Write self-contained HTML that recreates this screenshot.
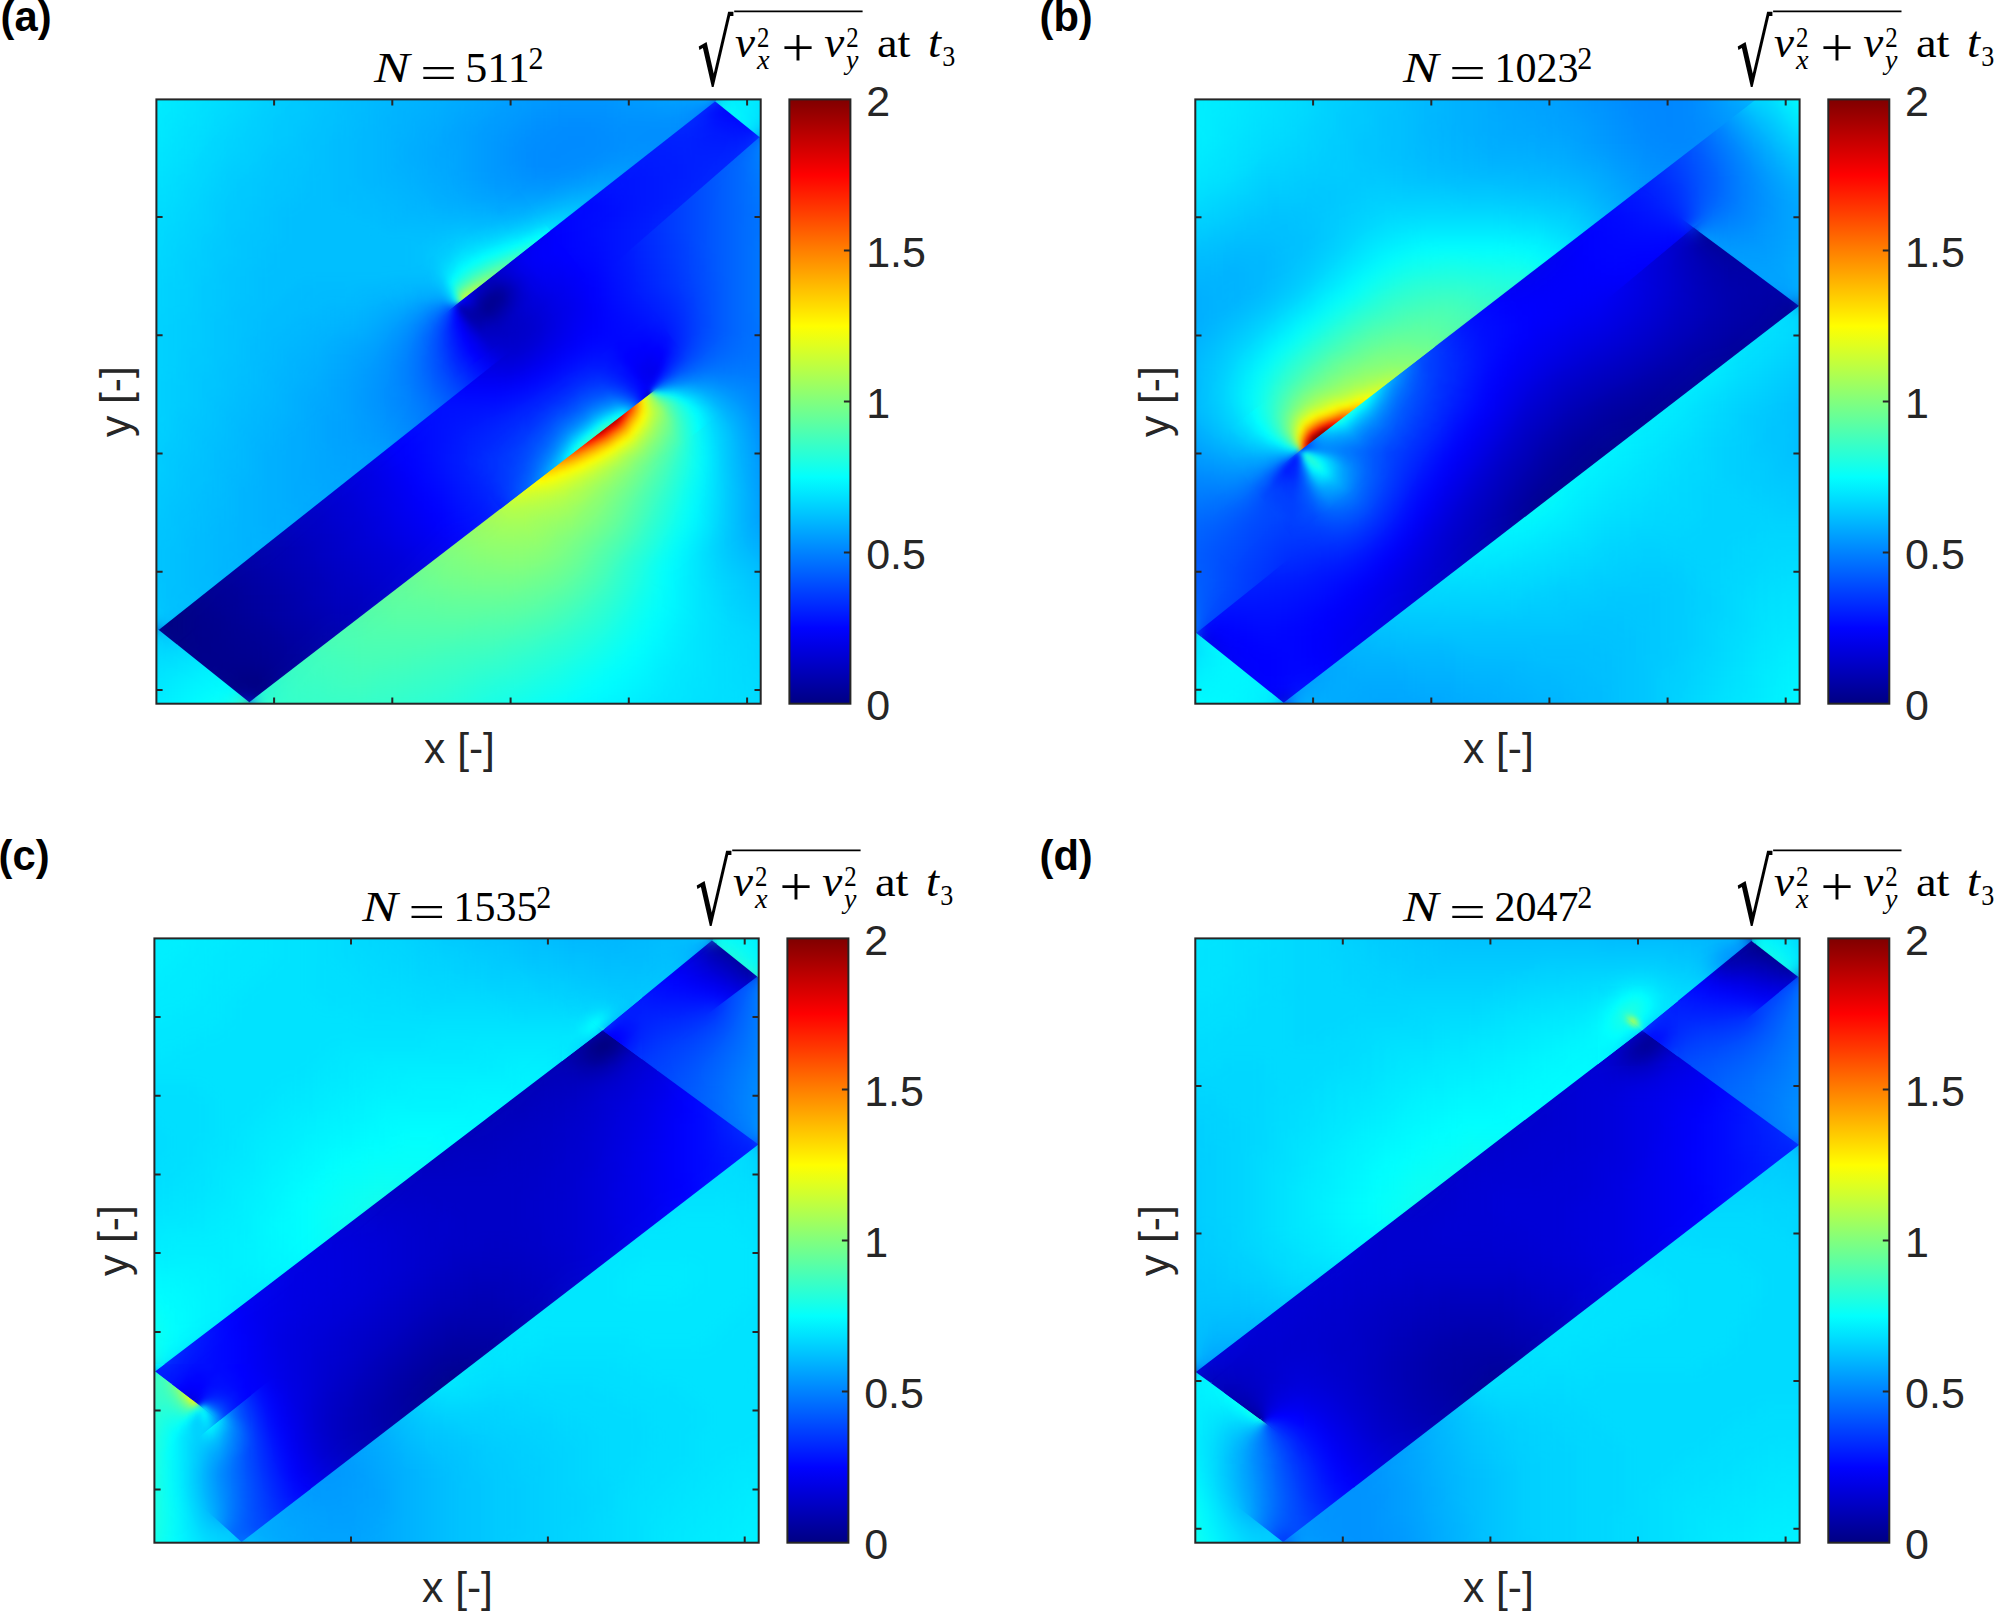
<!DOCTYPE html>
<html><head><meta charset="utf-8"><title>figure</title><style>html,body{margin:0;padding:0;background:#fff}svg{display:block}</style></head><body>
<svg width="1999" height="1611" viewBox="0 0 1999 1611">
<defs>
<filter id="bl24" filterUnits="userSpaceOnUse" x="-80" y="-80" width="765" height="765" color-interpolation-filters="sRGB"><feGaussianBlur stdDeviation="14"/></filter>
<filter id="bl12" filterUnits="userSpaceOnUse" x="-80" y="-80" width="765" height="765" color-interpolation-filters="sRGB"><feGaussianBlur stdDeviation="7.8"/></filter>
<filter id="bl8" filterUnits="userSpaceOnUse" x="-80" y="-80" width="765" height="765" color-interpolation-filters="sRGB"><feGaussianBlur stdDeviation="4.6"/></filter>
<filter id="bl6" filterUnits="userSpaceOnUse" x="-80" y="-80" width="765" height="765" color-interpolation-filters="sRGB"><feGaussianBlur stdDeviation="3.5"/></filter>
<filter id="bl5" filterUnits="userSpaceOnUse" x="-80" y="-80" width="765" height="765" color-interpolation-filters="sRGB"><feGaussianBlur stdDeviation="2.9"/></filter>
<filter id="bl4" filterUnits="userSpaceOnUse" x="-80" y="-80" width="765" height="765" color-interpolation-filters="sRGB"><feGaussianBlur stdDeviation="2.3"/></filter>
<filter id="bl3" filterUnits="userSpaceOnUse" x="-80" y="-80" width="765" height="765" color-interpolation-filters="sRGB"><feGaussianBlur stdDeviation="1.7"/></filter>
<clipPath id="ax"><rect x="0" y="0" width="604.3" height="604.3"/></clipPath>
<linearGradient id="cb" x1="0" y1="0" x2="0" y2="1"><stop offset="0%" stop-color="#800000"/><stop offset="3.1%" stop-color="#9f0000"/><stop offset="6.2%" stop-color="#bf0000"/><stop offset="9.4%" stop-color="#df0000"/><stop offset="12.5%" stop-color="#ff0000"/><stop offset="15.6%" stop-color="#ff1f00"/><stop offset="18.8%" stop-color="#ff3f00"/><stop offset="21.9%" stop-color="#ff5f00"/><stop offset="25%" stop-color="#ff7f00"/><stop offset="28.1%" stop-color="#ff9e00"/><stop offset="31.2%" stop-color="#ffbe00"/><stop offset="34.4%" stop-color="#ffde00"/><stop offset="37.5%" stop-color="#fffe00"/><stop offset="40.6%" stop-color="#e1ff1e"/><stop offset="43.8%" stop-color="#c1ff3e"/><stop offset="46.9%" stop-color="#a1ff5e"/><stop offset="50%" stop-color="#81ff7e"/><stop offset="53.1%" stop-color="#62ff9d"/><stop offset="56.2%" stop-color="#42ffbd"/><stop offset="59.4%" stop-color="#22ffdd"/><stop offset="62.5%" stop-color="#02fffd"/><stop offset="65.6%" stop-color="#00e2ff"/><stop offset="68.8%" stop-color="#00c2ff"/><stop offset="71.9%" stop-color="#00a2ff"/><stop offset="75%" stop-color="#0082ff"/><stop offset="78.1%" stop-color="#0063ff"/><stop offset="81.2%" stop-color="#0043ff"/><stop offset="84.4%" stop-color="#0023ff"/><stop offset="87.5%" stop-color="#0003ff"/><stop offset="90.6%" stop-color="#0000e3"/><stop offset="93.8%" stop-color="#0000c3"/><stop offset="96.9%" stop-color="#0000a3"/><stop offset="100%" stop-color="#000083"/></linearGradient>
<clipPath id="ca0"><polygon points="-2,-2 606.3,-2 606.3,606.3 -2,606.3"/></clipPath>
<clipPath id="ca1"><polygon points="606.3,205.8 606.3,606.3 97.3,606.3 91.8,601.9"/></clipPath>
<clipPath id="ca1p0"><polygon points="343.2,408.4 533.3,261.9 570.3,309.9 380.1,456.4"/></clipPath>
<clipPath id="ca2"><polygon points="94,601.9 88.3,606.3 -2,606.3 -2,563.4 20.8,543.5"/></clipPath>
<clipPath id="ca3"><polygon points="606.3,50 606.3,207.5 92.9,602.8 19.8,544.4 391.9,219.9"/></clipPath>
<clipPath id="ca3p0"><polygon points="534.2,263.1 344,409.5 306.9,361.3 497.1,214.8"/></clipPath>
<clipPath id="ca4"><polygon points="-2,565.3 -2,532.1 2.3,528.7 22,544.4"/></clipPath>
<clipPath id="ca5"><polygon points="1.2,529.6 415.3,201.4 20.9,545.3"/></clipPath>
<clipPath id="ca6"><polygon points="606.3,38.6 606.3,51.8 369.5,239.5 603,35.9"/></clipPath>
<clipPath id="ca7"><polygon points="604.1,36.8 392.8,221 2.3,530.5 -2,527.1 -2,439.4 558.8,0.3"/></clipPath>
<clipPath id="ca7p1"><polygon points="259.2,234.9 393.1,130.1 429.4,176.6 295.5,281.3"/></clipPath>
<clipPath id="ca8"><polygon points="561.8,-2 606.3,-2 606.3,34.9 603,37.7 557.7,1.2"/></clipPath>
<clipPath id="ca9"><polygon points="-2,-2 555.9,-2 559.9,1.2 -2,441.2"/></clipPath>
<clipPath id="ca9p1"><polygon points="393.9,131.2 260.1,236 227.8,194.6 361.7,89.9"/></clipPath>
<clipPath id="cb0"><polygon points="-2,-2 606.3,-2 606.3,606.3 -2,606.3"/></clipPath>
<clipPath id="cb1"><polygon points="606.3,206.7 606.3,606.3 92.1,606.3 87.2,602.4 603.7,204.7"/></clipPath>
<clipPath id="cb2"><polygon points="84.4,606.3 -2,606.3 -2,541.5 5.4,535.3 89.4,602.4"/></clipPath>
<clipPath id="cb3"><polygon points="4.3,536.2 258.2,325.5 502.4,129.4 604.9,205.6 88.3,603.3"/></clipPath>
<clipPath id="cb4"><polygon points="606.3,46 606.3,204.5 603.7,206.5 501.2,130.3"/></clipPath>
<clipPath id="cb5"><polygon points="-2,543.3 -2,534.4 1.1,531.9 6.5,536.2"/></clipPath>
<clipPath id="cb6"><polygon points="0,532.8 325.6,271.4 5.4,537.1"/></clipPath>
<clipPath id="cb7"><polygon points="503.5,130.3 191.7,380.7 498.2,126.3"/></clipPath>
<clipPath id="cb8"><polygon points="606.3,36.6 606.3,47.8 502.4,131.2 497.1,127.2"/></clipPath>
<clipPath id="cb9"><polygon points="445.4,87.1 499.3,127.2 259.1,326.6 1.1,533.7 -2,531.2 -2,431.6"/></clipPath>
<clipPath id="cb9p0"><polygon points="56.7,386.4 239,246 278.6,297.6 96.4,437.9"/></clipPath>
<clipPath id="cb10"><polygon points="-2,-2 325.5,-2 446.6,87.9 -2,433.4"/></clipPath>
<clipPath id="cb10p0"><polygon points="239.8,247.1 57.6,387.5 20.8,339.6 203,199.3"/></clipPath>
<clipPath id="cb11"><polygon points="561.1,-2 606.3,-2 606.3,38.4 498.2,128.1 444.2,88"/></clipPath>
<clipPath id="cb12"><polygon points="323.2,-2 563.4,-2 445.4,88.8"/></clipPath>
<clipPath id="cc0"><polygon points="-2,-2 606.3,-2 606.3,606.3 -2,606.3"/></clipPath>
<clipPath id="cc1"><polygon points="-2,495.2 -2,459.2 17.1,443.6 41.6,462.4"/></clipPath>
<clipPath id="cc1p0"><polygon points="0.6,457.1 17.1,443.6 41.6,462.4 0.6,493.3"/></clipPath>
<clipPath id="cc2"><polygon points="16,444.5 447.6,90.5 448,90.1 492.7,122.9 40.5,463.3"/></clipPath>
<clipPath id="cc2p0"><polygon points="16,444.5 39,425.6 90.5,425.6 40.5,463.3"/></clipPath>
<clipPath id="cc2p1"><polygon points="407.6,123.2 447.6,90.5 448,90.1 487.6,119.1 487.6,126.7 481.1,131.6 407.6,131.6"/></clipPath>
<clipPath id="cc3"><polygon points="446.9,91 447.6,90.5 561.7,3.5 605.1,38.2 491.5,123.7"/></clipPath>
<clipPath id="cc3p1"><polygon points="446.9,91 447.6,90.5 487.6,59.9 487.6,120.9"/></clipPath>
<clipPath id="cc4"><polygon points="229.6,606.3 89.9,606.3 86,602.8 155.3,549.4"/></clipPath>
<clipPath id="cc5"><polygon points="606.3,206 606.3,606.3 227.3,606.3 154.2,550.3 604,204.3"/></clipPath>
<clipPath id="cc6"><polygon points="83.7,606.3 -2,606.3 -2,533.6 5.5,527.7 88.2,602.8"/></clipPath>
<clipPath id="cc7"><polygon points="-2,535.4 -2,520.9 6.5,528.6"/></clipPath>
<clipPath id="cc8"><polygon points="64.9,480.2 156.5,550.3 87.1,603.7 4.3,528.5"/></clipPath>
<clipPath id="cc8p0"><polygon points="64.9,480.2 96.6,504.5 96.6,521.6 13,521.6"/></clipPath>
<clipPath id="cc9"><polygon points="-2,522.8 -2,493.5 40.5,461.5 66.1,481.1 5.4,529.5"/></clipPath>
<clipPath id="cc9p0"><polygon points="0.6,491.5 40.5,461.5 66.1,481.1 15.3,521.6 0.6,521.6"/></clipPath>
<clipPath id="cc10"><polygon points="503.3,130.6 605.2,205.2 155.3,551.2 63.8,481.1"/></clipPath>
<clipPath id="cc10p0"><polygon points="96.6,506.2 63.8,481.1 96.6,455"/></clipPath>
<clipPath id="cc11"><polygon points="39.3,462.4 491.5,122 504.5,131.5 65,482"/></clipPath>
<clipPath id="cc11p0"><polygon points="39.3,462.4 88.2,425.6 96.6,425.6 96.6,456.8 65,482"/></clipPath>
<clipPath id="cc11p1"><polygon points="478.8,131.6 487.6,124.9 487.6,131.6"/></clipPath>
<clipPath id="cc12"><polygon points="606.3,48.5 606.3,204.3 604,206.1 502.2,131.5"/></clipPath>
<clipPath id="cc13"><polygon points="606.3,39.1 606.3,50.3 503.3,132.4 490.4,122.9 604,37.3"/></clipPath>
<clipPath id="cc14"><polygon points="568.8,-2 606.3,-2 606.3,37.3 604,39.1 560.5,4.3"/></clipPath>
<clipPath id="cc15"><polygon points="-2,461 -2,433.3 0.8,431.1 18.2,444.4"/></clipPath>
<clipPath id="cc15p0"><polygon points="0.6,431.3 0.8,431.1 18.2,444.4 0.6,458.9"/></clipPath>
<clipPath id="cc16"><polygon points="-0.4,432 448,90.1 449.1,91 17.1,445.4"/></clipPath>
<clipPath id="cc16p0"><polygon points="0.6,431.3 8,425.6 41.2,425.6 17.1,445.4 0.6,432.7"/></clipPath>
<clipPath id="cc16p1"><polygon points="407.6,120.9 448,90.1 449.1,91 407.6,125"/></clipPath>
<clipPath id="cc17"><polygon points="562.8,4.4 448,91.9 446.9,91 557.6,0.2"/></clipPath>
<clipPath id="cc17p1"><polygon points="487.6,61.7 448,91.9 446.9,91 487.6,57.6"/></clipPath>
<clipPath id="cc18"><polygon points="560.3,-2 571.1,-2 561.6,5.2 556.5,1.1"/></clipPath>
<clipPath id="cc19"><polygon points="-2,-2 322.1,-2 449.1,91 448.4,91.5 0.8,432.9 -2,430.7"/></clipPath>
<clipPath id="cc19p0"><polygon points="10.3,425.6 0.8,432.9 0.6,432.7 0.6,425.6"/></clipPath>
<clipPath id="cc19p1"><polygon points="407.6,60.6 449.1,91 448.4,91.5 407.6,122.7"/></clipPath>
<clipPath id="cc20"><polygon points="319.8,-2 554.8,-2 558.7,1.1 448.4,91.5 448,91.9"/></clipPath>
<clipPath id="cc20p1"><polygon points="487.6,59.4 448.4,91.5 448,91.9 407.6,62.3 407.6,51.6 487.6,51.6"/></clipPath>
<clipPath id="cd0"><polygon points="-2,-2 606.3,-2 606.3,606.3 -2,606.3"/></clipPath>
<clipPath id="cd1"><polygon points="-2,533.6 -2,456.8 15.3,442.7 67.8,481 1.1,536"/></clipPath>
<clipPath id="cd1p0"><polygon points="28.7,452.5 67.8,481 28.7,513.3"/></clipPath>
<clipPath id="cd2"><polygon points="14.2,443.6 446.3,90.5 446.7,90.1 497.2,127 66.7,482"/></clipPath>
<clipPath id="cd2p0"><polygon points="108.7,447.3 66.7,482 28.7,454.2 28.7,445.6 108.7,445.6"/></clipPath>
<clipPath id="cd2p1"><polygon points="402.7,126.1 446.3,90.5 446.7,90.1 482.7,116.4 482.7,127.6 402.7,127.6"/></clipPath>
<clipPath id="cd3"><polygon points="445.6,91 446.3,90.5 559.7,3.5 604.8,38.3 496.1,127.9"/></clipPath>
<clipPath id="cd3p1"><polygon points="445.6,91 446.3,90.5 482.7,62.5 482.7,118.1"/></clipPath>
<clipPath id="cd4"><polygon points="239.2,606.3 91,606.3 86.6,602.8 158.6,547.4"/></clipPath>
<clipPath id="cd5"><polygon points="606.3,206.6 606.3,606.3 236.9,606.3 157.4,548.3 603.7,204.7"/></clipPath>
<clipPath id="cd6"><polygon points="84.3,606.3 -2,606.3 -2,536.8 1,534.2 88.8,602.8"/></clipPath>
<clipPath id="cd7"><polygon points="-0.1,535.2 66.6,480.2 159.7,548.2 87.7,603.7"/></clipPath>
<clipPath id="cd7p0"><polygon points="28.7,511.4 66.6,480.2 108.7,510.9 108.7,525.6 28.7,525.6"/></clipPath>
<clipPath id="cd8"><polygon points="65.5,481.1 496,126.2 604.9,205.6 158.6,549.1"/></clipPath>
<clipPath id="cd8p0"><polygon points="65.5,481.1 108.6,445.6 108.7,445.6 108.7,512.7"/></clipPath>
<clipPath id="cd9"><polygon points="606.3,39.4 606.3,204.5 603.7,206.5 494.9,127.1 603.7,37.4"/></clipPath>
<clipPath id="cd10"><polygon points="566.9,-2 606.3,-2 606.3,37.1 603.7,39.2 558.6,4.4"/></clipPath>
<clipPath id="cd11"><polygon points="-2,458.6 -2,433.9 0.6,431.9 16.4,443.5"/></clipPath>
<clipPath id="cd12"><polygon points="-0.6,432.8 446.7,90.1 447.8,91 15.3,444.4"/></clipPath>
<clipPath id="cd12p1"><polygon points="402.7,123.8 446.7,90.1 447.8,91 403,127.6 402.7,127.6"/></clipPath>
<clipPath id="cd13"><polygon points="560.9,4.4 446.7,91.9 445.6,91 556.1,0.7"/></clipPath>
<clipPath id="cd13p1"><polygon points="482.7,64.3 446.7,91.9 445.6,91 482.7,60.7"/></clipPath>
<clipPath id="cd14"><polygon points="559.4,-2 569.2,-2 559.7,5.3 555,1.6"/></clipPath>
<clipPath id="cd15"><polygon points="-2,-2 320.5,-2 447.8,91 447.1,91.5 0.6,433.7 -2,431.8"/></clipPath>
<clipPath id="cd15p1"><polygon points="402.7,58 447.8,91 447.1,91.5 402.7,125.6"/></clipPath>
<clipPath id="cd16"><polygon points="318.1,-2 552.6,-2 557.2,1.6 447.1,91.5 446.7,91.9"/></clipPath>
<clipPath id="cd16p1"><polygon points="482.7,62.5 447.1,91.5 446.7,91.9 402.7,59.7 402.7,47.6 482.7,47.6"/></clipPath>
</defs>
<g transform="translate(156.4 99.4)" clip-path="url(#ax)" fill="none">
<g clip-path="url(#ca0)"><g filter="url(#bl24)" stroke-width="24.3">
<path stroke="#00008b" d="M24 516h48M24 540h48M48 564h72M72 588h48"/>
<path stroke="#00009b" d="M48 492h48M72 516h48M72 540h72M120 564h24"/>
<path stroke="#0000ab" d="M312 204h48M72 468h48M96 492h48M120 516h48M144 540h24"/>
<path stroke="#0000bb" d="M312 228h24M120 444h48M120 468h48M144 492h48M168 516h48"/>
<path stroke="#0000cb" d="M336 180h24M336 228h48M336 252h24M144 420h48M168 444h24M168 468h48M192 492h48"/>
<path stroke="#0000db" d="M360 204h24M384 228h24M360 252h24M192 372h24M168 396h48M192 420h24M192 444h48M216 468h48"/>
<path stroke="#0000eb" d="M360 180h24M384 204h48M312 252h24M384 252h24M312 276h48M480 276h24M216 372h24M216 396h24M216 420h48M240 444h48"/>
<path stroke="#0000fb" d="M384 132h24M360 156h48M384 180h48M432 204h24M408 228h48M480 252h24M360 276h24M240 372h24M240 396h24M264 420h24"/>
<path stroke="#000cff" d="M552 12h24M432 108h24M408 132h48M408 156h48M432 180h24M288 204h24M456 204h24M288 228h24M456 228h48M408 252h72M384 276h24M456 276h24M288 300h72M264 324h24M240 348h48M264 372h24M264 396h48M288 420h24"/>
<path stroke="#001cff" d="M528 36h72M480 60h72M456 84h96M456 108h72M456 132h48M456 156h24M456 180h24M480 204h24M504 228h24M288 252h24M504 252h24M408 276h24M360 300h24M288 324h48M288 348h24M288 372h24M312 396h24M312 420h24"/>
<path stroke="#002cff" d="M504 36h24M552 60h24M480 156h24M480 180h24M504 204h24M432 276h24M384 300h24M336 324h48M312 348h24M312 372h24"/>
<path stroke="#003cff" d="M504 132h24M504 156h24M504 180h24M528 228h24M288 276h24M336 348h24M336 372h24M336 396h24"/>
<path stroke="#004cff" d="M528 108h24M528 132h24M528 156h24M528 180h24M528 204h24M528 252h24M504 276h24M408 300h24M384 324h24M360 348h24"/>
<path stroke="#005cff" d="M552 84h24M552 108h24M552 132h24M552 156h24M552 180h24M552 204h24M552 228h24M264 252h24M264 276h24M360 372h24"/>
<path stroke="#006cff" d="M576 60h24M576 84h24M576 108h24M576 132h24M576 156h24M576 180h24M576 204h24M264 228h24M576 228h24M552 252h48M264 300h24M432 300h48"/>
<path stroke="#007cff" d="M600 84h24M600 108h24M600 132h24M600 156h24M600 180h24M600 204h24M600 228h48M240 252h24M600 252h48M240 276h24M528 276h120M600 300h48M624 324h24M384 348h24M624 348h24M624 372h24M624 396h24"/>
<path stroke="#008bff" d="M528 12h24M360 36h144M360 60h96M600 60h24M624 84h24M624 108h24M624 132h24M624 156h24M624 180h24M624 204h24M240 228h24M216 300h48M576 300h24M240 324h24M408 324h24M600 324h24M600 348h24M624 420h24"/>
<path stroke="#009bff" d="M360 -12h120M336 12h192M312 36h48M312 60h48M456 60h24M624 60h24M312 84h120M264 204h24M216 252h24M192 276h48M192 300h24M192 324h48M192 348h48M600 372h24M600 396h24M600 420h24M624 444h24"/>
<path stroke="#00abff" d="M312 -36h192M288 -12h72M480 -12h48M264 12h72M240 36h72M240 60h72M264 84h48M432 84h24M288 108h96M240 204h24M192 228h48M168 252h48M144 276h48M120 300h72M552 300h24M120 324h72M576 324h24M120 348h72M576 348h24M120 372h72M576 372h24M120 396h48M120 420h24M600 444h24M624 468h24"/>
<path stroke="#00bbff" d="M192 -36h120M504 -36h24M192 -12h96M528 -12h24M168 12h96M168 36h72M624 36h24M144 60h96M144 84h120M120 108h168M384 108h24M120 132h192M120 156h144M96 180h192M96 204h144M96 228h96M72 252h96M72 276h72M72 300h48M48 324h72M48 348h72M48 372h72M24 396h96M576 396h24M24 420h96M576 420h24M24 444h96M576 444h24M24 468h48M600 468h24M24 492h24M624 492h24M0 516h24"/>
<path stroke="#00cbff" d="M120 -36h72M528 -36h24M120 -12h72M96 12h72M96 36h72M600 36h24M72 60h72M48 84h96M48 108h72M408 108h24M24 132h96M312 132h48M24 156h96M264 156h24M24 180h72M0 204h96M0 228h96M0 252h72M0 276h72M0 300h72M0 324h48M552 324h24M-24 348h72M-24 372h72M-48 396h72M-48 420h72M-48 444h72M552 444h24M-48 468h72M576 468h24M-48 492h72M576 492h48M-48 516h24M600 516h48M0 540h24M624 540h24"/>
<path stroke="#00dbff" d="M72 -36h48M552 -36h24M48 -12h72M48 12h48M600 12h48M24 36h72M24 60h48M0 84h48M-24 108h72M-48 132h72M360 132h24M-48 156h72M288 156h24M-48 180h72M-48 204h48M-48 228h48M-48 252h48M-48 276h48M-48 300h48M528 300h24M-48 324h48M-48 348h24M552 348h24M-48 372h24M552 372h24M552 396h24M552 420h24M552 468h24M552 492h24M-24 516h24M552 516h48M-48 540h48M552 540h72M-48 564h72M552 564h96M-48 588h24M552 588h96M552 612h96M504 636h144"/>
<path stroke="#00ebff" d="M0 -36h72M576 -36h72M-24 -12h72M552 -12h96M-24 12h72M576 12h24M-48 36h72M-48 60h72M-48 84h48M-48 108h24M528 444h24M528 468h24M528 492h24M528 516h24M504 540h48M24 564h24M504 564h48M-24 588h48M480 588h72M-48 612h48M456 612h96M-48 636h48M432 636h72"/>
<path stroke="#00fbff" d="M-48 -36h48M-48 -12h24M-48 12h24M312 156h24M432 324h24M528 396h24M528 420h24M504 468h24M504 492h24M504 516h24M480 540h24M456 564h48M24 588h48M432 588h48M0 612h48M408 612h48M0 636h24M360 636h72"/>
<path stroke="#0cfff3" d="M288 180h24M528 324h24M408 348h24M528 348h24M528 372h24M504 444h24M480 492h24M480 516h24M456 540h24M432 564h24M384 588h48M48 612h24M360 612h48M24 636h24M312 636h48"/>
<path stroke="#1cffe3" d="M336 156h24M504 420h24M480 468h24M456 516h24M432 540h24M384 564h48M336 588h48M288 612h72M48 636h24M264 636h48"/>
<path stroke="#2cffd3" d="M504 300h24M504 396h24M480 444h24M456 468h24M456 492h24M432 516h24M408 540h24M336 564h48M288 588h48M72 612h24M216 612h72M72 636h192"/>
<path stroke="#3cffc3" d="M504 372h24M480 420h24M432 492h24M408 516h24M360 540h48M144 564h24M264 564h72M120 588h168M96 612h120"/>
<path stroke="#4cffb3" d="M504 348h24M480 396h24M456 444h24M432 468h24M408 492h24M384 516h24M168 540h192M168 564h96"/>
<path stroke="#5cffa3" d="M504 324h24M480 372h24M456 420h24M432 444h24M384 492h24M216 516h168"/>
<path stroke="#6cff93" d="M312 180h24M456 396h24M408 468h24M240 492h144"/>
<path stroke="#7cff83" d="M432 420h24M408 444h24M264 468h72M360 468h48"/>
<path stroke="#8bff74" d="M480 348h24M456 372h24M432 396h24M408 420h24M288 444h48M384 444h24M336 468h24"/>
<path stroke="#9bff64" d="M384 420h24M336 444h48"/>
<path stroke="#abff54" d="M408 396h24M336 420h48"/>
<path stroke="#bbff44" d="M432 372h24"/>
<path stroke="#cbff34" d="M480 300h24M480 324h24M360 396h48"/>
<path stroke="#dbff24" d="M456 348h24"/>
<path stroke="#ebff14" d="M408 372h24"/>
<path stroke="#ffd300" d="M384 372h24"/>
<path stroke="#ffb300" d="M432 348h24"/>
<path stroke="#ff6400" d="M456 324h24"/>
</g></g>
<g clip-path="url(#ca1)"><g filter="url(#bl12)" stroke-width="12.3">
<path stroke="#000087" d="M72 594h12"/>
<path stroke="#00008f" d="M60 594h12"/>
<path stroke="#000093" d="M60 606h12"/>
<path stroke="#000097" d="M72 606h12"/>
<path stroke="#0000a3" d="M72 618h12"/>
<path stroke="#0000ef" d="M492 270h12"/>
<path stroke="#0000f7" d="M492 282h12"/>
<path stroke="#0000fb" d="M480 270h12M84 606h12"/>
<path stroke="#000cff" d="M504 258h12"/>
<path stroke="#001cff" d="M504 270h12"/>
<path stroke="#0024ff" d="M516 246h12"/>
<path stroke="#002cff" d="M516 258h12"/>
<path stroke="#0038ff" d="M528 234h12"/>
<path stroke="#003cff" d="M528 246h12"/>
<path stroke="#0048ff" d="M540 222h12M540 234h12M528 258h12M516 270h12"/>
<path stroke="#0050ff" d="M540 246h12"/>
<path stroke="#0054ff" d="M552 222h12M552 234h12"/>
<path stroke="#0058ff" d="M540 258h12M504 282h12"/>
<path stroke="#005cff" d="M552 246h12"/>
<path stroke="#0060ff" d="M564 210h12M564 222h12M564 234h12M528 270h12"/>
<path stroke="#0064ff" d="M564 246h12M552 258h12"/>
<path stroke="#0068ff" d="M576 198h12M576 210h12M576 222h12M576 234h12"/>
<path stroke="#006cff" d="M576 246h12M564 258h12M540 270h12"/>
<path stroke="#0070ff" d="M588 186h12M588 198h12M588 210h12M588 222h12M588 234h12M588 246h12M576 258h12"/>
<path stroke="#0074ff" d="M600 222h12M600 234h12M600 246h12M588 258h24M552 270h24M624 282h12M624 294h12"/>
<path stroke="#0078ff" d="M600 186h12M600 198h12M600 210h12M612 234h12M612 246h24M612 258h24M576 270h60M612 282h12M624 306h12M624 318h12M624 330h12"/>
<path stroke="#007cff" d="M612 198h12M612 210h12M612 222h12M624 234h12M516 282h12M600 282h12M612 294h12M612 306h12M624 342h12M624 354h12"/>
<path stroke="#0080ff" d="M612 186h12M624 210h12M624 222h12M588 282h12M600 294h12M612 318h12M624 366h12M624 378h12"/>
<path stroke="#0083ff" d="M624 186h12M624 198h12M564 282h24M600 306h12M612 330h12M624 390h12"/>
<path stroke="#0087ff" d="M528 282h12M552 282h12M588 294h12M600 318h12M612 342h12M612 354h12M624 402h12"/>
<path stroke="#008bff" d="M540 282h12M612 366h12M612 378h12"/>
<path stroke="#008fff" d="M576 294h12M588 306h12M600 330h12M612 390h12M612 402h12M624 414h12"/>
<path stroke="#0093ff" d="M600 342h12M600 354h12M612 414h12"/>
<path stroke="#0097ff" d="M564 294h12M588 318h12M600 366h12M624 426h12"/>
<path stroke="#009bff" d="M576 306h12M588 330h12M600 378h12M600 390h12M612 426h12"/>
<path stroke="#009fff" d="M588 342h12M600 402h12M600 414h12M624 438h12"/>
<path stroke="#00a3ff" d="M552 294h12M588 354h12M600 426h12M612 438h12M624 450h12"/>
<path stroke="#00a7ff" d="M564 306h12M576 318h12M588 366h12M588 378h12"/>
<path stroke="#00abff" d="M588 390h12M588 402h12M588 414h12M588 426h12M600 438h12M612 450h12M624 462h12"/>
<path stroke="#00afff" d="M576 330h12M588 438h12M600 450h12"/>
<path stroke="#00b3ff" d="M540 294h12M576 342h12M576 354h12M612 462h12M624 474h12"/>
<path stroke="#00b7ff" d="M564 318h12M576 366h12M576 378h12M588 450h12M600 462h12M612 474h12"/>
<path stroke="#00bbff" d="M552 306h12M576 390h12M576 402h12M576 414h12M576 426h12M576 438h12M624 486h12"/>
<path stroke="#00bfff" d="M576 450h12M588 462h12M600 474h12M612 486h12M624 498h12"/>
<path stroke="#00c3ff" d="M528 294h12M564 330h12M576 462h12M588 474h12M600 486h12M612 498h12"/>
<path stroke="#00c7ff" d="M564 342h12M564 354h12M564 366h12M564 438h12M564 450h12M588 486h12M600 498h12M612 510h24"/>
<path stroke="#00cbff" d="M564 378h12M564 390h12M564 402h12M564 414h12M564 426h12M564 462h12M576 474h12M588 498h12M600 510h12M624 522h12"/>
<path stroke="#00cfff" d="M552 318h12M564 474h12M576 486h12M576 498h12M588 510h12M600 522h24M612 534h24"/>
<path stroke="#00d3ff" d="M552 450h12M564 486h12M576 510h12M588 522h12M600 534h12M612 546h24M624 558h12"/>
<path stroke="#00d7ff" d="M516 294h12M540 306h12M552 330h12M552 438h12M552 462h12M552 474h12M564 498h12M564 510h12M576 522h12M576 534h24M588 546h24M588 558h36M600 570h36M612 582h24M624 594h12"/>
<path stroke="#00dbff" d="M552 342h12M552 414h12M552 426h12M552 486h12M552 498h12M564 522h12M564 534h12M564 546h24M576 558h12M576 570h24M576 582h36M588 594h36M588 606h48M588 618h48M600 630h36"/>
<path stroke="#00dfff" d="M552 354h12M552 366h12M552 378h12M552 390h12M552 402h12M540 450h12M540 462h12M540 474h12M552 510h12M552 522h12M552 534h12M552 546h12M552 558h24M552 570h24M552 582h24M552 594h36M540 606h48M540 618h48M528 630h72"/>
<path stroke="#00e3ff" d="M540 486h12M540 498h12M540 510h12M540 522h12M540 534h12M540 546h12M540 558h12M540 570h12M528 582h24M528 594h24M516 606h24M504 618h36M492 630h36"/>
<path stroke="#00e7ff" d="M540 438h12M528 534h12M528 546h12M528 558h12M516 570h24M516 582h12M504 594h24M492 606h24M480 618h24M468 630h24"/>
<path stroke="#00ebff" d="M504 294h12M540 426h12M528 462h12M528 474h12M528 486h12M528 498h12M528 510h12M528 522h12M516 546h12M516 558h12M504 570h12M504 582h12M492 594h12M480 606h12M468 618h12M444 630h24"/>
<path stroke="#00efff" d="M540 318h12M540 402h12M540 414h12M528 450h12M516 522h12M516 534h12M504 558h12M492 570h12M492 582h12M480 594h12M468 606h12M444 618h24M432 630h12"/>
<path stroke="#00f3ff" d="M540 330h12M540 390h12M528 438h12M516 474h12M516 486h12M516 498h12M516 510h12M504 534h12M504 546h12M492 558h12M480 582h12M468 594h12M444 606h24M432 618h12M420 630h12"/>
<path stroke="#00f7ff" d="M540 342h12M540 378h12M516 462h12M504 522h12M492 546h12M480 570h12M468 582h12M456 594h12M432 606h12M420 618h12M408 630h12"/>
<path stroke="#00fbff" d="M528 306h12M540 354h12M540 366h12M528 426h12M516 450h12M504 498h12M504 510h12M492 534h12M480 558h12M468 570h12M456 582h12M444 594h12M420 606h12M408 618h12M384 630h24"/>
<path stroke="#00ffff" d="M528 414h12M504 474h12M504 486h12M492 522h12M480 546h12M468 558h12M456 570h12M444 582h12M432 594h12M408 606h12M396 618h12M372 630h12"/>
<path stroke="#04fffb" d="M528 402h12M516 438h12M504 462h12M492 510h12M480 534h12M468 546h12M444 570h12M432 582h12M420 594h12M396 606h12M384 618h12M360 630h12"/>
<path stroke="#08fff7" d="M528 390h12M492 498h12M480 522h12M456 558h12M420 582h12M408 594h12M384 606h12M372 618h12M348 630h12"/>
<path stroke="#0cfff3" d="M516 426h12M504 450h12M492 474h12M492 486h12M480 510h12M468 534h12M456 546h12M444 558h12M432 570h12M396 594h12M372 606h12M348 618h24M336 630h12"/>
<path stroke="#10ffef" d="M528 378h12M516 414h12M492 462h12M480 498h12M468 522h12M420 570h12M408 582h12M384 594h12M360 606h12M324 630h12"/>
<path stroke="#14ffeb" d="M528 318h12M528 366h12M504 438h12M456 534h12M444 546h12M432 558h12M408 570h12M396 582h12M84 594h12M372 594h12M348 606h12M336 618h12M312 630h12"/>
<path stroke="#18ffe7" d="M528 330h12M528 342h12M528 354h12M516 402h12M480 486h12M468 510h12M456 522h12M420 558h12M384 582h12M360 594h12M336 606h12M312 618h24M300 630h12"/>
<path stroke="#1cffe3" d="M516 390h12M504 426h12M492 450h12M480 474h12M468 498h12M444 534h12M432 546h12M396 570h12M372 582h12M348 594h12M324 606h12M300 618h12M288 630h12"/>
<path stroke="#20ffdf" d="M480 462h12M456 510h12M420 546h12M408 558h12M384 570h12M360 582h12M96 594h12M324 594h24M312 606h12M288 618h12M276 630h12"/>
<path stroke="#24ffdb" d="M516 378h12M504 414h12M492 438h12M468 486h12M444 522h12M432 534h12M396 558h12M372 570h12M336 582h24M312 594h12M300 606h12M276 618h12M252 630h24"/>
<path stroke="#28ffd7" d="M492 294h12M516 306h12M504 402h12M468 474h12M456 498h12M420 534h12M408 546h12M384 558h12M360 570h12M84 582h24M324 582h12M300 594h12M276 606h24M252 618h24M240 630h12"/>
<path stroke="#2cffd3" d="M516 366h12M492 426h12M480 450h12M468 462h12M444 510h12M432 522h12M396 546h12M372 558h12M348 570h12M312 582h12M108 594h12M288 594h12M264 606h12M240 618h12M84 630h12M216 630h24"/>
<path stroke="#30ffcf" d="M456 486h12M408 534h12M384 546h12M360 558h12M96 570h12M324 570h24M108 582h12M300 582h12M264 594h24M108 606h12M240 606h24M216 618h24M180 630h36"/>
<path stroke="#34ffcb" d="M516 354h12M504 390h12M492 414h12M480 438h12M456 474h12M444 498h12M432 510h12M420 522h12M348 558h12M108 570h12M312 570h12M120 582h12M276 582h24M120 594h12M240 594h24M96 606h12M120 606h24M204 606h36M108 618h108M96 630h84"/>
<path stroke="#38ffc7" d="M468 450h12M396 534h12M372 546h12M108 558h12M324 558h24M120 570h12M288 570h24M132 582h12M252 582h24M132 594h36M216 594h24M144 606h60M84 618h12"/>
<path stroke="#3cffc3" d="M516 318h12M504 378h12M492 402h12M480 426h12M456 462h12M444 486h12M432 498h12M420 510h12M408 522h12M384 534h12M120 546h12M348 546h24M120 558h24M300 558h24M132 570h24M264 570h24M144 582h36M216 582h36M168 594h48M96 618h12"/>
<path stroke="#40ffbf" d="M396 522h12M372 534h12M132 546h12M336 546h12M144 558h24M276 558h24M156 570h36M228 570h36M180 582h36"/>
<path stroke="#44ffbb" d="M516 330h12M516 342h12M504 366h12M492 390h12M468 438h12M444 474h12M408 510h12M144 534h12M360 534h12M144 546h24M300 546h36M168 558h24M252 558h24M192 570h36"/>
<path stroke="#48ffb7" d="M480 414h12M456 450h12M432 486h12M420 498h12M384 522h12M156 534h12M348 534h12M168 546h24M276 546h24M192 558h60"/>
<path stroke="#4cffb3" d="M480 402h12M444 462h12M396 510h12M156 522h24M372 522h12M168 534h36M312 534h36M192 546h84"/>
<path stroke="#50ffaf" d="M492 378h12M468 426h12M432 474h12M420 486h12M408 498h12M168 510h12M180 522h24M360 522h12M204 534h108"/>
<path stroke="#54ffab" d="M504 354h12M456 438h12M444 450h12M180 510h24M384 510h12M204 522h24M324 522h36"/>
<path stroke="#58ffa7" d="M480 390h12M468 414h12M432 462h12M192 498h12M396 498h12M204 510h24M372 510h12M228 522h96"/>
<path stroke="#5cffa3" d="M492 366h12M420 474h12M408 486h12M204 498h24M384 498h12M228 510h48M348 510h24"/>
<path stroke="#60ff9f" d="M504 306h12M468 402h12M456 426h12M444 438h12M432 450h12M204 486h24M228 498h24M276 510h72"/>
<path stroke="#64ff9b" d="M504 342h12M480 378h12M420 462h12M216 474h12M408 474h12M228 486h24M396 486h12M252 498h36M360 498h24"/>
<path stroke="#68ff97" d="M456 414h12M228 474h24M252 486h12M384 486h12M288 498h72"/>
<path stroke="#6cff93" d="M468 390h12M444 426h12M432 438h12M420 450h12M252 474h12M396 474h12M264 486h24M372 486h12"/>
<path stroke="#70ff8f" d="M492 354h12M456 402h12M240 462h12M408 462h12M264 474h12M288 486h24M360 486h12"/>
<path stroke="#74ff8b" d="M504 330h12M480 366h12M252 462h12M276 474h12M384 474h12M312 486h48"/>
<path stroke="#78ff87" d="M444 414h12M420 438h12M252 450h12M408 450h12M264 462h24M396 462h12M288 474h24M372 474h12"/>
<path stroke="#7cff83" d="M504 318h12M468 378h12M456 390h12M432 426h12M264 450h12M288 462h12M312 474h60"/>
<path stroke="#80ff80" d="M444 402h12M264 438h12M408 438h12M276 450h12M396 450h12M300 462h12M384 462h12"/>
<path stroke="#83ff7c" d="M492 342h12M432 414h12M420 426h12M276 438h12M288 450h12M312 462h24M372 462h12"/>
<path stroke="#87ff78" d="M276 426h12M288 438h12M396 438h12M300 450h12M384 450h12M336 462h36"/>
<path stroke="#8bff74" d="M312 450h12M372 450h12"/>
<path stroke="#8fff70" d="M480 354h12M468 366h12M456 378h12M444 390h12M432 402h12M420 414h12M288 426h12M408 426h12M300 438h12M384 438h12M324 450h48"/>
<path stroke="#93ff6c" d="M300 426h12M396 426h12M312 438h12"/>
<path stroke="#97ff68" d="M324 438h24M360 438h24"/>
<path stroke="#9bff64" d="M492 330h12M300 414h12M408 414h12M312 426h12M384 426h12M348 438h12"/>
<path stroke="#9fff60" d="M432 390h12M420 402h12M324 426h12M372 426h12"/>
<path stroke="#a3ff5c" d="M444 378h12M312 414h12M396 414h12M336 426h36"/>
<path stroke="#a7ff58" d="M456 366h12M312 402h12M408 402h12M384 414h12"/>
<path stroke="#abff54" d="M492 306h12M480 342h12M468 354h12M324 414h12M372 414h12"/>
<path stroke="#afff50" d="M420 390h12M324 402h12M336 414h36"/>
<path stroke="#b3ff4c" d="M492 318h12M396 402h12"/>
<path stroke="#b7ff48" d="M432 378h12M324 390h12M336 402h12M384 402h12"/>
<path stroke="#bbff44" d="M408 390h12"/>
<path stroke="#bfff40" d="M372 402h12"/>
<path stroke="#c3ff3c" d="M444 366h12M360 402h12"/>
<path stroke="#c7ff38" d="M336 390h12M348 402h12"/>
<path stroke="#cbff34" d="M420 378h12M396 390h12"/>
<path stroke="#cfff30" d="M456 354h12"/>
<path stroke="#d3ff2c" d="M480 330h12M348 390h12"/>
<path stroke="#d7ff28" d="M384 390h12"/>
<path stroke="#dbff24" d="M372 390h12"/>
<path stroke="#dfff20" d="M468 342h12M432 366h12M408 378h12"/>
<path stroke="#e3ff1c" d="M348 378h12M360 390h12"/>
<path stroke="#f3ff0c" d="M360 378h12M396 378h12"/>
<path stroke="#fbff04" d="M444 354h12"/>
<path stroke="#ffff00" d="M480 282h12M480 318h12M420 366h12"/>
<path stroke="#fffb00" d="M480 294h12M360 366h12"/>
<path stroke="#fff700" d="M372 378h12"/>
<path stroke="#fff300" d="M384 378h12"/>
<path stroke="#ffe700" d="M480 306h12M456 342h12"/>
<path stroke="#ffdb00" d="M468 330h12M372 366h12M408 366h12"/>
<path stroke="#ffd300" d="M432 354h12"/>
<path stroke="#ffc300" d="M372 354h12"/>
<path stroke="#ffbf00" d="M384 366h12"/>
<path stroke="#ffb700" d="M396 366h12"/>
<path stroke="#ffb300" d="M468 282h12"/>
<path stroke="#ffa700" d="M384 354h12"/>
<path stroke="#ff9b00" d="M420 354h12"/>
<path stroke="#ff9700" d="M444 342h12"/>
<path stroke="#ff8700" d="M468 318h12"/>
<path stroke="#ff8000" d="M396 354h12"/>
<path stroke="#ff7400" d="M468 294h12"/>
<path stroke="#ff6c00" d="M456 330h12"/>
<path stroke="#ff5c00" d="M396 342h12M408 354h12"/>
<path stroke="#ff4000" d="M432 342h12"/>
<path stroke="#ff3400" d="M468 306h12M408 342h12"/>
<path stroke="#ff0c00" d="M408 330h12M420 342h12"/>
<path stroke="#ff0400" d="M456 294h12"/>
<path stroke="#df0000" d="M420 330h12M444 330h12"/>
<path stroke="#db0000" d="M456 306h12"/>
<path stroke="#b30000" d="M420 318h12M456 318h12"/>
<path stroke="#af0000" d="M432 330h12"/>
<path stroke="#930000" d="M432 318h12"/>
<path stroke="#8f0000" d="M444 318h12"/>
<path stroke="#870000" d="M444 306h12"/>
<path stroke="#830000" d="M432 306h12"/>
</g></g>
<g clip-path="url(#ca1p0)"><g filter="url(#bl4)" stroke-width="4.3">
<path stroke="#0000f7" d="M496 282h4"/>
<path stroke="#0008ff" d="M500 278h4M492 286h4"/>
<path stroke="#000cff" d="M488 286h4"/>
<path stroke="#0014ff" d="M504 274h4M492 290h4"/>
<path stroke="#0018ff" d="M496 286h4"/>
<path stroke="#001cff" d="M508 270h4"/>
<path stroke="#0020ff" d="M500 282h4"/>
<path stroke="#0024ff" d="M504 278h4"/>
<path stroke="#0028ff" d="M508 274h4"/>
<path stroke="#002cff" d="M512 270h4"/>
<path stroke="#0030ff" d="M516 266h4"/>
<path stroke="#0034ff" d="M520 262h4"/>
<path stroke="#0038ff" d="M524 258h4M512 274h4M508 278h4"/>
<path stroke="#003cff" d="M524 262h4M520 266h4M516 270h4M504 282h4"/>
<path stroke="#0040ff" d="M528 258h4"/>
<path stroke="#0044ff" d="M532 254h4M500 286h4"/>
<path stroke="#0048ff" d="M532 258h4M528 262h4M524 266h4M520 270h4M516 274h4"/>
<path stroke="#004cff" d="M512 278h4"/>
<path stroke="#0050ff" d="M536 258h4M532 262h4M528 266h4M524 270h4"/>
<path stroke="#0054ff" d="M536 262h4M520 274h4"/>
<path stroke="#0058ff" d="M532 266h4M528 270h4M508 282h4"/>
<path stroke="#005cff" d="M540 262h4M536 266h4M516 278h4"/>
<path stroke="#0060ff" d="M540 266h4M532 270h4M524 274h4"/>
<path stroke="#0064ff" d="M544 266h4M536 270h4M528 274h4M496 290h4"/>
<path stroke="#0068ff" d="M540 270h4M520 278h4M512 282h4M504 286h4"/>
<path stroke="#006cff" d="M544 270h4M532 274h4"/>
<path stroke="#0070ff" d="M536 274h4M524 278h4"/>
<path stroke="#0074ff" d="M540 274h8M528 278h4M516 282h4"/>
<path stroke="#0078ff" d="M548 274h4M532 278h4"/>
<path stroke="#007cff" d="M536 278h8M520 282h4M508 286h4"/>
<path stroke="#0080ff" d="M544 278h12M524 282h4"/>
<path stroke="#0083ff" d="M528 282h4"/>
<path stroke="#0087ff" d="M532 282h8M556 282h4M512 286h4"/>
<path stroke="#008bff" d="M540 282h16"/>
<path stroke="#008fff" d="M516 286h4M556 286h4M500 290h4"/>
<path stroke="#0093ff" d="M520 286h4M552 286h4"/>
<path stroke="#0097ff" d="M524 286h4M540 286h12M560 290h4"/>
<path stroke="#009bff" d="M528 286h12M556 290h4M564 294h4M568 298h4"/>
<path stroke="#009fff" d="M504 290h4M548 290h8M560 294h4M564 298h4M572 302h4"/>
<path stroke="#00a3ff" d="M544 290h4M556 294h4M568 302h4M572 306h4M576 310h4"/>
<path stroke="#00a7ff" d="M540 290h4M552 294h4M560 298h4M564 302h4M568 306h4M572 310h4M576 314h4"/>
<path stroke="#00abff" d="M508 290h4M536 290h4M548 294h4M556 298h4"/>
<path stroke="#00afff" d="M532 290h4M560 302h4M564 306h4M568 310h4M572 314h4"/>
<path stroke="#00b3ff" d="M512 290h4M524 290h8M544 294h4M552 298h4M556 302h4M560 306h4M564 310h4M568 314h4"/>
<path stroke="#00b7ff" d="M516 290h8M540 294h4M548 298h4M568 318h4"/>
<path stroke="#00bbff" d="M536 294h4M552 302h4M556 306h4M560 310h4M564 314h4"/>
<path stroke="#00bfff" d="M544 298h4M564 318h4"/>
<path stroke="#00c3ff" d="M532 294h4M548 302h4M552 306h4M556 310h4M560 314h4M564 322h4"/>
<path stroke="#00c7ff" d="M528 294h4M540 298h4M560 318h4"/>
<path stroke="#00cbff" d="M544 302h4M556 314h4M560 322h4"/>
<path stroke="#00cfff" d="M524 294h4M536 298h4M548 306h4M552 310h4M556 318h4M560 326h4"/>
<path stroke="#00d3ff" d="M540 302h4M552 314h4M556 322h4"/>
<path stroke="#00d7ff" d="M520 294h4M532 298h4M544 306h4M548 310h4M556 326h4"/>
<path stroke="#00dbff" d="M552 318h4M552 322h4"/>
<path stroke="#00dfff" d="M516 294h4M528 298h4M536 302h4M548 314h4M552 326h4M552 330h4"/>
<path stroke="#00e3ff" d="M540 306h4M544 310h4M548 318h4"/>
<path stroke="#00e7ff" d="M512 294h4M548 322h4M548 326h4"/>
<path stroke="#00ebff" d="M508 294h4M524 298h4M532 302h4M544 314h4M548 330h4M548 334h4"/>
<path stroke="#00efff" d="M536 306h4M540 310h4M544 318h4"/>
<path stroke="#00f3ff" d="M504 294h4M544 322h4M544 326h4M544 330h4"/>
<path stroke="#00f7ff" d="M520 298h4M528 302h4M540 314h4M544 334h4M544 338h4"/>
<path stroke="#00fbff" d="M532 306h4M536 310h4M540 318h4M540 322h4"/>
<path stroke="#00ffff" d="M536 314h4M540 326h4M540 330h4"/>
<path stroke="#04fffb" d="M524 302h4M540 334h4M540 338h4"/>
<path stroke="#08fff7" d="M500 294h4M516 298h4M532 310h4M536 318h4M536 322h4"/>
<path stroke="#0cfff3" d="M528 306h4M532 314h4M536 326h4M536 330h4M536 334h4M536 342h4"/>
<path stroke="#10ffef" d="M536 338h4"/>
<path stroke="#14ffeb" d="M520 302h4M528 310h4M532 318h4M532 322h4"/>
<path stroke="#18ffe7" d="M512 298h4M524 306h4M532 326h4M532 330h4M532 342h4M532 346h4"/>
<path stroke="#1cffe3" d="M528 314h4M532 334h4M532 338h4"/>
<path stroke="#20ffdf" d="M524 310h4M528 318h4"/>
<path stroke="#24ffdb" d="M528 322h4M528 326h4M528 346h4M528 350h4"/>
<path stroke="#28ffd7" d="M496 294h4M508 298h4M516 302h4M520 306h4M524 314h4M528 330h4M528 334h4M528 338h4M528 342h4"/>
<path stroke="#2cffd3" d="M524 318h4M524 354h4"/>
<path stroke="#30ffcf" d="M520 310h4M524 322h4M524 350h4"/>
<path stroke="#34ffcb" d="M524 326h4M524 330h4M524 334h4M524 338h4M524 342h4M524 346h4M520 354h4"/>
<path stroke="#38ffc7" d="M512 302h4M516 306h4M520 314h4"/>
<path stroke="#3cffc3" d="M504 298h4M520 318h4M520 350h4M516 358h4"/>
<path stroke="#40ffbf" d="M516 310h4M520 322h4M520 346h4M516 354h4M512 362h4"/>
<path stroke="#44ffbb" d="M520 326h4M520 330h4M520 334h4M520 338h4M520 342h4M516 350h4M512 358h4M508 366h4"/>
<path stroke="#48ffb7" d="M516 314h4M516 346h4M512 354h4M508 362h4"/>
<path stroke="#4cffb3" d="M508 302h4M512 306h4M508 358h4M504 366h4"/>
<path stroke="#50ffaf" d="M516 318h4M516 342h4M512 350h4M504 362h4M500 370h4"/>
<path stroke="#54ffab" d="M500 298h4M512 310h4M516 322h4M516 326h4M516 330h4M516 334h4M516 338h4M512 346h4M508 354h4M504 358h4M500 366h4M496 374h4"/>
<path stroke="#58ffa7" d="M512 342h4M508 350h4M500 362h4M496 370h4M492 378h4"/>
<path stroke="#5cffa3" d="M504 302h4M512 314h4M512 338h4M508 346h4M504 354h4M496 366h4M492 374h4"/>
<path stroke="#60ff9f" d="M508 306h4M500 358h4M496 362h4M492 370h4M488 378h4M484 382h4"/>
<path stroke="#64ff9b" d="M512 318h4M512 334h4M508 342h4M504 350h4M500 354h4M492 366h4M488 374h4M484 378h4M480 386h4"/>
<path stroke="#68ff97" d="M512 322h4M512 326h4M512 330h4M508 338h4M504 346h4M496 358h4M488 370h4M480 382h4M476 390h4M472 394h4"/>
<path stroke="#6cff93" d="M508 310h4M500 350h4M492 362h4M488 366h4M484 374h4M480 378h4M476 386h4M472 390h4M468 394h4"/>
<path stroke="#70ff8f" d="M508 334h4M504 342h4M496 354h4M492 358h4M484 370h4M480 374h4M476 382h4M472 386h4M464 398h4M460 402h4"/>
<path stroke="#74ff8b" d="M508 314h4M508 330h4M504 338h4M500 346h4M488 362h4M484 366h4M476 378h4M472 382h4M468 390h4M464 394h4M460 398h4M456 406h4"/>
<path stroke="#78ff87" d="M500 302h4M504 306h4M508 326h4M496 350h4M492 354h4M480 370h4M476 374h4M468 386h4M464 390h4M460 394h4M456 402h4M452 406h4"/>
<path stroke="#7cff83" d="M508 318h4M508 322h4M504 334h4M500 342h4M496 346h4M488 358h4M484 362h4M480 366h4M472 378h4M468 382h4M464 386h4M460 390h4M456 398h4M452 402h4M448 410h4M444 414h4M440 418h4"/>
<path stroke="#80ff80" d="M496 298h4M504 330h4M500 338h4M492 350h4M476 370h4M472 374h4M468 378h4M456 394h4M452 398h4M448 402h4M448 406h4M444 410h4M440 414h4M436 418h4M432 422h4M428 426h4M424 430h4M420 434h4M412 438h4M408 442h4M404 446h4M388 458h4M380 462h4M376 466h4"/>
<path stroke="#83ff7c" d="M504 326h4M496 342h4M488 354h4M484 358h4M480 362h4M476 366h4M464 382h4M460 386h4M456 390h4M452 394h4M448 398h4M444 406h4M440 410h4M436 414h4M432 418h4M428 422h4M424 426h4M420 430h4M416 434h4M408 438h4M404 442h4M400 446h4M396 450h4M388 454h8M380 458h8M376 462h4"/>
<path stroke="#87ff78" d="M492 294h4M500 334h4M492 346h4M472 370h4M468 374h4M464 378h4M460 382h4M456 386h4M452 390h4M448 394h4M444 402h4M440 406h4M436 410h4M432 414h4M428 418h4M424 422h4M420 426h4M416 430h4M408 434h8M400 438h8M396 442h8M392 446h8M388 450h8M380 454h8M372 458h8"/>
<path stroke="#8bff74" d="M504 310h4M504 322h4M488 350h4M480 358h4M476 362h4M444 398h4M440 402h4M436 406h4M432 410h4M428 414h4M424 418h4M420 422h4M416 426h4M408 430h8M400 434h8M396 438h4M392 442h4M384 446h8M376 450h12M368 454h12"/>
<path stroke="#8fff70" d="M504 318h4M500 330h4M496 338h4M484 354h4M472 366h4M468 370h4M464 374h4M460 378h4M456 382h4M452 386h4M448 390h4M444 394h4M440 398h4M436 402h4M432 406h4M428 410h4M424 414h4M420 418h4M416 422h4M408 426h8M400 430h8M396 434h4M388 438h8M384 442h8M372 446h12M364 450h12"/>
<path stroke="#93ff6c" d="M504 314h4M500 326h4M492 342h4M488 346h4M460 374h4M456 378h4M452 382h4M448 386h4M444 390h4M440 394h4M436 398h4M432 402h4M428 406h4M424 410h4M420 414h4M416 418h4M408 422h8M400 426h8M392 430h8M388 434h8M380 438h8M368 442h16M364 446h8"/>
<path stroke="#97ff68" d="M500 306h4M496 334h4M484 350h4M480 354h4M476 358h4M472 362h4M468 366h4M464 370h4M444 386h4M440 390h4M436 394h4M432 398h4M428 402h4M424 406h4M420 410h4M416 414h4M408 418h8M400 422h8M392 426h8M384 430h8M376 434h12M360 438h20M360 442h8"/>
<path stroke="#9bff64" d="M500 322h4M496 330h4M492 338h4M460 370h4M456 374h4M452 378h4M448 382h4M420 406h4M416 410h4M412 414h4M404 418h4M392 422h8M384 426h8M376 430h8M352 434h24M356 438h4"/>
<path stroke="#9fff60" d="M496 302h4M500 318h4M488 342h4M472 358h4M468 362h4M464 366h4M444 382h4M440 386h4M436 390h4M432 394h4M428 398h4M424 402h4M416 406h4M412 410h4M404 414h8M392 418h12M380 422h12M372 426h12M348 430h28"/>
<path stroke="#a3ff5c" d="M492 298h4M500 310h4M500 314h4M496 326h4M492 334h4M484 346h4M480 350h4M476 354h4M456 370h4M452 374h4M448 378h4M436 386h4M432 390h4M428 394h4M424 398h4M420 402h4M412 406h4M404 410h8M396 414h8M380 418h12M372 422h8M348 426h24"/>
<path stroke="#a7ff58" d="M488 338h4M468 358h4M464 362h4M460 366h4M444 378h4M440 382h4M428 390h4M424 394h4M420 398h4M412 402h8M408 406h4M396 410h8M384 414h12M340 418h4M372 418h8M344 422h28"/>
<path stroke="#abff54" d="M496 306h4M496 322h4M484 342h4M472 354h4M452 370h4M448 374h4M436 382h4M432 386h4M420 394h4M416 398h4M408 402h4M400 406h8M388 410h8M336 414h4M372 414h12M344 418h28"/>
<path stroke="#afff50" d="M492 330h4M480 346h4M476 350h4M456 366h4M440 378h4M428 386h4M424 390h4M416 394h4M412 398h4M404 402h4M332 406h4M392 406h8M336 410h4M376 410h12M340 414h32"/>
<path stroke="#b3ff4c" d="M496 310h4M496 318h4M488 334h4M464 358h4M460 362h4M448 370h4M444 374h4M432 382h4M420 390h4M412 394h4M408 398h4M396 402h8M336 406h8M384 406h8M340 410h16M360 410h16"/>
<path stroke="#b7ff48" d="M496 314h4M492 326h4M468 354h4M452 366h4M440 374h4M436 378h4M428 382h4M424 386h4M416 390h4M400 398h8M340 402h4M388 402h8M344 406h4M368 406h16M356 410h4"/>
<path stroke="#bbff44" d="M492 302h4M484 338h4M480 342h4M472 350h4M456 362h4M444 370h4M432 378h4M420 386h4M412 390h4M408 394h4M396 398h4M380 402h8M348 406h20"/>
<path stroke="#bfff40" d="M492 322h4M488 330h4M476 346h4M460 358h4M436 374h4M424 382h4M416 386h4M400 394h8M388 398h8M344 402h4M372 402h8"/>
<path stroke="#c3ff3c" d="M492 306h4M464 354h4M448 366h4M440 370h4M428 378h4M420 382h4M408 390h4M396 394h4M344 398h4M380 398h8M348 402h4M356 402h16"/>
<path stroke="#c7ff38" d="M492 318h4M484 334h4M468 350h4M452 362h4M432 374h4M412 386h4M404 390h4M392 394h4M348 398h4M372 398h8M352 402h4"/>
<path stroke="#cbff34" d="M492 310h4M480 338h4M472 346h4M456 358h4M444 366h4M424 378h4M416 382h4M408 386h4M400 390h4M348 394h4M384 394h8M352 398h4M364 398h8"/>
<path stroke="#cfff30" d="M488 294h4M492 314h4M488 326h4M476 342h4M460 354h4M448 362h4M436 370h4M428 374h4M420 378h4M412 382h4M404 386h4M396 390h4M352 394h4M376 394h8M356 398h8"/>
<path stroke="#d3ff2c" d="M488 298h4M484 330h4M464 350h4M440 366h4M352 390h4M392 390h4M356 394h4M372 394h4"/>
<path stroke="#d7ff28" d="M488 322h4M452 358h4M432 370h4M424 374h4M416 378h4M408 382h4M400 386h4M356 390h4M384 390h8M364 394h8"/>
<path stroke="#dbff24" d="M480 334h4M468 346h4M444 362h4M396 386h4M376 390h8M360 394h4"/>
<path stroke="#dfff20" d="M488 302h4M476 338h4M472 342h4M456 354h4M436 366h4M428 370h4M420 374h4M412 378h4M404 382h4M392 386h4M360 390h4M372 390h4"/>
<path stroke="#e3ff1c" d="M488 318h4M484 326h4M460 350h4M448 358h4M400 382h4M360 386h4M388 386h4M364 390h8"/>
<path stroke="#e7ff18" d="M488 290h4M488 306h4M440 362h4M432 366h4M416 374h4M408 378h4M364 386h4M384 386h4"/>
<path stroke="#ebff14" d="M488 314h4M480 330h4M464 346h4M452 354h4M424 370h4M404 378h4M396 382h4M376 386h8"/>
<path stroke="#efff10" d="M488 310h4M476 334h4M468 342h4M444 358h4M412 374h4M364 382h4M392 382h4M368 386h8"/>
<path stroke="#f3ff0c" d="M484 322h4M456 350h4M436 362h4M428 366h4M420 370h4M400 378h4M368 382h4"/>
<path stroke="#f7ff08" d="M472 338h4M408 374h4M368 378h4M372 382h4M388 382h4"/>
<path stroke="#fbff04" d="M480 326h4M460 346h4M448 354h4M416 370h4M396 378h4M384 382h4"/>
<path stroke="#ffff00" d="M484 318h4M440 358h4M432 362h4M424 366h4M404 374h4M372 378h4M376 382h8"/>
<path stroke="#fffb00" d="M484 294h4M476 330h4M464 342h4M452 350h4M392 378h4"/>
<path stroke="#fff700" d="M484 290h4M484 298h4M412 370h4M376 378h4"/>
<path stroke="#fff300" d="M484 314h4M472 334h4M468 338h4M444 354h4M436 358h4M428 362h4M420 366h4M400 374h4M388 378h4"/>
<path stroke="#ffef00" d="M484 302h4M480 322h4M456 346h4"/>
<path stroke="#ffeb00" d="M408 370h4M376 374h4M396 374h4M380 378h8"/>
<path stroke="#ffe700" d="M484 306h4M484 310h4M476 326h4M460 342h4M448 350h4M416 366h4"/>
<path stroke="#ffe300" d="M440 354h4M432 358h4M424 362h4M404 370h4M380 374h4"/>
<path stroke="#ffdf00" d="M464 338h4M392 374h4"/>
<path stroke="#ffdb00" d="M480 318h4M472 330h4M412 366h4M380 370h4M384 374h4"/>
<path stroke="#ffd700" d="M452 346h4M444 350h4M420 362h4M400 370h4M388 374h4"/>
<path stroke="#ffd300" d="M468 334h4M436 354h4M428 358h4M384 370h4"/>
<path stroke="#ffcf00" d="M480 294h4M476 322h4M456 342h4M408 366h4"/>
<path stroke="#ffcb00" d="M396 370h4"/>
<path stroke="#ffc700" d="M480 314h4M416 362h4M384 366h4M388 370h4"/>
<path stroke="#ffc300" d="M472 326h4M460 338h4M448 346h4M440 350h4M432 354h4M424 358h4M404 366h4"/>
<path stroke="#ffbf00" d="M480 298h4M388 366h4M392 370h4"/>
<path stroke="#ffbb00" d="M464 334h4"/>
<path stroke="#ffb700" d="M480 310h4M468 330h4M412 362h4M392 366h4M400 366h4"/>
<path stroke="#ffb300" d="M476 318h4M452 342h4"/>
<path stroke="#ffaf00" d="M480 306h4M444 346h4M428 354h4M420 358h4M392 362h4M396 366h4"/>
<path stroke="#ffab00" d="M480 302h4M436 350h4"/>
<path stroke="#ffa700" d="M472 322h4M456 338h4M396 362h4M408 362h4"/>
<path stroke="#ff9f00" d="M416 358h4"/>
<path stroke="#ff9b00" d="M460 334h4M424 354h4M396 358h4"/>
<path stroke="#ff9700" d="M476 314h4M468 326h4M448 342h4M440 346h4M432 350h4M400 362h8"/>
<path stroke="#ff8f00" d="M476 298h4M464 330h4"/>
<path stroke="#ff8b00" d="M400 358h4M412 358h4"/>
<path stroke="#ff8700" d="M472 318h4M452 338h4"/>
<path stroke="#ff8300" d="M420 354h4"/>
<path stroke="#ff8000" d="M428 350h4M400 354h4M404 358h4"/>
<path stroke="#ff7c00" d="M476 310h4M456 334h4M444 342h4M436 346h4"/>
<path stroke="#ff7800" d="M476 302h4M408 358h4"/>
<path stroke="#ff7400" d="M468 322h4M404 354h4"/>
<path stroke="#ff6c00" d="M460 330h4M416 354h4"/>
<path stroke="#ff6800" d="M476 306h4M464 326h4M404 350h4M424 350h4M408 354h4"/>
<path stroke="#ff6400" d="M472 314h4M448 338h4"/>
<path stroke="#ff6000" d="M472 298h4M440 342h4M432 346h4"/>
<path stroke="#ff5c00" d="M408 350h4M412 354h4"/>
<path stroke="#ff5400" d="M452 334h4"/>
<path stroke="#ff5000" d="M412 350h4"/>
<path stroke="#ff4c00" d="M472 302h4M468 318h4"/>
<path stroke="#ff4800" d="M420 350h4"/>
<path stroke="#ff4400" d="M456 330h4M428 346h4"/>
<path stroke="#ff4000" d="M444 338h4M436 342h4M412 346h4M416 350h4"/>
<path stroke="#ff3c00" d="M472 310h4"/>
<path stroke="#ff3800" d="M464 322h4"/>
<path stroke="#ff3400" d="M472 306h4M416 346h4"/>
<path stroke="#ff3000" d="M460 326h4"/>
<path stroke="#ff2800" d="M448 334h4M416 342h4M420 346h4"/>
<path stroke="#ff2400" d="M424 346h4"/>
<path stroke="#ff2000" d="M468 302h4M468 314h4"/>
<path stroke="#ff1c00" d="M440 338h4M420 342h4M432 342h4"/>
<path stroke="#ff1400" d="M468 306h4M452 330h4"/>
<path stroke="#ff0c00" d="M420 338h4M424 342h4"/>
<path stroke="#ff0800" d="M468 310h4M464 318h4"/>
<path stroke="#ff0000" d="M456 326h4"/>
<path stroke="#fb0000" d="M424 338h4M428 342h4"/>
<path stroke="#f70000" d="M464 306h4"/>
<path stroke="#f30000" d="M444 334h4M436 338h4"/>
<path stroke="#ef0000" d="M460 322h4"/>
<path stroke="#eb0000" d="M428 338h4"/>
<path stroke="#e70000" d="M464 310h4"/>
<path stroke="#df0000" d="M448 330h4M428 334h4M432 338h4"/>
<path stroke="#db0000" d="M464 314h4"/>
<path stroke="#cf0000" d="M432 334h4"/>
<path stroke="#cb0000" d="M460 310h4"/>
<path stroke="#c70000" d="M452 326h4"/>
<path stroke="#c30000" d="M440 334h4"/>
<path stroke="#bf0000" d="M432 330h4M436 334h4"/>
<path stroke="#bb0000" d="M460 314h4"/>
<path stroke="#b30000" d="M460 318h4"/>
<path stroke="#af0000" d="M456 310h4M436 330h4"/>
<path stroke="#ab0000" d="M456 322h4"/>
<path stroke="#a30000" d="M440 330h8"/>
<path stroke="#9f0000" d="M456 314h4M436 326h4"/>
<path stroke="#9b0000" d="M440 326h12"/>
<path stroke="#970000" d="M444 322h4"/>
<path stroke="#930000" d="M448 322h8"/>
<path stroke="#8f0000" d="M448 318h4M456 318h4"/>
<path stroke="#8b0000" d="M452 318h4"/>
<path stroke="#870000" d="M452 314h4"/>
</g></g>
<g clip-path="url(#ca2)"><g filter="url(#bl12)" stroke-width="12.3">
<path stroke="#00008b" d="M108 594h12M108 606h12"/>
<path stroke="#00008f" d="M96 606h12"/>
<path stroke="#000093" d="M96 618h12"/>
<path stroke="#00b7ff" d="M0 534h12"/>
<path stroke="#00c7ff" d="M12 522h12"/>
<path stroke="#00cbff" d="M12 534h12"/>
<path stroke="#00d3ff" d="M24 522h12M0 546h24"/>
<path stroke="#00d7ff" d="M24 534h12"/>
<path stroke="#00dbff" d="M-24 546h24M24 546h12M-24 558h36"/>
<path stroke="#00dfff" d="M36 534h12M12 558h12M-24 570h24M-24 582h12"/>
<path stroke="#00e3ff" d="M36 546h12M24 558h12M0 570h24M-12 582h12M-24 594h12"/>
<path stroke="#00e7ff" d="M36 558h12M24 570h12M0 582h12M-12 594h12M-24 606h12"/>
<path stroke="#00ebff" d="M48 546h12M12 582h12M0 594h12M84 594h12M-12 606h12M-24 618h12"/>
<path stroke="#00efff" d="M48 558h12M36 570h12M24 582h12M12 594h12M0 606h12M-12 618h12M-24 630h12"/>
<path stroke="#00f3ff" d="M60 558h12M48 570h12M36 582h12M24 594h12M12 606h12M0 618h12M-12 630h12"/>
<path stroke="#00f7ff" d="M60 570h12M48 582h12M36 594h12M24 606h12M12 618h12M0 630h12"/>
<path stroke="#00fbff" d="M72 570h12M60 582h36M48 594h12M96 594h12M24 618h12M12 630h12"/>
<path stroke="#00ffff" d="M84 570h12M60 594h24M36 606h12M24 630h12"/>
<path stroke="#04fffb" d="M96 582h12M48 606h12M36 618h12"/>
<path stroke="#08fff7" d="M36 630h12"/>
<path stroke="#0cfff3" d="M60 606h12M48 618h12"/>
<path stroke="#10ffef" d="M48 630h12"/>
<path stroke="#14ffeb" d="M72 606h12M60 618h12"/>
<path stroke="#18ffe7" d="M60 630h12"/>
<path stroke="#24ffdb" d="M72 618h12M72 630h12"/>
<path stroke="#2cffd3" d="M84 630h12"/>
<path stroke="#38ffc7" d="M84 618h12"/>
<path stroke="#7cff83" d="M84 606h12"/>
</g></g>
<g clip-path="url(#ca3)"><g filter="url(#bl12)" stroke-width="12.3">
<path stroke="#000083" d="M12 522h12M0 534h24M84 582h24M84 594h24"/>
<path stroke="#000087" d="M24 510h12M24 522h12M24 534h12M12 546h24M72 582h12M72 594h12"/>
<path stroke="#00008b" d="M36 510h12M36 522h12M36 534h24M0 546h12M36 546h24M12 558h60M24 570h84M60 582h12M108 582h12M108 594h12M108 606h12"/>
<path stroke="#00008f" d="M36 498h12M48 510h12M48 522h24M60 534h12M60 546h24M0 558h12M72 558h24M12 570h12M108 570h12M24 582h36M48 594h24M120 594h12M96 606h12M120 606h12"/>
<path stroke="#000093" d="M492 306h12M48 486h12M48 498h12M60 510h12M72 522h12M72 534h24M84 546h24M96 558h24M120 582h12M132 594h12M60 606h12M96 618h12"/>
<path stroke="#000097" d="M60 486h12M60 498h24M72 510h12M84 522h12M96 534h12M-12 546h12M108 546h12M120 558h12M120 570h12M132 582h12M72 606h12"/>
<path stroke="#00009b" d="M60 474h12M72 486h12M84 498h12M84 510h12M96 522h12M108 534h12M120 546h12M132 558h12M132 570h24M144 582h12"/>
<path stroke="#00009f" d="M72 474h12M84 486h12M96 498h12M96 510h12M108 522h12M120 534h12M132 546h12M144 558h12M156 570h12"/>
<path stroke="#0000a3" d="M72 462h12M84 474h12M96 486h12M108 498h12M108 510h12M120 522h12M132 534h12M144 546h12M156 558h12M168 570h12M72 618h12"/>
<path stroke="#0000a7" d="M84 462h12M96 474h12M108 486h12M120 498h12M120 510h12M132 522h12M144 534h12M156 546h12M168 558h24"/>
<path stroke="#0000ab" d="M96 450h12M96 462h12M108 474h12M120 486h12M132 498h12M132 510h12M144 522h12M156 534h12M168 546h24"/>
<path stroke="#0000af" d="M108 450h12M108 462h12M120 474h12M132 486h12M144 510h12M156 522h12M168 534h24M192 546h12"/>
<path stroke="#0000b3" d="M108 438h12M120 450h12M120 462h12M132 474h12M144 486h12M144 498h12M156 510h12M168 522h12M192 534h12"/>
<path stroke="#0000b7" d="M120 438h12M132 450h12M132 462h12M144 474h12M156 486h12M156 498h12M168 510h12M180 522h24M204 534h12"/>
<path stroke="#0000bb" d="M120 426h12M132 438h12M144 450h12M144 462h12M156 474h12M168 486h12M168 498h12M180 510h24M204 522h12"/>
<path stroke="#0000bf" d="M132 414h12M132 426h12M144 438h12M156 462h12M168 474h12M180 498h24M204 510h12M216 522h24"/>
<path stroke="#0000c3" d="M348 222h12M336 234h12M144 414h12M144 426h12M156 438h12M156 450h12M168 462h12M180 474h12M180 486h24M204 498h12M216 510h24"/>
<path stroke="#0000c7" d="M348 234h24M144 402h12M156 414h12M156 426h12M168 438h12M168 450h12M180 462h12M192 474h12M204 486h12M216 498h12M240 510h12"/>
<path stroke="#0000cb" d="M360 222h12M336 246h24M156 402h12M168 426h12M180 438h12M180 450h12M192 462h12M204 474h12M216 486h12M228 498h24"/>
<path stroke="#0000cf" d="M372 222h12M372 234h12M324 246h12M360 246h12M156 390h12M168 402h12M168 414h12M180 426h12M192 450h12M204 462h12M216 474h12M228 486h12M252 498h12"/>
<path stroke="#0000d3" d="M336 258h24M492 318h12M168 390h12M180 402h12M180 414h12M192 426h12M192 438h12M204 450h12M216 462h12M228 474h12M240 486h24"/>
<path stroke="#0000d7" d="M372 210h12M372 246h12M360 258h12M180 378h12M180 390h12M192 402h12M192 414h12M204 426h12M204 438h12M216 450h12M228 462h12M240 474h12M264 486h12"/>
<path stroke="#0000db" d="M384 210h12M384 222h12M384 234h12M324 258h12M192 390h12M204 414h12M216 438h12M228 450h12M240 462h12M252 474h12M276 486h12"/>
<path stroke="#0000df" d="M348 270h12M192 366h12M192 378h12M204 390h12M204 402h12M216 414h12M216 426h12M228 438h12M240 450h12M252 462h12M264 474h12"/>
<path stroke="#0000e3" d="M384 198h12M396 222h12M384 246h12M372 258h12M336 270h12M204 366h12M204 378h12M216 402h12M228 426h12M276 474h12"/>
<path stroke="#0000e7" d="M396 210h12M396 234h12M312 258h12M324 270h12M360 270h12M204 354h12M216 378h12M216 390h12M228 414h12M240 438h12M252 450h12M264 462h12M288 474h12"/>
<path stroke="#0000eb" d="M396 198h12M408 210h12M312 270h12M216 366h12M228 390h12M228 402h12M240 426h12M252 438h12M264 450h12M276 462h12"/>
<path stroke="#0000ef" d="M396 186h12M408 198h12M408 222h12M408 234h12M396 246h12M384 258h12M492 270h12M216 354h12M228 378h12M240 402h12M240 414h12M252 426h12M264 438h12M276 450h12M288 462h12"/>
<path stroke="#0000f3" d="M408 186h12M420 210h12M372 270h12M480 270h12M324 282h36M216 342h12M228 366h12M240 390h12M252 414h12M300 462h12"/>
<path stroke="#0000f7" d="M420 198h12M420 222h12M408 246h12M396 258h12M492 258h12M300 270h12M312 282h12M480 282h24M228 354h12M240 378h12M252 402h12M264 426h12M276 438h12M288 450h12"/>
<path stroke="#0000fb" d="M408 174h12M420 186h12M432 210h12M432 222h12M420 234h12M480 258h12M384 270h12M300 282h12M360 282h12M228 330h12M228 342h12M240 366h12M252 390h12M264 414h12M276 426h12M288 438h12M300 450h12M84 606h12"/>
<path stroke="#0000ff" d="M420 174h12M432 186h12M432 198h12M432 234h12M420 246h12M480 246h12M468 258h12M240 342h12M240 354h12M252 378h12M264 402h12M276 414h12M312 450h12"/>
<path stroke="#0004ff" d="M600 30h12M432 174h12M444 210h12M444 222h12M444 234h12M456 246h24M492 246h12M408 258h12M468 270h12M288 282h12M372 282h12M300 294h48M480 294h12M240 330h12M252 342h12M252 354h12M252 366h12M264 390h12M276 402h12M288 426h12M300 438h12M324 450h12"/>
<path stroke="#0008ff" d="M432 162h12M444 186h12M444 198h12M456 222h12M456 234h36M432 246h24M456 258h12M396 270h12M288 294h12M348 294h12M240 318h12M252 330h12M264 366h12M264 378h12M276 390h12M288 414h12M300 426h12M312 438h12"/>
<path stroke="#000cff" d="M444 162h12M444 174h12M456 210h12M468 222h12M492 234h12M504 246h12M420 258h12M504 258h12M384 282h12M276 294h12M360 294h12M252 306h12M252 318h24M264 330h12M264 342h12M264 354h12M276 378h12M288 402h12M324 438h12"/>
<path stroke="#0010ff" d="M444 150h12M456 186h12M456 198h12M468 210h12M480 222h12M432 258h24M408 270h12M468 282h12M264 306h84M276 318h24M276 330h12M276 342h12M276 354h12M276 366h12M288 390h12M300 414h12M312 426h12M336 438h12"/>
<path stroke="#0014ff" d="M456 150h12M456 162h12M456 174h12M468 198h12M504 234h12M456 270h12M396 282h12M372 294h12M348 306h12M480 306h12M300 318h24M288 330h12M288 342h12M288 378h12M300 402h12M312 414h12M324 426h12"/>
<path stroke="#0018ff" d="M456 138h12M468 174h12M468 186h12M480 210h12M492 222h12M420 270h12M324 318h12M300 330h12M288 354h12M288 366h12M300 390h12M312 402h12M324 414h12M336 426h12"/>
<path stroke="#001cff" d="M468 150h12M468 162h12M480 198h12M492 210h12M504 222h12M432 270h24M504 270h12M384 294h12M360 306h12M336 318h12M312 330h12M300 342h12M300 354h12M300 366h12M300 378h12M312 390h12M348 426h12"/>
<path stroke="#0020ff" d="M468 138h12M480 174h12M480 186h12M492 198h12M408 282h12M372 306h12M348 318h12M324 330h12M312 342h12M312 378h12M324 402h12M336 414h12"/>
<path stroke="#0024ff" d="M468 126h12M480 150h12M480 162h12M504 210h12M516 234h12M516 246h12M456 282h12M396 294h12M336 330h12M324 342h12M312 354h12M312 366h12M324 390h12"/>
<path stroke="#0028ff" d="M480 126h12M480 138h12M492 174h12M492 186h12M504 198h12M516 222h12M420 282h12M360 318h12M324 378h12M336 402h12"/>
<path stroke="#002cff" d="M492 150h12M492 162h12M516 210h12M516 258h12M384 306h12M348 330h12M336 342h12M324 354h12M324 366h12M348 414h12"/>
<path stroke="#0030ff" d="M492 126h12M492 138h12M504 174h12M504 186h12M516 198h12M432 282h24M408 294h12M468 294h12M372 318h12M336 354h12M336 390h12"/>
<path stroke="#0034ff" d="M492 114h12M504 150h12M504 162h12M360 330h12M348 342h12M336 366h12M336 378h12"/>
<path stroke="#0038ff" d="M504 114h12M504 126h12M504 138h12M516 174h12M516 186h12M528 222h12M528 234h12M396 306h12"/>
<path stroke="#003cff" d="M504 102h12M516 150h12M516 162h12M528 198h12M528 210h12M528 246h12M384 318h12M372 330h12M360 342h12M348 354h12M348 366h12M348 402h12M360 414h12"/>
<path stroke="#0040ff" d="M516 102h12M516 114h12M516 126h12M516 138h12M528 186h12M420 294h12M348 378h12M348 390h12"/>
<path stroke="#0044ff" d="M516 90h12M528 150h12M528 162h12M528 174h12M360 354h12"/>
<path stroke="#0048ff" d="M528 90h12M528 102h12M528 114h12M528 126h12M528 138h12M540 198h12M540 210h12M540 222h12M540 234h12M528 258h12M516 270h12M408 306h12"/>
<path stroke="#004cff" d="M528 78h12M540 162h12M540 174h12M540 186h12M432 294h12M456 294h12M372 342h12M360 366h12M360 402h12"/>
<path stroke="#0050ff" d="M540 78h12M540 90h12M540 102h12M540 114h12M540 126h12M540 138h12M540 150h12M540 246h12M396 318h12M384 330h12"/>
<path stroke="#0054ff" d="M552 186h12M552 198h12M552 210h12M552 222h12M552 234h12M444 294h12M480 318h12M360 378h12"/>
<path stroke="#0058ff" d="M588 30h12M552 66h12M552 78h12M552 90h12M552 102h12M552 114h12M552 126h12M552 138h12M552 150h12M552 162h12M552 174h12M540 258h12M504 282h12M372 354h12M360 390h12"/>
<path stroke="#005cff" d="M564 54h12M552 246h12M420 306h12M372 402h12"/>
<path stroke="#0060ff" d="M576 42h12M564 66h12M564 78h12M564 90h12M564 102h12M564 114h12M564 126h12M564 138h12M564 150h12M564 162h12M564 174h12M564 186h12M564 198h12M564 210h12M564 222h12M564 234h12M528 270h12M384 342h12"/>
<path stroke="#0064ff" d="M588 42h12M576 54h12M564 246h12M552 258h12M408 318h12M372 366h12"/>
<path stroke="#0068ff" d="M576 66h12M576 78h12M576 90h12M576 102h12M576 114h12M576 126h12M576 138h12M576 150h12M576 162h12M576 174h12M576 186h12M576 198h12M576 210h12M576 222h12M576 234h12M396 330h12M384 402h12"/>
<path stroke="#006cff" d="M588 114h12M576 246h12M564 258h12M540 270h12M372 390h12"/>
<path stroke="#0070ff" d="M588 54h12M588 78h12M588 90h12M588 102h12M588 126h12M588 138h12M588 150h12M588 162h12M588 174h12M588 186h12M588 198h12M588 210h12M588 222h12M588 234h12M588 246h12M432 306h12M372 378h12"/>
<path stroke="#0074ff" d="M588 66h12M600 114h12M600 126h12M600 138h12M600 222h12M600 234h12M552 270h12M384 354h12"/>
<path stroke="#0078ff" d="M600 90h12M600 102h12M600 150h12M600 162h12M600 174h12M600 186h12M600 198h12M600 210h12"/>
<path stroke="#007cff" d="M600 78h12M612 102h12M612 114h12M612 126h12M612 138h12M612 150h12M612 162h12M612 198h12M612 210h12M612 222h12M516 282h12M420 318h12"/>
<path stroke="#0080ff" d="M600 66h12M612 90h12M624 126h12M624 138h12M612 174h12M612 186h12M624 210h12M384 390h12"/>
<path stroke="#0083ff" d="M600 54h12M624 102h12M624 114h12M624 150h12M624 162h12M624 174h12M624 186h12M624 198h12M444 306h12M468 306h12M396 342h12"/>
<path stroke="#0087ff" d="M612 78h12M624 90h12M528 282h12M408 330h12"/>
<path stroke="#008bff" d="M600 42h12M612 66h12M540 282h12M384 366h12"/>
<path stroke="#008fff" d="M624 78h12"/>
<path stroke="#0093ff" d="M384 378h12M396 390h12"/>
<path stroke="#0097ff" d="M624 66h12M480 330h12"/>
<path stroke="#009bff" d="M612 54h12M456 306h12"/>
<path stroke="#00a3ff" d="M624 54h12M396 354h12"/>
<path stroke="#00a7ff" d="M432 318h12"/>
<path stroke="#00abff" d="M396 378h12"/>
<path stroke="#00afff" d="M612 42h12"/>
<path stroke="#00b3ff" d="M624 42h12M420 330h12"/>
<path stroke="#00bbff" d="M408 342h12"/>
<path stroke="#00bfff" d="M408 378h12"/>
<path stroke="#00c3ff" d="M624 30h12M396 366h12"/>
<path stroke="#00cbff" d="M612 30h12"/>
<path stroke="#00cfff" d="M468 318h12"/>
<path stroke="#00d7ff" d="M516 294h12"/>
<path stroke="#00dbff" d="M444 318h12"/>
<path stroke="#00dfff" d="M408 366h12"/>
<path stroke="#00ebff" d="M504 294h12"/>
<path stroke="#00efff" d="M468 330h12"/>
<path stroke="#00f7ff" d="M408 354h12"/>
<path stroke="#00fbff" d="M432 330h12M420 366h12"/>
<path stroke="#0cfff3" d="M420 342h12"/>
<path stroke="#14ffeb" d="M456 318h12"/>
<path stroke="#18ffe7" d="M492 294h12M432 366h12"/>
<path stroke="#1cffe3" d="M456 330h12"/>
<path stroke="#20ffdf" d="M420 354h12"/>
<path stroke="#24ffdb" d="M456 342h12M432 354h24"/>
<path stroke="#2cffd3" d="M84 630h12"/>
<path stroke="#30ffcf" d="M444 342h12"/>
<path stroke="#34ffcb" d="M432 342h12"/>
<path stroke="#38ffc7" d="M84 618h12"/>
<path stroke="#3cffc3" d="M444 330h12"/>
<path stroke="#5cffa3" d="M504 306h12"/>
</g></g>
<g clip-path="url(#ca3p0)"><g filter="url(#bl4)" stroke-width="4.3">
<path stroke="#000083" d="M496 298h4"/>
<path stroke="#00009f" d="M492 294h4M492 298h4"/>
<path stroke="#0000af" d="M492 302h4"/>
<path stroke="#0000db" d="M488 298h4"/>
<path stroke="#0000df" d="M488 302h4"/>
<path stroke="#0000e7" d="M488 294h4"/>
<path stroke="#0000eb" d="M488 306h4"/>
<path stroke="#0000ef" d="M488 270h12M488 274h12M492 278h4"/>
<path stroke="#0000f3" d="M488 262h8M484 266h20M484 270h4M500 270h4M484 274h4M484 278h8M496 278h4M488 282h8M488 286h4"/>
<path stroke="#0000f7" d="M488 258h12M484 262h4M496 262h8M480 266h4M480 270h4M480 274h4M500 274h4M484 282h4M496 282h4M492 286h4M488 290h4"/>
<path stroke="#0000fb" d="M480 254h20M476 258h12M500 258h8M476 262h8M476 266h4M476 270h4M480 278h4M492 290h4"/>
<path stroke="#0000ff" d="M484 246h8M472 250h32M468 254h12M500 254h8M468 258h8M468 262h8M504 262h4M472 266h4M476 274h4M484 286h4M484 290h4"/>
<path stroke="#0004ff" d="M452 238h4M456 242h40M460 246h24M492 246h12M460 250h12M504 250h4M464 254h4M464 258h4M468 266h4M504 266h4M472 270h4M480 282h4M484 294h4M484 298h4"/>
<path stroke="#0008ff" d="M464 230h4M460 234h28M456 238h40M448 242h8M496 242h8M444 246h16M504 246h4M456 250h4M508 250h4M460 254h4M508 254h4M460 258h4M464 262h4M504 270h4M472 274h4M476 278h4M500 278h4M480 286h4"/>
<path stroke="#000cff" d="M468 226h12M468 230h24M488 234h12M496 238h12M504 242h8M508 246h4M440 250h16M432 254h12M452 254h8M428 258h4M456 258h4M508 258h4M460 262h4M464 266h4M468 270h4M468 274h4M472 278h4M476 282h4M480 290h4M484 302h4"/>
<path stroke="#0010ff" d="M480 218h4M476 222h12M480 226h12M492 230h8M500 234h8M508 238h4M444 254h8M432 258h24M424 262h8M452 262h8M508 262h4M416 266h8M456 266h8M412 270h4M464 270h4M464 274h4M400 278h4M468 278h4M396 282h4M472 282h4M476 286h4M496 286h4"/>
<path stroke="#0014ff" d="M484 214h4M484 218h8M488 222h8M492 226h12M500 230h8M508 234h4M512 238h4M512 242h4M512 246h4M512 250h4M512 254h4M432 262h20M424 266h4M452 266h4M508 266h4M416 270h4M456 270h8M408 274h8M460 274h4M504 274h4M404 278h4M400 282h4M392 286h4M388 290h4M380 294h4M480 294h4M484 306h4"/>
<path stroke="#0018ff" d="M488 214h8M492 218h8M496 222h8M504 226h4M508 230h8M512 234h4M512 258h4M428 266h24M420 270h8M452 270h4M416 274h4M408 278h4M464 278h4M404 282h4M468 282h4M396 286h8M472 286h4M392 290h4M476 290h4M384 294h4M376 298h4M372 302h4M296 362h4"/>
<path stroke="#001cff" d="M492 210h8M496 214h8M500 218h8M504 222h8M508 226h8M516 238h4M516 242h4M516 246h4M512 262h4M428 270h24M508 270h4M420 274h4M452 274h8M412 278h4M460 278h4M408 282h4M464 282h4M404 286h4M396 290h4M388 294h4M380 298h8M480 298h4M376 302h4M364 306h8M360 310h4M304 354h4M300 358h8M300 362h4M300 366h8M304 370h4M308 374h4M308 378h4M312 382h4M336 414h4M340 418h4"/>
<path stroke="#0020ff" d="M496 206h4M500 210h4M504 214h4M516 230h4M516 234h4M516 250h4M516 254h4M424 274h8M448 274h4M416 278h8M456 278h4M412 282h4M500 282h4M408 286h4M468 286h4M400 290h4M472 290h4M392 294h8M388 298h4M380 302h4M372 306h8M364 310h8M356 314h8M352 318h4M344 322h8M340 326h4M328 334h4M324 338h4M320 342h4M312 346h8M308 350h8M308 354h8M308 358h4M304 362h8M308 366h4M308 370h8M312 374h4M312 378h8M316 382h4M316 386h8M320 390h8M324 394h4M324 398h8M328 402h8M332 406h8M336 410h8M340 414h8M344 418h4"/>
<path stroke="#0024ff" d="M520 238h4M520 242h4M520 246h4M516 258h4M512 266h4M432 274h16M424 278h8M452 278h4M504 278h4M416 282h4M460 282h4M412 286h4M404 290h4M400 294h4M476 294h4M392 298h4M384 302h4M380 306h4M372 310h4M364 314h8M356 318h8M352 322h4M344 326h8M336 330h12M332 334h8M328 338h8M324 342h8M320 346h8M316 350h8M316 354h8M312 358h8M312 362h8M312 366h8M316 370h4M316 374h8M320 378h4M320 382h8M324 386h4M328 390h4M328 394h8M332 398h4M336 402h4M340 406h4M344 410h4M348 414h4"/>
<path stroke="#0028ff" d="M520 250h4M520 254h4M516 262h4M508 274h4M432 278h8M444 278h8M420 282h8M456 282h4M416 286h4M464 286h4M408 290h4M404 294h4M396 298h4M388 302h8M384 306h4M376 310h8M484 310h4M372 314h4M364 318h8M356 322h8M352 326h8M348 330h4M340 334h8M336 338h8M332 342h8M328 346h8M324 350h8M324 354h4M320 358h8M320 362h4M320 366h8M320 370h8M324 374h4M324 378h8M328 382h4M328 386h8M332 390h4M336 394h4M336 398h4M340 402h4M344 406h4"/>
<path stroke="#002cff" d="M524 242h4M524 246h4M520 258h4M512 270h4M440 278h4M428 282h4M452 282h4M420 286h4M460 286h4M412 290h4M468 290h4M408 294h4M400 298h4M396 302h4M388 306h4M384 310h4M376 314h4M372 318h4M364 322h8M360 326h4M352 330h8M348 334h8M344 338h8M340 342h8M336 346h8M332 350h8M328 354h8M328 358h4M324 362h8M328 366h4M328 370h4M328 374h8M332 378h4M332 382h4M336 386h4M336 390h4M340 398h4M344 402h4M348 410h4"/>
<path stroke="#0030ff" d="M524 250h4M516 266h4M432 282h8M444 282h8M424 286h4M416 290h4M412 294h4M472 294h4M404 298h4M400 302h4M480 302h4M392 306h4M388 310h4M380 314h4M376 318h4M372 322h4M364 326h8M360 330h4M356 334h4M352 338h4M348 342h4M344 346h4M340 350h4M336 354h8M332 358h8M332 362h8M332 366h8M332 370h8M336 374h4M336 378h4M336 382h4M340 386h4M340 390h4M340 394h4M344 398h4M348 406h4M352 410h4"/>
<path stroke="#0034ff" d="M528 246h4M524 254h4M520 262h4M440 282h4M428 286h8M452 286h8M420 290h4M464 290h4M416 294h4M408 298h4M476 298h4M404 302h4M396 306h4M384 314h4M380 318h4M376 322h4M372 326h4M364 330h8M360 334h4M356 338h4M352 342h8M348 346h8M344 350h8M344 354h4M340 358h4M340 362h4M340 366h4M340 370h4M340 374h4M340 378h4M340 382h4M344 390h4M344 394h4M348 402h4"/>
<path stroke="#0038ff" d="M528 250h4M524 258h4M512 274h4M508 278h4M436 286h8M448 286h4M424 290h4M412 298h4M408 302h4M400 306h4M392 310h4M388 314h4M384 318h4M380 322h4M376 326h4M372 330h4M364 334h8M360 338h8M360 342h4M356 346h4M352 350h4M348 354h4M344 358h8M344 362h8M344 366h4M344 370h4M344 374h4M344 378h4M344 382h4M344 386h4M348 394h4M348 398h4M352 406h4"/>
<path stroke="#003cff" d="M528 254h4M524 262h4M520 266h4M516 270h4M504 282h4M444 286h4M428 290h4M460 290h4M420 294h4M468 294h4M416 298h4M404 306h4M396 310h4M392 314h4M388 318h4M384 322h4M380 326h4M376 330h4M372 334h4M368 338h4M364 342h4M360 346h4M356 350h4M352 354h8M352 358h4M352 362h4M348 366h8M348 370h4M348 374h4M348 378h4M348 382h4M348 386h4M348 390h4M352 402h4M356 406h4"/>
<path stroke="#0040ff" d="M532 250h4M528 258h4M432 290h8M456 290h4M424 294h4M412 302h4M408 306h4M400 310h4M396 314h4M368 342h4M364 346h4M360 350h4M360 354h4M356 358h4M356 362h4M356 366h4M352 370h4M352 374h4M352 378h4M352 382h4M352 386h4M352 390h4M352 394h4M352 398h4"/>
<path stroke="#0044ff" d="M532 254h4M500 286h4M440 290h16M428 294h4M464 294h4M420 298h4M472 298h4M416 302h4M480 306h4M404 310h4M392 318h4M388 322h4M384 326h4M380 330h4M376 334h4M372 338h4M368 346h4M364 350h4M364 354h4M360 358h4M360 362h4M356 370h4M356 374h4M356 378h4M356 402h4"/>
<path stroke="#0048ff" d="M532 258h4M528 262h4M524 266h4M520 270h4M516 274h4M432 294h4M424 298h4M412 306h4M408 310h4M400 314h4M396 318h4M392 322h4M388 326h4M384 330h4M380 334h4M376 338h4M372 342h4M368 350h4M364 358h4M364 362h4M360 366h4M360 370h4M360 374h4M356 382h4M356 386h4M356 390h4M356 394h4M356 398h4M360 402h4"/>
<path stroke="#004cff" d="M512 278h4M436 294h8M460 294h4M428 298h4M420 302h4M476 302h4M416 306h4M404 314h4M384 334h4M380 338h4M376 342h4M372 346h4M372 350h4M368 354h4M368 358h4M364 366h4M364 370h4M360 378h4M360 382h4M360 398h4M364 402h4"/>
<path stroke="#0050ff" d="M536 258h4M532 262h4M528 266h4M524 270h4M444 294h4M456 294h4M432 298h4M468 298h4M424 302h4M412 310h4M408 314h4M400 318h4M396 322h4M392 326h4M388 330h4M380 342h4M376 346h4M372 354h4M368 362h4M364 374h4M360 386h4M360 390h4M360 394h4"/>
<path stroke="#0054ff" d="M536 262h4M520 274h4M448 294h8M436 298h4M420 306h4M416 310h4M480 310h4M404 318h4M392 330h4M388 334h4M384 338h4M376 350h4M372 358h4M368 366h4M368 370h4M364 378h4M364 382h4M364 398h4"/>
<path stroke="#0058ff" d="M532 266h4M528 270h4M508 282h4M496 290h4M440 298h4M428 302h4M412 314h4M400 322h4M396 326h4M384 342h4M380 346h4M376 354h4M372 362h4M368 374h4M364 386h4M364 390h4M364 394h4M368 398h4"/>
<path stroke="#005cff" d="M540 262h4M536 266h4M516 278h4M444 298h4M464 298h4M432 302h4M424 306h4M420 310h4M408 318h4M392 334h4M388 338h4M384 346h4M380 350h4M376 358h4M372 366h4M372 370h4M368 378h4M368 382h4M368 394h4"/>
<path stroke="#0060ff" d="M540 266h4M532 270h4M524 274h4M448 298h4M460 298h4M472 302h4M428 306h4M416 314h4M404 322h4M400 326h4M396 330h4M388 342h4M380 354h4M376 362h4M372 374h4M368 386h4M368 390h4M372 394h4"/>
<path stroke="#0064ff" d="M536 270h4M528 274h4M456 298h4M436 302h4M424 310h4M412 318h4M396 334h4M392 338h4M388 346h4M384 350h4M380 358h4M376 366h4M372 378h4"/>
<path stroke="#0068ff" d="M520 278h4M512 282h4M504 286h4M452 298h4M440 302h4M432 306h4M420 314h4M408 322h4M404 326h4M400 330h4M392 342h4M384 354h4M376 370h4M372 382h4M372 390h4"/>
<path stroke="#006cff" d="M444 302h4M468 302h4M428 310h4M416 318h4M412 322h4M396 338h4M388 350h4M380 362h4M376 374h4M372 386h4M376 390h4"/>
<path stroke="#0070ff" d="M524 278h4M436 306h4M476 306h4M424 314h4M408 326h4M404 330h4M400 334h4M392 346h4M384 358h4M380 366h4M376 378h4M376 386h4M380 390h4"/>
<path stroke="#0074ff" d="M516 282h4M448 302h4M464 302h4M420 318h4M396 342h4M388 354h4M384 362h4M380 370h4"/>
<path stroke="#0078ff" d="M452 302h4M440 306h4M432 310h4M416 322h4M400 338h4M392 350h4M376 382h4M380 386h4"/>
<path stroke="#007cff" d="M520 282h4M508 286h4M460 302h4M428 314h4M424 318h4M412 326h4M404 334h4M396 346h4M388 358h4M384 366h4M380 374h4"/>
<path stroke="#0080ff" d="M456 302h4M444 306h4M436 310h4M476 310h4M420 322h4M408 330h4M392 354h4M380 378h4M380 382h4M384 386h4"/>
<path stroke="#0083ff" d="M448 306h4M472 306h4M416 326h4M400 342h4M396 350h4M388 362h4M384 370h4"/>
<path stroke="#0087ff" d="M512 286h4M440 310h4M432 314h4M428 318h4M412 330h4M408 334h4M404 338h4M392 358h4M384 382h4"/>
<path stroke="#008bff" d="M500 290h4M452 306h4M424 322h4M400 346h4M388 366h4M384 374h4M384 378h4M388 382h4"/>
<path stroke="#008fff" d="M468 306h4M420 326h4M404 342h4M396 354h4"/>
<path stroke="#0093ff" d="M444 310h4M436 314h4M476 314h4M416 330h4M392 362h4M388 378h4"/>
<path stroke="#0097ff" d="M456 306h4M464 306h4M432 318h4M412 334h4M408 338h4M400 350h4M388 370h4"/>
<path stroke="#009bff" d="M460 306h4M448 310h4M428 322h4M396 358h4M388 374h4M392 378h4"/>
<path stroke="#009fff" d="M504 290h4M440 314h4M424 326h4M404 346h4M392 366h4"/>
<path stroke="#00a3ff" d="M420 330h4M408 342h4M400 354h4M392 374h4M396 378h4"/>
<path stroke="#00a7ff" d="M452 310h4M472 310h4M436 318h4M416 334h4M396 362h4"/>
<path stroke="#00abff" d="M508 290h4M444 314h4M432 322h4M412 338h4M404 350h4M392 370h4M396 374h4"/>
<path stroke="#00afff" d="M428 326h4M400 358h4"/>
<path stroke="#00b3ff" d="M456 310h4M424 330h4M408 346h4M396 366h4M396 370h4M400 374h4"/>
<path stroke="#00b7ff" d="M440 318h4"/>
<path stroke="#00bbff" d="M448 314h4M472 314h4M420 334h4M412 342h4M404 354h4M400 362h4M400 370h4"/>
<path stroke="#00bfff" d="M460 310h4M468 310h4M436 322h4M416 338h4M404 370h4"/>
<path stroke="#00c3ff" d="M432 326h4M408 350h4M400 366h4"/>
<path stroke="#00c7ff" d="M464 310h4M452 314h4M444 318h4M428 330h4M404 366h4"/>
<path stroke="#00cbff" d="M404 358h4"/>
<path stroke="#00cfff" d="M472 318h4M424 334h4M412 346h4"/>
<path stroke="#00d3ff" d="M420 338h4M416 342h4M404 362h4M408 366h4"/>
<path stroke="#00d7ff" d="M456 314h4M440 322h4M408 354h4"/>
<path stroke="#00dbff" d="M448 318h4M436 326h4"/>
<path stroke="#00dfff" d="M468 314h4M432 330h4M408 362h4"/>
<path stroke="#00e3ff" d="M412 350h4"/>
<path stroke="#00e7ff" d="M460 314h4M428 334h4M412 362h4"/>
<path stroke="#00ebff" d="M452 318h4M444 322h4M424 338h4M416 346h4M408 358h4"/>
<path stroke="#00efff" d="M420 342h4"/>
<path stroke="#00f3ff" d="M504 294h4M468 318h4M440 326h4M412 358h4M416 362h4"/>
<path stroke="#00f7ff" d="M464 314h4M468 322h4M412 354h4"/>
<path stroke="#00fbff" d="M436 330h4"/>
<path stroke="#00ffff" d="M500 294h4M456 318h4M448 322h4M432 334h4M416 358h4"/>
<path stroke="#04fffb" d="M464 318h4"/>
<path stroke="#08fff7" d="M464 322h4M428 338h4M416 350h4M420 358h4"/>
<path stroke="#0cfff3" d="M424 342h4M416 354h4"/>
<path stroke="#10ffef" d="M420 346h4"/>
<path stroke="#14ffeb" d="M460 318h4M444 326h4M420 354h4"/>
<path stroke="#18ffe7" d="M496 294h4M460 322h4M460 326h4"/>
<path stroke="#1cffe3" d="M452 322h4M440 330h4"/>
<path stroke="#20ffdf" d="M436 334h4M420 350h4M424 354h4"/>
<path stroke="#24ffdb" d="M456 322h4"/>
<path stroke="#28ffd7" d="M456 326h4M456 330h4M432 338h4M424 350h12"/>
<path stroke="#2cffd3" d="M428 342h4M424 346h16"/>
<path stroke="#30ffcf" d="M448 326h8M440 342h4"/>
<path stroke="#34ffcb" d="M452 330h4M452 334h4M432 342h8"/>
<path stroke="#38ffc7" d="M436 338h12"/>
<path stroke="#3cffc3" d="M448 330h4M440 334h12"/>
<path stroke="#40ffbf" d="M444 330h4"/>
</g></g>
<g clip-path="url(#ca4)"><g filter="url(#bl12)" stroke-width="12.3">
<path stroke="#000083" d="M0 510h12"/>
<path stroke="#000087" d="M-12 510h12"/>
<path stroke="#000093" d="M-12 522h12"/>
<path stroke="#00b7ff" d="M0 522h12M0 534h12"/>
<path stroke="#00c7ff" d="M12 522h12"/>
<path stroke="#00cbff" d="M12 534h12"/>
<path stroke="#00d3ff" d="M24 522h12M0 546h24"/>
<path stroke="#00d7ff" d="M-24 522h12M24 534h12"/>
<path stroke="#00dbff" d="M-24 546h24M24 546h12M-24 558h36"/>
<path stroke="#00dfff" d="M-24 534h12M36 534h12M12 558h12M-24 570h24M-24 582h12"/>
<path stroke="#00e3ff" d="M36 546h12M24 558h12M0 570h24M-12 582h12M-24 594h12"/>
<path stroke="#00e7ff" d="M36 558h12M0 582h12M-12 594h12"/>
<path stroke="#00efff" d="M-12 534h12"/>
</g></g>
<g clip-path="url(#ca5)"><g filter="url(#bl12)" stroke-width="12.3">
<path stroke="#000083" d="M0 510h24M0 522h24M0 534h24"/>
<path stroke="#000087" d="M0 498h24M-12 510h12M24 510h12M24 522h12M24 534h12M12 546h24"/>
<path stroke="#00008b" d="M12 486h12M24 498h12M36 510h12M36 522h12M36 534h24M0 546h12M36 546h24M12 558h36"/>
<path stroke="#00008f" d="M24 486h12M36 498h12M48 510h12M48 522h24M60 534h12M0 558h12M12 570h12"/>
<path stroke="#000093" d="M36 474h12M36 486h24M48 498h12M60 510h12M-12 522h12M72 522h12"/>
<path stroke="#000097" d="M48 474h12M60 486h12M60 498h24M72 510h12M-12 546h12"/>
<path stroke="#00009b" d="M48 462h12M60 474h12M72 486h12M84 498h12M84 510h12"/>
<path stroke="#00009f" d="M60 462h12M72 474h12M84 486h12M96 498h12"/>
<path stroke="#0000a3" d="M60 450h12M72 462h12M84 474h12M96 486h12"/>
<path stroke="#0000a7" d="M72 450h24M84 462h12M96 474h12M108 486h12"/>
<path stroke="#0000ab" d="M84 438h12M96 450h12M96 462h12M108 474h12"/>
<path stroke="#0000af" d="M96 438h12M108 450h12M108 462h12M120 474h12M-12 534h12"/>
<path stroke="#0000b3" d="M96 426h12M108 438h12M120 450h12M120 462h12M132 474h12"/>
<path stroke="#0000b7" d="M108 426h12M120 438h12M132 450h12M132 462h12"/>
<path stroke="#0000bb" d="M108 414h12M120 426h12M132 438h12M144 450h12M144 462h12"/>
<path stroke="#0000bf" d="M120 402h12M120 414h24M132 426h12M144 438h12"/>
<path stroke="#0000c3" d="M348 222h12M336 234h12M132 402h12M144 414h12M144 426h12M156 438h12M156 450h12"/>
<path stroke="#0000c7" d="M348 234h24M144 402h12M156 414h12M156 426h12M168 438h12"/>
<path stroke="#0000cb" d="M360 222h12M336 246h24M144 390h12M156 402h12M168 426h12"/>
<path stroke="#0000cf" d="M360 210h12M372 222h12M372 234h12M324 246h12M360 246h12M156 390h12M168 402h12M168 414h12M180 426h12"/>
<path stroke="#0000d3" d="M336 258h24M156 378h24M168 390h12M180 402h12M180 414h12"/>
<path stroke="#0000d7" d="M372 210h12M372 246h12M360 258h12M168 366h12M180 378h12M180 390h12M192 402h12M192 414h12"/>
<path stroke="#0000db" d="M384 210h12M384 222h12M384 234h12M324 258h12M180 366h12M192 390h12"/>
<path stroke="#0000df" d="M348 270h12M180 354h12M192 366h12M192 378h12M204 390h12M204 402h12"/>
<path stroke="#0000e3" d="M384 198h12M396 222h12M384 246h12M372 258h12M336 270h12M192 354h12M204 366h12M204 378h12"/>
<path stroke="#0000e7" d="M396 210h12M396 234h12M312 258h12M324 270h12M360 270h12M204 354h12M216 378h12M216 390h12"/>
<path stroke="#0000eb" d="M396 198h12M408 210h12M312 270h12M204 342h12M216 366h12M228 390h12"/>
<path stroke="#0000ef" d="M396 186h12M408 198h12M408 222h12M408 234h12M216 354h12M228 378h12"/>
<path stroke="#0000f3" d="M408 186h12M420 210h12M300 258h12M324 282h36M216 342h12M228 366h12"/>
<path stroke="#0000f7" d="M420 198h12M420 222h12M300 270h12M312 282h12M216 330h12M228 354h12M240 378h12"/>
<path stroke="#0000fb" d="M408 174h12M420 186h12M432 210h12M300 282h12M228 330h12M228 342h12M240 366h12"/>
<path stroke="#0000ff" d="M420 174h12M432 186h12M432 198h12M288 270h12M240 342h12M240 354h12"/>
<path stroke="#0004ff" d="M432 174h12M288 282h12M300 294h48M228 318h12M240 330h12M252 342h12M252 354h12M252 366h12"/>
<path stroke="#0008ff" d="M288 294h12M240 318h12M252 330h12"/>
<path stroke="#000cff" d="M276 282h12M276 294h12M240 306h24M252 318h24M264 330h12M264 342h12M264 354h12"/>
<path stroke="#0010ff" d="M264 294h12M264 306h72M276 318h24M276 330h12M276 342h12"/>
<path stroke="#0014ff" d="M300 318h24M288 330h12"/>
<path stroke="#00d7ff" d="M-24 522h12"/>
<path stroke="#00dfff" d="M-24 534h12"/>
</g></g>
<g clip-path="url(#ca6)"><g filter="url(#bl12)" stroke-width="12.3">
<path stroke="#0000c3" d="M348 222h12M336 234h12"/>
<path stroke="#0000c7" d="M348 234h24"/>
<path stroke="#0000cb" d="M360 222h12M336 246h24"/>
<path stroke="#0000cf" d="M372 222h12M372 234h12M360 246h12"/>
<path stroke="#0000d3" d="M348 258h12"/>
<path stroke="#0000d7" d="M372 210h12M372 246h12M360 258h12"/>
<path stroke="#0000db" d="M384 210h12M384 222h12M384 234h12M336 258h12"/>
<path stroke="#0000e3" d="M384 198h12M396 222h12M384 246h12M372 258h12"/>
<path stroke="#0000e7" d="M396 210h12M396 234h12"/>
<path stroke="#0000eb" d="M396 198h12M408 210h12"/>
<path stroke="#0000ef" d="M396 186h12M408 198h12M408 222h12M408 234h12"/>
<path stroke="#0000f3" d="M408 186h12M420 210h12"/>
<path stroke="#0000f7" d="M420 198h12M420 222h12"/>
<path stroke="#0000fb" d="M408 174h12M420 186h12M432 210h12"/>
<path stroke="#0000ff" d="M420 174h12M432 186h12M432 198h12"/>
<path stroke="#0004ff" d="M588 18h36M600 30h12M420 162h12M432 174h12"/>
<path stroke="#0008ff" d="M432 150h12M432 162h12M444 186h12M444 198h12"/>
<path stroke="#000cff" d="M444 162h12M444 174h12"/>
<path stroke="#0010ff" d="M444 138h12M444 150h12M456 186h12"/>
<path stroke="#0014ff" d="M456 150h12M456 162h12M456 174h12"/>
<path stroke="#0018ff" d="M456 138h12M468 174h12M468 186h12"/>
<path stroke="#001cff" d="M468 150h12M468 162h12"/>
<path stroke="#0020ff" d="M468 138h12M480 174h12"/>
<path stroke="#0024ff" d="M468 126h12M480 150h12M480 162h12"/>
<path stroke="#0028ff" d="M480 126h12M480 138h12"/>
<path stroke="#002cff" d="M480 114h12M492 150h12M492 162h12"/>
<path stroke="#0030ff" d="M492 126h12M492 138h12"/>
<path stroke="#0034ff" d="M492 102h12M492 114h12M504 150h12"/>
<path stroke="#0038ff" d="M504 114h12M504 126h12M504 138h12"/>
<path stroke="#003cff" d="M504 90h12M504 102h12"/>
<path stroke="#0040ff" d="M516 102h12M516 114h12M516 126h12M516 138h12"/>
<path stroke="#0044ff" d="M516 78h12M516 90h12"/>
<path stroke="#0048ff" d="M528 90h12M528 102h12M528 114h12M528 126h12M528 138h12"/>
<path stroke="#004cff" d="M528 66h12M528 78h12"/>
<path stroke="#0050ff" d="M540 78h12M540 90h12M540 102h12M540 114h12M540 126h12"/>
<path stroke="#0054ff" d="M540 54h12M540 66h12"/>
<path stroke="#0058ff" d="M576 30h24M552 54h12M552 66h12M552 78h12M552 90h12M552 102h12M552 114h12"/>
<path stroke="#005cff" d="M564 42h12M564 54h12"/>
<path stroke="#0060ff" d="M576 42h12M564 66h12M564 78h12M564 90h12M564 102h12"/>
<path stroke="#0064ff" d="M588 42h12M576 54h12"/>
<path stroke="#0068ff" d="M576 66h12M576 78h12M576 90h12"/>
<path stroke="#0070ff" d="M588 54h12M588 78h12M588 90h12"/>
<path stroke="#0074ff" d="M588 66h12"/>
<path stroke="#007cff" d="M600 78h12"/>
<path stroke="#0080ff" d="M600 66h12"/>
<path stroke="#0083ff" d="M600 54h12"/>
<path stroke="#008bff" d="M600 42h12M612 66h12"/>
<path stroke="#009bff" d="M612 54h12"/>
<path stroke="#00a3ff" d="M624 54h12"/>
<path stroke="#00afff" d="M612 42h12"/>
<path stroke="#00b3ff" d="M624 42h12"/>
<path stroke="#00c3ff" d="M624 30h12"/>
<path stroke="#00cbff" d="M612 30h12"/>
</g></g>
<g clip-path="url(#ca7)"><g filter="url(#bl12)" stroke-width="12.3">
<path stroke="#00008b" d="M0 546h12"/>
<path stroke="#00008f" d="M0 558h12"/>
<path stroke="#000093" d="M324 210h12"/>
<path stroke="#000097" d="M336 198h12M-12 546h12"/>
<path stroke="#00009f" d="M324 198h12M336 210h12"/>
<path stroke="#0000ab" d="M300 210h24"/>
<path stroke="#0000af" d="M336 186h12M312 222h24M-12 534h12"/>
<path stroke="#0000b3" d="M348 198h12"/>
<path stroke="#0000b7" d="M336 222h12"/>
<path stroke="#0000bb" d="M324 186h12M348 210h12"/>
<path stroke="#0000bf" d="M348 186h12"/>
<path stroke="#0000c3" d="M312 198h12M348 222h12M324 234h24"/>
<path stroke="#0000c7" d="M348 234h24"/>
<path stroke="#0000cb" d="M324 174h24M360 222h12M336 246h24"/>
<path stroke="#0000cf" d="M312 186h12M360 198h12M360 210h12M372 222h12M372 234h12M360 246h12"/>
<path stroke="#0000d3" d="M564 -18h12M348 258h12"/>
<path stroke="#0000d7" d="M348 174h12M360 186h12M372 210h12M312 234h12M324 246h12M372 246h12M360 258h12"/>
<path stroke="#0000db" d="M312 162h24M312 174h12M372 198h12M384 210h12M384 222h12M384 234h12M336 258h12"/>
<path stroke="#0000df" d="M336 162h24"/>
<path stroke="#0000e3" d="M564 -6h12M300 174h12M360 174h12M384 198h12M300 222h12M396 222h12M384 246h12M372 258h12"/>
<path stroke="#0000e7" d="M324 150h12M372 186h12M396 210h12M396 234h12M348 270h24"/>
<path stroke="#0000eb" d="M576 -6h12M336 150h12M384 186h12M396 198h12M408 210h12"/>
<path stroke="#0000ef" d="M348 150h24M360 162h12M372 174h12M300 186h12M396 186h12M408 198h12M408 222h12M408 234h12M324 258h12"/>
<path stroke="#0000f3" d="M384 174h12M408 186h12M420 210h12M312 246h12M336 270h12"/>
<path stroke="#0000f7" d="M564 6h24M360 138h24M372 150h12M372 162h12M396 174h12M420 198h12M420 222h12"/>
<path stroke="#0000fb" d="M588 6h12M360 126h36M348 138h12M384 138h12M384 150h12M384 162h24M408 174h12M420 186h12M432 210h12"/>
<path stroke="#0000ff" d="M552 6h12M372 114h12M396 126h12M396 138h12M396 150h12M408 162h12M420 174h12M432 186h12M300 198h12M432 198h12M300 234h12M324 270h12"/>
<path stroke="#0004ff" d="M576 18h48M600 30h12M396 102h24M384 114h36M408 126h12M408 138h12M408 150h12M420 162h12M432 174h12M312 258h12M348 282h12"/>
<path stroke="#0008ff" d="M564 18h12M408 90h24M420 102h24M420 114h24M420 126h12M420 138h12M420 150h24M432 162h12M444 186h12M444 198h12"/>
<path stroke="#000cff" d="M588 30h12M432 90h12M444 102h12M444 114h12M432 126h12M432 138h12M444 162h12M444 174h12M300 246h12M336 282h12"/>
<path stroke="#0010ff" d="M552 18h12M576 30h12M420 78h24M444 90h12M456 102h12M456 114h12M444 126h12M444 138h12M444 150h12M288 186h12M456 186h12"/>
<path stroke="#0014ff" d="M564 30h12M432 66h12M444 78h36M456 90h24M468 102h12M468 114h12M456 126h12M456 138h12M456 150h12M456 162h12M456 174h12M312 270h12"/>
<path stroke="#0018ff" d="M552 30h12M444 66h48M480 78h24M480 90h24M480 102h24M480 114h12M468 126h12M468 138h12M468 150h12M468 162h12M468 174h12M300 258h12M324 282h12"/>
<path stroke="#001cff" d="M540 30h12M540 42h48M456 54h60M492 66h36M504 78h24M504 90h12M504 102h12M492 114h12M480 126h12M480 138h12M480 150h12M480 162h12"/>
<path stroke="#0020ff" d="M540 18h12M468 42h72M588 42h12M516 54h60M528 66h24M528 78h12M516 90h24M516 102h12M504 114h12M492 126h12M492 138h12M492 150h12"/>
<path stroke="#0024ff" d="M480 30h60M576 54h12M552 66h24M540 78h24M540 90h12M528 102h12M516 114h12M504 126h12M504 138h12M504 150h12M288 234h12M312 282h12"/>
<path stroke="#0028ff" d="M540 6h12M528 18h12M564 78h12M552 90h12M540 102h12M528 114h12M516 126h12M516 138h12M288 222h12M288 246h12M300 270h12"/>
<path stroke="#002cff" d="M492 18h36M588 54h12M576 66h12M564 90h12M552 102h12M540 114h12M528 126h12M324 294h12"/>
<path stroke="#0030ff" d="M528 6h12M576 78h12M288 258h12"/>
<path stroke="#0034ff" d="M516 6h12M588 66h12M300 282h12"/>
<path stroke="#0038ff" d="M312 294h12"/>
<path stroke="#003cff" d="M600 66h12M288 270h12"/>
<path stroke="#0040ff" d="M528 -6h12M600 42h12M600 54h12"/>
<path stroke="#0044ff" d="M288 210h12M300 294h12"/>
<path stroke="#0048ff" d="M540 -6h12M288 282h12"/>
<path stroke="#004cff" d="M276 246h12M276 258h12M312 306h12"/>
<path stroke="#0050ff" d="M612 54h12M276 234h12M276 270h12"/>
<path stroke="#0054ff" d="M288 294h12"/>
<path stroke="#0058ff" d="M276 282h12M300 306h12"/>
<path stroke="#005cff" d="M540 -18h12M276 222h12"/>
<path stroke="#0060ff" d="M276 294h12M288 306h12"/>
<path stroke="#0064ff" d="M264 258h12M264 270h12M300 318h12"/>
<path stroke="#0068ff" d="M264 246h12M264 282h12"/>
<path stroke="#006cff" d="M264 234h12M276 306h12M288 318h12"/>
<path stroke="#0070ff" d="M264 294h12"/>
<path stroke="#0074ff" d="M276 318h12"/>
<path stroke="#0078ff" d="M252 258h12M252 270h12M252 282h12M264 306h12"/>
<path stroke="#007cff" d="M276 210h12M264 222h12M252 246h12M252 294h12M264 318h12M276 330h12"/>
<path stroke="#0080ff" d="M288 198h12M252 306h12"/>
<path stroke="#0083ff" d="M552 -6h12M252 234h12M240 270h12M240 282h12M252 318h12M264 330h12"/>
<path stroke="#0087ff" d="M240 258h12M240 294h12M240 306h12M252 330h12"/>
<path stroke="#008bff" d="M240 246h12M228 294h12M240 318h12M264 342h12"/>
<path stroke="#008fff" d="M264 210h12M252 222h12M228 258h12M228 270h12M228 282h12M228 306h12M228 318h12M240 330h12M252 342h12"/>
<path stroke="#0093ff" d="M240 234h12M216 282h12M216 294h12M216 306h12M228 330h12M240 342h12"/>
<path stroke="#0097ff" d="M228 246h12M216 270h12M204 294h12M204 306h12M216 318h12M216 330h12M228 342h12M252 354h12"/>
<path stroke="#009bff" d="M240 222h12M228 234h12M216 258h12M204 270h12M204 282h12M204 318h12M204 330h12M216 342h12M240 354h12"/>
<path stroke="#009fff" d="M252 210h12M216 246h12M204 258h12M192 282h12M192 294h12M192 306h12M192 318h12M192 330h12M192 342h24M216 354h24M240 366h12"/>
<path stroke="#00a3ff" d="M216 234h12M204 246h12M192 258h12M192 270h12M180 282h12M180 294h12M180 306h12M168 318h24M168 330h24M168 342h24M180 354h36M180 366h36M228 366h12"/>
<path stroke="#00a7ff" d="M276 198h12M180 270h12M168 282h12M168 294h12M156 306h24M156 318h12M156 330h12M156 342h12M156 354h24M156 366h24M216 366h12M156 378h72M168 390h48M192 402h12"/>
<path stroke="#00abff" d="M264 198h12M156 282h12M144 294h24M144 306h12M144 318h12M132 330h24M132 342h24M132 354h24M132 366h24M132 378h24M132 390h36M132 402h60M144 414h48"/>
<path stroke="#00afff" d="M612 42h12M132 306h12M132 318h12M120 330h12M120 342h12M108 354h24M108 366h24M108 378h24M108 390h24M108 402h24M108 414h36M108 426h60M120 438h36M132 450h12"/>
<path stroke="#00b3ff" d="M624 42h12M120 318h12M108 330h12M96 342h24M96 354h12M96 366h12M96 378h12M84 390h24M84 402h24M84 414h24M84 426h24M84 438h36M84 450h48M96 462h36M96 474h12"/>
<path stroke="#00b7ff" d="M96 330h12M84 342h12M84 354h12M84 366h12M72 378h24M72 390h12M72 402h12M72 414h12M60 426h24M60 438h24M60 450h24M60 462h36M60 474h36M72 486h24"/>
<path stroke="#00bbff" d="M72 354h12M60 366h24M60 378h12M60 390h12M48 402h24M48 414h24M48 426h12M36 438h24M36 450h24M36 462h24M36 474h24M36 486h36M48 498h36M60 510h12M0 522h12M0 534h12"/>
<path stroke="#00bfff" d="M48 366h12M36 378h24M36 390h24M36 402h12M24 414h24M24 426h24M24 438h12M12 450h24M12 462h24M12 474h24M12 486h24M12 498h36M24 510h36M12 522h12M36 522h12"/>
<path stroke="#00c3ff" d="M624 30h12M24 390h12M12 402h24M12 414h12M0 426h24M-12 438h36M-12 450h24M-12 462h24M-12 474h24M0 486h12M0 498h12M0 510h24M24 522h12M12 534h12"/>
<path stroke="#00c7ff" d="M-12 414h24M-24 426h24M-24 438h12M-24 450h12M-24 462h12M-24 474h12M-24 486h24M-12 498h12M24 534h12"/>
<path stroke="#00cbff" d="M612 30h12M-24 498h12M-12 510h12"/>
<path stroke="#00cfff" d="M-24 510h12M12 546h12"/>
<path stroke="#00d7ff" d="M552 -18h12M-24 522h12"/>
<path stroke="#00dfff" d="M-12 522h12M-24 534h12"/>
</g></g>
<g clip-path="url(#ca7p1)"><g filter="url(#bl4)" stroke-width="4.3">
<path stroke="#000093" d="M336 198h4M332 202h8M328 206h12M328 210h8"/>
<path stroke="#000097" d="M332 198h4M340 198h4M328 202h4M340 202h4"/>
<path stroke="#00009b" d="M336 194h8M344 198h4M344 202h4M324 206h4M340 206h4M324 210h4M336 210h4M328 214h8"/>
<path stroke="#00009f" d="M332 194h4M344 194h4M328 198h4M324 202h4M340 210h4M324 214h4M336 214h4"/>
<path stroke="#0000a3" d="M340 190h4M344 206h4M320 210h4M320 214h4M324 218h8"/>
<path stroke="#0000a7" d="M336 190h4M344 190h4M328 194h4M348 194h4M324 198h4M348 198h4M348 202h4M320 206h4M316 214h4M340 214h4M316 218h8M332 218h8"/>
<path stroke="#0000ab" d="M332 190h4M320 202h4M348 206h4M304 210h4M316 210h4M344 210h4M308 214h8M312 218h4M320 222h8"/>
<path stroke="#0000af" d="M336 186h8M348 190h4M344 214h4M340 218h4M316 222h4M328 222h8"/>
<path stroke="#0000b3" d="M332 186h4M344 186h4M328 190h4M324 194h4M352 194h4M320 198h4M352 198h4M352 202h4M308 210h8M348 210h4M312 222h4M336 222h4M320 226h8"/>
<path stroke="#0000b7" d="M348 186h4M352 190h4M316 206h4M352 206h4M348 214h4M308 218h4M344 218h4M340 222h4M316 226h4M328 226h8"/>
<path stroke="#0000bb" d="M332 182h12M328 186h4M324 190h4M320 194h4M356 198h4M352 210h4M348 218h4M344 222h4M336 226h8M320 230h8"/>
<path stroke="#0000bf" d="M332 178h4M328 182h4M344 182h4M324 186h4M352 186h4M356 190h4M356 194h4M316 202h4M356 202h4M300 206h4M356 206h4M304 214h4M352 214h4M348 222h4M344 226h4M328 230h16"/>
<path stroke="#0000c3" d="M328 178h4M336 178h4M348 182h4M320 190h4M316 198h4M312 206h4M356 210h4M356 214h4M352 218h4M352 222h4M348 226h8M344 230h8M324 234h28"/>
<path stroke="#0000c7" d="M336 174h4M340 178h8M324 182h4M352 182h4M320 186h4M356 186h4M316 194h4M360 194h4M360 198h4M360 202h4M304 206h4M360 206h4M356 218h8M356 222h8M312 226h4M356 226h8M316 230h4M352 230h16M352 234h16M328 238h36M348 242h12"/>
<path stroke="#0000cb" d="M328 174h8M340 174h4M324 178h4M348 178h4M316 190h4M360 190h4M308 206h4M360 210h4M360 214h8M364 218h4M308 222h4M364 222h8M364 226h8M368 230h8M320 234h4M324 238h4M332 242h16M340 246h12"/>
<path stroke="#0000cf" d="M340 170h4M324 174h4M344 174h4M352 178h4M320 182h4M356 182h4M316 186h4M360 186h4M364 194h4M364 198h4M312 202h4M364 202h4M364 206h4M364 210h4M368 214h4M368 218h8M372 222h8M372 226h8M328 242h4M332 246h8M340 250h8"/>
<path stroke="#0000d3" d="M328 170h12M344 170h4M348 174h4M320 178h4M316 182h4M360 182h4M364 190h4M368 198h4M368 202h4M368 206h4M368 210h8M372 214h8M304 218h4M376 218h8M380 222h4M336 250h4M340 254h4"/>
<path stroke="#0000d7" d="M336 166h12M348 170h4M352 174h4M356 178h4M312 186h4M364 186h4M312 190h4M368 194h4M312 198h4M372 202h4M372 206h8M300 210h4M376 210h8M380 214h8M384 218h4M312 230h4M316 234h4M320 238h4M324 242h4M328 246h4M332 250h4M336 254h4"/>
<path stroke="#0000db" d="M348 166h4M352 170h4M356 174h4M360 178h4M312 182h4M364 182h4M368 186h4M368 190h4M312 194h4M372 194h4M372 198h8M376 202h8M380 206h8M384 210h8M388 214h4M308 226h4"/>
<path stroke="#0000df" d="M340 162h16M352 166h4M356 170h4M360 174h4M364 178h4M368 182h4M372 190h4M376 194h4M380 198h4M308 202h4M384 202h8M388 206h4M392 210h4M392 214h4M324 246h4M328 250h4M332 254h4M336 258h4"/>
<path stroke="#0000e3" d="M344 158h8M356 166h4M364 174h4M368 178h4M308 186h4M372 186h4M376 190h4M380 194h8M384 198h8M392 202h4M392 206h8M396 210h4M300 214h4M304 222h4M312 234h4M316 238h4M320 242h4"/>
<path stroke="#0000e7" d="M352 158h8M356 162h4M360 166h4M360 170h4M372 178h4M372 182h8M376 186h8M308 190h4M380 190h8M388 194h8M392 198h8M396 202h8M400 206h4M308 230h4M324 250h4M328 254h4M332 258h4"/>
<path stroke="#0000eb" d="M348 154h12M360 158h4M360 162h4M364 166h4M364 170h8M368 174h8M376 178h4M380 182h4M384 186h8M388 190h12M308 194h4M396 194h12M308 198h4M400 198h12M404 202h4M316 242h4M320 246h4"/>
<path stroke="#0000ef" d="M356 150h4M364 150h8M360 154h8M364 158h4M364 162h4M368 166h4M372 170h4M376 174h4M380 178h8M384 182h16M392 186h16M400 190h12M408 194h8M412 198h4M312 238h4M320 250h4M324 254h4M328 258h4"/>
<path stroke="#0000f3" d="M368 142h12M360 146h20M360 150h4M372 150h4M368 154h8M368 158h8M368 162h8M372 166h8M376 170h12M380 174h16M388 178h20M400 182h12M408 186h8M304 190h4M412 190h8M416 194h4M304 202h4M300 218h4M304 226h4M308 234h4M312 242h4M316 246h4M324 258h4M328 262h4"/>
<path stroke="#0000f7" d="M376 134h16M368 138h20M364 142h4M380 142h8M380 146h4M376 150h8M376 154h8M376 158h8M376 162h12M380 166h20M388 170h20M396 174h16M408 178h12M412 182h12M416 186h8M420 190h4M304 230h4M308 238h4M316 250h4M320 254h4"/>
<path stroke="#0000fb" d="M384 126h16M380 130h20M392 134h4M388 138h8M388 142h8M384 146h12M384 150h12M384 154h12M384 158h20M388 162h20M400 166h16M408 170h12M412 174h12M420 178h8M424 182h4M424 186h8M304 194h4M312 246h4M316 254h4M320 258h4M324 262h4"/>
<path stroke="#0000ff" d="M392 122h4M400 130h4M396 134h8M396 138h8M396 142h8M396 146h12M396 150h16M396 154h20M404 158h16M408 162h16M416 166h12M420 170h8M424 174h8M428 178h8M428 182h8M304 198h4M300 222h4M304 234h4M308 242h4M312 250h4M320 262h4M324 266h4"/>
<path stroke="#0004ff" d="M404 134h4M404 138h4M404 142h8M408 146h8M412 150h8M416 154h4M420 158h4M424 162h4M428 166h4M428 170h8M432 174h4M436 178h4M300 194h4M300 226h4M304 238h4M308 246h4M312 254h4M316 258h4"/>
<path stroke="#0008ff" d="M300 230h4M304 242h4M308 250h4M316 262h4M320 266h4"/>
<path stroke="#000cff" d="M300 198h4M300 234h4M304 246h4M308 254h4M312 258h4M316 266h4M320 270h4"/>
<path stroke="#0010ff" d="M296 210h4M296 214h4M296 218h4M296 222h4M296 226h4M300 238h4M304 250h4M308 258h4M312 262h4"/>
<path stroke="#0014ff" d="M296 198h4M300 202h4M296 230h4M300 242h4M300 246h4M304 254h4M312 266h4M316 270h4"/>
<path stroke="#0018ff" d="M296 234h4M296 238h4M300 250h4M304 258h4M308 262h4M312 270h4"/>
<path stroke="#001cff" d="M296 242h4M300 254h4M304 262h4M308 266h4"/>
<path stroke="#0020ff" d="M296 206h4M296 246h4M300 258h4M308 270h4M312 274h4"/>
<path stroke="#0024ff" d="M292 226h4M292 230h4M292 234h4M296 250h4M296 254h4M300 262h4M304 266h4M308 274h4"/>
<path stroke="#0028ff" d="M292 222h4M292 238h4M292 242h4M292 246h4M296 258h4M300 266h4M304 270h4M308 278h4"/>
<path stroke="#002cff" d="M292 218h4M292 250h4M296 262h4M300 270h4M304 274h4"/>
<path stroke="#0030ff" d="M292 254h4M292 258h4M296 266h4M300 274h4M304 278h4"/>
<path stroke="#0034ff" d="M292 214h4M288 230h4M288 234h4M288 238h4M288 242h4M288 246h4M292 262h4M296 270h4M300 278h4M304 282h4"/>
<path stroke="#0038ff" d="M288 226h4M288 250h4M288 254h4M292 266h4M296 274h4"/>
<path stroke="#003cff" d="M288 222h4M288 258h4M288 262h4M292 270h4M296 278h4M300 282h4"/>
<path stroke="#0040ff" d="M284 234h4M284 238h4M284 242h4M284 246h4M284 250h4M288 266h4M292 274h4M296 282h4M300 286h4"/>
<path stroke="#0044ff" d="M292 210h4M288 218h4M284 230h4M284 254h4M284 258h4M288 270h4M288 274h4M292 278h4M296 286h4"/>
<path stroke="#0048ff" d="M284 226h4M284 262h4M284 266h4M284 270h4M288 278h4M292 282h4"/>
<path stroke="#004cff" d="M284 222h4M280 238h4M280 242h4M280 246h4M280 250h4M280 254h4M280 258h4M284 274h4M288 282h4M292 286h4"/>
<path stroke="#0050ff" d="M288 214h4M280 230h4M280 234h4M280 262h4M280 266h4M280 270h4M284 278h4M288 286h4M292 290h4"/>
<path stroke="#0054ff" d="M284 218h4M280 226h4M276 242h4M276 246h4M276 250h4M276 254h4M276 258h4M280 274h4M284 282h4"/>
<path stroke="#0058ff" d="M292 206h4M276 234h4M276 238h4M276 262h4M276 266h4M276 270h4"/>
<path stroke="#005cff" d="M280 222h4M276 230h4M272 246h4M272 250h4M272 254h4M272 258h4M272 262h4"/>
<path stroke="#0060ff" d="M288 210h4M284 214h4M276 226h4M272 238h4M272 242h4M272 266h4"/>
<path stroke="#0064ff" d="M280 218h4M272 234h4M268 250h4M268 254h4M268 258h4"/>
<path stroke="#0068ff" d="M296 202h4M276 222h4M272 230h4M268 238h4M268 242h4M268 246h4"/>
<path stroke="#006cff" d="M272 226h4M268 234h4M264 246h4M264 250h4M264 254h4"/>
<path stroke="#0070ff" d="M284 210h4M280 214h4M276 218h4M272 222h4M268 230h4M264 238h4M264 242h4"/>
<path stroke="#0074ff" d="M292 202h4M268 226h4M264 234h4M260 246h4M260 250h4"/>
<path stroke="#0078ff" d="M288 206h4M276 214h4M272 218h4M264 230h4M260 238h4M260 242h4"/>
<path stroke="#007cff" d="M280 210h4M268 222h4M264 226h4M260 234h4M256 242h4M256 246h4"/>
<path stroke="#0080ff" d="M292 198h4M272 214h4M268 218h4M260 230h4M256 238h4"/>
<path stroke="#0083ff" d="M284 206h4M264 222h4M260 226h4M256 234h4M252 238h4"/>
<path stroke="#0087ff" d="M288 202h4M256 226h4M256 230h4M252 234h4"/>
<path stroke="#008bff" d="M252 230h4M248 234h4"/>
</g></g>
<g clip-path="url(#ca8)"><g filter="url(#bl12)" stroke-width="12.3">
<path stroke="#0028ff" d="M540 6h12"/>
<path stroke="#0030ff" d="M528 6h12"/>
<path stroke="#003cff" d="M600 66h12"/>
<path stroke="#0040ff" d="M528 -6h12M600 42h12M600 54h12"/>
<path stroke="#0048ff" d="M540 -6h12"/>
<path stroke="#0050ff" d="M612 54h12"/>
<path stroke="#005cff" d="M540 -18h12"/>
<path stroke="#0083ff" d="M552 -6h12"/>
<path stroke="#00afff" d="M612 42h12"/>
<path stroke="#00b3ff" d="M624 42h12"/>
<path stroke="#00c3ff" d="M624 30h12"/>
<path stroke="#00cbff" d="M612 30h12"/>
<path stroke="#00cfff" d="M624 18h12"/>
<path stroke="#00d7ff" d="M552 -18h12M612 18h12M600 30h12"/>
<path stroke="#00dbff" d="M624 6h12"/>
<path stroke="#00dfff" d="M624 -6h12M612 6h12M600 18h12"/>
<path stroke="#00e3ff" d="M564 -18h12M612 -6h12M600 6h12"/>
<path stroke="#00e7ff" d="M576 -18h60M600 -6h12"/>
<path stroke="#00ebff" d="M576 -6h24M588 6h12M588 18h12M588 30h12"/>
<path stroke="#00efff" d="M564 -6h12"/>
<path stroke="#00f3ff" d="M576 6h12M588 42h12"/>
<path stroke="#00f7ff" d="M564 6h12M576 18h12M576 30h12"/>
<path stroke="#00fbff" d="M576 42h12M588 54h12"/>
<path stroke="#04fffb" d="M564 18h12M564 30h12"/>
<path stroke="#0cfff3" d="M552 6h12"/>
<path stroke="#14ffeb" d="M552 18h12M552 30h12"/>
<path stroke="#2cffd3" d="M540 18h12"/>
</g></g>
<g clip-path="url(#ca9)"><g filter="url(#bl12)" stroke-width="12.3">
<path stroke="#0000d3" d="M564 -18h12"/>
<path stroke="#0000e3" d="M564 -6h12"/>
<path stroke="#0000eb" d="M576 -6h12"/>
<path stroke="#0000f7" d="M564 6h24"/>
<path stroke="#0000ff" d="M300 222h12"/>
<path stroke="#0024ff" d="M288 234h12"/>
<path stroke="#0028ff" d="M288 222h12"/>
<path stroke="#004cff" d="M288 210h12M276 246h12"/>
<path stroke="#0050ff" d="M276 234h12"/>
<path stroke="#005cff" d="M276 222h12"/>
<path stroke="#0064ff" d="M264 258h12"/>
<path stroke="#0068ff" d="M552 6h12M264 246h12"/>
<path stroke="#006cff" d="M264 234h12"/>
<path stroke="#0074ff" d="M564 18h12"/>
<path stroke="#0078ff" d="M252 258h12"/>
<path stroke="#007cff" d="M552 18h12M276 210h12M264 222h12M252 246h12"/>
<path stroke="#0080ff" d="M552 30h12"/>
<path stroke="#0083ff" d="M540 30h12M252 234h12M240 270h12"/>
<path stroke="#0087ff" d="M540 18h12M540 42h12M240 258h12"/>
<path stroke="#008bff" d="M396 30h48M528 30h12M384 42h72M528 42h12M372 54h72M372 66h48M240 246h12"/>
<path stroke="#008fff" d="M540 6h12M396 18h60M528 18h12M372 30h24M444 30h84M360 42h24M456 42h72M360 54h12M444 54h24M504 54h24M360 66h12M420 66h24M372 78h36M264 210h12M252 222h12M228 258h12M228 270h12M228 282h12"/>
<path stroke="#0093ff" d="M396 6h60M372 18h24M456 18h72M360 30h12M348 42h12M348 54h12M468 54h36M348 66h12M444 66h12M504 66h12M360 78h12M408 78h24M240 234h12M216 282h12M216 294h12"/>
<path stroke="#0097ff" d="M396 -6h60M372 6h24M456 6h36M528 6h12M360 18h12M348 30h12M336 42h12M336 54h12M336 66h12M456 66h12M480 66h24M336 78h24M492 78h12M360 90h36M228 246h12M216 270h12M204 294h12"/>
<path stroke="#009bff" d="M396 -18h60M372 -6h24M456 -6h24M348 6h24M492 6h36M336 18h24M324 30h24M324 42h12M324 54h12M324 66h12M468 66h12M324 78h12M432 78h12M480 78h12M336 90h24M396 90h12M240 222h12M228 234h12M216 258h12M204 270h12M204 282h12"/>
<path stroke="#009fff" d="M372 -18h24M456 -18h24M348 -6h24M480 -6h24M336 6h12M324 18h12M312 30h12M312 42h12M312 54h12M312 66h12M312 78h12M444 78h12M468 78h12M324 90h12M408 90h12M252 210h12M216 246h12M204 258h12M192 282h12M192 294h12M192 306h12"/>
<path stroke="#00a3ff" d="M348 -18h24M480 -18h12M336 -6h12M504 -6h24M324 6h12M312 18h12M300 30h12M288 42h24M300 54h12M300 66h12M300 78h12M456 78h12M312 90h12M420 90h12M468 90h12M336 102h48M228 222h12M216 234h12M204 246h12M192 258h12M192 270h12M180 282h12M180 294h12M180 306h12M168 318h24M168 330h12"/>
<path stroke="#00a7ff" d="M324 -18h24M492 -18h12M312 -6h24M528 -6h12M300 6h24M288 18h24M288 30h12M276 42h12M276 54h24M276 66h24M288 78h12M300 90h12M456 90h12M312 102h24M384 102h12M276 198h12M240 210h12M192 246h12M180 258h12M180 270h12M168 282h12M168 294h12M156 306h24M156 318h12M156 330h12M156 342h12"/>
<path stroke="#00abff" d="M312 -18h12M504 -18h12M300 -6h12M288 6h12M276 18h12M264 30h24M264 42h12M252 54h24M264 66h12M264 78h24M276 90h24M432 90h24M288 102h24M396 102h12M456 102h12M336 114h12M264 198h12M228 210h12M216 222h12M204 234h12M180 246h12M168 258h12M168 270h12M156 282h12M144 294h24M144 306h12M144 318h12M132 330h24M132 342h24M132 354h12"/>
<path stroke="#00afff" d="M288 -18h24M516 -18h12M276 -6h24M264 6h24M252 18h24M252 30h12M240 42h24M240 54h12M240 66h24M252 78h12M264 90h12M276 102h12M312 114h24M348 114h24M252 198h12M216 210h12M204 222h12M180 234h24M168 246h12M156 258h12M144 270h24M144 282h12M132 294h12M132 306h12M132 318h12M120 330h12M120 342h12M108 354h24M108 366h24M108 378h12"/>
<path stroke="#00b3ff" d="M264 -18h24M252 -6h24M540 -6h12M240 6h24M228 18h24M228 30h24M228 42h12M228 54h12M228 66h12M228 78h24M240 90h24M252 102h24M408 102h12M444 102h12M276 114h36M228 198h24M204 210h12M180 222h24M156 234h24M144 246h24M132 258h24M132 270h12M120 282h24M120 294h12M120 306h12M108 318h24M108 330h12M96 342h24M96 354h12M96 366h12M96 378h12M84 390h24"/>
<path stroke="#00b7ff" d="M240 -18h24M528 -18h12M228 -6h24M216 6h24M216 18h12M204 30h24M204 42h24M204 54h24M204 66h24M204 78h24M216 90h24M228 102h24M432 102h12M240 114h36M372 114h12M444 114h12M240 186h36M204 198h24M168 210h36M144 222h36M132 234h24M120 246h24M120 258h12M108 270h24M108 282h12M108 294h12M96 306h24M96 318h12M84 330h24M84 342h12M84 354h12M84 366h12M72 378h24M72 390h12M72 402h12"/>
<path stroke="#00bbff" d="M216 -18h24M204 -6h24M192 6h24M192 18h24M192 30h12M180 42h24M180 54h24M180 66h24M180 78h24M180 90h36M180 102h48M420 102h12M204 114h36M384 114h12M228 126h108M144 186h96M132 198h72M120 210h48M108 222h36M108 234h24M96 246h24M96 258h24M96 270h12M96 282h12M84 294h24M84 306h12M72 318h24M72 330h12M72 342h12M60 354h24M60 366h24M60 378h12M60 390h12M48 402h24M48 414h24M48 426h12"/>
<path stroke="#00bfff" d="M192 -18h24M180 -6h24M180 6h12M168 18h24M168 30h24M156 42h24M156 54h24M156 66h24M144 78h36M144 90h36M132 102h48M120 114h84M432 114h12M120 126h108M336 126h24M120 138h168M108 150h156M108 162h156M96 174h180M96 186h48M276 186h12M96 198h36M84 210h36M84 222h24M84 234h24M84 246h12M84 258h12M72 270h24M72 282h24M72 294h12M60 306h24M60 318h12M60 330h12M48 342h24M48 354h12M48 366h12M36 378h24M36 390h24M36 402h12M24 414h24M24 426h24M24 438h12M12 450h12"/>
<path stroke="#00c3ff" d="M168 -18h24M540 -18h12M156 -6h24M156 6h24M156 18h12M144 30h24M144 42h12M132 54h24M120 66h36M120 78h24M108 90h36M108 102h24M96 114h24M96 126h24M432 126h12M84 138h36M288 138h12M84 150h24M264 150h12M84 162h24M264 162h12M72 174h24M72 186h24M72 198h24M72 210h12M60 222h24M60 234h24M60 246h24M60 258h24M60 270h12M48 282h24M48 294h24M48 306h12M48 318h12M36 330h24M36 342h12M36 354h12M24 366h24M24 378h12M24 390h12M12 402h24M12 414h12M0 426h24M-12 438h36M-12 450h24M-12 462h24"/>
<path stroke="#00c7ff" d="M144 -18h24M144 -6h12M132 6h24M132 18h24M120 30h24M120 42h24M108 54h24M108 66h12M96 78h24M84 90h24M84 102h24M72 114h24M396 114h12M420 114h12M72 126h24M360 126h12M72 138h12M300 138h12M60 150h24M276 150h12M60 162h24M60 174h12M48 186h24M48 198h24M288 198h12M48 210h24M48 222h12M48 234h12M48 246h12M36 258h24M36 270h24M36 282h12M36 294h12M36 306h12M24 318h24M24 330h12M24 342h12M12 354h24M12 366h12M12 378h12M0 390h24M-12 402h24M-12 414h24M-24 426h24M-24 438h12M-24 450h12M-24 462h12"/>
<path stroke="#00cbff" d="M132 -18h12M120 -6h24M120 6h12M108 18h24M108 30h12M96 42h24M96 54h12M84 66h24M72 78h24M72 90h12M60 102h24M60 114h12M60 126h12M48 138h24M312 138h12M48 150h12M288 150h12M36 162h24M276 162h12M36 174h24M276 174h12M36 186h12M36 198h12M36 210h12M24 222h24M24 234h24M24 246h24M24 258h12M24 270h12M12 282h24M12 294h24M12 306h24M12 318h12M12 330h12M0 342h24M0 354h12M-12 366h24M-12 378h24M-24 390h24M-24 402h12M-24 414h12"/>
<path stroke="#00cfff" d="M120 -18h12M108 -6h12M108 6h12M96 18h12M84 30h24M84 42h12M72 54h24M72 66h12M60 78h12M60 90h12M48 102h12M48 114h12M408 114h12M36 126h24M372 126h12M420 126h12M36 138h12M324 138h12M24 150h24M24 162h12M24 174h12M12 186h24M12 198h24M12 210h24M0 222h24M0 234h24M0 246h24M0 258h24M0 270h24M0 282h12M0 294h12M0 306h12M-12 318h24M-12 330h24M-12 342h12M-24 354h24M-24 366h12M-24 378h12"/>
<path stroke="#00d3ff" d="M96 -18h24M96 -6h12M84 6h24M84 18h12M72 30h12M60 42h24M60 54h12M48 66h24M48 78h12M36 90h24M36 102h12M24 114h24M24 126h12M12 138h24M336 138h12M12 150h12M0 162h24M0 174h24M-12 186h24M-12 198h24M-24 210h36M-24 222h24M-24 234h24M-24 246h24M-24 258h24M-24 270h24M-24 282h24M-24 294h24M-24 306h24M-24 318h12M-24 330h12M-24 342h12"/>
<path stroke="#00d7ff" d="M84 -18h12M552 -18h12M84 -6h12M72 6h12M60 18h24M60 30h12M48 42h12M48 54h12M36 66h12M36 78h12M24 90h12M24 102h12M12 114h12M0 126h24M408 126h12M0 138h12M-12 150h24M300 150h12M-24 162h24M288 162h12M-24 174h24M-24 186h12M-24 198h12"/>
<path stroke="#00dbff" d="M72 -18h12M60 -6h24M60 6h12M48 18h12M48 30h12M36 42h12M36 54h12M24 66h12M12 78h24M12 90h12M0 102h24M-12 114h24M-12 126h12M-24 138h24M-24 150h12"/>
<path stroke="#00dfff" d="M60 -18h12M48 -6h12M36 6h24M36 18h12M24 30h24M24 42h12M12 54h24M12 66h12M0 78h12M-12 90h24M-12 102h12M-24 114h12M-24 126h12M384 126h12M348 138h12M408 138h12M312 150h12"/>
<path stroke="#00e3ff" d="M36 -18h24M36 -6h12M24 6h12M24 18h12M12 30h12M12 42h12M0 54h12M-12 66h24M-12 78h12M-24 90h12M-24 102h12"/>
<path stroke="#00e7ff" d="M24 -18h12M12 -6h24M12 6h12M0 18h24M0 30h12M-12 42h24M-24 54h24M-24 66h12M-24 78h12M396 126h12M288 174h12"/>
<path stroke="#00ebff" d="M12 -18h12M0 -6h12M552 -6h12M0 6h12M-12 18h12M-24 30h24M-24 42h12M360 138h12M324 150h12M300 162h12"/>
<path stroke="#00efff" d="M-12 -18h24M-12 -6h12M-24 6h24M-24 18h12M396 138h12M288 186h12"/>
<path stroke="#00f3ff" d="M-24 -18h12M-24 -6h12M396 150h12"/>
<path stroke="#00f7ff" d="M336 150h12"/>
<path stroke="#00fbff" d="M372 138h24"/>
<path stroke="#00ffff" d="M312 162h12"/>
<path stroke="#04fffb" d="M384 150h12"/>
<path stroke="#08fff7" d="M348 150h12M384 162h12"/>
<path stroke="#0cfff3" d="M300 174h12"/>
<path stroke="#14ffeb" d="M372 150h12M324 162h12"/>
<path stroke="#1cffe3" d="M372 162h12M372 174h12"/>
<path stroke="#20ffdf" d="M360 150h12"/>
<path stroke="#24ffdb" d="M300 210h12"/>
<path stroke="#2cffd3" d="M336 162h12"/>
<path stroke="#30ffcf" d="M360 162h12M312 174h12M360 174h12"/>
<path stroke="#34ffcb" d="M348 186h12"/>
<path stroke="#3cffc3" d="M336 198h12"/>
<path stroke="#44ffbb" d="M348 174h12M300 186h12"/>
<path stroke="#4cffb3" d="M348 162h12"/>
<path stroke="#50ffaf" d="M336 186h12"/>
<path stroke="#54ffab" d="M324 174h12"/>
<path stroke="#64ff9b" d="M336 174h12"/>
<path stroke="#68ff97" d="M324 198h12M324 210h12"/>
<path stroke="#80ff80" d="M324 186h12"/>
<path stroke="#83ff7c" d="M312 186h12"/>
<path stroke="#9bff64" d="M312 210h12"/>
<path stroke="#a3ff5c" d="M312 198h12"/>
<path stroke="#afff50" d="M300 198h12"/>
</g></g>
<g clip-path="url(#ca9p1)"><g filter="url(#bl4)" stroke-width="4.3">
<path stroke="#0020ff" d="M296 214h4"/>
<path stroke="#002cff" d="M300 210h4M292 218h4"/>
<path stroke="#0034ff" d="M300 206h4M292 214h4"/>
<path stroke="#003cff" d="M296 210h4M288 222h4"/>
<path stroke="#0044ff" d="M288 218h4"/>
<path stroke="#004cff" d="M292 210h4M284 222h4"/>
<path stroke="#0050ff" d="M288 214h4"/>
<path stroke="#0054ff" d="M284 218h4M280 226h4"/>
<path stroke="#005cff" d="M280 222h4M276 230h4"/>
<path stroke="#0060ff" d="M288 210h4M284 214h4M276 226h4"/>
<path stroke="#0064ff" d="M280 218h4M272 234h4"/>
<path stroke="#0068ff" d="M276 222h4M272 230h4M268 238h4"/>
<path stroke="#006cff" d="M272 226h4M268 234h4"/>
<path stroke="#0070ff" d="M284 210h4M280 214h4M276 218h4M272 222h4M268 230h4M264 238h4"/>
<path stroke="#0074ff" d="M296 206h4M268 226h4M264 234h4"/>
<path stroke="#0078ff" d="M288 206h4M276 214h4M272 218h4M264 230h4M260 238h4M260 242h4"/>
<path stroke="#007cff" d="M292 206h4M280 210h4M268 222h4M264 226h4M260 234h4M256 242h4"/>
<path stroke="#0080ff" d="M272 214h4M268 218h4M260 230h4M256 238h4"/>
<path stroke="#0083ff" d="M284 206h4M276 210h4M264 222h4M260 226h4M256 234h4M252 238h4"/>
<path stroke="#0087ff" d="M268 214h4M264 218h4M260 222h4M256 226h4M256 230h4M252 234h4"/>
<path stroke="#008bff" d="M280 206h4M272 210h4M252 230h4M248 234h4"/>
<path stroke="#008fff" d="M276 206h4M268 210h4M264 214h4M260 218h4M256 222h4M252 226h4M248 230h4"/>
<path stroke="#0093ff" d="M360 82h4M272 206h4M260 214h4M256 218h4M252 222h4M248 226h4M244 230h4"/>
<path stroke="#0097ff" d="M352 86h16M360 90h12M284 202h4M268 206h4M264 210h4M256 214h4M252 218h4M248 222h4M244 226h4"/>
<path stroke="#009bff" d="M348 90h12M348 94h28M276 202h8M264 206h4M260 210h4M252 214h4M248 218h4M244 222h4"/>
<path stroke="#009fff" d="M344 94h4M340 98h40M272 202h4M288 202h4M260 206h4M252 210h8M248 214h4M244 218h4M240 222h4"/>
<path stroke="#00a3ff" d="M332 102h48M264 202h8M256 206h4M248 210h4M240 214h8M236 218h8"/>
<path stroke="#00a7ff" d="M328 106h52M340 110h12M272 198h16M256 202h8M248 206h8M240 210h8M236 214h4"/>
<path stroke="#00abff" d="M380 106h4M324 110h16M352 110h20M340 114h8M260 198h12M248 202h8M240 206h8M232 210h8M232 214h4"/>
<path stroke="#00afff" d="M372 110h12M316 114h24M348 114h20M260 194h24M248 198h12M236 202h12M292 202h4M228 206h12M228 210h4"/>
<path stroke="#00b3ff" d="M384 110h4M368 114h8M312 118h48M256 190h24M244 194h16M232 198h16M288 198h4M224 202h12"/>
<path stroke="#00b7ff" d="M376 114h8M360 118h12M308 122h44M244 186h32M232 190h24M280 190h4M220 194h24M284 194h4M220 198h12"/>
<path stroke="#00bbff" d="M384 114h8M372 118h4M352 122h12M304 126h36M236 178h36M232 182h44M224 186h20M276 186h4M220 190h12M216 194h4"/>
<path stroke="#00bfff" d="M376 118h8M364 122h8M340 126h16M296 130h32M292 134h8M260 158h8M256 162h12M252 166h16M248 170h24M240 174h36M272 178h4M276 182h4M280 186h4M284 190h4"/>
<path stroke="#00c3ff" d="M384 118h4M372 122h4M356 126h8M328 130h16M300 134h20M288 138h12M284 142h8M276 146h12M272 150h8M268 154h8M268 158h8M268 162h8M268 166h8M272 170h4M276 174h4M276 178h4M280 182h4M284 186h4M288 194h4"/>
<path stroke="#00c7ff" d="M388 118h4M376 122h4M364 126h4M344 130h12M320 134h16M300 138h12M292 142h8M288 146h8M280 150h8M276 154h8M276 158h4M276 162h4M276 166h4M276 170h4M280 178h4M292 198h4"/>
<path stroke="#00cbff" d="M380 122h8M368 126h8M356 130h4M336 134h8M312 138h16M300 142h8M296 146h4M288 150h8M284 154h8M280 158h8M280 162h4M280 166h4M280 170h4M280 174h4M284 182h4M288 190h4"/>
<path stroke="#00cfff" d="M388 122h4M376 126h4M360 130h8M344 134h8M328 138h8M308 142h12M300 146h8M296 150h4M292 154h4M288 158h4M284 162h4M284 178h4M296 202h4"/>
<path stroke="#00d3ff" d="M392 122h4M380 126h4M368 130h4M352 134h4M336 138h8M320 142h8M308 146h4M300 150h4M296 154h4M292 158h4M288 162h4M284 166h4M284 170h4M284 174h4"/>
<path stroke="#00d7ff" d="M384 126h4M372 130h4M356 134h8M344 138h4M328 142h8M312 146h8M304 150h4M300 154h4M292 162h4M288 166h4M288 186h4M292 194h4"/>
<path stroke="#00dbff" d="M376 130h4M364 134h4M348 138h4M336 142h4M320 146h8M308 150h8M296 158h4M288 170h4M288 182h4"/>
<path stroke="#00dfff" d="M388 126h4M368 134h4M352 138h8M340 142h4M328 146h4M316 150h4M304 154h8M300 158h4M296 162h4M292 166h4M288 174h4M288 178h4"/>
<path stroke="#00e3ff" d="M392 126h4M380 130h4M372 134h4M360 138h4M344 142h4M332 146h4M320 150h4M312 154h4M304 158h4M296 166h4M292 170h4"/>
<path stroke="#00e7ff" d="M396 126h4M384 130h4M400 130h4M348 142h4M336 146h4M324 150h4M316 154h4M308 158h4M300 162h4M292 174h4M292 190h4"/>
<path stroke="#00ebff" d="M388 130h4M376 134h4M400 134h4M364 138h4M352 142h4M340 146h4M328 150h4M320 154h4M304 162h4M296 170h4"/>
<path stroke="#00efff" d="M396 130h4M380 134h4M396 134h4M368 138h4M356 142h4M344 146h4M332 150h4M312 158h4M300 166h4M292 178h4M292 186h4"/>
<path stroke="#00f3ff" d="M392 130h4M372 138h4M396 138h4M360 142h4M348 146h4M336 150h4M324 154h4M316 158h4M308 162h4M296 174h4"/>
<path stroke="#00f7ff" d="M384 134h4M392 134h4M392 138h4M364 142h4M352 146h4M340 150h4M328 154h4M320 158h4M312 162h4M304 166h4M300 170h4M292 182h4M296 198h4"/>
<path stroke="#00fbff" d="M388 134h4M376 138h4M388 138h4M344 150h4M332 154h4M308 166h4M296 178h4"/>
<path stroke="#00ffff" d="M380 138h4M368 142h4M388 142h4M356 146h4M336 154h4M324 158h4M316 162h4M304 170h4M300 174h4"/>
<path stroke="#04fffb" d="M384 138h4M384 142h4M360 146h4M348 150h4M328 158h4M320 162h4M312 166h4"/>
<path stroke="#08fff7" d="M372 142h4M384 146h4M352 150h4M340 154h4M308 170h4M296 182h4"/>
<path stroke="#0cfff3" d="M376 142h8M364 146h4M380 146h4M344 154h4M332 158h4M324 162h4M316 166h4M304 174h4M300 178h4M296 194h4"/>
<path stroke="#10ffef" d="M356 150h4M380 150h4M336 158h4"/>
<path stroke="#14ffeb" d="M368 146h4M376 146h4M376 150h4M348 154h4M328 162h4M320 166h4M312 170h4M296 186h4"/>
<path stroke="#18ffe7" d="M360 150h4M340 158h4M308 174h4M296 190h4"/>
<path stroke="#1cffe3" d="M372 146h4M372 150h4M352 154h4M332 162h4M324 166h4M316 170h4M304 178h4M300 182h4"/>
<path stroke="#20ffdf" d="M364 150h4M372 154h4M344 158h4"/>
<path stroke="#24ffdb" d="M368 150h4M356 154h4M336 162h4M312 174h4M304 210h4"/>
<path stroke="#28ffd7" d="M368 154h4M348 158h4M368 158h4M328 166h4M320 170h4M308 178h4"/>
<path stroke="#2cffd3" d="M340 162h4M304 182h4"/>
<path stroke="#30ffcf" d="M360 154h8M364 158h4M364 162h4M332 166h4M324 170h4M316 174h4M300 186h4"/>
<path stroke="#34ffcb" d="M352 158h4"/>
<path stroke="#38ffc7" d="M360 158h4M344 162h4M360 162h4M336 166h4M360 166h4M312 178h4"/>
<path stroke="#3cffc3" d="M356 158h4M328 170h4M320 174h4"/>
<path stroke="#40ffbf" d="M348 162h4M356 162h4M356 166h4M308 182h4"/>
<path stroke="#44ffbb" d="M340 166h4M304 186h4M300 202h4"/>
<path stroke="#48ffb7" d="M332 170h4M352 170h4M324 174h4M316 178h4M300 190h4"/>
<path stroke="#4cffb3" d="M352 162h4M352 166h4M348 174h4"/>
<path stroke="#50ffaf" d="M344 166h4M348 170h4M312 182h4M300 198h4"/>
<path stroke="#54ffab" d="M348 166h4M336 170h4M328 174h4M320 178h4M344 178h4"/>
<path stroke="#58ffa7" d="M344 174h4M340 182h4M308 186h4M300 194h4M304 206h4"/>
<path stroke="#5cffa3" d="M344 170h4"/>
<path stroke="#60ff9f" d="M340 170h4M332 174h4M340 178h4M316 182h4M304 190h4"/>
<path stroke="#64ff9b" d="M340 174h4M324 178h4M336 182h4"/>
<path stroke="#6cff93" d="M336 178h4M332 186h4"/>
<path stroke="#70ff8f" d="M336 174h4M312 186h4"/>
<path stroke="#74ff8b" d="M328 178h4M320 182h4M332 182h4"/>
<path stroke="#78ff87" d="M332 178h4M328 190h4"/>
<path stroke="#7cff83" d="M308 190h4"/>
<path stroke="#80ff80" d="M328 186h4"/>
<path stroke="#83ff7c" d="M324 182h8M316 186h4M324 194h4"/>
<path stroke="#87ff78" d="M304 194h4"/>
<path stroke="#8bff74" d="M324 190h4M304 202h4"/>
<path stroke="#8fff70" d="M324 186h4M308 206h4"/>
<path stroke="#93ff6c" d="M312 190h4"/>
<path stroke="#97ff68" d="M320 186h4M320 194h4"/>
<path stroke="#9bff64" d="M320 190h4"/>
<path stroke="#a3ff5c" d="M316 198h4"/>
<path stroke="#a7ff58" d="M308 194h4M316 194h4"/>
<path stroke="#abff54" d="M316 190h4"/>
<path stroke="#afff50" d="M304 198h4"/>
<path stroke="#b3ff4c" d="M312 198h4M312 202h4"/>
<path stroke="#b7ff48" d="M312 194h4"/>
<path stroke="#c3ff3c" d="M308 198h4M308 202h4"/>
</g></g>
</g>
<g transform="translate(156.4 99.4)">
<path d="M117.7 0v6.2 M117.7 604.3v-6.2 M235.9 0v6.2 M235.9 604.3v-6.2 M354.2 0v6.2 M354.2 604.3v-6.2 M472.4 0v6.2 M472.4 604.3v-6.2 M590.7 0v6.2 M590.7 604.3v-6.2 M0 117.7h6.2 M604.3 117.7h-6.2 M0 235.9h6.2 M604.3 235.9h-6.2 M0 354.2h6.2 M604.3 354.2h-6.2 M0 472.4h6.2 M604.3 472.4h-6.2 M0 590.7h6.2 M604.3 590.7h-6.2" stroke="#262626" stroke-width="2" fill="none"/>
<rect x="0" y="0" width="604.3" height="604.3" fill="none" stroke="#262626" stroke-width="2"/>
<rect x="633.0" y="0" width="61.0" height="604.3" fill="url(#cb)" stroke="#262626" stroke-width="2"/>
<path d="M694 453.2h-6.5 M694 302.1h-6.5 M694 151.1h-6.5" stroke="#262626" stroke-width="2" fill="none"/>
<text x="709.8" y="620.7" font-family="'Liberation Sans', Arial, sans-serif" font-size="43" fill="#262626">0</text>
<text x="709.8" y="469.6" font-family="'Liberation Sans', Arial, sans-serif" font-size="43" fill="#262626">0.5</text>
<text x="709.8" y="318.5" font-family="'Liberation Sans', Arial, sans-serif" font-size="43" fill="#262626">1</text>
<text x="709.8" y="167.5" font-family="'Liberation Sans', Arial, sans-serif" font-size="43" fill="#262626">1.5</text>
<text x="709.8" y="16.4" font-family="'Liberation Sans', Arial, sans-serif" font-size="43" fill="#262626">2</text>
<text x="303.1" y="663.6" font-family="'Liberation Sans', Arial, sans-serif" font-size="42.5" fill="#262626" text-anchor="middle">x [-]</text>
<text transform="translate(-26 302.3) rotate(-90)" font-family="'Liberation Sans', Arial, sans-serif" font-size="42.5" fill="#262626" text-anchor="middle">y [-]</text>
<text x="-155.8" y="-68.4" font-family="'Liberation Sans', Arial, sans-serif" font-size="41.7" font-weight="bold" fill="#000">(a)</text>
<text x="217.6" y="-17.6" font-family="'Liberation Serif', 'Times New Roman', serif" font-size="43" fill="#000" font-style="italic" textLength="35.5" lengthAdjust="spacingAndGlyphs">N</text>
<text x="263.6" y="-11.3" font-family="'Liberation Serif', 'Times New Roman', serif" font-size="47" fill="#000" textLength="37" lengthAdjust="spacingAndGlyphs">=</text>
<text x="308.9" y="-17.6" font-family="'Liberation Serif', 'Times New Roman', serif" font-size="41.5" fill="#000" textLength="64.5" lengthAdjust="spacingAndGlyphs">511</text>
<text x="372.2" y="-30.8" font-family="'Liberation Serif', 'Times New Roman', serif" font-size="32" fill="#000" textLength="15" lengthAdjust="spacingAndGlyphs">2</text>
<path d="M577.8 -88 H706.2" stroke="#000" stroke-width="1.8" fill="none"/>
<text transform="translate(540.6 -14.9) scale(1.02 1.62)" font-family="'DejaVu Sans', sans-serif" font-size="56" fill="#000">&#8730;</text>
<text x="578.6" y="-42.4" font-family="'Liberation Serif', 'Times New Roman', serif" font-size="45" fill="#000" font-style="italic" textLength="20" lengthAdjust="spacingAndGlyphs">v</text>
<text x="600.6" y="-52.8" font-family="'Liberation Serif', 'Times New Roman', serif" font-size="29" fill="#000" textLength="12.4" lengthAdjust="spacingAndGlyphs">2</text>
<text x="600.6" y="-30.1" font-family="'Liberation Serif', 'Times New Roman', serif" font-size="27" fill="#000" font-style="italic" textLength="12.6" lengthAdjust="spacingAndGlyphs">x</text>
<text x="625.1" y="-33" font-family="'Liberation Serif', 'Times New Roman', serif" font-size="54" fill="#000" textLength="33" lengthAdjust="spacingAndGlyphs">+</text>
<text x="667.9" y="-42.4" font-family="'Liberation Serif', 'Times New Roman', serif" font-size="45" fill="#000" font-style="italic" textLength="20" lengthAdjust="spacingAndGlyphs">v</text>
<text x="689.9" y="-52.8" font-family="'Liberation Serif', 'Times New Roman', serif" font-size="29" fill="#000" textLength="12.4" lengthAdjust="spacingAndGlyphs">2</text>
<text x="689.6" y="-30.1" font-family="'Liberation Serif', 'Times New Roman', serif" font-size="27" fill="#000" font-style="italic" textLength="12.4" lengthAdjust="spacingAndGlyphs">y</text>
<text x="720.6" y="-42.4" font-family="'Liberation Serif', 'Times New Roman', serif" font-size="42" fill="#000" textLength="33.5" lengthAdjust="spacingAndGlyphs">at</text>
<text x="771.6" y="-42.4" font-family="'Liberation Serif', 'Times New Roman', serif" font-size="45" fill="#000" font-style="italic" textLength="13" lengthAdjust="spacingAndGlyphs">t</text>
<text x="785.9" y="-33.8" font-family="'Liberation Serif', 'Times New Roman', serif" font-size="29" fill="#000" textLength="13" lengthAdjust="spacingAndGlyphs">3</text>
</g>
<g transform="translate(1195.3 99.4)" clip-path="url(#ax)" fill="none">
<g clip-path="url(#cb0)"><g filter="url(#bl24)" stroke-width="24.3">
<path stroke="#00009b" d="M576 204h24M552 228h24M528 252h24M480 276h24M456 300h24M408 324h48M360 348h48M360 372h24M336 396h24M312 420h24"/>
<path stroke="#0000ab" d="M504 156h24M528 180h48M528 204h48M504 228h48M480 252h48M456 276h24M408 300h48M360 324h48M336 348h24M336 372h24M312 396h24"/>
<path stroke="#0000bb" d="M480 156h24M504 180h24M504 204h24M480 228h24M456 252h24M408 276h48M360 300h48M336 324h24M312 372h24M288 396h24M288 420h24M264 444h24"/>
<path stroke="#0000cb" d="M480 180h24M456 204h48M456 228h24M408 252h48M384 276h24M336 300h24M312 348h24M288 372h24M264 396h24M264 420h24M240 444h24M240 468h24"/>
<path stroke="#0000db" d="M456 156h24M456 180h24M432 204h24M408 228h48M384 252h24M336 276h48M312 300h24M312 324h24M288 348h24M264 372h24M240 420h24M216 468h24M216 492h24"/>
<path stroke="#0000eb" d="M432 180h24M408 204h24M384 228h24M336 252h48M312 276h24M288 324h24M264 348h24M240 396h24M216 444h24M192 468h24M168 492h48M168 516h24M0 540h24"/>
<path stroke="#0000fb" d="M384 132h24M360 156h48M336 180h96M288 204h120M312 228h72M312 252h24M288 300h24M240 372h24M216 420h24M192 444h24M144 492h24M120 516h48M24 540h24M120 540h48M48 564h48M120 564h24M72 588h24"/>
<path stroke="#000cff" d="M408 108h24M408 132h96M408 156h48M264 228h48M288 252h24M288 276h24M264 300h24M264 324h24M240 348h24M216 396h24M168 468h24M120 492h24M24 516h96M48 540h72M96 564h24"/>
<path stroke="#001cff" d="M432 108h48M264 252h24M264 276h24M240 324h24M216 372h24M192 420h24M168 444h24M120 468h48M48 492h72"/>
<path stroke="#002cff" d="M456 84h24M240 252h24M240 276h24M240 300h24M96 348h24M216 348h24M192 396h24M120 444h48M72 468h48"/>
<path stroke="#003cff" d="M480 108h24M216 324h24M192 348h24M72 372h24M192 372h24M72 396h24M168 420h24M72 444h48M48 468h24"/>
<path stroke="#004cff" d="M480 60h24M480 84h24M216 276h24M216 300h24M96 396h24M168 396h24M48 420h72M144 420h24M24 444h48M24 468h24M24 492h24M0 516h24"/>
<path stroke="#005cff" d="M504 84h24M192 324h24M168 348h24M168 372h24M48 396h24M24 420h24M120 420h24M0 444h24M0 468h24M0 492h24"/>
<path stroke="#006cff" d="M504 60h24M504 108h24M192 300h24M96 372h24M-48 420h72M-48 444h48M-48 468h48M-24 492h24"/>
<path stroke="#007cff" d="M504 36h24M528 60h24M528 84h24M528 108h24M144 348h24M-48 396h96M144 396h24M-48 492h24M-24 516h24"/>
<path stroke="#008bff" d="M408 -36h96M408 -12h96M408 12h96M432 36h72M456 60h24M552 84h24M552 108h24M504 132h48M192 276h24M168 324h24M120 348h24M-48 372h48M48 372h24M144 372h24M-48 516h24"/>
<path stroke="#009bff" d="M336 -36h72M360 -12h48M504 -12h24M360 12h48M504 12h48M384 36h48M528 36h24M408 60h48M552 60h24M432 84h24M576 108h24M552 132h48M528 156h48M-48 348h48M0 372h48M120 396h24M192 636h48"/>
<path stroke="#00abff" d="M264 -36h72M504 -36h24M264 -12h96M528 -12h24M264 12h96M264 36h120M552 36h24M312 60h96M384 84h48M576 84h24M600 108h24M600 132h24M576 156h48M576 180h24M-48 204h72M-48 228h48M-48 252h48M-48 276h24M-48 300h24M-48 324h48M0 348h24M144 564h24M96 588h192M120 612h216M144 636h48M240 636h120"/>
<path stroke="#00bbff" d="M216 -36h48M528 -36h24M216 -12h48M192 12h72M192 36h72M192 60h120M576 60h24M264 84h120M600 84h24M384 108h24M624 108h24M48 132h48M624 132h24M-24 156h120M624 156h24M-48 180h144M600 180h24M24 204h48M0 228h48M0 252h24M-24 276h24M624 276h24M-24 300h24M600 300h48M0 324h24M600 324h48M24 348h24M600 348h48M624 372h24M-48 540h24M168 540h96M168 564h264M288 588h144M96 612h24M336 612h96M120 636h24M360 636h72"/>
<path stroke="#00cbff" d="M144 -36h72M144 -12h72M552 -12h24M120 12h72M552 12h24M120 36h72M576 36h24M96 60h96M600 60h24M72 84h192M624 84h24M24 108h168M288 108h96M-24 132h72M96 132h48M-48 156h24M96 156h48M96 180h24M624 180h24M72 204h24M624 204h24M48 228h24M624 228h24M24 252h24M600 252h48M0 276h24M576 276h48M0 300h24M168 300h24M552 300h48M24 324h24M144 324h24M552 324h48M48 348h24M528 348h72M528 372h96M552 396h96M600 420h48M408 468h96M360 492h144M192 516h312M-24 540h24M264 540h240M432 564h72M432 588h48M432 612h48M96 636h24M432 636h48"/>
<path stroke="#00dbff" d="M72 -36h72M552 -36h24M72 -12h72M72 12h48M576 12h24M48 36h72M48 60h48M624 60h24M0 84h72M-48 108h72M192 108h96M-48 132h24M144 132h48M360 132h24M144 156h24M120 180h24M96 204h24M576 228h48M552 252h48M24 276h24M528 276h48M24 300h24M504 300h48M504 324h48M72 348h24M480 348h48M456 372h72M432 396h120M408 420h192M360 444h288M312 468h96M504 468h144M240 492h120M504 492h96M504 516h72M504 540h48M-48 564h48M504 564h48M480 588h48M480 612h48M72 636h24M480 636h24"/>
<path stroke="#00ebff" d="M-24 -36h96M-24 -12h96M-24 12h96M-24 36h72M600 36h24M-48 60h96M-48 84h48M192 132h168M168 156h24M600 204h24M72 228h24M48 252h24M504 276h24M480 300h24M456 324h48M432 348h48M120 372h24M408 372h48M384 396h48M360 420h48M288 444h72M264 468h48M600 492h48M576 516h72M552 540h96M0 564h24M552 564h48M-48 588h24M528 588h72M48 612h48M528 612h48M48 636h24M504 636h72"/>
<path stroke="#00fbff" d="M-48 -36h24M-48 -12h24M576 -12h24M-48 12h24M600 12h24M-48 36h24M624 36h24M192 156h24M336 156h24M144 180h24M120 204h24M96 228h24M72 252h24M48 276h24M48 324h24M408 348h24M384 372h24M360 396h24M336 420h24M24 564h24M600 564h48M-24 588h96M600 588h48M-48 612h96M576 612h72M24 636h24M576 636h72"/>
<path stroke="#0cfff3" d="M576 -36h24M600 -12h24M624 12h24M216 156h120M168 180h24M144 204h24M48 300h24M-48 636h72"/>
<path stroke="#1cffe3" d="M192 180h24M288 180h48M120 228h24M72 276h24"/>
<path stroke="#2cffd3" d="M600 -36h24M624 -12h24M216 180h72M168 204h24M96 252h24"/>
<path stroke="#3cffc3" d="M624 -36h24M192 204h96M144 228h24M120 252h24M72 300h24"/>
<path stroke="#4cffb3" d="M168 228h24M96 276h24M72 324h24"/>
<path stroke="#5cffa3" d="M192 228h72M144 252h24"/>
<path stroke="#6cff93" d="M168 252h24M120 276h24"/>
<path stroke="#7cff83" d="M192 252h48M96 300h24"/>
<path stroke="#8bff74" d="M144 276h24"/>
<path stroke="#9bff64" d="M168 276h24"/>
<path stroke="#abff54" d="M120 300h24"/>
<path stroke="#dbff24" d="M144 300h24"/>
<path stroke="#fbff04" d="M96 324h24"/>
<path stroke="#ff4400" d="M120 324h24"/>
</g></g>
<g clip-path="url(#cb1)"><g filter="url(#bl12)" stroke-width="12.3">
<path stroke="#0000af" d="M588 186h12"/>
<path stroke="#0000b7" d="M600 198h12"/>
<path stroke="#0000bb" d="M600 186h12"/>
<path stroke="#0000c7" d="M612 186h12"/>
<path stroke="#0000f7" d="M72 618h12"/>
<path stroke="#0000fb" d="M60 594h12M60 606h24"/>
<path stroke="#0020ff" d="M84 606h12"/>
<path stroke="#0080ff" d="M72 594h12"/>
<path stroke="#0087ff" d="M72 582h12M84 594h12"/>
<path stroke="#008fff" d="M84 582h12"/>
<path stroke="#0097ff" d="M84 570h12"/>
<path stroke="#009bff" d="M96 582h12"/>
<path stroke="#009fff" d="M96 570h12M96 594h12M204 630h24"/>
<path stroke="#00a3ff" d="M108 570h12M108 582h12M180 618h72M180 630h24M228 630h36"/>
<path stroke="#00a7ff" d="M108 558h12M120 570h12M120 582h12M108 594h12M168 594h48M156 606h96M156 618h24M252 618h24M156 630h24M264 630h36"/>
<path stroke="#00abff" d="M120 558h12M132 570h24M132 582h84M120 594h48M216 594h48M132 606h24M252 606h36M144 618h12M276 618h36M144 630h12M300 630h24"/>
<path stroke="#00afff" d="M120 546h12M132 558h24M156 570h60M216 582h48M264 594h36M108 606h24M288 606h36M132 618h12M312 618h24M132 630h12M324 630h24"/>
<path stroke="#00b3ff" d="M132 546h12M156 558h48M216 570h48M264 582h48M300 594h36M96 606h12M324 606h36M120 618h12M336 618h36M348 630h24"/>
<path stroke="#00b7ff" d="M624 318h12M624 330h12M144 546h36M204 558h60M264 570h60M312 582h48M336 594h36M360 606h24M372 618h12M120 630h12M372 630h24"/>
<path stroke="#00bbff" d="M624 294h12M624 306h12M612 318h12M612 330h12M612 342h24M624 354h12M132 534h24M180 546h72M264 558h72M324 570h60M360 582h36M372 594h36M384 606h24M108 618h12M384 618h24M396 630h12"/>
<path stroke="#00bfff" d="M624 282h12M612 294h12M600 306h24M600 318h12M600 330h12M600 342h12M600 354h24M612 366h24M156 534h48M252 546h156M336 558h84M384 570h36M396 582h24M408 594h12M408 606h12M408 618h12M108 630h12M408 630h12"/>
<path stroke="#00c3ff" d="M624 270h12M612 282h12M600 294h12M588 306h12M588 318h12M576 330h24M576 342h24M588 354h12M588 366h24M612 378h24M156 522h12M384 522h48M204 534h240M408 546h36M420 558h24M420 570h24M420 582h24M420 594h24M420 606h24M420 618h12M420 630h12"/>
<path stroke="#00c7ff" d="M624 258h12M612 270h12M600 282h12M588 294h12M576 306h12M564 318h24M564 330h12M564 342h12M564 354h24M576 366h12M576 378h36M600 390h36M408 498h60M372 510h96M168 522h120M300 522h84M432 522h36M444 534h24M444 546h24M444 558h24M444 570h12M444 582h12M444 594h12M444 606h12M96 618h12M432 618h12M432 630h12"/>
<path stroke="#00cbff" d="M612 198h24M624 246h12M612 258h12M600 270h12M588 282h12M576 294h12M564 306h12M552 318h12M552 330h12M552 342h12M552 354h12M552 366h24M552 378h24M564 390h36M588 402h48M432 474h48M396 486h96M360 498h48M468 498h24M324 510h48M468 510h24M288 522h12M468 522h24M468 534h24M468 546h24M468 558h12M456 570h24M456 582h12M456 594h12M456 606h12M444 618h24M96 630h12M444 630h12"/>
<path stroke="#00cfff" d="M600 210h12M624 210h12M624 222h12M624 234h12M612 246h12M600 258h12M588 270h12M576 282h12M564 294h12M552 306h12M540 318h12M540 330h12M528 342h24M528 354h24M528 366h24M528 378h24M540 390h24M552 402h36M576 414h60M444 450h24M420 462h72M396 474h36M480 474h24M360 486h36M492 486h12M324 498h36M492 498h24M168 510h156M492 510h24M492 522h12M492 534h12M492 546h12M480 558h12M480 570h12M468 582h24M468 594h12M468 606h12M468 618h12M456 630h12"/>
<path stroke="#00d3ff" d="M612 234h12M600 246h12M588 258h12M576 270h12M564 282h12M552 294h12M540 306h12M528 318h12M528 330h12M516 342h12M516 354h12M516 366h12M516 378h12M504 390h36M504 402h48M504 414h72M492 426h144M432 438h132M624 438h12M408 450h36M468 450h72M396 462h24M492 462h48M372 474h24M504 474h24M336 486h24M504 486h24M252 498h72M516 498h12M516 510h12M504 522h24M504 534h12M504 546h12M492 558h24M492 570h12M492 582h12M480 594h12M480 606h12M468 630h12"/>
<path stroke="#00d7ff" d="M600 222h24M600 234h12M588 246h12M576 258h12M564 270h12M552 282h12M540 294h12M528 306h12M516 318h12M516 330h12M504 342h12M504 354h12M492 366h24M492 378h24M480 390h24M480 402h24M456 414h48M432 426h60M408 438h24M564 438h60M396 450h12M540 450h96M372 462h24M540 462h36M348 474h24M528 474h36M300 486h36M528 486h24M180 498h72M528 498h12M528 510h12M528 522h12M516 534h12M516 546h12M516 558h12M504 570h12M504 582h12M492 594h12M492 606h12M480 618h12M84 630h12M480 630h12"/>
<path stroke="#00dbff" d="M588 210h12M612 210h12M588 222h12M588 234h12M576 246h12M564 258h12M552 270h12M540 282h12M528 294h12M516 306h12M504 318h12M504 330h12M492 342h12M480 354h24M480 366h12M468 378h24M456 390h24M444 402h36M432 414h24M408 426h24M396 438h12M372 450h24M348 462h24M576 462h60M312 474h36M564 474h36M228 486h72M552 486h24M540 498h24M540 510h12M540 522h12M528 534h24M528 546h12M528 558h12M516 570h12M516 582h12M504 594h12M504 606h12M84 618h12M492 618h12M492 630h12"/>
<path stroke="#00dfff" d="M576 222h12M576 234h12M564 246h12M552 258h12M540 270h12M528 282h12M516 294h12M504 306h12M492 318h12M492 330h12M480 342h12M468 354h12M456 366h24M456 378h12M444 390h12M420 402h24M408 414h24M396 426h12M384 438h12M360 450h12M324 462h24M276 474h36M600 474h36M204 486h24M576 486h36M564 498h24M552 510h24M552 522h12M552 534h12M540 546h12M540 558h12M528 570h12M528 582h12M516 594h12M516 606h12M504 618h12M504 630h12"/>
<path stroke="#00e3ff" d="M588 198h12M576 210h12M564 234h12M552 246h12M540 258h12M504 294h12M492 306h12M480 330h12M468 342h12M456 354h12M444 366h12M432 378h24M420 390h24M408 402h12M396 414h12M384 426h12M360 438h24M336 450h24M300 462h24M228 474h48M612 486h24M588 498h36M576 510h24M564 522h24M564 534h12M552 546h12M552 558h12M540 570h12M540 582h12M528 594h24M528 606h12M516 618h12M516 630h12"/>
<path stroke="#00e7ff" d="M576 198h12M564 210h12M564 222h12M552 234h12M528 270h12M516 282h12M480 318h12M468 330h12M456 342h12M444 354h12M432 366h12M420 378h12M408 390h12M396 402h12M384 414h12M372 426h12M348 438h12M324 450h12M276 462h24M216 474h12M624 498h12M600 510h36M588 522h24M576 534h24M564 546h24M564 558h12M552 570h12M552 582h12M552 594h12M540 606h12M528 618h24M528 630h12"/>
<path stroke="#00ebff" d="M552 222h12M540 246h12M528 258h12M516 270h12M504 282h12M492 294h12M480 306h12M468 318h12M456 330h12M444 342h12M432 354h12M420 366h12M408 378h12M396 390h12M384 402h12M372 414h12M360 426h12M336 438h12M300 450h24M240 462h36M612 522h24M600 534h24M588 546h12M576 558h12M564 570h24M564 582h12M564 594h12M552 606h12M552 618h12M540 630h12"/>
<path stroke="#00efff" d="M552 210h12M540 222h12M540 234h12M528 246h12M516 258h12M504 270h12M492 282h12M480 294h12M468 306h12M456 318h12M444 330h12M432 342h12M420 354h12M408 366h12M396 378h12M384 390h12M372 402h12M360 414h12M348 426h12M312 438h24M276 450h24M228 462h12M624 534h12M600 546h36M588 558h24M588 570h12M576 582h12M576 594h12M564 606h12M564 618h12M552 630h24"/>
<path stroke="#00f3ff" d="M528 234h12M516 246h12M468 294h12M456 306h12M444 318h12M432 330h12M420 342h12M408 354h12M396 366h12M384 378h12M372 390h12M336 426h12M300 438h12M252 450h24M612 558h24M600 570h24M588 582h24M588 594h12M576 606h24M576 618h12M576 630h12"/>
<path stroke="#00f7ff" d="M504 258h12M492 270h12M480 282h12M432 318h12M420 330h12M408 342h12M396 354h12M384 366h12M360 402h12M348 414h12M312 426h24M276 438h24M240 450h12M624 570h12M612 582h24M600 594h24M600 606h12M588 618h24M588 630h12"/>
<path stroke="#00fbff" d="M492 258h12M480 270h12M468 282h12M456 294h12M444 306h12M408 330h12M396 342h12M372 378h12M360 390h12M336 414h12M300 426h12M264 438h12M624 594h12M612 606h24M612 618h24M600 630h24"/>
<path stroke="#00ffff" d="M444 294h12M432 306h12M420 318h12M384 354h12M372 366h12M360 378h12M348 402h12M324 414h12M276 426h24M624 630h12"/>
<path stroke="#04fffb" d="M396 330h12M384 342h12M372 354h12M348 390h12M300 414h24"/>
<path stroke="#08fff7" d="M360 366h12M324 402h24M288 414h12"/>
<path stroke="#0cfff3" d="M348 378h12M312 402h12"/>
<path stroke="#10ffef" d="M336 390h12"/>
<path stroke="#14ffeb" d="M336 378h12M324 390h12"/>
</g></g>
<g clip-path="url(#cb2)"><g filter="url(#bl12)" stroke-width="12.3">
<path stroke="#0010ff" d="M96 594h24"/>
<path stroke="#001cff" d="M0 510h12"/>
<path stroke="#0020ff" d="M108 606h12"/>
<path stroke="#0028ff" d="M96 606h12"/>
<path stroke="#0034ff" d="M-12 522h12"/>
<path stroke="#0040ff" d="M96 618h12"/>
<path stroke="#0087ff" d="M84 606h12"/>
<path stroke="#00b3ff" d="M-24 534h12"/>
<path stroke="#00c7ff" d="M-24 546h12"/>
<path stroke="#00cbff" d="M-12 534h12"/>
<path stroke="#00d7ff" d="M-12 546h12M-24 558h12M84 630h12"/>
<path stroke="#00dbff" d="M84 618h12"/>
<path stroke="#00dfff" d="M-12 558h12"/>
<path stroke="#00e3ff" d="M-24 570h12M72 630h12"/>
<path stroke="#00e7ff" d="M-12 570h12M72 618h12"/>
<path stroke="#00ebff" d="M0 546h12M0 558h12M-24 582h12M72 606h12M60 630h12"/>
<path stroke="#00efff" d="M0 570h12M-12 582h12M72 594h24M60 606h12M60 618h12"/>
<path stroke="#00f3ff" d="M12 558h12M12 570h12M0 582h12M60 582h36M48 594h24M48 606h12M48 618h12M48 630h12"/>
<path stroke="#00f7ff" d="M0 534h12M12 546h12M24 558h12M24 570h60M12 582h48M96 582h12M-24 594h72M36 606h12M36 618h12M36 630h12"/>
<path stroke="#00fbff" d="M36 558h36M-24 606h12M0 606h36M24 618h12M24 630h12"/>
<path stroke="#00ffff" d="M24 546h36M-12 606h12M0 618h24"/>
<path stroke="#04fffb" d="M12 534h12M-24 618h24M0 630h24"/>
<path stroke="#08fff7" d="M24 534h24M-12 630h12"/>
<path stroke="#0cfff3" d="M-24 630h12"/>
<path stroke="#14ffeb" d="M12 522h12"/>
<path stroke="#20ffdf" d="M0 522h12"/>
</g></g>
<g clip-path="url(#cb3)"><g filter="url(#bl12)" stroke-width="12.3">
<path stroke="#000083" d="M504 114h12M504 126h36M408 378h12M384 390h24M372 402h12M348 414h24M348 426h12"/>
<path stroke="#000087" d="M492 318h12M456 342h12M432 354h24M408 366h24M396 378h12M372 390h12M360 402h12"/>
<path stroke="#00008b" d="M600 210h12M516 294h12M504 306h12M480 318h12M456 330h24M432 342h24M420 354h12M396 366h12M384 378h12M348 402h12M336 426h12M336 438h12"/>
<path stroke="#00008f" d="M516 138h24M600 234h12M564 258h12M552 270h12M528 282h12M504 294h12M480 306h24M468 318h12M444 330h12M420 342h12M396 354h24M384 366h12M372 378h12M360 390h12M336 414h12"/>
<path stroke="#000093" d="M540 138h12M600 222h24M588 234h12M576 246h12M552 258h12M528 270h24M516 282h12M492 294h12M468 306h12M444 318h24M432 330h12M408 342h12M384 354h12M372 366h12M360 378h12M348 390h12M336 402h12M324 438h12"/>
<path stroke="#000097" d="M504 138h12M588 210h12M588 222h12M576 234h12M564 246h12M540 258h12M516 270h12M504 282h12M480 294h12M456 306h12M432 318h12M420 330h12M396 342h12M324 426h12"/>
<path stroke="#00009b" d="M528 150h36M576 222h12M564 234h12M540 246h24M528 258h12M504 270h12M492 282h12M468 294h12M444 306h12M420 318h12M408 330h12M384 342h12M372 354h12M360 366h12M348 378h12M336 390h12M324 414h12M312 450h12M84 606h12"/>
<path stroke="#00009f" d="M516 150h12M564 150h12M576 210h12M564 222h12M552 234h12M528 246h12M516 258h12M480 282h12M456 294h12M432 306h12M408 318h12M396 330h12M372 342h12M360 354h12M348 366h12M324 402h12M312 426h12M312 438h12"/>
<path stroke="#0000a3" d="M528 162h48M576 198h24M564 210h12M552 222h12M540 234h12M504 258h12M492 270h12M468 282h12M444 294h12M420 306h12M396 318h12M384 330h12M336 378h12M312 414h12M300 450h12M300 462h12"/>
<path stroke="#0000a7" d="M504 150h12M516 162h12M576 162h12M528 174h48M552 186h36M552 198h24M540 210h24M540 222h12M528 234h12M516 246h12M492 258h12M480 270h12M456 282h12M432 294h12M408 306h12M372 330h12M360 342h12M348 354h12M324 390h12M300 438h12"/>
<path stroke="#0000ab" d="M576 174h12M528 186h24M540 198h12M528 210h12M528 222h12M516 234h12M504 246h12M468 270h12M444 282h12M420 294h12M396 306h12M384 318h12M336 366h12M324 378h12M312 402h12M300 426h12M288 462h12M288 474h12"/>
<path stroke="#0000af" d="M492 138h12M504 162h12M516 174h12M588 174h12M516 186h12M588 186h12M528 198h12M516 222h12M504 234h12M492 246h12M480 258h12M456 270h12M432 282h12M408 294h12M372 318h12M360 330h12M348 342h12M336 354h12M312 390h12M300 414h12M288 438h12M288 450h12"/>
<path stroke="#0000b3" d="M492 150h12M504 174h12M516 198h12M516 210h12M504 222h12M480 246h12M468 258h12M444 270h12M384 306h12M324 366h12M300 402h12M288 426h12M276 462h12M276 474h12"/>
<path stroke="#0000b7" d="M504 186h12M504 198h12M600 198h12M504 210h12M492 234h12M456 258h12M420 282h12M396 294h12M372 306h12M360 318h12M348 330h12M336 342h12M312 378h12M288 414h12M276 450h12"/>
<path stroke="#0000bb" d="M492 162h12M492 174h12M600 186h12M492 222h12M480 234h12M468 246h12M432 270h12M408 282h12M384 294h12M324 354h12M312 366h12M300 390h12M276 438h12M264 462h12M264 474h12M264 486h12"/>
<path stroke="#0000bf" d="M492 186h12M492 198h12M492 210h12M480 222h12M468 234h12M456 246h12M444 258h12M420 270h12M396 282h12M372 294h12M360 306h12M348 318h12M336 330h12M324 342h12M300 378h12M288 402h12M276 426h12M264 450h12M252 486h12M252 498h12"/>
<path stroke="#0000c3" d="M480 150h12M480 162h12M480 210h12M432 258h12M408 270h12M384 282h12M312 354h12M288 390h12M276 414h12M264 438h12M252 474h12"/>
<path stroke="#0000c7" d="M480 174h12M480 186h12M612 186h12M480 198h12M468 222h12M456 234h12M444 246h12M420 258h12M396 270h12M360 294h12M348 306h12M336 318h12M324 330h12M300 366h12M276 402h12M264 426h12M252 450h12M252 462h12M240 486h12M240 498h12M240 510h12"/>
<path stroke="#0000cb" d="M480 138h12M468 210h12M432 246h12M372 282h12M312 342h12M288 378h12M264 414h12M252 438h12M240 474h12M228 510h12M-12 546h12"/>
<path stroke="#0000cf" d="M468 150h12M468 162h12M468 174h12M468 186h12M468 198h12M456 222h12M444 234h12M408 258h12M384 270h12M360 282h12M348 294h12M336 306h12M324 318h12M300 354h12M276 390h12M240 462h12M228 486h12M228 498h12"/>
<path stroke="#0000d3" d="M468 138h12M456 210h12M444 222h12M432 234h12M420 246h12M396 258h12M372 270h12M312 330h12M288 366h12M264 402h12M252 426h12M240 450h12M228 474h12M216 510h12M216 522h12"/>
<path stroke="#0000d7" d="M456 162h12M456 174h12M456 186h12M456 198h12M408 246h12M384 258h12M360 270h12M348 282h12M336 294h12M324 306h12M300 342h12M276 378h12M252 414h12M240 438h12M228 462h12M216 486h12M216 498h12M204 522h12M204 534h12M-12 558h12"/>
<path stroke="#0000db" d="M468 126h24M456 138h12M456 150h12M444 198h12M444 210h12M432 222h12M420 234h12M396 246h12M372 258h12M312 318h12M288 354h12M264 390h12M240 426h12M228 450h12M216 474h12M204 498h12M204 510h12"/>
<path stroke="#0000df" d="M444 150h12M444 162h12M444 174h12M444 186h12M432 210h12M420 222h12M408 234h12M384 246h12M348 270h12M336 282h12M324 294h12M300 330h12M276 366h12M252 402h12M228 438h12M216 462h12M204 486h12M192 522h12M192 534h12M0 546h12M192 546h12"/>
<path stroke="#0000e3" d="M432 198h12M396 234h12M372 246h12M360 258h12M312 306h12M288 342h12M264 378h12M240 414h12M204 474h12M192 498h12M192 510h12M180 534h12M180 546h12M0 558h12M180 558h12"/>
<path stroke="#0000e7" d="M432 162h12M432 174h12M432 186h12M420 210h12M408 222h12M384 234h12M348 258h12M336 270h12M324 282h12M300 318h12M276 354h12M252 390h12M228 426h12M216 450h12M192 486h12M180 510h12M180 522h12"/>
<path stroke="#0000eb" d="M480 114h12M420 198h12M408 210h12M396 222h12M372 234h12M360 246h12M312 294h12M288 330h12M264 366h12M240 402h12M204 462h12M180 498h12M168 522h12M0 534h12M168 534h12M168 546h12M168 558h12"/>
<path stroke="#0000ef" d="M420 162h12M420 174h12M420 186h12M384 222h12M360 234h12M348 246h12M336 258h12M324 270h12M312 282h12M300 306h12M276 342h12M252 378h12M216 438h12M192 474h12M180 486h12M168 510h12M156 534h12M12 546h12M156 546h12M12 558h12M156 558h12M12 570h12M156 570h12"/>
<path stroke="#0000f3" d="M408 174h12M408 186h12M408 198h12M384 210h24M372 222h12M348 234h12M336 246h12M324 258h12M300 294h12M288 318h12M264 354h12M240 390h12M228 414h12M204 450h12M168 498h12M156 510h12M156 522h12M144 534h12M144 546h12M144 558h12"/>
<path stroke="#0000f7" d="M396 198h12M372 210h12M360 222h12M336 234h12M312 270h12M276 330h12M252 366h12M216 426h12M192 462h12M180 474h12M168 486h12M144 522h12M24 546h12M132 546h12M24 558h12M24 570h12M144 570h12M24 582h12M72 618h12"/>
<path stroke="#0000fb" d="M396 186h12M384 198h12M360 210h12M348 222h12M324 246h12M312 258h12M300 282h12M288 306h12M264 342h12M240 378h12M228 402h12M204 438h12M156 498h12M144 510h12M132 522h12M12 534h12M132 534h12M120 546h12M36 558h12M132 558h12M36 570h24M132 570h12M36 582h24M144 582h12M36 594h12M60 594h24M60 606h24"/>
<path stroke="#0000ff" d="M300 270h12M288 294h12M276 318h12M252 354h12M216 414h12M192 450h12M180 462h12M156 486h12M144 498h12M132 510h12M120 522h12M24 534h12M108 534h24M36 546h24M108 546h12M48 558h36M108 558h24M60 570h24M120 570h12M60 582h24M132 582h12M48 594h12M84 594h12M48 606h12"/>
<path stroke="#0004ff" d="M300 258h12M288 282h12M264 330h12M240 366h12M228 390h12M168 474h12M120 510h12M108 522h12M36 534h24M84 534h24M60 546h48M84 558h24M84 570h36M84 582h12M120 582h12"/>
<path stroke="#0008ff" d="M288 270h12M276 306h12M252 342h12M216 402h12M204 426h12M144 486h12M132 498h12M108 510h12M12 522h36M84 522h24M60 534h24M96 582h24M132 594h12"/>
<path stroke="#000cff" d="M276 294h12M264 318h12M240 354h12M228 378h12M192 438h12M180 450h12M168 462h12M156 474h12M132 486h12M120 498h12M96 510h12M48 522h36M120 594h12"/>
<path stroke="#0010ff" d="M276 282h12M252 330h12M216 390h12M204 414h12M144 474h12M120 486h12M96 498h24M24 510h72M0 522h12M96 594h24"/>
<path stroke="#0014ff" d="M264 306h12M228 366h12M192 426h12M156 462h12M132 474h12M108 486h12M72 498h24M12 510h12"/>
<path stroke="#0018ff" d="M264 294h12M252 318h12M240 342h12M216 378h12M204 402h12M180 438h12M168 450h12M120 474h12M84 486h24M36 498h36"/>
<path stroke="#001cff" d="M228 354h12M144 462h12M108 474h12M48 486h36M12 498h24M0 510h12"/>
<path stroke="#0020ff" d="M252 306h12M240 330h12M216 366h12M204 390h12M192 414h12M156 450h12M120 462h24M84 474h24M24 486h24M108 606h12"/>
<path stroke="#0024ff" d="M240 318h12M228 342h12M180 426h12M168 438h12M108 462h12M36 474h48"/>
<path stroke="#0028ff" d="M216 354h12M204 378h12M192 402h12M144 450h12M96 462h12M96 606h12"/>
<path stroke="#002cff" d="M240 306h12M228 330h12M120 450h24M60 462h36"/>
<path stroke="#0030ff" d="M216 342h12M204 366h12M180 414h12M156 438h12M96 450h24"/>
<path stroke="#0034ff" d="M228 318h12M204 354h12M192 390h12M168 426h12M72 450h24M-12 522h12"/>
<path stroke="#0038ff" d="M216 330h12M192 378h12M84 438h72"/>
<path stroke="#003cff" d="M204 342h12M192 366h12M180 402h12"/>
<path stroke="#0040ff" d="M192 354h12M96 426h24M156 426h12M96 618h12"/>
<path stroke="#0044ff" d="M180 390h12M168 414h12M120 426h12"/>
<path stroke="#0048ff" d="M492 114h12M492 126h12"/>
<path stroke="#004cff" d="M180 366h12M180 378h12M108 414h12M132 426h24"/>
<path stroke="#0050ff" d="M168 402h12"/>
<path stroke="#0054ff" d="M156 414h12"/>
<path stroke="#0058ff" d="M168 390h12M120 414h12"/>
<path stroke="#005cff" d="M144 414h12"/>
<path stroke="#0060ff" d="M168 366h12M168 378h12M132 414h12"/>
<path stroke="#0068ff" d="M156 402h12"/>
<path stroke="#0070ff" d="M156 390h12"/>
<path stroke="#0074ff" d="M144 402h12"/>
<path stroke="#0078ff" d="M156 378h12"/>
<path stroke="#0080ff" d="M132 402h12"/>
<path stroke="#0093ff" d="M144 390h12"/>
<path stroke="#00b3ff" d="M-24 534h12"/>
<path stroke="#00c7ff" d="M-24 546h12"/>
<path stroke="#00cbff" d="M612 198h24M-12 534h12"/>
<path stroke="#00cfff" d="M624 210h12"/>
<path stroke="#00d7ff" d="M84 630h12"/>
<path stroke="#00dbff" d="M612 210h12M84 618h12"/>
</g></g>
<g clip-path="url(#cb4)"><g filter="url(#bl12)" stroke-width="12.3">
<path stroke="#00008b" d="M600 210h12"/>
<path stroke="#00008f" d="M600 234h12"/>
<path stroke="#000093" d="M600 222h24"/>
<path stroke="#0000cb" d="M480 138h12"/>
<path stroke="#0000d3" d="M468 138h12"/>
<path stroke="#0000db" d="M468 126h24"/>
<path stroke="#0000eb" d="M480 114h12"/>
<path stroke="#0048ff" d="M492 114h12M492 126h12"/>
<path stroke="#005cff" d="M504 102h12"/>
<path stroke="#0064ff" d="M516 90h12M504 114h12"/>
<path stroke="#0068ff" d="M516 102h12"/>
<path stroke="#0074ff" d="M528 78h12M528 90h12M528 102h12M516 114h12"/>
<path stroke="#007cff" d="M528 114h12M504 126h12"/>
<path stroke="#0080ff" d="M540 78h12M540 90h12M540 102h12M516 126h12"/>
<path stroke="#0083ff" d="M540 66h12M540 114h12"/>
<path stroke="#0087ff" d="M528 126h12"/>
<path stroke="#008bff" d="M552 78h12M552 90h12M552 102h12M552 114h12M540 126h12M588 210h12M588 222h12"/>
<path stroke="#008fff" d="M552 126h12M528 138h12"/>
<path stroke="#0093ff" d="M552 66h12M564 90h12M564 102h12M564 114h12M516 138h12M540 138h24"/>
<path stroke="#0097ff" d="M552 54h12M564 78h12M564 126h12M576 210h12"/>
<path stroke="#009bff" d="M576 102h12M576 114h12M576 126h12M504 138h12M564 138h12M528 150h48M576 198h24M564 210h12"/>
<path stroke="#009fff" d="M564 66h12M576 90h12M576 138h12M516 150h12M576 150h12M540 162h36M564 198h12"/>
<path stroke="#00a3ff" d="M576 78h12M588 102h12M588 114h12M588 126h12M588 138h12M528 162h12M576 162h12M540 174h48M552 186h36M552 198h12"/>
<path stroke="#00a7ff" d="M564 54h12M588 90h12M600 114h12M600 126h12M504 150h12M588 150h12M516 162h12M588 162h12M528 174h12M588 174h12M540 186h12M588 186h12"/>
<path stroke="#00abff" d="M576 66h12M600 102h12M600 138h12M600 150h12M516 174h12"/>
<path stroke="#00afff" d="M588 78h12M600 90h12M612 114h12M612 126h12M612 138h12M612 150h12M504 162h12M600 162h12M600 174h12M600 186h12M600 198h12"/>
<path stroke="#00b3ff" d="M576 54h12M612 102h12M624 114h12M624 126h12M492 138h12M624 138h12M612 162h12"/>
<path stroke="#00b7ff" d="M588 66h12M600 78h12M612 90h12M624 102h12M492 150h12M624 150h12M624 162h12M612 174h12"/>
<path stroke="#00bfff" d="M576 42h12M588 54h12M600 66h12M612 78h12M624 90h12M624 174h12M612 186h12"/>
<path stroke="#00c3ff" d="M624 186h12"/>
<path stroke="#00c7ff" d="M624 78h12"/>
<path stroke="#00cbff" d="M588 42h12M600 54h12M612 66h12M612 198h24"/>
<path stroke="#00cfff" d="M624 210h12"/>
<path stroke="#00d3ff" d="M612 54h12M624 66h12"/>
<path stroke="#00d7ff" d="M588 30h12M600 42h12"/>
<path stroke="#00dbff" d="M612 210h12"/>
<path stroke="#00dfff" d="M612 42h12M624 54h12"/>
<path stroke="#00e3ff" d="M600 30h12"/>
<path stroke="#00ebff" d="M612 30h12M624 42h12"/>
<path stroke="#00efff" d="M600 18h12"/>
<path stroke="#00f7ff" d="M624 30h12"/>
<path stroke="#00fbff" d="M612 18h12"/>
<path stroke="#04fffb" d="M624 18h12"/>
</g></g>
<g clip-path="url(#cb5)"><g filter="url(#bl12)" stroke-width="12.3">
<path stroke="#001cff" d="M0 510h12"/>
<path stroke="#002cff" d="M-12 510h12"/>
<path stroke="#0034ff" d="M-12 522h12"/>
<path stroke="#0093ff" d="M-24 522h12"/>
<path stroke="#00b3ff" d="M-24 534h12"/>
<path stroke="#00c7ff" d="M-24 546h12"/>
<path stroke="#00cbff" d="M-12 534h12"/>
<path stroke="#00d7ff" d="M-12 546h12M-24 558h12"/>
<path stroke="#00dfff" d="M-12 558h12"/>
<path stroke="#00e3ff" d="M-24 570h12"/>
<path stroke="#00e7ff" d="M-12 570h12"/>
<path stroke="#00ebff" d="M0 546h12M0 558h12"/>
<path stroke="#00f7ff" d="M0 534h12M12 546h12"/>
<path stroke="#00ffff" d="M24 546h12"/>
<path stroke="#04fffb" d="M12 534h12"/>
<path stroke="#08fff7" d="M24 534h12"/>
<path stroke="#14ffeb" d="M12 522h12"/>
<path stroke="#20ffdf" d="M0 522h12"/>
</g></g>
<g clip-path="url(#cb6)"><g filter="url(#bl12)" stroke-width="12.3">
<path stroke="#0000cb" d="M-12 546h12"/>
<path stroke="#0000d7" d="M-12 558h12"/>
<path stroke="#0000df" d="M348 270h12M336 282h12M324 294h12M0 546h12"/>
<path stroke="#0000e3" d="M312 306h12M0 558h12"/>
<path stroke="#0000e7" d="M348 258h12M336 270h12M324 282h12M300 318h12"/>
<path stroke="#0000eb" d="M312 294h12M0 534h12"/>
<path stroke="#0000ef" d="M348 246h12M336 258h12M324 270h12M312 282h12M300 306h12M12 546h12"/>
<path stroke="#0000f3" d="M336 246h12M324 258h12M300 294h12M288 318h12"/>
<path stroke="#0000f7" d="M312 270h12M276 330h12M24 546h12"/>
<path stroke="#0000fb" d="M324 246h12M312 258h12M300 282h12M288 306h12M264 342h12M12 534h12"/>
<path stroke="#0000ff" d="M300 270h12M288 294h12M276 318h12M252 354h12M24 534h12"/>
<path stroke="#0004ff" d="M300 258h12M288 282h12M264 330h12M240 366h12M36 534h12"/>
<path stroke="#0008ff" d="M288 270h12M276 306h12M252 342h12M12 522h36"/>
<path stroke="#000cff" d="M276 294h12M264 318h12M240 354h12M228 378h12M48 522h12"/>
<path stroke="#0010ff" d="M276 282h12M252 330h12M24 510h48M0 522h12"/>
<path stroke="#0014ff" d="M264 306h12M228 366h12M72 498h24M12 510h12"/>
<path stroke="#0018ff" d="M264 294h12M252 318h12M240 342h12M216 378h12M84 486h24M36 498h36"/>
<path stroke="#001cff" d="M228 354h12M108 474h12M48 486h36M12 498h24M0 510h12"/>
<path stroke="#0020ff" d="M252 306h12M240 330h12M216 366h12M204 390h12M120 462h12M84 474h24M24 486h24M0 498h12"/>
<path stroke="#0024ff" d="M240 318h12M228 342h12M108 462h12M36 474h48"/>
<path stroke="#0028ff" d="M216 354h12M204 378h12M192 402h12M96 462h12"/>
<path stroke="#002cff" d="M240 306h12M228 330h12M120 450h24M48 462h48M-12 510h12"/>
<path stroke="#0030ff" d="M216 342h12M204 366h12M180 414h12M156 438h12M96 450h24"/>
<path stroke="#0034ff" d="M228 318h12M204 354h12M192 390h12M168 426h12M72 450h24M-12 522h12"/>
<path stroke="#0038ff" d="M216 330h12M192 378h12M84 438h72M60 450h12"/>
<path stroke="#003cff" d="M204 342h12M192 366h12M180 402h12"/>
<path stroke="#0040ff" d="M192 354h12M96 426h24M156 426h12"/>
<path stroke="#0044ff" d="M180 390h12M168 414h12M120 426h12"/>
<path stroke="#004cff" d="M180 366h12M180 378h12M108 414h12M132 426h24"/>
<path stroke="#0050ff" d="M180 354h12M168 402h12"/>
<path stroke="#0054ff" d="M156 414h12"/>
<path stroke="#0058ff" d="M168 390h12M120 414h12"/>
<path stroke="#005cff" d="M144 414h12"/>
<path stroke="#0060ff" d="M168 366h12M168 378h12M132 414h12"/>
<path stroke="#0068ff" d="M156 402h12"/>
<path stroke="#0070ff" d="M156 390h12"/>
<path stroke="#0074ff" d="M120 402h12M144 402h12"/>
<path stroke="#0078ff" d="M156 378h12"/>
<path stroke="#0080ff" d="M132 402h12"/>
<path stroke="#0093ff" d="M144 390h12M-24 522h12"/>
<path stroke="#00b3ff" d="M-24 534h12"/>
<path stroke="#00c7ff" d="M-24 546h12"/>
<path stroke="#00cbff" d="M-12 534h12"/>
</g></g>
<g clip-path="url(#cb7)"><g filter="url(#bl12)" stroke-width="12.3">
<path stroke="#000083" d="M504 114h12M504 126h24"/>
<path stroke="#00008f" d="M516 138h12"/>
<path stroke="#000097" d="M504 138h12"/>
<path stroke="#0000a7" d="M504 150h12"/>
<path stroke="#0000af" d="M492 138h12"/>
<path stroke="#0000b3" d="M492 150h12"/>
<path stroke="#0000bb" d="M492 162h12"/>
<path stroke="#0000c3" d="M480 150h12M480 162h12"/>
<path stroke="#0000c7" d="M480 174h12"/>
<path stroke="#0000cb" d="M480 138h12"/>
<path stroke="#0000cf" d="M468 150h12M468 162h12M468 174h12"/>
<path stroke="#0000d3" d="M468 138h12"/>
<path stroke="#0000d7" d="M456 162h12M456 174h12M456 186h12M360 270h12"/>
<path stroke="#0000db" d="M468 126h24M456 138h12M456 150h12M444 198h12M372 258h12"/>
<path stroke="#0000df" d="M456 126h12M444 138h12M444 150h12M444 162h12M444 174h12M444 186h12M432 210h12M420 222h12M384 246h12M348 270h12M336 282h12M324 294h12"/>
<path stroke="#0000e3" d="M432 198h12M396 234h12M372 246h12M360 258h12M312 306h12"/>
<path stroke="#0000e7" d="M432 150h12M432 162h12M432 174h12M432 186h12M420 210h12M408 222h12M384 234h12M348 258h12M336 270h12M324 282h12M300 318h12"/>
<path stroke="#0000eb" d="M480 114h12M420 198h12M408 210h12M396 222h12M372 234h12M360 246h12M312 294h12"/>
<path stroke="#0000ef" d="M420 162h12M420 174h12M420 186h12M384 222h12M360 234h12M348 246h12M336 258h12M324 270h12M312 282h12M300 306h12"/>
<path stroke="#0000f3" d="M408 174h12M408 186h12M408 198h12M384 210h24M372 222h12M348 234h12M336 246h12M324 258h12M300 294h12M288 318h12"/>
<path stroke="#0000f7" d="M396 198h12M372 210h12M360 222h12M336 234h12M312 270h12M276 330h12"/>
<path stroke="#0000fb" d="M384 186h24M372 198h24M360 210h12M348 222h12M324 246h12M312 258h12M300 282h12M288 306h12M264 342h12"/>
<path stroke="#0000ff" d="M312 246h12M300 270h12M288 294h12M276 318h12M252 354h12"/>
<path stroke="#0004ff" d="M300 258h12M288 282h12M264 330h12M240 366h12"/>
<path stroke="#0008ff" d="M288 270h12M276 306h12M252 342h12"/>
<path stroke="#000cff" d="M276 294h12M264 318h12M240 354h12"/>
<path stroke="#0010ff" d="M276 282h12M252 330h12"/>
<path stroke="#0014ff" d="M264 306h12M228 366h12"/>
<path stroke="#0018ff" d="M264 294h12M252 318h12M240 342h12M216 378h12"/>
<path stroke="#001cff" d="M228 354h12"/>
<path stroke="#0020ff" d="M252 306h12M240 330h12M216 366h12M204 390h12"/>
<path stroke="#0024ff" d="M240 318h12M228 342h12"/>
<path stroke="#0028ff" d="M216 354h12M204 378h12M192 402h12"/>
<path stroke="#002cff" d="M240 306h12M228 330h12"/>
<path stroke="#0030ff" d="M216 342h12M204 366h12"/>
<path stroke="#0034ff" d="M228 318h12M204 354h12M192 390h12"/>
<path stroke="#0038ff" d="M216 330h12M192 378h12"/>
<path stroke="#003cff" d="M204 342h12M192 366h12M180 402h12"/>
<path stroke="#0040ff" d="M192 354h12"/>
<path stroke="#0044ff" d="M180 390h12"/>
<path stroke="#0048ff" d="M492 102h12M492 114h12M492 126h12"/>
<path stroke="#004cff" d="M180 366h12M180 378h12"/>
<path stroke="#0050ff" d="M168 402h12"/>
<path stroke="#0058ff" d="M168 390h12"/>
<path stroke="#0060ff" d="M168 366h12M168 378h12"/>
<path stroke="#0068ff" d="M156 402h12"/>
<path stroke="#0070ff" d="M156 390h12"/>
<path stroke="#0078ff" d="M156 378h12"/>
</g></g>
<g clip-path="url(#cb8)"><g filter="url(#bl12)" stroke-width="12.3">
<path stroke="#0000cb" d="M480 138h12"/>
<path stroke="#0000d3" d="M468 138h12"/>
<path stroke="#0000db" d="M468 126h24"/>
<path stroke="#0000eb" d="M480 114h12"/>
<path stroke="#0048ff" d="M492 102h12M492 114h12M492 126h12"/>
<path stroke="#0058ff" d="M504 90h12"/>
<path stroke="#005cff" d="M504 102h12"/>
<path stroke="#0064ff" d="M516 78h12M516 90h12M504 114h12"/>
<path stroke="#0068ff" d="M516 102h12"/>
<path stroke="#0074ff" d="M528 78h12M528 90h12M528 102h12M516 114h12"/>
<path stroke="#0078ff" d="M528 66h12"/>
<path stroke="#007cff" d="M528 114h12M504 126h12"/>
<path stroke="#0080ff" d="M540 78h12M540 90h12M540 102h12M516 126h12"/>
<path stroke="#0083ff" d="M540 66h12M540 114h12"/>
<path stroke="#0087ff" d="M528 126h12"/>
<path stroke="#008bff" d="M552 78h12M552 90h12M552 102h12M552 114h12M540 126h12"/>
<path stroke="#0093ff" d="M552 66h12M564 90h12M564 102h12M516 138h12"/>
<path stroke="#0097ff" d="M552 54h12M564 78h12"/>
<path stroke="#009bff" d="M504 138h12"/>
<path stroke="#009fff" d="M564 66h12M576 90h12"/>
<path stroke="#00a3ff" d="M576 78h12"/>
<path stroke="#00a7ff" d="M564 54h12M504 150h12"/>
<path stroke="#00abff" d="M576 66h12"/>
<path stroke="#00afff" d="M564 42h12M588 78h12"/>
<path stroke="#00b3ff" d="M576 54h12M492 138h12"/>
<path stroke="#00b7ff" d="M588 66h12M600 78h12M492 150h12"/>
<path stroke="#00bfff" d="M576 42h12M588 54h12M600 66h12"/>
<path stroke="#00c7ff" d="M576 30h12"/>
<path stroke="#00cbff" d="M588 42h12M600 54h12M612 66h12"/>
<path stroke="#00d3ff" d="M612 54h12"/>
<path stroke="#00d7ff" d="M588 30h12M600 42h12"/>
<path stroke="#00dfff" d="M612 42h12M624 54h12"/>
<path stroke="#00e3ff" d="M588 18h12M600 30h12"/>
<path stroke="#00ebff" d="M612 30h12M624 42h12"/>
<path stroke="#00efff" d="M600 18h12"/>
<path stroke="#00f7ff" d="M624 30h12"/>
<path stroke="#00fbff" d="M612 18h12"/>
<path stroke="#04fffb" d="M624 18h12"/>
</g></g>
<g clip-path="url(#cb9)"><g filter="url(#bl12)" stroke-width="12.3">
<path stroke="#000083" d="M504 114h12M504 126h24"/>
<path stroke="#00008f" d="M516 138h12"/>
<path stroke="#000097" d="M504 138h12"/>
<path stroke="#0000cb" d="M-12 546h12"/>
<path stroke="#0000d3" d="M96 342h12"/>
<path stroke="#0000d7" d="M-12 558h12"/>
<path stroke="#0000db" d="M372 258h12"/>
<path stroke="#0000df" d="M324 150h12M312 162h12M384 246h12M348 270h12M336 282h12M324 294h12M0 546h12"/>
<path stroke="#0000e3" d="M336 138h12M396 234h12M372 246h12M360 258h12M312 306h12M0 558h12"/>
<path stroke="#0000e7" d="M336 150h12M324 162h12M420 210h12M408 222h12M384 234h12M348 258h12M336 270h12M324 282h12M300 318h12"/>
<path stroke="#0000eb" d="M348 138h12M288 174h36M408 210h12M396 222h12M372 234h12M360 246h12M312 294h12"/>
<path stroke="#0000ef" d="M360 126h12M492 138h12M348 150h12M492 150h12M336 162h12M324 174h12M420 198h36M384 222h12M360 234h12M348 246h12M336 258h12M324 270h12M312 282h12M300 306h12"/>
<path stroke="#0000f3" d="M360 138h12M348 162h12M480 162h12M336 174h12M468 174h12M276 186h36M444 186h24M408 198h12M384 210h24M372 222h12M348 234h12M336 246h12M324 258h12M300 294h12M288 318h12"/>
<path stroke="#0000f7" d="M372 114h12M372 126h12M360 150h12M480 150h12M360 162h12M468 162h12M348 174h12M456 174h12M312 186h36M420 186h24M396 198h12M372 210h12M360 222h12M336 234h12M312 270h12M276 330h12"/>
<path stroke="#0000fb" d="M384 114h12M372 138h12M372 150h12M372 162h12M456 162h12M360 174h24M432 174h24M348 186h72M300 198h96M348 210h24M336 222h24M324 246h12M312 258h12M300 282h12M288 306h12M264 342h12"/>
<path stroke="#0000ff" d="M384 102h12M384 126h12M384 138h12M384 150h12M468 150h12M384 162h24M432 162h24M384 174h48M264 198h36M312 210h36M324 222h12M324 234h12M312 246h12M300 270h12M288 294h12M276 318h12M252 354h12"/>
<path stroke="#0004ff" d="M396 102h12M396 114h12M396 126h12M396 138h24M480 138h12M396 150h72M408 162h24M288 210h24M312 222h12M312 234h12M300 258h12M288 282h12M264 330h12M240 366h12"/>
<path stroke="#0008ff" d="M408 102h12M408 114h12M408 126h24M420 138h60M252 210h36M300 222h12M300 234h12M300 246h12M288 270h12M276 306h12M252 342h12"/>
<path stroke="#000cff" d="M408 90h12M420 114h12M432 126h12M276 222h24M288 234h12M288 246h12M288 258h12M276 294h12M264 318h12M240 354h12"/>
<path stroke="#0010ff" d="M420 90h12M420 102h12M432 114h12M444 126h24M264 222h12M276 234h12M276 282h12M96 330h12M252 330h12"/>
<path stroke="#0014ff" d="M420 78h12M432 102h12M444 114h12M468 126h12M252 222h12M276 246h12M276 258h12M276 270h12M264 306h12M228 366h12"/>
<path stroke="#0018ff" d="M432 90h12M444 102h12M456 114h12M480 126h12M264 234h12M264 294h12M252 318h12M240 342h12M216 378h12"/>
<path stroke="#001cff" d="M432 78h12M444 90h12M240 222h12M264 246h12M264 282h12M228 354h12"/>
<path stroke="#0020ff" d="M432 66h12M444 78h12M456 102h12M468 114h12M228 222h12M252 234h12M264 258h12M264 270h12M252 306h12M240 330h12M216 366h12M204 390h12M120 462h12M96 474h12"/>
<path stroke="#0024ff" d="M444 66h12M456 90h12M252 246h12M252 294h12M240 318h12M228 342h12M96 366h12M108 462h12M84 486h12"/>
<path stroke="#0028ff" d="M456 78h12M468 102h12M240 234h12M252 258h12M252 270h12M252 282h12M216 354h12M84 378h12M204 378h12M192 402h12M96 462h12M84 474h12"/>
<path stroke="#002cff" d="M468 90h12M480 114h12M240 306h12M228 330h12M96 354h12M120 450h24M84 462h12M72 486h12M72 498h12"/>
<path stroke="#0030ff" d="M228 234h12M240 246h12M240 282h12M240 294h12M216 342h12M84 366h12M204 366h12M180 414h12M96 450h24M72 474h12"/>
<path stroke="#0034ff" d="M480 102h12M216 234h12M240 258h12M240 270h12M228 318h12M204 354h12M96 378h12M192 390h12M84 450h12M72 462h12M60 486h12M60 498h12M60 510h12M0 534h12"/>
<path stroke="#0038ff" d="M480 90h12M228 306h12M216 330h12M192 378h12M84 390h12M84 438h72M72 450h12M60 474h12M48 510h12M48 522h12M12 546h12"/>
<path stroke="#003cff" d="M228 246h12M228 294h12M204 342h12M192 366h12M180 402h12M60 462h12M48 474h12M48 486h12M48 498h12M36 522h12M12 534h24"/>
<path stroke="#0040ff" d="M228 258h12M228 270h12M228 282h12M216 318h12M192 354h12M72 390h12M96 390h12M84 402h12M84 426h36M156 426h12M72 438h12M60 450h12M48 462h12M36 498h12M36 510h12M24 522h12"/>
<path stroke="#0044ff" d="M216 246h12M180 390h12M72 402h12M96 402h12M84 414h24M168 414h12M72 426h12M120 426h12M60 438h12M48 450h12M36 474h12M36 486h12M24 510h12"/>
<path stroke="#0048ff" d="M492 102h12M492 114h12M492 126h12M216 306h12M204 330h12M72 378h12M72 414h12M60 426h12M48 438h12M36 462h12M24 498h12M12 522h12"/>
<path stroke="#004cff" d="M204 246h12M216 294h12M192 342h12M180 366h12M180 378h12M60 402h12M60 414h12M108 414h12M48 426h12M132 426h24M36 450h12M24 462h12M24 474h12M24 486h12M12 510h12"/>
<path stroke="#0050ff" d="M204 318h12M180 354h12M168 402h12M36 438h12M24 450h12M12 498h12"/>
<path stroke="#0054ff" d="M216 258h12M216 282h12M48 414h12M156 414h12M36 426h12M24 438h12M12 450h12M12 462h12M12 474h12M12 486h12M0 522h12"/>
<path stroke="#0058ff" d="M216 270h12M204 306h12M192 330h12M60 390h12M168 390h12M108 402h12M120 414h12M0 462h12"/>
<path stroke="#005cff" d="M108 342h12M180 342h12M168 354h12M36 414h12M144 414h12M24 426h12M12 438h12M0 450h12M0 474h12M0 486h12M0 498h12M0 510h12"/>
<path stroke="#0060ff" d="M168 366h12M168 378h12M48 402h12M132 414h12M12 426h12M0 438h12M-12 450h12M-12 462h12M-12 474h12"/>
<path stroke="#0064ff" d="M204 294h12M192 318h12M24 414h12M0 426h12M-12 438h12M-24 450h12M-24 462h12M-12 486h12"/>
<path stroke="#0068ff" d="M204 258h12M108 390h12M156 402h12M-12 426h12M-24 438h12M-24 474h12M-12 498h12"/>
<path stroke="#006cff" d="M180 330h12M168 342h12M156 354h12M36 402h12M0 414h24M-24 426h12M-24 486h12"/>
<path stroke="#0070ff" d="M204 282h12M48 390h12M156 390h12M24 402h12M-24 414h24M-12 510h12"/>
<path stroke="#0074ff" d="M192 306h12M60 378h12M12 402h12M120 402h12M144 402h12M-24 498h12"/>
<path stroke="#0078ff" d="M192 258h12M108 330h12M156 366h12M156 378h12M0 402h12"/>
<path stroke="#007cff" d="M204 270h12M144 354h12M36 390h12"/>
<path stroke="#0080ff" d="M180 318h12M168 330h12M72 366h12M12 390h24M132 402h12M-24 510h12M-12 522h12"/>
<path stroke="#0083ff" d="M192 294h12M156 342h12"/>
<path stroke="#0087ff" d="M180 258h12M48 378h12"/>
<path stroke="#008fff" d="M108 318h12M144 342h12M132 354h12M24 378h24"/>
<path stroke="#0093ff" d="M192 270h12M120 342h12M144 366h12M144 390h12M-24 522h12"/>
<path stroke="#0097ff" d="M180 306h12M132 342h12M60 366h12M108 378h12"/>
<path stroke="#009bff" d="M192 282h12M48 366h12M144 378h12"/>
<path stroke="#009fff" d="M180 270h12M156 330h12M120 390h12"/>
<path stroke="#00a3ff" d="M168 318h12M132 390h12"/>
<path stroke="#00a7ff" d="M120 354h12"/>
<path stroke="#00abff" d="M84 354h12"/>
<path stroke="#00b3ff" d="M168 270h12M-24 534h12"/>
<path stroke="#00b7ff" d="M60 354h24"/>
<path stroke="#00bbff" d="M180 294h12"/>
<path stroke="#00bfff" d="M180 282h12M120 330h12"/>
<path stroke="#00c3ff" d="M144 330h12"/>
<path stroke="#00c7ff" d="M132 366h12M132 378h12M-24 546h12"/>
<path stroke="#00cbff" d="M-12 534h12"/>
<path stroke="#00cfff" d="M156 318h12"/>
<path stroke="#00d3ff" d="M120 318h12"/>
<path stroke="#00d7ff" d="M168 282h12M168 306h12M132 330h12"/>
<path stroke="#00dbff" d="M120 378h12"/>
<path stroke="#00ebff" d="M120 306h12M108 354h12"/>
<path stroke="#00efff" d="M156 282h12"/>
<path stroke="#00f3ff" d="M72 342h12"/>
<path stroke="#00fbff" d="M168 294h12"/>
<path stroke="#00ffff" d="M108 366h12"/>
<path stroke="#08fff7" d="M132 294h12M120 366h12"/>
<path stroke="#10ffef" d="M144 294h12"/>
<path stroke="#14ffeb" d="M156 294h12M132 318h24"/>
<path stroke="#18ffe7" d="M132 306h12"/>
<path stroke="#20ffdf" d="M144 306h24M84 342h12"/>
</g></g>
<g clip-path="url(#cb9p0)"><g filter="url(#bl4)" stroke-width="4.3">
<path stroke="#0000b3" d="M100 346h4"/>
<path stroke="#0000d3" d="M100 342h4"/>
<path stroke="#0000fb" d="M104 346h4"/>
<path stroke="#0004ff" d="M104 342h4"/>
<path stroke="#0008ff" d="M284 294h4M284 298h4M280 302h4"/>
<path stroke="#000cff" d="M280 294h4M280 298h4M276 302h4M276 306h4M272 310h4"/>
<path stroke="#0010ff" d="M276 290h8M276 294h4M276 298h4M272 302h4M272 306h4M268 310h4M268 314h4"/>
<path stroke="#0014ff" d="M276 286h4M272 290h4M272 294h4M272 298h4M268 302h4M268 306h4M264 310h4M264 314h4M260 318h4M96 362h4"/>
<path stroke="#0018ff" d="M272 282h4M272 286h4M268 290h4M268 294h4M268 298h4M264 302h4M264 306h4M260 310h4M260 314h4M256 318h4M256 322h4M252 326h4M92 366h4M88 370h4"/>
<path stroke="#001cff" d="M268 274h4M268 278h4M268 282h4M268 286h4M264 290h4M264 294h4M264 298h4M260 302h4M260 306h4M256 310h4M256 314h4M252 318h4M252 322h4M248 326h4M96 366h4M92 370h4"/>
<path stroke="#0020ff" d="M264 270h4M264 274h4M264 278h4M264 282h4M264 286h4M260 290h4M260 294h4M256 298h8M256 302h4M256 306h4M252 310h4M252 314h4M248 318h4M248 322h4M244 326h4M244 330h4M240 334h4M96 358h4M100 362h4M96 370h4M88 374h8"/>
<path stroke="#0024ff" d="M260 266h4M260 270h4M260 274h4M260 278h4M260 282h4M256 286h8M256 290h4M256 294h4M252 298h4M252 302h4M252 306h4M248 310h4M248 314h4M244 318h4M244 322h4M240 326h4M240 330h4M236 334h4M236 338h4M232 342h4M100 358h4M100 366h4M96 374h4"/>
<path stroke="#0028ff" d="M256 258h4M256 262h4M256 266h4M256 270h4M256 274h4M256 278h4M256 282h4M252 286h4M252 290h4M252 294h4M248 302h4M248 306h4M244 310h4M244 314h4M240 322h4M236 326h4M236 330h4M232 334h4M232 338h4M228 342h4M224 346h4M100 370h4M84 374h4M88 378h12"/>
<path stroke="#002cff" d="M252 254h4M252 258h4M252 262h4M252 266h4M252 270h4M252 274h4M252 278h4M252 282h4M248 286h4M248 290h4M248 294h4M248 298h4M244 302h4M244 306h4M240 314h4M240 318h4M236 322h4M232 330h4M228 334h4M228 338h4M224 342h4M220 346h4M220 350h4M100 354h4M216 354h4M92 362h4M100 374h4M84 378h4"/>
<path stroke="#0030ff" d="M240 238h4M244 246h4M248 250h4M248 254h4M248 258h4M248 262h4M248 266h4M248 270h4M248 274h4M248 278h4M244 282h8M244 286h4M244 290h4M244 294h4M244 298h4M240 302h4M240 306h4M240 310h4M236 314h4M236 318h4M232 322h4M232 326h4M228 330h4M224 334h4M224 338h4M220 342h4M216 346h4M104 350h4M216 350h4M212 354h4M88 366h4M84 382h16"/>
<path stroke="#0034ff" d="M236 238h4M240 242h4M244 250h4M244 254h4M244 258h4M244 262h4M244 266h4M244 270h4M244 274h4M244 278h4M240 282h4M240 286h4M240 290h4M240 294h4M240 298h4M236 302h4M236 306h4M236 310h4M232 314h4M232 318h4M228 322h4M228 326h4M224 330h4M220 338h4M108 342h4M216 342h4M212 350h4M208 354h4M208 358h4M204 362h4M80 378h4M100 378h4M80 382h4M88 386h12M92 442h12M92 446h8"/>
<path stroke="#0038ff" d="M232 242h8M240 246h4M240 250h4M240 254h4M240 258h4M240 262h4M240 266h4M240 270h4M240 274h4M240 278h4M236 290h4M236 294h4M236 298h4M232 306h4M232 310h4M228 314h4M228 318h4M224 322h4M224 326h4M220 330h4M220 334h4M216 338h4M212 342h4M108 346h4M212 346h4M208 350h4M204 354h4M204 358h4M200 362h4M200 366h4M84 370h4M100 382h4M80 386h8M88 390h12M92 434h4M88 438h20M88 442h4"/>
<path stroke="#003cff" d="M232 246h8M236 250h4M236 254h4M236 258h4M236 262h4M236 266h4M236 270h4M236 274h4M236 278h4M236 282h4M236 286h4M232 294h4M232 298h4M232 302h4M228 306h4M228 310h4M224 318h4M220 322h4M220 326h4M216 330h4M216 334h4M108 338h4M212 338h4M208 342h4M208 346h4M204 350h4M200 354h4M200 358h4M196 366h4M76 386h4M100 386h4M84 390h4M88 394h12M92 398h8M92 426h4M88 430h24M84 434h8M96 434h20"/>
<path stroke="#0040ff" d="M228 246h4M232 250h4M232 258h4M232 262h4M232 266h4M232 270h4M232 274h4M232 278h4M232 282h4M232 286h4M232 290h4M228 298h4M228 302h4M224 310h4M224 314h4M220 318h4M216 326h4M212 334h4M208 338h4M204 346h4M200 350h4M196 354h4M196 358h4M196 362h4M192 370h4M80 374h4M76 382h4M76 390h8M100 390h4M80 394h8M80 398h12M84 402h16M88 406h12M88 410h12M92 414h8M92 418h8M88 422h16M84 426h8M96 426h20M80 430h8M112 430h8"/>
<path stroke="#0044ff" d="M224 246h4M228 250h4M232 254h4M228 266h4M228 270h4M228 282h4M228 286h4M228 290h4M228 294h4M224 302h4M224 306h4M220 310h4M220 314h4M216 318h4M216 322h4M212 326h4M212 330h4M208 334h4M204 338h4M204 342h4M200 346h4M196 350h4M192 354h4M192 358h4M192 362h4M192 366h4M72 390h4M72 394h8M100 394h4M76 398h4M100 398h4M76 402h8M100 402h4M80 406h8M100 406h4M80 410h8M100 410h4M84 414h8M100 414h4M84 418h8M100 418h8M76 422h12M104 422h16M76 426h8M116 426h8"/>
<path stroke="#0048ff" d="M220 250h8M228 254h4M228 258h4M228 262h4M228 274h4M228 278h4M224 290h4M224 294h4M224 298h4M220 302h4M220 306h4M216 314h4M212 322h4M208 330h4M204 334h4M200 342h4M196 346h4M192 350h4M188 354h4M188 358h4M188 362h4M188 366h4M188 370h4M188 374h4M76 378h4M68 394h4M68 398h8M72 402h4M72 406h8M104 406h4M72 410h8M104 410h4M76 414h8M104 414h8M72 418h12M108 418h12M120 422h4"/>
<path stroke="#004cff" d="M220 254h8M224 258h4M224 262h4M224 266h4M224 270h4M224 274h4M224 278h4M224 282h4M224 286h4M220 294h4M220 298h4M216 306h4M216 310h4M212 314h4M212 318h4M208 322h4M208 326h4M204 330h4M200 338h4M196 342h4M192 346h4M188 350h4M184 366h4M184 370h4M184 374h4M104 378h4M184 378h4M104 382h4M72 386h4M104 386h4M104 390h4M104 394h4M104 398h4M64 402h8M104 402h4M68 406h4M108 406h4M68 410h4M108 410h4M68 414h8M112 414h8M120 418h4M124 422h4"/>
<path stroke="#0050ff" d="M216 254h4M220 286h4M220 290h4M216 298h4M216 302h4M212 310h4M208 318h4M204 326h4M200 330h4M200 334h4M196 338h4M192 342h4M188 346h4M184 354h4M184 358h4M184 362h4M84 366h4M104 374h4M180 382h4M68 390h4M64 398h4M108 402h4M64 406h4M64 410h4M112 410h4M124 418h4M128 422h4"/>
<path stroke="#0054ff" d="M220 258h4M220 278h4M220 282h4M216 294h4M212 302h4M212 306h4M208 310h4M208 314h4M204 322h4M200 326h4M196 334h4M192 338h4M184 350h4M180 354h4M180 358h4M180 362h4M180 366h4M80 370h4M104 370h4M180 370h4M180 374h4M180 378h4M72 382h4M64 394h4M108 398h4M60 402h4M60 406h4M112 406h4M116 410h4M120 414h4M128 418h4"/>
<path stroke="#0058ff" d="M216 258h4M220 262h4M220 266h4M220 270h4M220 274h4M216 286h4M216 290h4M212 298h4M208 306h4M204 314h4M204 318h4M200 322h4M196 330h4M188 342h4M184 346h4M108 350h4M180 350h4M176 354h4M176 358h4M88 362h4M176 362h4M104 366h4M176 366h4M176 370h4M76 374h4M176 374h4M176 378h4M176 382h4M68 386h4M64 390h4M108 390h4M108 394h4M60 398h4M112 402h4M116 406h4M124 414h4M132 418h4"/>
<path stroke="#005cff" d="M216 278h4M216 282h4M212 294h4M208 302h4M204 310h4M200 318h4M196 326h4M192 334h4M188 338h4M112 342h4M184 342h4M112 346h4M180 346h4M176 350h4M172 354h4M72 378h4M172 382h4M108 386h4M172 386h4M60 394h4M112 398h4M120 410h4M128 414h4"/>
<path stroke="#0060ff" d="M212 258h4M216 262h4M216 270h4M216 274h4M212 286h4M212 290h4M208 298h4M204 306h4M200 314h4M196 322h4M192 330h4M188 334h4M184 338h4M180 342h4M176 346h4M172 350h4M172 358h4M104 362h4M172 362h4M172 366h4M172 370h4M172 374h4M172 378h4M68 382h4M64 386h4M60 390h4M168 390h4M112 394h4M56 398h4M116 402h4M124 410h4M132 414h8"/>
<path stroke="#0064ff" d="M216 266h4M212 282h4M208 294h4M204 302h4M200 310h4M196 318h4M192 326h4M188 330h4M184 334h4M112 338h4M180 338h4M176 342h4M168 354h4M92 358h4M168 358h4M168 362h4M168 366h4M168 378h4M108 382h4M168 382h4M168 386h4M56 394h4M164 394h4M120 406h4"/>
<path stroke="#0068ff" d="M212 262h4M212 278h4M208 290h4M204 298h4M200 306h4M196 314h4M192 322h4M172 346h4M168 350h4M164 354h4M76 370h4M168 370h4M72 374h4M168 374h4M68 378h4M108 378h4M64 382h4M60 386h4M164 386h4M56 390h4M112 390h4M164 390h4M116 398h4M148 406h4M128 410h8M140 410h4"/>
<path stroke="#006cff" d="M212 274h4M208 286h4M204 294h4M200 302h4M196 310h4M192 318h4M188 326h4M184 330h4M112 334h4M180 334h4M176 338h4M172 342h4M168 346h4M112 350h4M164 350h4M160 354h4M164 358h4M164 362h4M80 366h4M164 382h4M52 394h4M160 394h4M120 402h4M124 406h4M144 406h4M136 410h4"/>
<path stroke="#0070ff" d="M208 262h4M212 266h4M212 270h4M208 282h4M204 290h4M200 298h4M188 322h4M172 338h4M160 350h4M104 358h4M160 358h4M164 366h4M164 370h4M164 374h4M164 378h4M60 382h4M56 386h4M52 390h4M160 390h4M156 398h4M152 402h4M128 406h4M140 406h4"/>
<path stroke="#0074ff" d="M204 262h4M208 278h4M196 306h4M192 314h4M188 318h4M184 326h4M180 330h4M176 334h4M168 342h4M116 346h4M164 346h4M156 350h4M156 354h4M160 362h4M68 374h4M108 374h4M64 378h4M112 386h4M160 386h4M48 390h4M116 394h4M156 394h4M124 402h4M148 402h4M132 406h8"/>
<path stroke="#0078ff" d="M208 266h4M208 274h4M204 286h4M200 294h4M196 302h4M192 310h4M184 322h4M176 330h4M172 334h4M168 338h4M116 342h4M160 346h4M116 350h4M152 350h4M152 354h4M156 358h4M84 362h4M160 366h4M72 370h4M160 370h4M160 378h4M56 382h4M160 382h4M52 386h4M120 398h4M152 398h4M144 402h4"/>
<path stroke="#007cff" d="M204 266h4M208 270h4M204 282h4M200 290h4M196 298h4M192 306h4M188 314h4M180 326h4M164 342h4M156 346h4M148 350h4M148 354h4M152 358h4M156 362h4M160 374h4M60 378h4M48 386h4M156 390h4M148 398h4M128 402h4M140 402h4"/>
<path stroke="#0080ff" d="M204 278h4M184 318h4M172 330h4M168 334h4M164 338h4M152 346h4M120 350h4M144 350h4M144 354h4M76 366h4M156 366h4M64 374h4M52 382h4M156 386h4M116 390h4M152 394h4M136 402h4"/>
<path stroke="#0083ff" d="M200 266h4M204 270h4M200 286h4M196 294h4M192 302h4M188 310h4M180 322h4M176 326h4M116 338h4M160 342h4M120 346h4M148 346h4M140 350h4M148 358h4M152 362h4M68 370h4M156 370h4M156 374h4M56 378h4M156 378h4M48 382h4M112 382h4M156 382h4M120 394h4M124 398h4M144 398h4M132 402h4"/>
<path stroke="#0087ff" d="M204 274h4M196 290h4M184 314h4M156 342h4M144 346h4M124 350h16M140 354h4M108 370h4M60 374h4M152 390h4M148 394h4M140 398h4"/>
<path stroke="#008bff" d="M200 270h4M200 282h4M192 298h4M188 306h4M180 318h4M176 322h4M172 326h4M168 330h4M116 334h4M164 334h4M160 338h4M120 342h4M152 342h4M124 346h4M136 346h8M96 354h4M88 358h4M80 362h4M148 362h4M72 366h4M152 366h4M64 370h4M152 386h4M128 398h12"/>
<path stroke="#008fff" d="M200 278h4M196 286h4M184 310h4M148 342h4M128 346h8M136 354h4M144 358h4M152 370h4M152 374h4M152 378h4M152 382h4M116 386h4M124 394h4M144 394h4"/>
<path stroke="#0093ff" d="M196 270h4M200 274h4M192 294h4M188 302h4M180 314h4M168 326h4M116 330h4M164 330h4M160 334h4M156 338h4M124 342h4M140 342h8M76 362h4M148 366h4M120 390h4M148 390h4M140 394h4"/>
<path stroke="#0097ff" d="M184 306h4M176 318h4M172 322h4M152 338h4M128 342h12M132 354h4M84 358h4M140 358h4M144 362h4M112 378h4M148 386h4M132 394h8"/>
<path stroke="#009bff" d="M196 274h4M196 282h4M192 290h4M188 298h4M120 338h4M148 338h4M148 370h4M148 374h4M148 378h4M148 382h4M144 390h4M128 394h4"/>
<path stroke="#009fff" d="M192 274h4M180 310h4M164 326h4M160 330h4M156 334h4M144 338h4M128 354h4M80 358h4M124 390h4M140 390h4"/>
<path stroke="#00a3ff" d="M188 274h4M196 278h4M192 286h4M188 294h4M184 302h4M176 314h4M172 318h4M168 322h4M120 334h4M124 338h4M140 338h4M92 354h4M144 366h4M116 382h4M144 386h4M128 390h12"/>
<path stroke="#00a7ff" d="M192 278h4M152 334h4M128 338h12M124 354h4M136 358h4M140 362h4M108 366h4M144 370h4M144 374h4M144 378h4M144 382h4M120 386h4"/>
<path stroke="#00abff" d="M188 278h4M180 306h4M160 326h4M120 330h4M156 330h4M88 354h4M140 386h4"/>
<path stroke="#00afff" d="M192 282h4M188 290h4M184 298h4M176 310h4M168 318h4M164 322h4M148 334h4M112 374h4M132 386h8"/>
<path stroke="#00b3ff" d="M184 278h4M172 314h4M144 334h4M84 354h4M104 354h4M120 354h4M132 358h4M140 382h4M124 386h8"/>
<path stroke="#00b7ff" d="M188 282h4M180 302h4M140 334h4M140 366h4M140 370h4M140 374h4M140 378h4"/>
<path stroke="#00bbff" d="M188 286h4M184 294h4M156 326h4M152 330h4M124 334h16M136 362h4"/>
<path stroke="#00bfff" d="M184 282h4M176 306h4M164 318h4M160 322h4M124 330h4M116 378h4M136 382h4"/>
<path stroke="#00c3ff" d="M180 298h4M172 310h4M168 314h4M148 330h4M120 382h4M132 382h4"/>
<path stroke="#00c7ff" d="M180 282h4M184 290h4M124 326h4M116 354h4M128 358h4M136 366h4M136 378h4M124 382h8"/>
<path stroke="#00cbff" d="M184 286h4M152 326h4M144 330h4M136 370h4M136 374h4"/>
<path stroke="#00cfff" d="M176 302h4M160 318h4M156 322h4M140 330h4M132 362h4"/>
<path stroke="#00d3ff" d="M180 286h4M180 294h4M164 314h4M128 330h4M112 370h4"/>
<path stroke="#00d7ff" d="M172 306h4M168 310h4M132 330h8M92 350h4M132 366h4M120 378h4M132 378h4"/>
<path stroke="#00dbff" d="M176 286h4M128 326h4M96 350h4M124 358h4M124 378h8"/>
<path stroke="#00dfff" d="M180 290h4M176 298h4M152 322h4M148 326h4M108 362h4M132 370h4M132 374h4"/>
<path stroke="#00e3ff" d="M172 286h4M156 318h4M128 322h4M128 362h4M116 374h4"/>
<path stroke="#00e7ff" d="M176 290h4M172 302h4M160 314h4M144 326h4"/>
<path stroke="#00ebff" d="M164 310h4M100 350h4M112 354h4M120 374h4"/>
<path stroke="#00efff" d="M172 290h4M176 294h4M168 306h4M132 326h4M140 326h4M128 366h4"/>
<path stroke="#00f3ff" d="M120 358h4M128 370h4M124 374h8"/>
<path stroke="#00f7ff" d="M168 290h4M132 322h4M148 322h4M136 326h4M124 362h4"/>
<path stroke="#00fbff" d="M172 294h4M172 298h4M152 318h4M116 370h4"/>
<path stroke="#00ffff" d="M156 314h4M132 318h4M112 366h4"/>
<path stroke="#04fffb" d="M168 294h4M160 310h4"/>
<path stroke="#08fff7" d="M168 302h4M164 306h4M108 354h4M124 366h4M120 370h4"/>
<path stroke="#0cfff3" d="M164 294h4M136 322h4M116 358h4"/>
<path stroke="#10ffef" d="M168 298h4M144 322h4M120 362h4M124 370h4"/>
<path stroke="#14ffeb" d="M136 318h4M148 318h4M116 366h4"/>
<path stroke="#18ffe7" d="M160 298h8M152 314h4M108 358h4"/>
<path stroke="#1cffe3" d="M152 302h16M136 314h4M140 322h4M112 362h4"/>
<path stroke="#20ffdf" d="M148 306h16M144 310h4M156 310h4"/>
<path stroke="#24ffdb" d="M148 310h8M140 314h4M120 366h4"/>
<path stroke="#28ffd7" d="M144 314h8M140 318h4"/>
<path stroke="#2cffd3" d="M144 318h4M96 346h4"/>
<path stroke="#30ffcf" d="M116 362h4"/>
<path stroke="#34ffcb" d="M112 358h4"/>
</g></g>
<g clip-path="url(#cb10)"><g filter="url(#bl12)" stroke-width="12.3">
<path stroke="#0028ff" d="M84 378h12"/>
<path stroke="#0030ff" d="M84 366h12"/>
<path stroke="#0038ff" d="M96 378h12M84 390h12"/>
<path stroke="#0040ff" d="M96 366h12M72 390h12"/>
<path stroke="#0044ff" d="M72 402h12"/>
<path stroke="#0048ff" d="M72 378h12"/>
<path stroke="#004cff" d="M60 402h12"/>
<path stroke="#0054ff" d="M48 414h12M36 426h12M24 438h12"/>
<path stroke="#0058ff" d="M60 390h12"/>
<path stroke="#005cff" d="M36 414h12M24 426h12M12 438h12M0 450h12"/>
<path stroke="#0060ff" d="M96 354h12M48 402h12M12 426h12M0 438h12M-12 450h12M-12 462h12"/>
<path stroke="#0064ff" d="M24 414h12M0 426h12M-12 438h12M-24 450h12M-24 462h12"/>
<path stroke="#0068ff" d="M-12 426h12M-24 438h12"/>
<path stroke="#006cff" d="M36 402h12M0 414h24M-24 426h12"/>
<path stroke="#0070ff" d="M48 390h12M24 402h12M-24 414h24"/>
<path stroke="#0074ff" d="M60 378h12M12 402h12"/>
<path stroke="#0078ff" d="M-24 402h36"/>
<path stroke="#007cff" d="M36 390h12"/>
<path stroke="#0080ff" d="M72 366h12M-24 390h60"/>
<path stroke="#0087ff" d="M-24 378h24M48 378h12"/>
<path stroke="#008bff" d="M0 378h24"/>
<path stroke="#008fff" d="M-24 366h12M24 378h24"/>
<path stroke="#0093ff" d="M432 54h12M444 66h12M456 78h12M-12 366h12"/>
<path stroke="#0097ff" d="M408 42h12M420 54h12M432 66h12M444 78h12M456 90h24M-24 354h12M0 366h24M60 366h12"/>
<path stroke="#009bff" d="M384 18h12M396 30h12M396 42h12M408 54h12M420 66h12M432 78h12M444 90h12M456 102h12M-12 354h12M24 366h12M48 366h12"/>
<path stroke="#009fff" d="M348 -6h12M360 6h12M360 18h24M372 30h24M384 42h12M396 54h12M408 66h12M420 78h12M432 90h12M444 102h12M-24 342h12M0 354h12M36 366h12"/>
<path stroke="#00a3ff" d="M324 -18h24M324 -6h24M324 6h36M336 18h24M348 30h24M372 42h12M384 54h12M444 114h12M-12 342h12"/>
<path stroke="#00a7ff" d="M300 -18h24M300 -6h24M300 6h24M312 18h24M312 30h36M336 42h36M372 54h12M384 66h24M408 78h12M420 90h12M432 102h12M-24 330h12M12 354h12"/>
<path stroke="#00abff" d="M288 -18h12M288 -6h12M288 6h12M288 18h24M288 30h24M300 42h36M336 54h36M372 66h12M396 78h12M408 90h12M420 102h12M432 114h12M-24 222h12M-24 234h12M-24 318h12M-12 330h12M0 342h12M24 354h12"/>
<path stroke="#00afff" d="M276 -18h12M264 -6h24M264 6h24M264 18h24M264 30h24M276 42h24M288 54h48M348 66h24M384 78h12M396 90h12M-24 198h36M-24 210h36M-12 222h24M-12 234h12M-24 246h12M-24 258h12M-24 270h12M-24 306h12M36 354h12"/>
<path stroke="#00b3ff" d="M252 -18h24M252 -6h12M252 6h12M252 18h12M240 30h24M252 42h24M264 54h24M288 66h60M360 78h24M408 102h12M420 114h12M24 174h24M-24 186h72M12 198h36M12 210h24M12 222h12M0 234h12M-12 246h12M-12 258h12M-24 282h12M-24 294h12M-12 318h12M0 330h12M12 342h12M48 354h12"/>
<path stroke="#00b7ff" d="M240 -18h12M240 -6h12M228 6h24M228 18h24M228 30h12M228 42h24M240 54h24M252 66h36M324 78h36M372 90h24M396 102h12M420 126h12M24 162h48M-24 174h48M48 174h24M48 186h24M48 198h12M36 210h12M12 234h12M0 246h12M-12 270h12M-12 282h12M-12 294h12M-12 306h12M60 354h36"/>
<path stroke="#00bbff" d="M228 -18h12M216 -6h24M216 6h12M216 18h12M216 30h12M216 42h12M216 54h24M228 66h24M264 78h60M360 90h12M384 102h12M408 114h12M24 150h60M-12 162h36M72 162h12M72 174h12M60 198h12M24 222h12M0 258h12M0 318h12M12 330h12M24 342h12"/>
<path stroke="#00bfff" d="M204 -18h24M204 -6h12M204 6h12M192 18h24M192 30h24M192 42h24M192 54h24M204 66h24M228 78h36M312 90h48M396 114h12M72 126h24M408 126h12M36 138h72M0 150h24M84 150h24M-24 162h12M84 162h12M84 174h12M72 186h12M48 210h12M36 222h12M24 234h12M12 246h12M0 270h12M0 282h12M0 294h12M0 306h12"/>
<path stroke="#00c3ff" d="M192 -18h12M192 -6h12M180 6h24M180 18h12M180 30h12M168 42h24M168 54h24M180 66h24M204 78h24M252 90h60M360 102h24M72 114h48M48 126h24M96 126h24M12 138h24M108 138h12M-12 150h12M108 150h12M96 162h12M84 186h12M72 198h12M60 210h12M12 258h12M12 318h12M36 342h12"/>
<path stroke="#00c7ff" d="M180 -18h12M168 -6h24M168 6h12M156 18h24M156 30h24M156 42h12M156 54h12M156 66h24M156 78h48M108 90h48M204 90h48M72 102h72M336 102h24M48 114h24M120 114h24M384 114h12M24 126h24M120 126h12M396 126h12M0 138h12M120 138h12M408 138h12M-24 150h12M108 162h12M96 174h12M48 222h12M36 234h12M24 246h12M12 270h12M12 282h12M12 306h12M24 330h12"/>
<path stroke="#00cbff" d="M156 -18h24M156 -6h12M144 6h24M144 18h12M144 30h12M132 42h24M132 54h24M120 66h36M96 78h60M72 90h36M156 90h48M60 102h12M144 102h24M264 102h72M36 114h12M144 114h12M372 114h12M12 126h12M132 126h12M-24 138h24M132 138h12M120 150h12M108 174h12M96 186h12M84 198h12M72 210h12M24 258h12M12 294h12"/>
<path stroke="#00cfff" d="M144 -18h12M132 -6h24M132 6h12M132 18h12M120 30h24M120 42h12M108 54h24M96 66h24M72 78h24M60 90h12M36 102h24M168 102h96M24 114h12M156 114h12M348 114h24M-12 126h24M144 126h12M384 126h12M396 138h12M132 150h12M120 162h12M60 222h12M48 234h12M36 246h12M24 270h12M24 318h12M48 342h12"/>
<path stroke="#00d3ff" d="M120 -18h24M120 -6h12M120 6h12M120 18h12M108 30h12M96 42h24M84 54h24M72 66h24M60 78h12M48 90h12M24 102h12M0 114h24M168 114h24M312 114h36M-24 126h12M156 126h12M372 126h12M144 138h12M108 186h12M96 198h12M24 282h12M24 306h12M36 330h12"/>
<path stroke="#00d7ff" d="M108 -18h12M108 -6h12M108 6h12M96 18h24M96 30h12M84 42h12M72 54h12M60 66h12M48 78h12M36 90h12M12 102h12M-12 114h12M192 114h120M168 126h12M360 126h12M156 138h12M384 138h12M144 150h12M396 150h12M132 162h12M120 174h12M84 210h12M72 222h12M60 234h12M48 246h12M36 258h12M24 294h12"/>
<path stroke="#00dbff" d="M96 -18h12M96 -6h12M84 6h24M84 18h12M72 30h24M60 42h24M60 54h12M48 66h12M36 78h12M12 90h24M0 102h12M-24 114h12M180 126h12M348 126h12M36 318h12M60 342h12"/>
<path stroke="#00dfff" d="M84 -18h12M72 -6h24M72 6h12M60 18h24M60 30h12M48 42h12M36 54h24M36 66h12M24 78h12M0 90h12M-24 102h24M192 126h24M312 126h36M168 138h12M372 138h12M156 150h12M384 150h12M144 162h12M132 174h12M120 186h12M108 198h12M96 210h12M36 270h12"/>
<path stroke="#00e3ff" d="M60 -18h24M60 -6h12M48 6h24M48 18h12M36 30h24M36 42h12M24 54h12M12 66h24M0 78h24M-12 90h12M216 126h96M180 138h12M360 138h12M84 222h12M72 234h12M60 246h12M48 258h12M36 282h12M36 306h12M48 330h12"/>
<path stroke="#00e7ff" d="M36 -18h24M36 -6h24M36 6h12M24 18h24M24 30h12M24 42h12M12 54h12M0 66h12M-12 78h12M-24 90h12M192 138h12M348 138h12M168 150h12M372 150h12M156 162h12M144 174h12M132 186h12M36 294h12"/>
<path stroke="#00ebff" d="M12 -18h24M12 -6h24M12 6h24M12 18h12M12 30h12M0 42h24M-12 54h24M-24 66h24M-24 78h12M204 138h12M324 138h24M120 198h12M108 210h12M48 270h12"/>
<path stroke="#00efff" d="M-24 -18h36M-12 -6h24M-12 6h24M-12 18h24M-12 30h24M-24 42h24M-24 54h12M216 138h108M180 150h12M360 150h12M168 162h12M96 222h12M84 234h12M60 258h12M48 318h12"/>
<path stroke="#00f3ff" d="M-24 -6h12M-24 6h12M-24 18h12M-24 30h12M192 150h12M348 150h12M372 162h12M156 174h12M144 186h12M72 246h12M48 282h12M72 342h12"/>
<path stroke="#00f7ff" d="M204 150h12M336 150h12M180 162h12M132 198h12M120 210h12M48 294h12M48 306h12"/>
<path stroke="#00fbff" d="M216 150h12M312 150h24M360 162h12M168 174h12M108 222h12M60 270h12M60 330h12"/>
<path stroke="#00ffff" d="M228 150h84M192 162h12M348 162h12M156 186h12M144 198h12M96 234h12M84 246h12M72 258h12"/>
<path stroke="#04fffb" d="M336 162h12M360 174h12"/>
<path stroke="#08fff7" d="M204 162h12M324 162h12M180 174h12M132 210h12M60 282h12"/>
<path stroke="#0cfff3" d="M216 162h24M276 162h48M348 174h12M168 186h12M156 198h12M120 222h12M60 294h12M60 318h12"/>
<path stroke="#10ffef" d="M240 162h36M192 174h12M108 234h12M96 246h12M72 270h12M60 306h12"/>
<path stroke="#14ffeb" d="M204 174h12M336 174h12M180 186h12M144 210h12M84 258h12"/>
<path stroke="#18ffe7" d="M216 174h12M300 174h36M348 186h12M168 198h12M132 222h12"/>
<path stroke="#1cffe3" d="M228 174h24M264 174h36M192 186h12M120 234h12M72 282h12"/>
<path stroke="#20ffdf" d="M252 174h12M336 186h12M156 210h12M108 246h12M72 330h12"/>
<path stroke="#24ffdb" d="M204 186h12M300 186h36M180 198h12M144 222h12M96 258h12M84 270h12"/>
<path stroke="#28ffd7" d="M216 186h12M276 186h24M324 198h24M168 210h12M72 294h12M84 342h12"/>
<path stroke="#2cffd3" d="M228 186h48M192 198h12M312 198h12M132 234h12"/>
<path stroke="#30ffcf" d="M204 198h12M300 198h12M180 210h12M312 210h12M156 222h12M120 246h12M84 282h12M72 306h12M72 318h12"/>
<path stroke="#34ffcb" d="M276 198h24M108 258h12M96 270h12"/>
<path stroke="#38ffc7" d="M216 198h24M264 198h12M300 210h12M144 234h12M108 366h12"/>
<path stroke="#3cffc3" d="M240 198h24M192 210h12M288 210h12M168 222h12M300 222h12M132 246h12"/>
<path stroke="#40ffbf" d="M204 210h12M276 210h12M288 222h12"/>
<path stroke="#44ffbb" d="M216 210h12M264 210h12M180 222h12M156 234h12M120 258h12M84 294h12"/>
<path stroke="#48ffb7" d="M228 210h36M192 222h12M276 222h12M288 234h12M108 270h12M96 282h12"/>
<path stroke="#4cffb3" d="M264 222h12M276 234h12M144 246h12"/>
<path stroke="#50ffaf" d="M204 222h12M252 222h12M168 234h12"/>
<path stroke="#54ffab" d="M216 222h36M180 234h12M264 234h12M132 258h12M84 306h12"/>
<path stroke="#58ffa7" d="M252 234h12M156 246h12M264 246h12M120 270h12"/>
<path stroke="#5cffa3" d="M192 234h12M240 234h12M108 282h12"/>
<path stroke="#60ff9f" d="M204 234h36M168 246h12M252 246h12M144 258h12M96 294h12M84 330h12"/>
<path stroke="#64ff9b" d="M252 258h12M84 318h12"/>
<path stroke="#68ff97" d="M180 246h12M240 246h12M132 270h12"/>
<path stroke="#6cff93" d="M192 246h12M216 246h24M156 258h12M240 258h12"/>
<path stroke="#70ff8f" d="M204 246h12M120 282h12"/>
<path stroke="#74ff8b" d="M168 258h12M228 258h12M240 270h12"/>
<path stroke="#78ff87" d="M144 270h12"/>
<path stroke="#7cff83" d="M180 258h24M216 258h12M108 294h12M96 306h12"/>
<path stroke="#80ff80" d="M204 258h12M156 270h12M228 270h12M132 282h12"/>
<path stroke="#87ff78" d="M168 270h12"/>
<path stroke="#8bff74" d="M216 270h12"/>
<path stroke="#8fff70" d="M180 270h12M144 282h12M120 294h12"/>
<path stroke="#93ff6c" d="M192 270h24M216 282h12"/>
<path stroke="#9bff64" d="M156 282h12"/>
<path stroke="#9fff60" d="M132 294h12"/>
<path stroke="#a3ff5c" d="M168 282h12M204 282h12M108 306h12"/>
<path stroke="#a7ff58" d="M96 318h12"/>
<path stroke="#afff50" d="M180 282h12M144 294h12"/>
<path stroke="#b3ff4c" d="M192 282h12M204 294h12"/>
<path stroke="#bfff40" d="M120 306h12"/>
<path stroke="#c3ff3c" d="M192 294h12"/>
<path stroke="#c7ff38" d="M156 294h12"/>
<path stroke="#cbff34" d="M96 342h12"/>
<path stroke="#cfff30" d="M96 330h12"/>
<path stroke="#d7ff28" d="M168 294h24M192 306h12"/>
<path stroke="#dfff20" d="M132 306h12"/>
<path stroke="#ebff14" d="M180 306h12M108 318h12"/>
<path stroke="#fbff04" d="M144 306h12"/>
<path stroke="#fff700" d="M180 318h12"/>
<path stroke="#fff300" d="M168 306h12"/>
<path stroke="#ffd700" d="M120 318h12"/>
<path stroke="#ffd300" d="M156 306h12"/>
<path stroke="#ffcf00" d="M168 318h12"/>
<path stroke="#ffab00" d="M156 318h12"/>
<path stroke="#ff9700" d="M132 318h12"/>
<path stroke="#ff8f00" d="M108 330h12"/>
<path stroke="#ff6c00" d="M156 330h12"/>
<path stroke="#ff6400" d="M144 318h12"/>
<path stroke="#ff2400" d="M144 330h12"/>
<path stroke="#f30000" d="M108 354h12"/>
<path stroke="#e30000" d="M120 330h12"/>
<path stroke="#db0000" d="M144 342h12"/>
<path stroke="#c70000" d="M132 330h12"/>
<path stroke="#bf0000" d="M108 342h12"/>
<path stroke="#800000" d="M120 342h24M120 354h24"/>
</g></g>
<g clip-path="url(#cb10p0)"><g filter="url(#bl4)" stroke-width="4.3">
<path stroke="#0018ff" d="M88 370h4"/>
<path stroke="#001cff" d="M92 366h4"/>
<path stroke="#0028ff" d="M84 374h4"/>
<path stroke="#002cff" d="M96 366h4"/>
<path stroke="#0030ff" d="M96 362h4M88 366h4"/>
<path stroke="#0034ff" d="M80 378h4"/>
<path stroke="#0038ff" d="M92 362h4M84 370h4"/>
<path stroke="#0040ff" d="M96 358h4M80 374h4"/>
<path stroke="#0044ff" d="M100 362h4"/>
<path stroke="#0048ff" d="M76 378h4"/>
<path stroke="#0050ff" d="M100 358h4M84 366h4"/>
<path stroke="#0054ff" d="M80 370h4M72 382h4"/>
<path stroke="#0058ff" d="M76 374h4M68 386h4M64 390h4"/>
<path stroke="#005cff" d="M88 362h4M72 378h4M60 394h4"/>
<path stroke="#0060ff" d="M100 354h4M68 382h4M64 386h4M60 390h4"/>
<path stroke="#0064ff" d="M56 394h4"/>
<path stroke="#0068ff" d="M76 370h4M72 374h4M68 378h4M64 382h4M60 386h4M56 390h4"/>
<path stroke="#006cff" d="M80 366h4M52 394h4"/>
<path stroke="#0070ff" d="M60 382h4M56 386h4M52 390h4"/>
<path stroke="#0074ff" d="M68 374h4M64 378h4M48 390h4"/>
<path stroke="#0078ff" d="M84 362h4M72 370h4M56 382h4M52 386h4"/>
<path stroke="#007cff" d="M92 358h4M60 378h4M48 386h4"/>
<path stroke="#0080ff" d="M76 366h4M64 374h4M52 382h4"/>
<path stroke="#0083ff" d="M68 370h4M56 378h4M48 382h4"/>
<path stroke="#0087ff" d="M60 374h4M52 378h4M44 382h4"/>
<path stroke="#008bff" d="M80 362h4M72 366h4M64 370h4M56 374h4M44 378h8"/>
<path stroke="#008fff" d="M60 370h4M48 374h8M40 378h4"/>
<path stroke="#0093ff" d="M88 358h4M76 362h4M68 366h4M52 370h8M36 374h12"/>
<path stroke="#0097ff" d="M84 358h4M72 362h4M64 366h4M36 370h16"/>
<path stroke="#009bff" d="M52 366h12"/>
<path stroke="#009fff" d="M80 358h4M64 362h8M32 366h20"/>
<path stroke="#00a3ff" d="M24 358h4M76 358h4M104 358h4M28 362h36"/>
<path stroke="#00a7ff" d="M20 354h4M28 358h8M72 358h4"/>
<path stroke="#00abff" d="M20 350h4M24 354h8M36 358h36"/>
<path stroke="#00afff" d="M12 342h4M16 346h8M24 350h8M32 354h12"/>
<path stroke="#00b3ff" d="M12 338h8M16 342h8M24 346h8M32 350h8M44 354h12M96 354h4"/>
<path stroke="#00b7ff" d="M16 334h4M20 338h4M24 342h4M32 346h4M40 350h8M56 354h40"/>
<path stroke="#00bbff" d="M20 334h4M24 338h4M28 342h8M36 346h8M48 350h4"/>
<path stroke="#00bfff" d="M20 330h4M24 334h4M28 338h8M36 342h4M44 346h4M52 350h8"/>
<path stroke="#00c3ff" d="M24 326h4M24 330h4M28 334h8M36 338h4M40 342h4M48 346h4M60 350h8"/>
<path stroke="#00c7ff" d="M28 326h4M28 330h8M36 334h4M40 338h4M44 342h4M52 346h8M68 350h8"/>
<path stroke="#00cbff" d="M32 326h4M44 338h4M48 342h4M60 346h4M76 350h4"/>
<path stroke="#00cfff" d="M32 322h4M36 330h4M40 334h4M48 338h4M52 342h4M64 346h4M80 350h4"/>
<path stroke="#00d3ff" d="M36 322h4M36 326h4M40 330h4M44 334h4M56 342h4M68 346h4"/>
<path stroke="#00d7ff" d="M36 318h4M40 326h4M44 330h4M48 334h4M52 338h4M60 342h4M84 350h4"/>
<path stroke="#00dbff" d="M40 318h4M40 322h4M44 326h4M48 330h4M52 334h4M56 338h4M64 342h4M72 346h4"/>
<path stroke="#00dfff" d="M40 314h4M44 322h4M60 338h4M76 346h4M88 350h4"/>
<path stroke="#00e3ff" d="M44 318h4M48 326h4M52 330h4M56 334h4M68 342h4"/>
<path stroke="#00e7ff" d="M44 314h4M48 322h4M52 326h4M64 338h4M80 346h4"/>
<path stroke="#00ebff" d="M48 314h4M48 318h4M56 330h4M60 334h4M72 342h4M92 350h4"/>
<path stroke="#00efff" d="M48 310h4M52 318h4M52 322h4M56 326h4M68 338h4"/>
<path stroke="#00f3ff" d="M52 314h4M56 322h4M60 330h4M64 334h4M76 342h4M84 346h4M104 354h4"/>
<path stroke="#00f7ff" d="M52 306h4M52 310h4M56 318h4M60 326h4"/>
<path stroke="#00fbff" d="M56 314h4M64 330h4M68 334h4M72 338h4M96 350h4"/>
<path stroke="#00ffff" d="M56 302h4M56 306h4M56 310h4M60 322h4M64 326h4M80 342h4"/>
<path stroke="#04fffb" d="M60 314h4M60 318h4M68 330h4"/>
<path stroke="#08fff7" d="M60 298h4M60 302h4M60 306h4M60 310h4M64 322h4M72 334h4M76 338h4M88 346h4"/>
<path stroke="#0cfff3" d="M64 318h4M68 326h4"/>
<path stroke="#10ffef" d="M64 298h4M64 302h4M64 306h4M64 310h4M64 314h4M68 322h4M72 330h4M84 342h4"/>
<path stroke="#14ffeb" d="M68 294h4M76 334h4"/>
<path stroke="#18ffe7" d="M68 298h4M68 302h4M68 314h4M68 318h4M72 326h4M80 338h4"/>
<path stroke="#1cffe3" d="M72 290h4M68 306h4M68 310h4M100 350h4"/>
<path stroke="#20ffdf" d="M76 286h4M72 294h4M72 298h4M72 318h4M72 322h4M76 330h4M92 346h4"/>
<path stroke="#24ffdb" d="M200 190h4M76 290h4M72 302h4M72 306h4M72 310h4M72 314h4M80 334h4"/>
<path stroke="#28ffd7" d="M196 194h8M192 198h4M180 206h4M84 282h4M80 286h4M76 294h4M76 326h4M84 338h4M88 342h4"/>
<path stroke="#2cffd3" d="M204 194h4M196 198h8M188 202h8M184 206h4M176 210h4M92 274h4M88 278h4M80 290h4M76 298h4M76 302h4M76 322h4"/>
<path stroke="#30ffcf" d="M204 198h8M196 202h4M188 206h4M180 210h8M172 214h8M164 218h8M160 222h4M88 282h4M84 286h4M80 294h4M76 306h4M76 310h4M76 314h4M76 318h4M80 330h4"/>
<path stroke="#34ffcb" d="M200 202h8M192 206h8M188 210h4M180 214h4M172 218h4M164 222h4M156 226h4M152 230h4M144 234h4M140 238h4M128 246h4M112 258h4M108 262h4M104 266h4M100 270h4M96 274h4M92 278h4M84 290h4M80 298h4"/>
<path stroke="#38ffc7" d="M208 202h8M200 206h8M192 210h4M184 214h4M176 218h4M168 222h4M160 226h4M156 230h4M148 234h4M136 242h4M132 246h4M124 250h4M120 254h4M92 282h4M88 286h4M80 302h4M80 326h4"/>
<path stroke="#3cffc3" d="M208 206h8M196 210h8M188 214h8M180 218h8M172 222h4M164 226h4M160 230h4M152 234h4M144 238h4M140 242h4M136 246h4M128 250h4M124 254h4M116 258h4M112 262h4M108 266h4M104 270h4M100 274h4M96 278h4M88 290h4M84 294h4M80 306h4M80 310h4M80 322h4M84 334h4"/>
<path stroke="#40ffbf" d="M216 206h4M204 210h8M196 214h8M188 218h8M176 222h8M168 226h8M164 230h4M156 234h4M148 238h4M144 242h4M132 250h4M120 258h4M116 262h4M100 278h4M96 282h4M92 286h4M84 298h4M80 314h4M80 318h4M88 338h4"/>
<path stroke="#44ffbb" d="M212 210h8M204 214h8M196 218h4M184 222h8M176 226h4M168 230h4M160 234h4M152 238h4M148 242h4M140 246h4M136 250h4M128 254h4M124 258h4M112 266h4M108 270h4M104 274h4M88 294h4M84 302h4M84 330h4"/>
<path stroke="#48ffb7" d="M212 214h12M200 218h8M192 222h8M180 226h8M172 230h4M164 234h4M156 238h4M152 242h4M144 246h4M140 250h4M132 254h4M128 258h4M120 262h4M116 266h4M112 270h4M108 274h4M104 278h4M100 282h4M96 286h4M92 290h4M88 298h4M84 306h4M92 342h4M96 346h4"/>
<path stroke="#4cffb3" d="M208 218h12M200 222h8M188 226h8M176 230h8M168 234h4M160 238h8M156 242h4M148 246h4M144 250h4M136 254h4M124 262h4M120 266h4M92 294h4M84 310h4M84 326h4"/>
<path stroke="#50ffaf" d="M220 218h8M208 222h12M196 226h8M184 230h4M172 234h8M168 238h4M160 242h4M152 246h4M148 250h4M140 254h4M132 258h4M128 262h4M116 270h4M112 274h4M108 278h4M104 282h4M100 286h4M96 290h4M88 302h4M84 314h4M84 318h4M84 322h4"/>
<path stroke="#54ffab" d="M220 222h12M204 226h12M188 230h12M180 234h8M172 238h4M164 242h4M156 246h4M152 250h4M144 254h4M136 258h4M124 266h4M120 270h4M116 274h4M92 298h4M88 306h4M88 334h4"/>
<path stroke="#58ffa7" d="M216 226h16M200 230h16M188 234h8M176 238h8M168 242h4M160 246h4M156 250h4M148 254h4M140 258h4M132 262h4M128 266h4M124 270h4M112 278h4M108 282h4M104 286h4M100 290h4M96 294h4M88 310h4"/>
<path stroke="#5cffa3" d="M216 230h20M196 234h12M184 238h4M172 242h8M164 246h8M160 250h4M152 254h4M144 258h4M136 262h4M132 266h4M120 274h4M116 278h4M112 282h4M92 302h4"/>
<path stroke="#60ff9f" d="M208 234h32M188 238h12M240 238h4M180 242h8M172 246h4M164 250h4M156 254h4M148 258h4M140 262h4M128 270h4M124 274h4M108 286h4M104 290h4M100 294h4M96 298h4M92 306h4M88 314h4M88 330h4M92 338h4"/>
<path stroke="#64ff9b" d="M200 238h40M188 242h8M236 242h8M176 246h8M168 250h4M160 254h4M152 258h4M144 262h4M136 266h4M132 270h4M120 278h4M116 282h4M88 318h4M88 322h4M88 326h4"/>
<path stroke="#68ff97" d="M196 242h40M184 246h8M236 246h12M172 250h8M244 250h4M164 254h4M156 258h4M148 262h4M140 266h4M136 270h4M128 274h4M124 278h4M120 282h4M112 286h4M108 290h4M100 298h4M96 302h4M92 310h4"/>
<path stroke="#6cff93" d="M192 246h12M216 246h20M180 250h4M236 250h8M168 254h8M240 254h4M160 258h8M152 262h4M144 266h4M140 270h4M132 274h4M128 278h4M116 286h4M104 294h4"/>
<path stroke="#70ff8f" d="M204 246h12M184 250h12M224 250h12M176 254h4M236 254h4M168 258h4M156 262h8M148 266h4M136 274h4M124 282h4M112 290h4M96 306h4M92 314h4"/>
<path stroke="#74ff8b" d="M196 250h28M180 254h12M228 254h8M172 258h4M232 258h8M164 262h4M152 266h8M144 270h4M140 274h4M132 278h4M128 282h4M120 286h4M108 294h4M104 298h4M100 302h4M92 334h4"/>
<path stroke="#78ff87" d="M192 254h36M176 258h8M228 258h4M168 262h4M160 266h4M148 270h8M144 274h4M136 278h4M124 286h4M116 290h4M96 310h4M92 318h4M96 342h4"/>
<path stroke="#7cff83" d="M184 258h16M220 258h8M172 262h8M228 262h4M164 266h4M156 270h4M148 274h4M140 278h4M132 282h4M112 294h4M100 306h4M92 322h4M92 330h4"/>
<path stroke="#80ff80" d="M200 258h20M180 262h8M224 262h4M168 266h8M160 270h4M152 274h4M144 278h4M136 282h4M128 286h4M120 290h4M108 298h4M104 302h4M92 326h4"/>
<path stroke="#83ff7c" d="M188 262h36M176 266h8M224 266h4M164 270h4M156 274h4M140 282h4M132 286h4M124 290h4M116 294h4M96 314h4"/>
<path stroke="#87ff78" d="M184 266h8M216 266h8M168 270h8M160 274h4M148 278h4M136 286h4M128 290h4M112 298h4M108 302h4M104 306h4M100 310h4"/>
<path stroke="#8bff74" d="M192 266h24M176 270h8M220 270h4M164 274h4M152 278h8M144 282h4M120 294h4"/>
<path stroke="#8fff70" d="M184 270h8M212 270h8M168 274h8M216 274h4M160 278h4M148 282h4M140 286h4M132 290h4M124 294h4M116 298h4M96 318h4"/>
<path stroke="#93ff6c" d="M192 270h20M176 274h8M212 274h4M164 278h4M152 282h4M144 286h4M136 290h4M112 302h4M96 338h4"/>
<path stroke="#97ff68" d="M184 274h4M208 274h4M168 278h4M156 282h4M148 286h4M140 290h4M128 294h4M120 298h4M108 306h4M104 310h4M100 314h4M96 322h4M100 346h4"/>
<path stroke="#9bff64" d="M188 274h8M204 274h4M172 278h8M208 278h4M160 282h8M152 286h4M132 294h4M116 302h4"/>
<path stroke="#9fff60" d="M196 274h8M180 278h4M168 282h4M156 286h4M144 290h4M136 294h4M124 298h4M96 326h4M96 334h4"/>
<path stroke="#a3ff5c" d="M184 278h4M204 278h4M172 282h4M148 290h4M140 294h4M128 298h4M112 306h4M96 330h4"/>
<path stroke="#a7ff58" d="M188 278h8M200 278h4M176 282h4M204 282h4M160 286h8M152 290h4M120 302h4M108 310h4M100 318h4"/>
<path stroke="#abff54" d="M196 278h4M180 282h4M168 286h4M144 294h4M132 298h4M116 306h4M104 314h4"/>
<path stroke="#afff50" d="M184 282h4M200 282h4M156 290h4M148 294h4M124 302h4"/>
<path stroke="#b3ff4c" d="M188 282h4M196 282h4M172 286h4M200 286h4M160 290h4M136 298h4"/>
<path stroke="#b7ff48" d="M192 282h4M176 286h4M196 286h4M164 290h4M152 294h4M140 298h4M128 302h4M120 306h4M112 310h4M100 322h4"/>
<path stroke="#bbff44" d="M180 286h4M168 290h4M144 298h4M108 314h4"/>
<path stroke="#bfff40" d="M192 286h4M156 294h4M132 302h4M124 306h4M104 318h4"/>
<path stroke="#c3ff3c" d="M184 286h8M172 290h4M192 290h4M148 298h4M116 310h4M100 326h4"/>
<path stroke="#c7ff38" d="M176 290h4M160 294h4M136 302h4"/>
<path stroke="#cbff34" d="M188 290h4M164 294h4M152 298h4M128 306h4M100 342h4"/>
<path stroke="#cfff30" d="M180 290h8M188 294h4M140 302h4M120 310h4M112 314h4M100 330h4"/>
<path stroke="#d3ff2c" d="M168 294h4M156 298h4M144 302h4M108 318h4"/>
<path stroke="#d7ff28" d="M172 294h4M184 294h4M132 306h4M124 310h4M104 322h4M100 334h4"/>
<path stroke="#dbff24" d="M180 294h4M184 298h4M148 302h4M100 338h4"/>
<path stroke="#dfff20" d="M176 294h4M160 298h4M136 306h4M116 314h4"/>
<path stroke="#e3ff1c" d="M180 298h4M152 302h4M128 310h4"/>
<path stroke="#e7ff18" d="M164 298h4M176 298h4"/>
<path stroke="#ebff14" d="M140 306h4M120 314h4M112 318h4M104 326h4"/>
<path stroke="#efff10" d="M168 298h4M156 302h4"/>
<path stroke="#f3ff0c" d="M172 298h4M176 302h4M144 306h4M132 310h4M108 322h4"/>
<path stroke="#fbff04" d="M148 306h4M124 314h4"/>
<path stroke="#ffff00" d="M160 302h4M172 302h4M136 310h4M116 318h4"/>
<path stroke="#fffb00" d="M104 330h4"/>
<path stroke="#fff700" d="M152 306h4M128 314h4"/>
<path stroke="#fff300" d="M164 302h8M172 306h4M112 322h4"/>
<path stroke="#ffef00" d="M140 310h4"/>
<path stroke="#ffeb00" d="M120 318h4"/>
<path stroke="#ffe700" d="M156 306h4M168 306h4M132 314h4M108 326h4M104 334h4"/>
<path stroke="#ffdf00" d="M144 310h4"/>
<path stroke="#ffdb00" d="M164 306h4M168 310h4"/>
<path stroke="#ffd700" d="M124 318h4"/>
<path stroke="#ffd300" d="M160 306h4M148 310h4M136 314h4M116 322h4"/>
<path stroke="#ffcf00" d="M164 310h4"/>
<path stroke="#ffcb00" d="M104 338h4"/>
<path stroke="#ffc700" d="M160 310h4M112 326h4"/>
<path stroke="#ffc300" d="M152 310h4M164 314h4M128 318h4M108 330h4M104 346h4"/>
<path stroke="#ffbf00" d="M140 314h4M104 342h4"/>
<path stroke="#ffb700" d="M156 310h4M160 314h4M120 322h4"/>
<path stroke="#ffaf00" d="M132 318h4"/>
<path stroke="#ffa700" d="M144 314h4M156 314h4"/>
<path stroke="#ff9f00" d="M116 326h4M108 334h4M104 350h4"/>
<path stroke="#ff9b00" d="M124 322h4"/>
<path stroke="#ff9700" d="M136 318h4"/>
<path stroke="#ff9300" d="M152 314h4M156 318h4"/>
<path stroke="#ff8f00" d="M148 314h4M112 330h4"/>
<path stroke="#ff8000" d="M128 322h4"/>
<path stroke="#ff7c00" d="M152 318h4"/>
<path stroke="#ff7800" d="M140 318h4M120 326h4"/>
<path stroke="#ff7400" d="M108 338h4"/>
<path stroke="#ff6400" d="M148 318h4M152 322h4"/>
<path stroke="#ff6000" d="M132 322h4"/>
<path stroke="#ff5c00" d="M116 330h4"/>
<path stroke="#ff5800" d="M144 318h4"/>
<path stroke="#ff5000" d="M148 322h4M112 334h4"/>
<path stroke="#ff4c00" d="M124 326h4"/>
<path stroke="#ff4400" d="M108 354h4"/>
<path stroke="#ff4000" d="M136 322h4M108 342h4"/>
<path stroke="#ff3800" d="M144 322h4M148 326h4"/>
<path stroke="#ff3400" d="M108 350h4"/>
<path stroke="#ff2400" d="M140 322h4M128 326h4M120 330h4"/>
<path stroke="#ff2000" d="M144 326h4"/>
<path stroke="#ff1800" d="M108 346h4"/>
<path stroke="#ff1000" d="M112 338h4"/>
<path stroke="#ff0800" d="M140 326h4"/>
<path stroke="#ff0400" d="M116 334h4"/>
<path stroke="#f70000" d="M132 326h4"/>
<path stroke="#f30000" d="M112 354h4"/>
<path stroke="#eb0000" d="M140 330h4"/>
<path stroke="#e70000" d="M136 326h4"/>
<path stroke="#e30000" d="M124 330h4"/>
<path stroke="#cf0000" d="M112 350h4"/>
<path stroke="#c70000" d="M136 330h4"/>
<path stroke="#bf0000" d="M112 342h4"/>
<path stroke="#b70000" d="M120 334h4M112 346h4"/>
<path stroke="#ab0000" d="M136 334h4"/>
<path stroke="#a70000" d="M132 330h4"/>
<path stroke="#a30000" d="M128 330h4"/>
<path stroke="#970000" d="M116 350h4"/>
<path stroke="#8f0000" d="M116 338h4"/>
<path stroke="#8b0000" d="M132 334h4"/>
<path stroke="#800000" d="M124 334h8M120 338h16M116 342h12M116 346h8"/>
</g></g>
<g clip-path="url(#cb11)"><g filter="url(#bl12)" stroke-width="12.3">
<path stroke="#0004ff" d="M480 138h12"/>
<path stroke="#0008ff" d="M468 138h12"/>
<path stroke="#0010ff" d="M420 90h12M420 102h12M456 126h12"/>
<path stroke="#0014ff" d="M420 78h12M432 102h12M444 114h12M468 126h12"/>
<path stroke="#0018ff" d="M432 90h12M444 102h12M456 114h12M480 126h12"/>
<path stroke="#001cff" d="M432 78h12M444 90h12"/>
<path stroke="#0020ff" d="M432 66h12M444 78h12M456 102h12M468 114h12"/>
<path stroke="#0024ff" d="M444 66h12M456 90h12"/>
<path stroke="#0028ff" d="M456 78h12M468 102h12"/>
<path stroke="#002cff" d="M444 54h12M456 66h12M468 90h12M480 114h12"/>
<path stroke="#0034ff" d="M456 54h12M468 78h12M480 102h12"/>
<path stroke="#0038ff" d="M468 66h12M480 90h12"/>
<path stroke="#003cff" d="M468 54h12M480 78h12"/>
<path stroke="#0044ff" d="M468 42h12M480 66h12"/>
<path stroke="#0048ff" d="M480 54h12M492 90h12M492 102h12M492 114h12M492 126h12"/>
<path stroke="#004cff" d="M480 42h12M492 78h12"/>
<path stroke="#0050ff" d="M492 66h12"/>
<path stroke="#0054ff" d="M480 30h12M492 54h12"/>
<path stroke="#0058ff" d="M492 42h12M504 78h12M504 90h12"/>
<path stroke="#005cff" d="M504 66h12M504 102h12"/>
<path stroke="#0060ff" d="M492 30h12M504 54h12"/>
<path stroke="#0064ff" d="M516 78h12M516 90h12M504 114h12"/>
<path stroke="#0068ff" d="M504 42h12M516 66h12M516 102h12"/>
<path stroke="#006cff" d="M492 18h12"/>
<path stroke="#0070ff" d="M504 30h12M516 54h12"/>
<path stroke="#0074ff" d="M528 78h12M528 90h12M528 102h12M516 114h12"/>
<path stroke="#0078ff" d="M516 42h12M528 66h12"/>
<path stroke="#007cff" d="M504 18h12M528 54h12M528 114h12M504 126h12"/>
<path stroke="#0080ff" d="M516 30h12M540 78h12M540 90h12M540 102h12M516 126h12"/>
<path stroke="#0083ff" d="M528 42h12M540 66h12M540 114h12"/>
<path stroke="#0087ff" d="M528 126h12"/>
<path stroke="#008bff" d="M516 18h12M540 54h12M552 78h12M552 90h12M552 102h12"/>
<path stroke="#008fff" d="M528 30h12"/>
<path stroke="#0093ff" d="M540 42h12M552 66h12M564 90h12M516 138h12"/>
<path stroke="#0097ff" d="M516 6h12M552 54h12M564 78h12"/>
<path stroke="#009bff" d="M528 18h12M504 138h12"/>
<path stroke="#009fff" d="M540 30h12M564 66h12"/>
<path stroke="#00a3ff" d="M552 42h12M576 78h12"/>
<path stroke="#00a7ff" d="M564 54h12"/>
<path stroke="#00abff" d="M528 6h12M540 18h12M576 66h12"/>
<path stroke="#00afff" d="M552 30h12M564 42h12M588 78h12"/>
<path stroke="#00b3ff" d="M576 54h12"/>
<path stroke="#00b7ff" d="M528 -6h12M588 66h12"/>
<path stroke="#00bbff" d="M540 6h12M552 18h12M564 30h12"/>
<path stroke="#00bfff" d="M576 42h12M588 54h12M600 66h12"/>
<path stroke="#00c7ff" d="M564 18h12M576 30h12"/>
<path stroke="#00cbff" d="M552 -18h12M552 6h12M588 42h12M600 54h12"/>
<path stroke="#00cfff" d="M540 -6h12"/>
<path stroke="#00d3ff" d="M564 6h12M576 18h12M612 54h12"/>
<path stroke="#00d7ff" d="M564 -6h12M588 30h12M600 42h12"/>
<path stroke="#00dfff" d="M564 -18h12M576 6h12M612 42h12"/>
<path stroke="#00e3ff" d="M540 -18h12M588 18h12M600 30h12"/>
<path stroke="#00e7ff" d="M552 -6h12M576 -6h12"/>
<path stroke="#00ebff" d="M588 6h12M612 30h12M624 42h12"/>
<path stroke="#00efff" d="M576 -18h12M600 18h12"/>
<path stroke="#00f3ff" d="M492 138h12M492 150h12"/>
<path stroke="#00f7ff" d="M588 -6h12M624 30h12"/>
<path stroke="#00fbff" d="M600 6h12M612 18h12"/>
<path stroke="#00ffff" d="M588 -18h12"/>
<path stroke="#04fffb" d="M600 -6h12M624 18h12"/>
<path stroke="#08fff7" d="M612 6h12"/>
<path stroke="#10ffef" d="M600 -18h12M612 -6h12M624 6h12"/>
<path stroke="#1cffe3" d="M612 -18h12M624 -6h12"/>
<path stroke="#28ffd7" d="M624 -18h12"/>
</g></g>
<g clip-path="url(#cb12)"><g filter="url(#bl12)" stroke-width="12.3">
<path stroke="#0087ff" d="M432 -18h48M444 -6h48M444 6h48M456 18h36M456 30h48M468 42h24"/>
<path stroke="#008bff" d="M420 -18h12M480 -18h12M420 -6h24M492 -6h12M432 6h12M492 6h12M432 18h24M492 18h12M444 30h12M504 30h12M444 42h24M492 42h24M456 54h48"/>
<path stroke="#008fff" d="M408 -18h12M492 -18h12M408 -6h12M420 6h12M504 6h12M420 18h12M504 18h12M432 30h12M516 30h12M432 42h12M516 42h12M444 54h12M504 54h24M456 66h60"/>
<path stroke="#0093ff" d="M396 -18h12M396 -6h12M504 -6h12M408 6h12M408 18h12M516 18h12M420 30h12M420 42h12M528 42h12M432 54h12M444 66h12M456 78h48"/>
<path stroke="#0097ff" d="M384 -18h12M504 -18h12M384 -6h12M384 6h24M516 6h12M396 18h12M408 30h12M528 30h12M408 42h12M420 54h12M432 66h12M444 78h12M456 90h24"/>
<path stroke="#009bff" d="M360 -18h24M372 -6h12M516 -6h12M372 6h12M384 18h12M528 18h12M396 30h12M540 30h12M396 42h12M408 54h12M420 66h12M432 78h12M444 90h12M456 102h12"/>
<path stroke="#009fff" d="M348 -18h12M516 -18h12M348 -6h24M360 6h12M528 6h12M360 18h24M540 18h12M372 30h24M552 30h12M384 42h12M396 54h12M408 66h12M420 78h12M432 90h12M444 102h12"/>
<path stroke="#00a3ff" d="M324 -18h24M324 -6h24M324 6h36M336 18h24M552 18h24M348 30h24M372 42h12M384 54h12M444 114h12"/>
<path stroke="#00a7ff" d="M300 -18h24M300 -6h24M528 -6h12M300 6h24M540 6h24M312 18h24M324 30h24M348 42h24M372 54h12M384 66h24M408 78h12M420 90h12M432 102h12"/>
<path stroke="#00abff" d="M288 -18h12M528 -18h12M288 -6h12M288 6h12M360 54h12M372 66h12M396 78h12M408 90h12M420 102h12"/>
<path stroke="#00afff" d="M540 -6h12"/>
<path stroke="#00bbff" d="M540 -18h12"/>
<path stroke="#00bfff" d="M552 -6h12"/>
<path stroke="#00cbff" d="M552 -18h12"/>
<path stroke="#00d3ff" d="M564 6h12"/>
<path stroke="#00d7ff" d="M564 -6h12"/>
<path stroke="#00dfff" d="M564 -18h12M576 6h12"/>
<path stroke="#00e7ff" d="M576 -6h12"/>
<path stroke="#00efff" d="M576 -18h12"/>
</g></g>
</g>
<g transform="translate(1195.3 99.4)">
<path d="M117.8 0v6.2 M117.8 604.3v-6.2 M236 0v6.2 M236 604.3v-6.2 M354.1 0v6.2 M354.1 604.3v-6.2 M472.3 0v6.2 M472.3 604.3v-6.2 M590.4 0v6.2 M590.4 604.3v-6.2 M0 117.8h6.2 M604.3 117.8h-6.2 M0 236h6.2 M604.3 236h-6.2 M0 354.1h6.2 M604.3 354.1h-6.2 M0 472.3h6.2 M604.3 472.3h-6.2 M0 590.4h6.2 M604.3 590.4h-6.2" stroke="#262626" stroke-width="2" fill="none"/>
<rect x="0" y="0" width="604.3" height="604.3" fill="none" stroke="#262626" stroke-width="2"/>
<rect x="633.0" y="0" width="61.0" height="604.3" fill="url(#cb)" stroke="#262626" stroke-width="2"/>
<path d="M694 453.2h-6.5 M694 302.1h-6.5 M694 151.1h-6.5" stroke="#262626" stroke-width="2" fill="none"/>
<text x="709.8" y="620.7" font-family="'Liberation Sans', Arial, sans-serif" font-size="43" fill="#262626">0</text>
<text x="709.8" y="469.6" font-family="'Liberation Sans', Arial, sans-serif" font-size="43" fill="#262626">0.5</text>
<text x="709.8" y="318.5" font-family="'Liberation Sans', Arial, sans-serif" font-size="43" fill="#262626">1</text>
<text x="709.8" y="167.5" font-family="'Liberation Sans', Arial, sans-serif" font-size="43" fill="#262626">1.5</text>
<text x="709.8" y="16.4" font-family="'Liberation Sans', Arial, sans-serif" font-size="43" fill="#262626">2</text>
<text x="303.1" y="663.6" font-family="'Liberation Sans', Arial, sans-serif" font-size="42.5" fill="#262626" text-anchor="middle">x [-]</text>
<text transform="translate(-26 302.3) rotate(-90)" font-family="'Liberation Sans', Arial, sans-serif" font-size="42.5" fill="#262626" text-anchor="middle">y [-]</text>
<text x="-155.8" y="-68.4" font-family="'Liberation Sans', Arial, sans-serif" font-size="41.7" font-weight="bold" fill="#000">(b)</text>
<text x="207.8" y="-17.6" font-family="'Liberation Serif', 'Times New Roman', serif" font-size="43" fill="#000" font-style="italic" textLength="35.5" lengthAdjust="spacingAndGlyphs">N</text>
<text x="253.8" y="-11.3" font-family="'Liberation Serif', 'Times New Roman', serif" font-size="47" fill="#000" textLength="37" lengthAdjust="spacingAndGlyphs">=</text>
<text x="299.1" y="-17.6" font-family="'Liberation Serif', 'Times New Roman', serif" font-size="41.5" fill="#000" textLength="84" lengthAdjust="spacingAndGlyphs">1023</text>
<text x="381.9" y="-30.8" font-family="'Liberation Serif', 'Times New Roman', serif" font-size="32" fill="#000" textLength="15" lengthAdjust="spacingAndGlyphs">2</text>
<path d="M577.8 -88 H706.2" stroke="#000" stroke-width="1.8" fill="none"/>
<text transform="translate(540.6 -14.9) scale(1.02 1.62)" font-family="'DejaVu Sans', sans-serif" font-size="56" fill="#000">&#8730;</text>
<text x="578.6" y="-42.4" font-family="'Liberation Serif', 'Times New Roman', serif" font-size="45" fill="#000" font-style="italic" textLength="20" lengthAdjust="spacingAndGlyphs">v</text>
<text x="600.6" y="-52.8" font-family="'Liberation Serif', 'Times New Roman', serif" font-size="29" fill="#000" textLength="12.4" lengthAdjust="spacingAndGlyphs">2</text>
<text x="600.6" y="-30.1" font-family="'Liberation Serif', 'Times New Roman', serif" font-size="27" fill="#000" font-style="italic" textLength="12.6" lengthAdjust="spacingAndGlyphs">x</text>
<text x="625.1" y="-33" font-family="'Liberation Serif', 'Times New Roman', serif" font-size="54" fill="#000" textLength="33" lengthAdjust="spacingAndGlyphs">+</text>
<text x="667.9" y="-42.4" font-family="'Liberation Serif', 'Times New Roman', serif" font-size="45" fill="#000" font-style="italic" textLength="20" lengthAdjust="spacingAndGlyphs">v</text>
<text x="689.9" y="-52.8" font-family="'Liberation Serif', 'Times New Roman', serif" font-size="29" fill="#000" textLength="12.4" lengthAdjust="spacingAndGlyphs">2</text>
<text x="689.6" y="-30.1" font-family="'Liberation Serif', 'Times New Roman', serif" font-size="27" fill="#000" font-style="italic" textLength="12.4" lengthAdjust="spacingAndGlyphs">y</text>
<text x="720.6" y="-42.4" font-family="'Liberation Serif', 'Times New Roman', serif" font-size="42" fill="#000" textLength="33.5" lengthAdjust="spacingAndGlyphs">at</text>
<text x="771.6" y="-42.4" font-family="'Liberation Serif', 'Times New Roman', serif" font-size="45" fill="#000" font-style="italic" textLength="13" lengthAdjust="spacingAndGlyphs">t</text>
<text x="785.9" y="-33.8" font-family="'Liberation Serif', 'Times New Roman', serif" font-size="29" fill="#000" textLength="13" lengthAdjust="spacingAndGlyphs">3</text>
</g>
<g transform="translate(154.4 938.4)" clip-path="url(#ax)" fill="none">
<g clip-path="url(#cc0)"><g filter="url(#bl24)" stroke-width="24.3">
<path stroke="#00008b" d="M432 108h24"/>
<path stroke="#00009b" d="M456 108h24M288 420h48M264 444h24M240 468h24"/>
<path stroke="#0000ab" d="M552 12h24M432 132h24M312 372h24M264 396h96M240 420h48M216 444h48M216 468h24M216 492h24"/>
<path stroke="#0000bb" d="M576 36h24M384 132h48M360 156h48M336 180h48M288 204h72M288 348h96M264 372h48M336 372h48M240 396h24M216 420h24M192 444h24M192 468h24M192 492h24"/>
<path stroke="#0000cb" d="M456 132h24M408 156h48M384 180h48M360 204h72M264 228h168M240 252h168M216 276h192M240 300h168M240 324h192M240 348h48M384 348h24M216 372h48M192 396h48M168 420h48M168 444h24M168 468h24M168 492h24M168 516h24"/>
<path stroke="#0000db" d="M552 36h24M480 132h24M456 156h24M432 180h48M432 204h48M432 228h24M408 252h48M408 276h48M168 300h72M408 300h48M144 324h96M432 324h24M144 348h96M144 372h72M144 396h48M144 420h24M144 444h24M144 468h24M144 492h24M144 516h24"/>
<path stroke="#0000eb" d="M528 36h24M480 156h48M480 180h24M480 204h24M456 228h48M456 252h48M456 276h48M456 300h24M120 348h24M96 372h48M96 396h48M96 420h48M120 444h24M120 468h24M144 540h24"/>
<path stroke="#0000fb" d="M504 36h24M504 180h24M504 204h24M504 228h24M504 252h24M72 372h24M72 396h24M72 420h24M96 444h24M120 492h24M120 516h24"/>
<path stroke="#000cff" d="M528 60h48M528 180h24M528 204h24M528 228h48M528 252h24M48 396h24M48 420h24M24 444h72M120 540h24"/>
<path stroke="#001cff" d="M480 60h48M456 84h24M552 180h24M552 204h48M24 420h24M96 468h24M96 492h24M120 564h24"/>
<path stroke="#002cff" d="M480 84h72M96 516h24"/>
<path stroke="#003cff" d="M480 108h48M96 540h24M96 564h24"/>
<path stroke="#004cff" d="M552 84h24M528 108h24M504 132h24M72 468h24"/>
<path stroke="#005cff" d="M576 60h24M552 108h24M528 132h24M528 156h24M48 468h24M72 588h24"/>
<path stroke="#006cff" d="M576 84h24M576 108h24M552 132h24M552 156h24M72 492h24M72 516h24M72 540h24M72 564h24"/>
<path stroke="#007cff" d="M576 132h24M576 156h24M576 180h24"/>
<path stroke="#008bff" d="M600 60h24M600 84h24M600 108h24M600 132h24M600 156h24"/>
<path stroke="#009bff" d="M624 108h24M624 132h24M600 180h24M48 540h24M168 540h48M144 564h72M168 588h24"/>
<path stroke="#00abff" d="M432 -36h24M624 60h24M624 84h24M624 156h24M624 180h24M48 516h24M192 516h48M216 540h48M48 564h24M216 564h48M96 588h72M192 588h72M120 612h144M120 636h144"/>
<path stroke="#00bbff" d="M312 -36h120M456 -36h72M336 -12h192M384 12h168M624 204h24M240 492h24M240 516h48M264 540h48M264 564h48M264 588h48M96 612h24M264 612h48M96 636h24M264 636h48"/>
<path stroke="#00cbff" d="M240 -36h72M528 -36h24M240 -12h96M528 -12h24M264 12h120M312 36h192M624 36h24M408 60h72M600 204h24M624 228h24M264 492h96M288 516h96M312 540h96M312 564h96M48 588h24M312 588h96M312 612h96M72 636h24M312 636h96"/>
<path stroke="#00dbff" d="M144 -36h96M552 -36h96M144 -12h96M624 -12h24M144 12h120M624 12h24M168 36h144M168 60h240M240 84h192M-48 156h96M-48 180h120M-48 204h96M-48 228h96M576 228h48M-48 252h72M576 252h72M600 276h48M624 300h24M624 372h24M624 396h24M408 420h24M600 420h48M312 444h192M600 444h48M264 468h288M24 492h48M360 492h192M24 516h24M384 516h144M24 540h24M408 540h120M24 564h24M408 564h96M408 588h72M48 612h48M408 612h72M48 636h24M408 636h72"/>
<path stroke="#00ebff" d="M0 -36h144M0 -12h144M576 -12h48M-24 12h168M600 12h24M-48 36h216M600 36h24M-48 60h216M-48 84h288M-48 108h480M-48 132h432M48 156h168M72 180h120M48 204h96M48 228h72M24 252h72M552 252h24M-48 276h144M504 276h96M-48 300h144M480 300h144M48 324h48M456 324h192M72 348h48M408 348h240M384 372h240M360 396h264M336 420h72M432 420h168M288 444h24M504 444h96M552 468h96M552 492h96M528 516h120M528 540h120M504 564h144M24 588h24M480 588h144M24 612h24M480 612h120M480 636h96"/>
<path stroke="#00fbff" d="M-48 -36h48M-48 -12h48M552 -12h24M-48 12h24M432 84h24M216 156h144M192 180h144M144 204h144M120 228h72M96 252h72M96 276h48M96 300h48M-48 324h96M96 324h48M-24 348h96M0 372h72M24 396h24M0 420h24M624 588h24M600 612h48M24 636h24M576 636h72"/>
<path stroke="#0cfff3" d="M576 12h24M192 228h72M168 252h72M144 276h72M144 300h24M-48 348h24M-24 372h24M0 396h24M0 492h24M0 516h24M0 540h24M0 564h24M0 588h24M0 612h24M0 636h24"/>
<path stroke="#1cffe3" d="M-48 372h24M-24 396h24M-24 612h24M-24 636h24"/>
<path stroke="#2cffd3" d="M-48 396h24M-24 420h24M0 468h24M-24 564h24M-24 588h24M-48 636h24"/>
<path stroke="#3cffc3" d="M-48 420h24M-24 444h24M-24 468h24M-24 492h24M-24 516h24M-24 540h24M-48 588h24M-48 612h24"/>
<path stroke="#4cffb3" d="M-48 444h24M0 444h24M-48 564h24"/>
<path stroke="#5cffa3" d="M-48 468h24M-48 492h24M-48 516h24M-48 540h24"/>
<path stroke="#7cff83" d="M24 468h24"/>
</g></g>
<g clip-path="url(#cc1)"><g filter="url(#bl12)" stroke-width="12.3">
<path stroke="#002cff" d="M60 462h12"/>
<path stroke="#0048ff" d="M48 462h12"/>
<path stroke="#0058ff" d="M60 474h12"/>
<path stroke="#00cfff" d="M48 474h12M36 486h12"/>
<path stroke="#00e3ff" d="M24 498h12"/>
<path stroke="#00f7ff" d="M36 474h12M24 486h12"/>
<path stroke="#00fbff" d="M12 510h12"/>
<path stroke="#00ffff" d="M12 498h12"/>
<path stroke="#10ffef" d="M12 486h12"/>
<path stroke="#18ffe7" d="M0 498h12M0 510h12"/>
<path stroke="#20ffdf" d="M0 486h12"/>
<path stroke="#24ffdb" d="M12 474h12"/>
<path stroke="#28ffd7" d="M0 474h12"/>
<path stroke="#2cffd3" d="M-12 498h12M-12 510h12M-12 522h12"/>
<path stroke="#30ffcf" d="M-12 486h12"/>
<path stroke="#34ffcb" d="M0 462h12M-12 474h12M24 474h12"/>
<path stroke="#38ffc7" d="M0 426h12M0 450h12M-12 462h12"/>
<path stroke="#3cffc3" d="M0 438h12M-12 450h12"/>
<path stroke="#40ffbf" d="M12 462h12M-24 486h12M-24 498h12M-24 510h12M-24 522h12"/>
<path stroke="#44ffbb" d="M12 426h12M-12 438h12M-24 450h12M-24 462h12M-24 474h12"/>
<path stroke="#54ffab" d="M12 438h12"/>
<path stroke="#5cffa3" d="M24 426h12M12 450h12"/>
<path stroke="#83ff7c" d="M24 438h12M24 462h12"/>
<path stroke="#abff54" d="M24 450h12"/>
<path stroke="#c3ff3c" d="M36 438h12"/>
<path stroke="#f7ff08" d="M48 450h12"/>
<path stroke="#ffff00" d="M36 450h12"/>
<path stroke="#ffef00" d="M36 462h12"/>
</g></g>
<g clip-path="url(#cc1p0)"><g filter="url(#bl4)" stroke-width="4.3">
<path stroke="#008fff" d="M48 466h4"/>
<path stroke="#0093ff" d="M48 462h4"/>
<path stroke="#00bbff" d="M44 466h4"/>
<path stroke="#08fff7" d="M32 478h4M16 490h4"/>
<path stroke="#0cfff3" d="M20 486h4"/>
<path stroke="#10ffef" d="M24 482h4M16 486h4M12 490h4"/>
<path stroke="#14ffeb" d="M36 474h4M16 482h8M12 486h4M8 490h4M8 494h4"/>
<path stroke="#18ffe7" d="M12 482h4M8 486h4M4 498h4"/>
<path stroke="#1cffe3" d="M16 478h16M8 482h4M4 490h4M4 494h4"/>
<path stroke="#20ffdf" d="M8 478h8M4 482h4M4 486h4M0 494h4M0 498h4M0 502h4"/>
<path stroke="#24ffdb" d="M8 474h12M4 478h4M0 486h4M0 490h4M-4 502h4"/>
<path stroke="#28ffd7" d="M8 470h4M40 470h4M4 474h4M20 474h4M0 478h4M0 482h4M-4 490h4M-4 494h4M-4 498h4"/>
<path stroke="#2cffd3" d="M4 470h4M12 470h4M0 474h4M24 474h4M32 474h4M-4 478h4M-4 482h4M-4 486h4M-8 498h4M-8 502h4"/>
<path stroke="#30ffcf" d="M0 466h16M-4 470h8M16 470h4M-4 474h4M-8 482h4M-8 486h4M-8 490h4M-8 494h4"/>
<path stroke="#34ffcb" d="M0 458h4M-4 462h16M-4 466h4M-8 470h4M20 470h4M-8 474h4M28 474h4M-8 478h4"/>
<path stroke="#38ffc7" d="M0 450h8M-4 454h12M-8 458h8M4 458h8M-8 462h4M12 462h4M-8 466h4M16 466h4"/>
<path stroke="#3cffc3" d="M0 446h8M-4 450h4M-8 454h4M8 454h4M24 470h4"/>
<path stroke="#40ffbf" d="M8 446h4M8 450h4M12 458h4M16 462h4M20 466h4"/>
<path stroke="#44ffbb" d="M8 442h4M12 454h4"/>
<path stroke="#48ffb7" d="M12 438h4M16 458h4"/>
<path stroke="#4cffb3" d="M12 450h4M20 462h4M28 470h4"/>
<path stroke="#50ffaf" d="M12 442h4M12 446h4M24 466h4M36 470h4"/>
<path stroke="#54ffab" d="M16 438h4M16 454h4"/>
<path stroke="#5cffa3" d="M16 442h4M16 450h4M20 458h4M32 470h4"/>
<path stroke="#64ff9b" d="M20 438h4M16 446h4M24 462h4"/>
<path stroke="#68ff97" d="M20 454h4M28 466h4"/>
<path stroke="#6cff93" d="M20 442h4"/>
<path stroke="#78ff87" d="M20 446h4M20 450h4M24 458h4"/>
<path stroke="#7cff83" d="M24 442h4"/>
<path stroke="#83ff7c" d="M28 462h4M32 466h4"/>
<path stroke="#87ff78" d="M24 446h4"/>
<path stroke="#8bff74" d="M24 454h4"/>
<path stroke="#93ff6c" d="M24 450h4"/>
<path stroke="#97ff68" d="M28 446h4M40 466h4"/>
<path stroke="#a3ff5c" d="M28 458h4"/>
<path stroke="#abff54" d="M28 450h4M36 466h4"/>
<path stroke="#afff50" d="M32 462h4"/>
<path stroke="#bbff44" d="M28 454h4"/>
<path stroke="#c7ff38" d="M32 450h4"/>
<path stroke="#d7ff28" d="M32 454h4"/>
<path stroke="#dfff20" d="M32 458h4M44 462h4"/>
<path stroke="#e3ff1c" d="M36 450h4"/>
<path stroke="#ebff14" d="M36 462h4"/>
<path stroke="#f3ff0c" d="M36 454h4"/>
<path stroke="#ffff00" d="M36 458h4"/>
<path stroke="#ffef00" d="M40 454h4M40 462h4"/>
<path stroke="#ffe700" d="M44 458h4"/>
<path stroke="#ffe300" d="M40 458h4"/>
</g></g>
<g clip-path="url(#cc2)"><g filter="url(#bl12)" stroke-width="12.3">
<path stroke="#000083" d="M432 78h12"/>
<path stroke="#000087" d="M444 102h12"/>
<path stroke="#00008b" d="M444 114h12"/>
<path stroke="#00008f" d="M456 102h12M432 114h12"/>
<path stroke="#00009b" d="M432 102h12M456 114h12"/>
<path stroke="#00009f" d="M456 90h12M420 114h12M432 126h12"/>
<path stroke="#0000a3" d="M420 78h12"/>
<path stroke="#0000a7" d="M468 90h12M468 102h12M420 126h12M444 126h12"/>
<path stroke="#0000ab" d="M408 90h12M420 102h12"/>
<path stroke="#0000af" d="M396 102h24M408 114h12"/>
<path stroke="#0000b3" d="M420 90h12M384 114h24M372 126h12M408 126h12M348 138h12"/>
<path stroke="#0000b7" d="M480 90h12M468 114h12M384 126h24M456 126h12M360 138h36M420 138h12M336 150h36M324 162h36M312 174h24"/>
<path stroke="#0000bb" d="M456 78h12M396 138h24M432 138h12M372 150h24M360 162h24M336 174h36M288 186h60M276 198h48"/>
<path stroke="#0000bf" d="M444 90h12M480 102h12M444 138h12M396 150h24M384 162h12M372 174h12M348 186h24M324 198h36M264 210h84M252 222h48"/>
<path stroke="#0000c3" d="M432 90h12M420 150h12M396 162h24M384 174h24M372 186h24M360 198h24M348 210h36M300 222h72M240 234h108M216 246h36"/>
<path stroke="#0000c7" d="M432 150h12M420 162h12M408 174h12M396 186h12M384 198h24M384 210h12M372 222h24M348 234h36M252 246h120M204 258h144M276 270h60M300 282h24"/>
<path stroke="#0000cb" d="M492 102h12M480 114h12M468 126h12M456 138h12M432 162h12M420 174h12M408 186h24M408 198h12M396 210h24M216 270h60M252 282h48M264 294h36M264 306h24M264 318h12M24 474h12"/>
<path stroke="#0000cf" d="M444 150h12M432 174h12M432 186h12M420 198h12M192 270h24M216 282h36M240 294h24M240 306h24M240 318h24M240 330h12"/>
<path stroke="#0000d3" d="M492 114h12M480 126h12M468 138h12M456 150h12M444 162h12M444 174h12M192 282h24M216 294h24M228 306h12M228 318h12M228 330h12M216 342h24M216 354h12"/>
<path stroke="#0000d7" d="M468 150h12M456 162h12M180 282h12M180 294h36M204 306h24M204 318h24M204 330h24M204 342h12M192 354h24M180 366h24M168 378h24M168 390h12"/>
<path stroke="#0000db" d="M504 114h12M492 126h12M480 138h12M468 162h12M456 174h12M156 294h24M168 306h36M180 318h24M180 330h24M180 342h24M168 354h24M168 366h12M156 378h12M144 390h24M144 402h12"/>
<path stroke="#0000df" d="M504 126h12M492 138h12M480 150h12M144 306h24M144 318h36M156 330h24M156 342h24M156 354h12M144 366h24M144 378h12M132 390h12M132 402h12M132 414h12"/>
<path stroke="#0000e3" d="M132 318h12M132 330h24M132 342h24M132 354h24M132 366h12M132 378h12M120 390h12M120 402h12M120 414h12M36 462h12"/>
<path stroke="#0000e7" d="M516 126h12M504 138h12M120 330h12M120 342h12M120 354h12M120 366h12M120 378h12M120 426h12M24 462h12"/>
<path stroke="#0000eb" d="M108 342h12M108 354h12M108 366h12M108 378h12M108 390h12M108 402h12M108 414h12"/>
<path stroke="#0000ef" d="M96 354h12M96 366h12M96 378h12M96 390h12M108 426h12"/>
<path stroke="#0000f3" d="M84 354h12M84 366h12M96 402h12M96 414h12M96 426h12M12 474h12"/>
<path stroke="#0000f7" d="M84 378h12M84 390h12M96 438h12"/>
<path stroke="#0000fb" d="M72 366h12M84 402h12M84 414h12M84 426h12M24 450h24"/>
<path stroke="#0000ff" d="M72 378h12M72 390h12M84 438h12M84 450h12M12 462h12"/>
<path stroke="#0004ff" d="M60 378h12M72 402h12M72 414h12M72 426h12M36 438h12"/>
<path stroke="#0008ff" d="M60 390h12M60 402h12M60 414h12M60 426h12M48 438h12M72 438h12"/>
<path stroke="#000cff" d="M48 414h12M48 426h12M24 438h12M60 438h12M12 450h12M48 450h12M72 450h12"/>
<path stroke="#0010ff" d="M48 390h12M48 402h12M36 426h12M60 450h12"/>
<path stroke="#0014ff" d="M36 414h12M24 426h12M12 438h12"/>
<path stroke="#0018ff" d="M36 402h12M0 462h12M72 462h12"/>
<path stroke="#001cff" d="M24 414h12M0 438h12"/>
<path stroke="#0020ff" d="M24 402h12M12 426h12M0 450h12"/>
<path stroke="#0028ff" d="M12 414h12"/>
<path stroke="#002cff" d="M0 426h12M48 462h24"/>
<path stroke="#0030ff" d="M444 66h12M-12 450h12"/>
<path stroke="#003cff" d="M-12 438h12"/>
<path stroke="#004cff" d="M444 78h12"/>
<path stroke="#0058ff" d="M60 474h12"/>
<path stroke="#00cbff" d="M36 474h12"/>
<path stroke="#00cfff" d="M48 474h12M36 486h12"/>
</g></g>
<g clip-path="url(#cc2p0)"><g filter="url(#bl4)" stroke-width="4.3">
<path stroke="#00009b" d="M40 470h4"/>
<path stroke="#0000b3" d="M36 470h4"/>
<path stroke="#0000bf" d="M40 466h4"/>
<path stroke="#0000c7" d="M36 466h4"/>
<path stroke="#0000d3" d="M32 466h4"/>
<path stroke="#0000db" d="M36 462h4"/>
<path stroke="#0000df" d="M32 462h4"/>
<path stroke="#0000e3" d="M40 462h4"/>
<path stroke="#0000e7" d="M28 462h4"/>
<path stroke="#0000eb" d="M32 458h8"/>
<path stroke="#0000ef" d="M28 458h4M40 458h4M24 462h4"/>
<path stroke="#0000f3" d="M32 454h8M24 458h4"/>
<path stroke="#0000f7" d="M92 418h8M96 422h4M96 426h4M28 454h4M40 454h4"/>
<path stroke="#0000fb" d="M88 418h4M88 422h8M88 426h8M88 430h8M28 450h16M24 454h4M44 454h4M20 458h4M44 458h4M44 462h4"/>
<path stroke="#0000ff" d="M80 418h8M80 422h8M80 426h8M80 430h8M84 434h8M84 438h4M32 446h16M24 450h4M44 450h4M20 454h4"/>
<path stroke="#0004ff" d="M72 418h8M72 422h8M72 426h8M72 430h8M76 434h8M40 438h8M80 438h4M32 442h20M80 442h4M28 446h4M48 446h4M20 450h4M48 450h4"/>
<path stroke="#0008ff" d="M60 418h12M60 422h12M60 426h12M60 430h12M40 434h36M32 438h8M48 438h12M68 438h12M28 442h4M52 442h4M72 442h8M24 446h4M52 446h4M16 454h4M48 454h4"/>
<path stroke="#000cff" d="M52 418h8M48 422h12M44 426h16M36 430h24M32 434h8M28 438h4M60 438h8M24 442h4M56 442h16M20 446h4M56 446h8M68 446h8M16 450h4M52 450h4M48 458h4"/>
<path stroke="#0010ff" d="M44 418h8M40 422h8M36 426h8M32 430h4M28 434h4M24 438h4M20 442h4M16 446h4M64 446h4M12 450h4M56 450h16M52 454h4"/>
<path stroke="#0014ff" d="M36 418h8M32 422h8M28 426h8M24 430h8M24 434h4M16 438h8M16 442h4M12 446h4M56 454h4"/>
<path stroke="#0018ff" d="M24 426h4M20 430h4M16 434h8M12 438h4M12 442h4M8 446h4M8 450h4M60 454h8M52 458h4"/>
<path stroke="#001cff" d="M8 442h4M56 458h4"/>
<path stroke="#0020ff" d="M4 446h4M48 462h4"/>
<path stroke="#002cff" d="M52 462h4"/>
<path stroke="#0030ff" d="M44 466h4"/>
<path stroke="#0060ff" d="M48 466h4"/>
</g></g>
<g clip-path="url(#cc2p1)"><g filter="url(#bl4)" stroke-width="4.3">
<path stroke="#000083" d="M444 106h12M444 110h8"/>
<path stroke="#000087" d="M448 102h8M440 110h4M452 110h4M444 114h4"/>
<path stroke="#00008b" d="M444 102h4M456 102h4M440 106h4M456 106h4M436 110h4M440 114h4M448 114h4"/>
<path stroke="#00008f" d="M448 98h12M440 102h4M460 102h4M436 106h4M460 106h4M456 110h4M436 114h4M452 114h4M440 118h8"/>
<path stroke="#000093" d="M460 98h4M432 110h4M432 114h4M456 114h4M436 118h4M448 118h4"/>
<path stroke="#000097" d="M456 94h8M444 98h4M464 98h4M464 102h4M432 106h4M460 110h4M432 118h4M452 118h4M436 122h12"/>
<path stroke="#00009b" d="M452 94h4M464 94h4M436 102h4M464 106h4M428 110h4M428 114h4M460 114h4M428 118h4M432 122h4M448 122h4"/>
<path stroke="#00009f" d="M448 94h4M440 98h4M468 98h4M468 102h4M428 106h4M464 110h4M424 114h4M456 118h4M428 122h4M436 126h8"/>
<path stroke="#0000a3" d="M456 90h4M444 94h4M432 102h4M468 106h4M424 110h4M424 118h4M424 122h4M452 122h4M432 126h4M444 126h4"/>
<path stroke="#0000a7" d="M436 98h4M428 102h4M472 102h4M424 106h4M420 110h4M468 110h4M420 114h4M464 114h4M420 118h4M460 118h4M420 122h4M456 122h4M424 126h8M448 126h4"/>
<path stroke="#0000ab" d="M420 102h8M416 106h8M472 106h4M416 110h4M416 114h4M416 118h4M416 122h4M420 126h4M452 126h4M428 130h16"/>
<path stroke="#0000af" d="M444 90h4M452 90h4M440 94h4M424 98h12M412 110h4M408 114h8M468 114h4M408 118h8M464 118h4M412 122h4M460 122h4M416 126h4M420 130h8M444 130h8"/>
<path stroke="#0000b3" d="M476 106h4M472 110h4M400 118h8M400 122h12M408 126h8M456 126h4M412 130h8M420 134h24"/>
<path stroke="#0000b7" d="M436 94h4M472 114h4M468 118h4M464 122h4M400 126h8M460 126h4M400 130h12M452 130h4M400 134h20M444 134h4M416 138h20"/>
<path stroke="#0000bb" d="M440 90h4M432 94h4M480 106h4M476 110h4M456 130h4M448 134h4M400 138h16M436 138h8"/>
<path stroke="#0000bf" d="M452 86h4M448 90h4M480 110h4M476 114h4M472 118h4M468 122h4M464 126h4M460 130h4M452 134h4M444 138h8"/>
<path stroke="#0000c3" d="M440 86h4M436 90h4M480 114h4M476 118h4M472 122h4M468 126h4M464 130h4M456 134h4M452 138h4"/>
<path stroke="#0000c7" d="M484 110h4M460 134h4M456 138h4"/>
<path stroke="#0000cb" d="M484 114h4M480 118h4M476 122h4M472 126h4M468 130h4M464 134h4M460 138h4"/>
<path stroke="#0000cf" d="M488 114h8M484 118h8M480 122h8M476 126h8M472 130h8M468 134h8M464 138h8"/>
<path stroke="#0000d3" d="M492 118h4M488 122h4M484 126h4M480 130h4M476 134h4M472 138h4"/>
<path stroke="#0000d7" d="M492 122h4M488 126h8M484 130h8M480 134h8M476 138h8"/>
<path stroke="#0000db" d="M492 130h4M488 134h4"/>
<path stroke="#0044ff" d="M448 86h4"/>
<path stroke="#004cff" d="M448 82h4"/>
<path stroke="#0058ff" d="M444 86h4"/>
<path stroke="#005cff" d="M444 82h4"/>
</g></g>
<g clip-path="url(#cc3)"><g filter="url(#bl12)" stroke-width="12.3">
<path stroke="#000083" d="M564 -18h12M576 -6h12M588 6h12M600 18h24M600 30h12M432 78h12"/>
<path stroke="#00008b" d="M564 -6h12M588 18h12"/>
<path stroke="#00008f" d="M576 6h12"/>
<path stroke="#000093" d="M552 6h24"/>
<path stroke="#00009b" d="M588 30h12M432 102h12"/>
<path stroke="#00009f" d="M576 18h12"/>
<path stroke="#0000a3" d="M420 78h12"/>
<path stroke="#0000ab" d="M564 18h12M420 102h12"/>
<path stroke="#0000b3" d="M576 30h12M420 90h12"/>
<path stroke="#0000b7" d="M588 42h24"/>
<path stroke="#0000bb" d="M552 18h12"/>
<path stroke="#0000c3" d="M564 30h12M432 90h12"/>
<path stroke="#0000cb" d="M540 6h12M576 42h12"/>
<path stroke="#0000cf" d="M540 18h12M552 30h12"/>
<path stroke="#0000db" d="M564 42h12"/>
<path stroke="#0000df" d="M528 6h12M528 18h12M540 30h12M588 54h12"/>
<path stroke="#0000e7" d="M540 -6h12M516 6h12M552 42h12M576 54h12M600 54h12"/>
<path stroke="#0000eb" d="M516 18h12M528 30h12M612 54h12"/>
<path stroke="#0000ef" d="M540 42h12"/>
<path stroke="#0000f3" d="M504 18h12M516 30h12M564 54h12M444 102h12"/>
<path stroke="#0000f7" d="M600 66h12M444 114h12"/>
<path stroke="#0000fb" d="M504 30h12M528 42h12M588 66h12M456 102h12M432 114h12"/>
<path stroke="#0000ff" d="M492 30h12M516 42h12M552 54h12"/>
<path stroke="#0004ff" d="M504 42h12M540 54h12M576 66h12"/>
<path stroke="#0008ff" d="M492 42h12M528 54h12M564 66h12M456 114h12"/>
<path stroke="#000cff" d="M480 42h12M504 54h24M456 90h12"/>
<path stroke="#0010ff" d="M468 42h12M492 54h12"/>
<path stroke="#0014ff" d="M480 54h12M468 90h12M468 102h12"/>
<path stroke="#0018ff" d="M468 54h12M492 66h60"/>
<path stroke="#001cff" d="M480 66h12M552 66h12M468 78h12M576 78h12"/>
<path stroke="#0020ff" d="M456 54h12M468 66h12M480 78h24M480 90h12M468 114h12"/>
<path stroke="#0024ff" d="M504 78h24M456 126h12"/>
<path stroke="#0028ff" d="M456 66h12M456 78h12M528 78h12M492 90h12M480 102h12"/>
<path stroke="#002cff" d="M540 78h12M444 90h12M504 90h12"/>
<path stroke="#0030ff" d="M444 66h12M516 90h12M492 102h12M480 114h12M468 126h12"/>
<path stroke="#0034ff" d="M552 78h12M528 90h12"/>
<path stroke="#0038ff" d="M504 102h12M492 114h12"/>
<path stroke="#003cff" d="M540 90h12M516 102h12M480 126h12M468 138h12"/>
<path stroke="#0040ff" d="M528 102h12M504 114h12M492 126h12M480 138h12"/>
<path stroke="#0044ff" d="M552 90h12M516 114h12M504 126h12M492 138h12"/>
<path stroke="#0048ff" d="M564 78h12M540 102h12M528 114h12M516 126h12M504 138h12"/>
<path stroke="#004cff" d="M444 78h12"/>
<path stroke="#0050ff" d="M564 90h12M552 102h12"/>
<path stroke="#00c3ff" d="M624 42h12"/>
<path stroke="#00c7ff" d="M612 42h12"/>
<path stroke="#00cfff" d="M624 30h12"/>
<path stroke="#00dfff" d="M612 30h12"/>
<path stroke="#00e7ff" d="M552 -18h12"/>
<path stroke="#18ffe7" d="M552 -6h12"/>
</g></g>
<g clip-path="url(#cc3p1)"><g filter="url(#bl4)" stroke-width="4.3">
<path stroke="#0000af" d="M444 90h4M440 94h4"/>
<path stroke="#0000b7" d="M436 94h4"/>
<path stroke="#0000bb" d="M440 90h4"/>
<path stroke="#0000c3" d="M440 86h4M436 90h4"/>
<path stroke="#0000f3" d="M448 102h8M452 106h4"/>
<path stroke="#0000f7" d="M456 102h4M456 106h4"/>
<path stroke="#0000fb" d="M452 98h8M460 102h4M460 106h4"/>
<path stroke="#0000ff" d="M448 98h4M460 98h4M460 110h4"/>
<path stroke="#0004ff" d="M456 94h8M444 98h4M464 98h4M464 102h4M464 106h4"/>
<path stroke="#0008ff" d="M452 94h4M464 94h4M468 98h4M464 110h4"/>
<path stroke="#000cff" d="M460 90h8M468 94h4M468 102h4M468 106h4"/>
<path stroke="#0010ff" d="M488 50h8M492 54h4M468 90h4M448 94h4M472 94h4M472 98h4M464 114h4"/>
<path stroke="#0014ff" d="M484 54h8M488 58h8M464 86h12M456 90h4M472 90h4M444 94h4M472 102h4M468 110h4"/>
<path stroke="#0018ff" d="M476 58h12M480 62h16M492 66h4M468 82h8M460 86h4M476 86h4M476 90h4M476 94h4M476 98h4M472 106h4M468 114h4"/>
<path stroke="#001cff" d="M472 62h8M476 66h16M476 70h20M472 74h20M468 78h16M464 82h4M476 82h8M480 86h4M452 90h4M480 90h4M480 94h4M476 102h4M472 110h4"/>
<path stroke="#0020ff" d="M468 66h8M468 70h8M468 74h4M492 74h4M464 78h4M484 78h12M460 82h4M484 82h8M456 86h4M484 86h4M484 90h4M480 98h4M480 102h4M476 106h4M472 114h4"/>
<path stroke="#0024ff" d="M464 70h4M464 74h4M492 82h4M488 86h8M488 90h4M484 94h4M484 98h4M480 106h4M476 110h4"/>
<path stroke="#0028ff" d="M460 78h4M492 90h4M488 94h8M488 98h4M484 102h4M480 110h4M476 114h4M472 118h4"/>
<path stroke="#002cff" d="M460 70h4M460 74h4M456 82h4M448 90h4M492 98h4M488 102h4M484 106h4M480 114h4M476 118h4"/>
<path stroke="#0030ff" d="M452 86h4M492 102h4M488 106h4M484 110h4M484 114h4M480 118h4M476 122h4"/>
<path stroke="#0034ff" d="M456 74h4M456 78h4M492 106h4M488 110h8M488 114h4M484 118h4M480 122h4"/>
<path stroke="#0038ff" d="M492 114h4M488 118h4M484 122h4M480 126h4"/>
<path stroke="#003cff" d="M452 82h4M492 118h4M488 122h8M484 126h8"/>
<path stroke="#0040ff" d="M452 78h4M492 126h4M488 130h8"/>
<path stroke="#0044ff" d="M448 86h4"/>
<path stroke="#004cff" d="M448 82h4"/>
<path stroke="#0058ff" d="M444 86h4"/>
<path stroke="#005cff" d="M444 82h4"/>
</g></g>
<g clip-path="url(#cc4)"><g filter="url(#bl12)" stroke-width="12.3">
<path stroke="#0024ff" d="M72 618h12"/>
<path stroke="#004cff" d="M72 606h12"/>
<path stroke="#0070ff" d="M60 606h12"/>
<path stroke="#008bff" d="M60 594h12"/>
<path stroke="#0097ff" d="M168 534h12"/>
<path stroke="#009bff" d="M156 534h12M156 546h36M156 558h36"/>
<path stroke="#009fff" d="M144 534h12M144 546h12M144 558h12M192 558h12M144 570h60M168 582h36"/>
<path stroke="#00a3ff" d="M132 534h12M132 546h12M132 558h12M132 570h12M204 570h12M132 582h36M204 582h12M144 594h72M156 606h48M156 618h48M156 630h36"/>
<path stroke="#00a7ff" d="M120 570h12M120 582h12M216 582h12M84 594h12M120 594h24M216 594h12M132 606h24M204 606h24M132 618h24M204 618h24M132 630h24M192 630h36"/>
<path stroke="#00abff" d="M120 546h12M120 558h12M108 582h12M228 582h12M96 594h24M228 594h12M120 606h12M228 606h12M120 618h12M228 618h12M120 630h12M228 630h12"/>
<path stroke="#00afff" d="M108 570h12M96 582h12M72 594h12M240 594h12M108 606h12M240 606h12M240 618h12M240 630h12"/>
<path stroke="#00b3ff" d="M108 558h12M96 606h12M252 606h12M108 618h12M252 618h12M108 630h12M252 630h12"/>
<path stroke="#00b7ff" d="M96 570h12M84 582h12"/>
<path stroke="#00bbff" d="M96 618h12M96 630h12"/>
<path stroke="#00c3ff" d="M84 570h12"/>
<path stroke="#00c7ff" d="M72 582h12M84 630h12"/>
<path stroke="#00cbff" d="M84 618h12"/>
<path stroke="#00dfff" d="M84 606h12"/>
</g></g>
<g clip-path="url(#cc5)"><g filter="url(#bl12)" stroke-width="12.3">
<path stroke="#0040ff" d="M600 198h12"/>
<path stroke="#0044ff" d="M600 186h12"/>
<path stroke="#0054ff" d="M612 186h12"/>
<path stroke="#0097ff" d="M168 534h12"/>
<path stroke="#009bff" d="M156 522h36M156 534h12M180 534h24M156 546h36M156 558h36"/>
<path stroke="#009fff" d="M168 510h24M192 522h12M144 534h12M204 534h12M144 546h12M192 546h24M144 558h12M192 558h24M144 570h60M168 582h36"/>
<path stroke="#00a3ff" d="M180 498h12M192 510h12M204 522h12M132 534h12M132 546h12M216 546h12M132 558h12M216 558h12M204 570h24M156 582h12M204 582h12M168 594h48M192 606h12"/>
<path stroke="#00a7ff" d="M192 498h12M204 510h12M216 522h12M216 534h12M228 546h12M228 558h12M228 570h12M216 582h12M216 594h12M204 606h24M204 618h24M216 630h12"/>
<path stroke="#00abff" d="M204 498h12M216 510h12M228 522h12M228 534h12M120 546h12M120 558h12M228 582h12M228 594h12M228 606h12M228 618h12M228 630h12"/>
<path stroke="#00afff" d="M216 498h12M228 510h12M240 534h12M240 546h12M240 558h12M240 570h12M240 582h12M240 594h12M240 606h12M240 618h12M240 630h12"/>
<path stroke="#00b3ff" d="M612 198h12M204 486h12M228 498h12M240 510h12M240 522h12M252 534h12M252 546h12M252 558h12M252 570h12M252 582h12M252 594h12M252 606h12M252 618h12M252 630h12"/>
<path stroke="#00b7ff" d="M624 198h12M216 486h12M252 522h12M264 534h12M264 546h12M264 558h12M264 570h12M264 582h12M264 594h12M264 606h12M264 618h12M264 630h12"/>
<path stroke="#00bbff" d="M228 486h12M240 498h12M252 510h12M264 522h12M276 534h12M276 546h12M276 558h12M276 570h12M276 582h12M276 594h12M276 606h12M276 618h12M276 630h12"/>
<path stroke="#00bfff" d="M216 474h12M240 486h12M252 498h12M264 510h12M276 522h12M288 534h12M288 546h12M288 558h12M288 570h12M288 582h12M288 594h12M288 606h12M288 618h12M288 630h12"/>
<path stroke="#00c3ff" d="M624 210h12M228 474h12M252 486h12M264 498h12M276 510h24M288 522h24M300 534h12M300 546h24M300 558h24M300 570h24M300 582h24M300 594h24M300 606h24M300 618h24M300 630h24"/>
<path stroke="#00c7ff" d="M612 210h12M240 474h12M264 486h12M276 498h24M300 510h24M312 522h12M312 534h24M324 546h12M324 558h12M324 570h12M324 582h12M324 594h12M324 606h12M324 618h12M324 630h12"/>
<path stroke="#00cbff" d="M624 222h12M228 462h12M252 474h12M276 486h24M300 498h24M324 510h24M324 522h36M336 534h24M336 546h36M336 558h36M336 570h36M336 582h36M336 594h36M336 606h24M336 618h24M336 630h36"/>
<path stroke="#00cfff" d="M600 210h12M612 222h12M240 462h12M264 474h12M300 486h36M324 498h48M348 510h36M360 522h36M360 534h36M372 546h24M372 558h24M372 570h24M372 582h24M372 594h24M360 606h36M360 618h36M372 630h24"/>
<path stroke="#00d3ff" d="M600 222h12M612 234h24M252 462h12M276 474h84M336 486h60M372 498h36M384 510h36M396 522h24M396 534h24M396 546h24M396 558h36M396 570h36M396 582h36M396 594h24M396 606h24M396 618h36M396 630h36"/>
<path stroke="#00d7ff" d="M600 234h12M612 246h24M264 462h12M324 462h60M360 474h48M396 486h36M408 498h36M420 510h24M420 522h24M420 534h24M420 546h36M432 558h24M432 570h24M432 582h12M420 594h24M420 606h24M432 618h12M432 630h12"/>
<path stroke="#00dbff" d="M552 210h12M588 210h12M540 222h12M588 222h12M588 234h12M600 246h12M612 258h24M624 270h12M240 450h12M336 450h108M276 462h48M384 462h84M408 474h84M432 486h60M444 498h60M444 510h48M444 522h48M444 534h36M456 546h24M456 558h12M456 570h12M444 582h24M444 594h24M444 606h24M444 618h24M444 630h24"/>
<path stroke="#00dfff" d="M576 198h12M564 210h24M552 222h36M528 234h60M516 246h84M492 258h24M576 258h36M480 270h12M600 270h24M612 282h24M624 294h12M624 390h12M624 402h12M612 414h24M372 426h96M612 426h24M336 438h156M600 438h36M252 450h12M312 450h24M444 450h84M612 450h24M468 462h72M492 474h60M492 486h60M504 498h36M492 510h48M492 522h48M480 534h48M480 546h36M468 558h36M468 570h24M468 582h24M468 594h24M468 606h24M468 618h24M468 630h24"/>
<path stroke="#00e3ff" d="M516 258h60M492 270h108M468 282h48M576 282h36M444 294h36M588 294h36M600 306h36M600 318h36M600 330h36M600 342h36M600 354h36M588 366h48M576 378h60M564 390h60M384 402h96M552 402h72M360 414h252M336 426h36M468 426h144M312 438h24M492 438h108M264 450h48M528 450h84M540 462h96M552 474h84M552 486h84M540 498h96M540 510h60M540 522h36M528 534h36M516 546h36M504 558h36M492 570h36M492 582h24M492 594h12M492 606h12M492 618h12M492 630h12"/>
<path stroke="#00e7ff" d="M588 198h12M516 282h60M480 294h108M432 306h168M420 318h180M396 330h84M540 330h60M396 342h72M540 342h60M396 354h72M528 354h72M384 366h204M372 378h204M360 390h204M348 402h36M480 402h72M336 414h24M324 426h12M300 438h12M600 510h36M576 522h60M564 534h60M552 546h36M540 558h36M528 570h36M516 582h36M504 594h36M504 606h24M504 618h24M504 630h12"/>
<path stroke="#00ebff" d="M588 186h12M480 330h60M384 342h12M468 342h72M372 354h24M468 354h60M360 366h24M348 378h24M336 390h24M336 402h12M324 414h12M312 426h12M624 534h12M588 546h48M576 558h60M564 570h36M552 582h36M540 594h36M528 606h36M528 618h24M516 630h24"/>
<path stroke="#00efff" d="M336 378h12M324 390h12M324 402h12M312 414h12M300 426h12M264 438h12M288 438h12M600 570h36M588 582h48M576 594h48M564 606h36M552 618h36M540 630h36"/>
<path stroke="#00f3ff" d="M312 402h12M300 414h12M288 426h12M276 438h12M624 594h12M600 606h36M588 618h48M576 630h48"/>
<path stroke="#00f7ff" d="M288 414h12M624 630h12"/>
<path stroke="#00fbff" d="M276 426h12"/>
</g></g>
<g clip-path="url(#cc6)"><g filter="url(#bl12)" stroke-width="12.3">
<path stroke="#0040ff" d="M108 594h12"/>
<path stroke="#004cff" d="M96 594h12M108 606h12"/>
<path stroke="#005cff" d="M96 606h12"/>
<path stroke="#006cff" d="M96 618h12"/>
<path stroke="#008fff" d="M84 606h12"/>
<path stroke="#0093ff" d="M60 558h12"/>
<path stroke="#0097ff" d="M60 570h24"/>
<path stroke="#00abff" d="M48 546h12"/>
<path stroke="#00afff" d="M48 558h12"/>
<path stroke="#00b3ff" d="M60 582h12"/>
<path stroke="#00b7ff" d="M48 570h12M72 582h12"/>
<path stroke="#00c3ff" d="M48 582h12"/>
<path stroke="#00c7ff" d="M36 534h12M36 546h12M84 582h12M84 630h12"/>
<path stroke="#00cbff" d="M36 558h12M60 594h24M84 618h12"/>
<path stroke="#00cfff" d="M72 630h12"/>
<path stroke="#00d3ff" d="M36 570h12M48 594h12M60 606h12M72 618h12"/>
<path stroke="#00d7ff" d="M36 582h12M72 606h12M60 618h12"/>
<path stroke="#00dbff" d="M48 606h12M60 630h12"/>
<path stroke="#00dfff" d="M36 594h12M48 618h12"/>
<path stroke="#00e3ff" d="M24 522h12M24 534h12M24 546h12M84 594h12M48 630h12"/>
<path stroke="#00e7ff" d="M24 558h12M36 606h12"/>
<path stroke="#00ebff" d="M24 570h12M36 618h12M36 630h12"/>
<path stroke="#00efff" d="M24 582h12M24 594h12"/>
<path stroke="#00f3ff" d="M24 606h12"/>
<path stroke="#00f7ff" d="M24 618h12M24 630h12"/>
<path stroke="#00fbff" d="M12 510h12M12 522h12M12 534h12"/>
<path stroke="#00ffff" d="M12 546h12M12 558h12M12 606h12M12 618h12M12 630h12"/>
<path stroke="#04fffb" d="M12 570h12M12 582h12M12 594h12"/>
<path stroke="#0cfff3" d="M0 618h12M0 630h12"/>
<path stroke="#10ffef" d="M0 606h12"/>
<path stroke="#14ffeb" d="M0 522h12M0 534h12M0 546h12M0 558h12M0 570h12M0 582h12M0 594h12M-12 630h12"/>
<path stroke="#18ffe7" d="M0 498h12M0 510h12M-12 618h12"/>
<path stroke="#1cffe3" d="M-12 606h12"/>
<path stroke="#20ffdf" d="M-12 594h12M-24 630h12"/>
<path stroke="#24ffdb" d="M-12 582h12M-24 618h12"/>
<path stroke="#28ffd7" d="M-12 534h12M-12 546h12M-12 558h12M-12 570h12M-24 606h12"/>
<path stroke="#2cffd3" d="M-12 510h12M-12 522h12"/>
<path stroke="#30ffcf" d="M-24 594h12"/>
<path stroke="#34ffcb" d="M-24 582h12"/>
<path stroke="#38ffc7" d="M-24 558h12M-24 570h12"/>
<path stroke="#3cffc3" d="M-24 534h12M-24 546h12"/>
<path stroke="#40ffbf" d="M-24 522h12"/>
</g></g>
<g clip-path="url(#cc7)"><g filter="url(#bl12)" stroke-width="12.3">
<path stroke="#00e3ff" d="M24 522h12M24 534h12"/>
<path stroke="#00fbff" d="M12 510h12M12 522h12M12 534h12"/>
<path stroke="#00ffff" d="M12 546h12"/>
<path stroke="#14ffeb" d="M0 522h12M0 534h12M0 546h12M0 558h12"/>
<path stroke="#18ffe7" d="M0 498h12M0 510h12"/>
<path stroke="#28ffd7" d="M-12 534h12M-12 546h12M-12 558h12"/>
<path stroke="#2cffd3" d="M-12 498h12M-12 510h12M-12 522h12"/>
<path stroke="#38ffc7" d="M-24 558h12"/>
<path stroke="#3cffc3" d="M-24 534h12M-24 546h12"/>
<path stroke="#40ffbf" d="M-24 498h12M-24 510h12M-24 522h12"/>
</g></g>
<g clip-path="url(#cc8)"><g filter="url(#bl12)" stroke-width="12.3">
<path stroke="#0000d7" d="M168 534h12M180 546h12"/>
<path stroke="#0000df" d="M168 546h12"/>
<path stroke="#0000e3" d="M156 534h12"/>
<path stroke="#0000e7" d="M168 558h12"/>
<path stroke="#0000eb" d="M144 522h12M156 546h12"/>
<path stroke="#0000ef" d="M144 534h12"/>
<path stroke="#0000f3" d="M132 510h12M156 558h12"/>
<path stroke="#0000f7" d="M144 546h12"/>
<path stroke="#0000fb" d="M132 522h12"/>
<path stroke="#0000ff" d="M132 534h12M144 558h12M156 570h12"/>
<path stroke="#0004ff" d="M120 498h12"/>
<path stroke="#0008ff" d="M120 510h12M132 546h12"/>
<path stroke="#000cff" d="M144 570h12"/>
<path stroke="#0010ff" d="M120 522h12M132 558h12"/>
<path stroke="#0014ff" d="M120 534h12M144 582h12"/>
<path stroke="#0018ff" d="M108 498h12M132 570h12"/>
<path stroke="#001cff" d="M120 546h12"/>
<path stroke="#0020ff" d="M108 510h12M120 558h12M132 582h12"/>
<path stroke="#0024ff" d="M108 522h12M72 618h12"/>
<path stroke="#0028ff" d="M108 534h12M120 570h12"/>
<path stroke="#002cff" d="M96 486h12M120 582h12M132 594h12"/>
<path stroke="#0030ff" d="M108 546h12"/>
<path stroke="#0034ff" d="M96 498h12M108 558h12"/>
<path stroke="#0038ff" d="M96 510h12M108 570h12M120 594h12"/>
<path stroke="#003cff" d="M96 522h12M108 582h12"/>
<path stroke="#0040ff" d="M96 534h12M108 594h12"/>
<path stroke="#0044ff" d="M84 474h12M96 546h12"/>
<path stroke="#0048ff" d="M96 558h12M96 570h12"/>
<path stroke="#004cff" d="M96 582h12M96 594h12M72 606h12M108 606h12"/>
<path stroke="#0054ff" d="M84 486h12M84 522h12M84 594h12"/>
<path stroke="#0058ff" d="M72 462h12M84 510h12M84 534h12"/>
<path stroke="#005cff" d="M84 498h12M84 546h12M84 558h12M84 570h12M84 582h12M96 606h12"/>
<path stroke="#0064ff" d="M72 594h12"/>
<path stroke="#006cff" d="M96 618h12"/>
<path stroke="#0070ff" d="M72 474h12M72 534h12M60 606h12"/>
<path stroke="#0074ff" d="M72 522h12M72 546h12M72 582h12"/>
<path stroke="#0078ff" d="M72 558h12M72 570h12"/>
<path stroke="#007cff" d="M60 462h12"/>
<path stroke="#0080ff" d="M72 510h12"/>
<path stroke="#0087ff" d="M72 486h12M72 498h12M60 534h12"/>
<path stroke="#008bff" d="M60 594h12"/>
<path stroke="#008fff" d="M60 546h12M84 606h12"/>
<path stroke="#0093ff" d="M60 558h12"/>
<path stroke="#0097ff" d="M60 522h12M60 570h12M60 582h12"/>
<path stroke="#009fff" d="M48 606h12"/>
<path stroke="#00a3ff" d="M60 510h12"/>
<path stroke="#00a7ff" d="M48 462h12M48 534h12"/>
<path stroke="#00abff" d="M48 546h12"/>
<path stroke="#00afff" d="M48 522h12M48 558h12"/>
<path stroke="#00b3ff" d="M60 474h12"/>
<path stroke="#00b7ff" d="M60 498h12M48 570h12"/>
<path stroke="#00bbff" d="M48 510h12M48 594h12"/>
<path stroke="#00c3ff" d="M48 582h12"/>
<path stroke="#00c7ff" d="M36 534h12M36 546h12M84 630h12"/>
<path stroke="#00cbff" d="M36 522h12M36 558h12M84 618h12"/>
<path stroke="#00cfff" d="M60 486h12M36 498h12M36 510h12"/>
<path stroke="#00d3ff" d="M36 570h12"/>
<path stroke="#00d7ff" d="M36 486h12M48 498h12M36 582h12"/>
<path stroke="#00dfff" d="M36 594h12"/>
<path stroke="#00e3ff" d="M24 498h12M24 510h12M24 522h12M24 534h12M24 546h12"/>
<path stroke="#00e7ff" d="M24 558h12"/>
<path stroke="#00ebff" d="M24 570h12"/>
<path stroke="#00efff" d="M24 582h12"/>
<path stroke="#00f7ff" d="M24 486h12"/>
<path stroke="#00fbff" d="M12 510h12M12 522h12M12 534h12"/>
<path stroke="#00ffff" d="M12 498h12M12 546h12M12 558h12"/>
<path stroke="#04fffb" d="M12 570h12"/>
<path stroke="#0cfff3" d="M48 486h12"/>
<path stroke="#14ffeb" d="M0 522h12M0 534h12M0 546h12M0 558h12"/>
<path stroke="#18ffe7" d="M0 498h12M0 510h12"/>
<path stroke="#20ffdf" d="M36 474h24"/>
<path stroke="#28ffd7" d="M-12 534h12M-12 546h12"/>
<path stroke="#2cffd3" d="M-12 510h12M-12 522h12"/>
<path stroke="#3cffc3" d="M-24 534h12"/>
<path stroke="#40ffbf" d="M-24 522h12"/>
</g></g>
<g clip-path="url(#cc8p0)"><g filter="url(#bl4)" stroke-width="4.3">
<path stroke="#0034ff" d="M100 502h4M100 506h4"/>
<path stroke="#0038ff" d="M100 510h4M100 514h4"/>
<path stroke="#003cff" d="M100 518h4M100 522h4M100 526h4"/>
<path stroke="#0040ff" d="M96 498h4M96 502h4M96 510h4M96 514h4"/>
<path stroke="#0044ff" d="M96 506h4M96 518h4M96 522h4"/>
<path stroke="#0048ff" d="M96 526h4"/>
<path stroke="#004cff" d="M92 494h4M92 510h4M92 514h4M92 518h4M92 522h4"/>
<path stroke="#0050ff" d="M92 498h4M92 502h4M92 506h4M92 526h4"/>
<path stroke="#0054ff" d="M88 518h4M88 522h4"/>
<path stroke="#0058ff" d="M88 490h4M88 510h4M88 514h4M88 526h4"/>
<path stroke="#005cff" d="M88 494h4M88 498h4M88 502h4M88 506h4"/>
<path stroke="#0060ff" d="M84 518h4M84 522h4M84 526h4"/>
<path stroke="#0064ff" d="M84 514h4"/>
<path stroke="#0068ff" d="M84 490h4M84 506h4M84 510h4M80 522h4M80 526h4"/>
<path stroke="#006cff" d="M84 494h4M84 498h4M84 502h4M80 518h4"/>
<path stroke="#0070ff" d="M80 514h4M76 526h4"/>
<path stroke="#0074ff" d="M80 486h4M80 506h4M80 510h4M76 522h4"/>
<path stroke="#0078ff" d="M80 490h4M80 498h4M80 502h4M76 518h4"/>
<path stroke="#007cff" d="M80 494h4M76 514h4M72 526h4"/>
<path stroke="#0080ff" d="M76 510h4M72 522h4"/>
<path stroke="#0083ff" d="M76 482h4M76 502h4M76 506h4M72 518h4"/>
<path stroke="#0087ff" d="M76 486h4M76 494h4M76 498h4M72 514h4M68 526h4"/>
<path stroke="#008bff" d="M76 490h4M72 510h4M68 522h4"/>
<path stroke="#008fff" d="M72 478h4M72 506h4M68 518h4M64 526h4"/>
<path stroke="#0093ff" d="M72 502h4M68 514h4"/>
<path stroke="#0097ff" d="M72 494h4M72 498h4M68 510h4M64 522h4"/>
<path stroke="#009bff" d="M72 482h4M68 506h4M64 518h4M60 526h4"/>
<path stroke="#009fff" d="M72 486h4M72 490h4M68 502h4M64 514h4M60 522h4"/>
<path stroke="#00a3ff" d="M68 498h4M64 510h4M60 518h4M56 526h4"/>
<path stroke="#00a7ff" d="M60 514h4M56 522h4"/>
<path stroke="#00abff" d="M68 478h4M68 494h4M64 506h4M56 518h4"/>
<path stroke="#00afff" d="M64 502h4M60 510h4M56 514h4M52 522h4M52 526h4"/>
<path stroke="#00b3ff" d="M64 474h4M68 490h4M52 518h4"/>
<path stroke="#00b7ff" d="M68 482h4M68 486h4M64 498h4M60 506h4M56 510h4M52 514h4M48 526h4"/>
<path stroke="#00bbff" d="M60 502h4M56 506h4M52 510h4M48 518h4M48 522h4"/>
<path stroke="#00bfff" d="M64 494h4M48 514h4M44 526h4"/>
<path stroke="#00c3ff" d="M52 506h4M48 510h4M44 518h4M44 522h4"/>
<path stroke="#00c7ff" d="M64 490h4M60 498h4M56 502h4M48 506h4M44 510h4M44 514h4M40 526h4"/>
<path stroke="#00cbff" d="M52 502h4M44 506h4M40 514h4M40 518h4M40 522h4"/>
<path stroke="#00cfff" d="M64 478h4M64 486h4M40 490h4M40 494h4M60 494h4M40 498h4M40 502h12M40 506h4M40 510h4"/>
<path stroke="#00d3ff" d="M44 494h4M44 498h4M56 498h4M36 506h4M36 510h4M36 514h4M36 518h4M36 522h4M36 526h4"/>
<path stroke="#00d7ff" d="M64 482h4M36 494h4M36 498h4M48 498h8M36 502h4"/>
<path stroke="#00dbff" d="M60 474h4M60 490h4M32 502h4M32 506h4M32 510h4M32 514h4M32 518h4M32 522h4M32 526h4"/>
<path stroke="#00dfff" d="M44 490h4M48 494h4M32 498h4"/>
<path stroke="#00e3ff" d="M60 486h4M52 494h8M28 498h4M28 502h4M28 506h4M28 510h4M28 514h4M28 518h4M28 522h4M28 526h4"/>
<path stroke="#00ebff" d="M60 482h4M44 486h4M48 490h4M56 490h4M24 502h4M24 506h4M24 510h4M24 514h4M24 518h4M24 522h4M24 526h4"/>
<path stroke="#00f3ff" d="M60 478h4M20 506h4M20 510h4M20 514h4M20 518h4M20 522h4M20 526h4"/>
<path stroke="#00f7ff" d="M56 486h4M52 490h4"/>
<path stroke="#00fbff" d="M16 510h4M16 514h4M16 518h4M16 522h4M16 526h4"/>
<path stroke="#00ffff" d="M48 486h4"/>
<path stroke="#04fffb" d="M56 482h4M12 514h4M12 518h4M12 522h4M12 526h4"/>
<path stroke="#08fff7" d="M56 478h4"/>
<path stroke="#0cfff3" d="M52 486h4M8 514h4M8 518h4M8 522h4M8 526h4"/>
<path stroke="#14ffeb" d="M48 482h4M4 518h4M4 522h4M4 526h4"/>
<path stroke="#18ffe7" d="M52 482h4"/>
</g></g>
<g clip-path="url(#cc9)"><g filter="url(#bl12)" stroke-width="12.3">
<path stroke="#0008ff" d="M84 474h12M84 486h12"/>
<path stroke="#0018ff" d="M72 462h12"/>
<path stroke="#0024ff" d="M72 474h12"/>
<path stroke="#0028ff" d="M72 498h12"/>
<path stroke="#002cff" d="M60 462h12M72 486h12"/>
<path stroke="#0048ff" d="M48 462h12"/>
<path stroke="#0058ff" d="M60 474h12"/>
<path stroke="#0078ff" d="M60 486h12"/>
<path stroke="#0080ff" d="M60 498h12"/>
<path stroke="#008bff" d="M60 510h12"/>
<path stroke="#00bbff" d="M48 510h12"/>
<path stroke="#00c7ff" d="M48 498h12"/>
<path stroke="#00cbff" d="M36 522h12"/>
<path stroke="#00cfff" d="M48 474h12M36 486h12M36 498h12M36 510h12"/>
<path stroke="#00dbff" d="M48 486h12"/>
<path stroke="#00e3ff" d="M24 498h12M24 510h12M24 522h12M24 534h12"/>
<path stroke="#00f7ff" d="M36 474h12M24 486h12"/>
<path stroke="#00fbff" d="M12 510h12M12 522h12M12 534h12"/>
<path stroke="#00ffff" d="M12 498h12M12 546h12"/>
<path stroke="#10ffef" d="M12 486h12"/>
<path stroke="#14ffeb" d="M0 522h12M0 534h12M0 546h12M0 558h12"/>
<path stroke="#18ffe7" d="M0 498h12M0 510h12"/>
<path stroke="#20ffdf" d="M0 486h12"/>
<path stroke="#24ffdb" d="M12 474h12"/>
<path stroke="#28ffd7" d="M0 474h12M-12 534h12M-12 546h12"/>
<path stroke="#2cffd3" d="M-12 498h12M-12 510h12M-12 522h12"/>
<path stroke="#30ffcf" d="M-12 486h12"/>
<path stroke="#34ffcb" d="M0 462h12M-12 474h12M24 474h12"/>
<path stroke="#3cffc3" d="M-24 534h12"/>
<path stroke="#40ffbf" d="M12 462h12M-24 486h12M-24 498h12M-24 510h12M-24 522h12"/>
<path stroke="#5cffa3" d="M12 450h12"/>
<path stroke="#83ff7c" d="M24 462h12"/>
<path stroke="#abff54" d="M24 450h12"/>
<path stroke="#c3ff3c" d="M36 438h12"/>
<path stroke="#f7ff08" d="M48 450h12"/>
<path stroke="#ffff00" d="M36 450h12"/>
<path stroke="#ffef00" d="M36 462h12"/>
</g></g>
<g clip-path="url(#cc9p0)"><g filter="url(#bl4)" stroke-width="4.3">
<path stroke="#0038ff" d="M72 478h4"/>
<path stroke="#003cff" d="M72 482h4"/>
<path stroke="#0048ff" d="M52 462h4"/>
<path stroke="#004cff" d="M56 466h4M68 478h4"/>
<path stroke="#0054ff" d="M68 482h4M68 486h4"/>
<path stroke="#0058ff" d="M52 466h4M60 470h4M64 474h4"/>
<path stroke="#006cff" d="M56 470h4M64 478h4"/>
<path stroke="#0074ff" d="M64 482h4"/>
<path stroke="#0078ff" d="M60 474h4M64 486h4"/>
<path stroke="#007cff" d="M64 490h4"/>
<path stroke="#008fff" d="M48 466h4"/>
<path stroke="#0093ff" d="M48 462h4M60 478h4"/>
<path stroke="#0097ff" d="M52 470h4M60 482h4"/>
<path stroke="#009bff" d="M60 486h4M60 490h4M60 494h4"/>
<path stroke="#009fff" d="M56 474h4"/>
<path stroke="#00b7ff" d="M56 478h4"/>
<path stroke="#00bbff" d="M44 466h4M56 482h4M56 486h4M56 490h4M56 494h4"/>
<path stroke="#00c7ff" d="M52 498h4"/>
<path stroke="#00cbff" d="M52 494h4M44 506h4"/>
<path stroke="#00cfff" d="M52 474h4M40 482h4M40 486h4M40 490h4M52 490h4M40 494h4M48 494h4M40 498h4M40 502h12M40 506h4M40 510h4"/>
<path stroke="#00d3ff" d="M44 486h4M44 490h8M44 494h4M44 498h8M36 506h4M36 510h4"/>
<path stroke="#00d7ff" d="M40 478h4M44 482h4M36 486h4M36 490h4M36 494h4M36 498h4M36 502h4"/>
<path stroke="#00dbff" d="M52 478h4M52 482h4M48 486h8M32 502h4M32 506h4M32 510h4M32 514h4"/>
<path stroke="#00dfff" d="M44 478h4M36 482h4M32 490h4M32 494h4M32 498h4"/>
<path stroke="#00e3ff" d="M28 498h4M28 502h4M28 506h4M28 510h4M28 514h4M28 518h4"/>
<path stroke="#00e7ff" d="M48 470h4M44 474h4M48 482h4M32 486h4M28 494h4"/>
<path stroke="#00ebff" d="M28 490h4M24 498h4M24 502h4M24 506h4M24 510h4M24 514h4M24 518h4M24 522h4"/>
<path stroke="#00f3ff" d="M36 478h4M32 482h4M24 494h4M20 502h4M20 506h4M20 510h4M20 514h4M20 518h4M20 522h4M20 526h4"/>
<path stroke="#00f7ff" d="M40 474h4M28 486h4M24 490h4M20 498h4"/>
<path stroke="#00fbff" d="M48 478h4M20 494h4M16 506h4M16 510h4M16 514h4M16 518h4M16 522h4M16 526h4"/>
<path stroke="#00ffff" d="M48 474h4M24 486h4M16 498h4M16 502h4"/>
<path stroke="#04fffb" d="M28 482h4M20 490h4M16 494h4M12 510h4M12 514h4M12 518h4M12 522h4M12 526h4"/>
<path stroke="#08fff7" d="M32 478h4M16 490h4M12 502h4M12 506h4"/>
<path stroke="#0cfff3" d="M20 486h4M12 494h4M12 498h4M8 514h4M8 518h4M8 522h4M8 526h4"/>
<path stroke="#10ffef" d="M24 482h4M16 486h4M12 490h4M8 498h4M8 502h4M8 506h4M8 510h4"/>
<path stroke="#14ffeb" d="M36 474h4M16 482h8M12 486h4M8 490h4M8 494h4M4 514h4M4 518h4M4 522h4M4 526h4"/>
<path stroke="#18ffe7" d="M12 482h4M8 486h4M4 498h4M4 502h4M4 506h4M4 510h4"/>
<path stroke="#1cffe3" d="M16 478h16M8 482h4M4 490h4M4 494h4M0 506h4M0 510h4M0 514h4M0 518h4M0 522h4M0 526h4"/>
<path stroke="#20ffdf" d="M8 478h8M4 482h4M4 486h4M0 494h4M0 498h4M0 502h4"/>
<path stroke="#24ffdb" d="M12 474h8M4 478h4M0 486h4M0 490h4M-4 502h4M-4 506h4M-4 510h4M-4 514h4M-4 518h4M-4 522h4M-4 526h4"/>
<path stroke="#28ffd7" d="M40 470h8M20 474h4M0 482h4M-4 490h4M-4 494h4M-4 498h4"/>
<path stroke="#2cffd3" d="M24 474h4M32 474h4M-4 486h4M-8 498h4M-8 502h4M-8 506h4M-8 510h4M-8 514h4M-8 518h4M-8 522h4M-8 526h4"/>
<path stroke="#30ffcf" d="M16 470h4M-8 490h4M-8 494h4"/>
<path stroke="#34ffcb" d="M20 470h4M28 474h4"/>
<path stroke="#3cffc3" d="M24 470h4"/>
<path stroke="#40ffbf" d="M20 466h4"/>
<path stroke="#4cffb3" d="M28 470h4"/>
<path stroke="#50ffaf" d="M24 466h4M36 470h4"/>
<path stroke="#5cffa3" d="M32 470h4"/>
<path stroke="#68ff97" d="M28 466h4"/>
<path stroke="#83ff7c" d="M28 462h4M32 466h4"/>
<path stroke="#97ff68" d="M40 466h4"/>
<path stroke="#abff54" d="M36 466h4"/>
<path stroke="#afff50" d="M32 462h4"/>
<path stroke="#dfff20" d="M32 458h4M44 462h4"/>
<path stroke="#ebff14" d="M36 462h4"/>
<path stroke="#f3ff0c" d="M36 454h4"/>
<path stroke="#ffff00" d="M36 458h4"/>
<path stroke="#ffef00" d="M40 454h4M40 462h4"/>
<path stroke="#ffe700" d="M44 458h4"/>
<path stroke="#ffe300" d="M40 458h4"/>
</g></g>
<g clip-path="url(#cc10)"><g filter="url(#bl12)" stroke-width="12.3">
<path stroke="#000083" d="M300 450h12M288 462h24M288 474h12"/>
<path stroke="#000087" d="M288 450h12M312 450h12"/>
<path stroke="#00008f" d="M288 438h48M276 450h12M276 462h12M276 474h12"/>
<path stroke="#000093" d="M264 474h12"/>
<path stroke="#000097" d="M288 426h60M276 438h12M264 450h12M264 462h12M264 486h12"/>
<path stroke="#00009b" d="M312 414h12M348 426h12M264 438h12M252 462h12M252 474h12M252 486h12"/>
<path stroke="#00009f" d="M288 414h24M324 414h36M276 426h12M252 450h12M252 498h12"/>
<path stroke="#0000a3" d="M300 402h48M276 414h12M360 414h12M264 426h12M252 438h12M240 450h12M240 462h12M240 474h12M240 486h12M240 498h12"/>
<path stroke="#0000a7" d="M288 402h12M348 402h24M264 414h12M252 426h12M240 438h12M228 462h12M228 474h12M228 486h12M228 498h12M240 510h12"/>
<path stroke="#0000ab" d="M288 390h72M276 402h12M372 402h12M228 450h12M216 474h12M216 486h12M228 510h12"/>
<path stroke="#0000af" d="M300 378h60M276 390h12M360 390h24M264 402h12M252 414h12M240 426h12M228 438h12M216 462h12M216 498h12M216 510h12"/>
<path stroke="#0000b3" d="M312 366h36M288 378h12M360 378h12M264 390h12M384 390h12M252 402h12M240 414h12M228 426h12M216 450h12M204 462h12M204 474h12M204 486h12M204 498h12"/>
<path stroke="#0000b7" d="M312 354h36M288 366h24M348 366h24M276 378h12M372 378h24M396 390h12M216 438h12M204 450h12M192 474h12M192 486h12M192 498h12M204 510h12M216 522h12"/>
<path stroke="#0000bb" d="M312 342h48M288 354h24M348 354h24M276 366h12M372 366h24M264 378h12M396 378h12M252 390h12M240 402h12M228 414h12M216 426h12M204 438h12M192 462h12M192 510h12M204 522h12"/>
<path stroke="#0000bf" d="M312 330h48M288 342h24M360 342h24M276 354h12M372 354h24M264 366h12M396 366h12M252 378h12M408 378h12M240 390h12M228 402h12M216 414h12M204 426h12M192 450h12M180 474h12M180 486h12M180 498h12M192 522h12M204 534h12"/>
<path stroke="#0000c3" d="M360 210h24M348 222h24M336 234h12M324 306h36M300 318h72M288 330h24M360 330h24M276 342h12M384 342h12M264 354h12M396 354h12M252 366h12M408 366h12M240 378h12M228 390h12M216 402h12M204 414h12M192 438h12M180 450h12M180 462h12M180 510h12"/>
<path stroke="#0000c7" d="M420 162h12M408 174h12M396 186h12M384 198h24M384 210h12M372 222h24M348 234h36M324 246h60M300 258h72M288 270h84M300 282h72M300 294h84M288 306h36M360 306h24M288 318h12M372 318h24M276 330h12M384 330h24M264 342h12M396 342h12M252 354h12M408 354h12M240 366h12M420 366h12M228 378h12M216 390h12M204 402h12M192 426h12M180 438h12M168 462h12M168 474h12M168 486h12M168 498h12M180 522h12M192 534h12"/>
<path stroke="#0000cb" d="M480 114h12M468 126h12M456 138h12M432 162h12M420 174h12M408 186h24M408 198h12M396 210h24M396 222h12M384 234h24M384 246h24M372 258h24M372 270h24M276 282h24M372 282h24M264 294h36M384 294h12M264 306h24M384 306h24M264 318h24M396 318h12M264 330h12M408 330h12M252 342h12M408 342h12M240 354h12M420 354h12M228 366h12M216 378h12M204 390h12M192 402h12M192 414h12M180 426h12M168 450h12M168 510h12"/>
<path stroke="#0000cf" d="M444 150h12M432 174h12M432 186h12M420 198h12M420 210h12M408 222h24M408 234h12M408 246h12M396 258h24M396 270h24M396 282h24M396 294h24M240 306h24M408 306h12M240 318h24M408 318h12M240 330h24M420 330h12M240 342h12M420 342h12M228 354h12M432 354h12M216 366h12M204 378h12M192 390h12M180 402h12M180 414h12M168 426h12M168 438h12M156 474h12M156 486h12M168 522h12M180 534h12M192 546h12"/>
<path stroke="#0000d3" d="M492 114h12M480 126h12M468 138h12M456 150h12M444 162h12M444 174h12M432 198h12M432 210h12M432 222h12M420 234h12M420 246h12M420 258h12M420 270h12M420 282h12M420 294h12M420 306h12M228 318h12M420 318h12M228 330h12M432 330h12M216 342h24M432 342h12M216 354h12M444 354h12M204 366h12M192 378h12M180 390h12M168 402h12M168 414h12M156 426h12M156 438h12M156 450h12M156 462h12M156 498h12"/>
<path stroke="#0000d7" d="M468 150h12M456 162h12M444 186h12M444 198h12M444 210h12M432 234h12M432 246h12M432 258h12M432 270h12M432 282h12M432 294h12M432 306h12M432 318h12M216 330h12M444 330h12M204 342h12M444 342h12M192 354h24M180 366h24M168 378h24M168 390h12M156 402h12M156 414h12M156 510h12M168 534h12M180 546h12"/>
<path stroke="#0000db" d="M504 114h12M492 126h12M480 138h12M468 162h12M456 174h12M456 186h12M456 198h12M444 222h12M444 234h12M444 246h12M444 258h12M444 270h12M444 282h12M444 294h12M444 306h12M444 318h12M456 330h12M456 342h12M180 354h12M168 366h12M156 378h12M144 390h24M144 402h12M144 414h12M144 426h12M144 438h12M144 450h12M144 462h12M144 474h12M156 522h12"/>
<path stroke="#0000df" d="M504 126h12M492 138h12M480 150h12M468 174h12M468 186h12M456 210h12M456 222h12M456 234h12M456 246h12M456 294h12M456 306h12M456 318h12M468 330h12M132 402h12M132 414h12M132 426h12M132 438h12M144 486h12M144 498h12M168 546h12"/>
<path stroke="#0000e3" d="M492 150h12M480 162h12M480 174h12M468 198h12M468 210h12M468 222h12M456 258h12M456 270h12M456 282h12M468 306h12M468 318h12M120 402h12M120 414h12M132 450h12M132 462h12M144 510h12M156 534h12"/>
<path stroke="#0000e7" d="M516 126h12M504 138h12M492 162h12M480 186h12M480 198h12M468 234h12M468 246h12M468 258h12M468 270h12M468 282h12M468 294h12M480 306h12M480 318h12M120 426h12M120 438h12M132 474h12M168 558h12"/>
<path stroke="#0000eb" d="M504 150h12M492 174h12M492 186h12M480 210h12M480 222h12M480 234h12M480 246h12M480 258h12M480 270h12M480 282h12M480 294h12M108 414h12M120 450h12M132 486h12M144 522h12M156 546h12"/>
<path stroke="#0000ef" d="M528 126h12M516 138h12M504 162h12M492 198h12M492 210h12M492 222h12M492 234h12M492 258h12M492 270h12M492 282h12M492 294h12M492 306h12M108 426h12M108 438h12M132 498h12M144 534h12"/>
<path stroke="#0000f3" d="M516 150h12M504 174h12M504 186h12M504 198h12M492 246h12M504 282h12M504 294h12M504 306h12M96 426h12M120 462h12M132 510h12M156 558h12"/>
<path stroke="#0000f7" d="M528 138h12M516 162h12M516 174h12M504 210h12M504 222h12M504 234h12M504 246h12M504 258h12M504 270h12M516 294h12M108 450h12M120 474h12M144 546h12"/>
<path stroke="#0000fb" d="M528 150h12M516 186h12M516 198h12M516 210h12M516 222h12M516 234h12M516 246h12M516 258h12M516 270h12M516 282h12M96 438h12M120 486h12M132 522h12"/>
<path stroke="#0000ff" d="M540 138h12M528 162h12M528 174h12M528 246h12M528 258h12M528 270h12M528 282h12M132 534h12M144 558h12M156 570h12"/>
<path stroke="#0004ff" d="M540 150h12M528 186h12M528 198h12M528 210h12M528 222h12M528 234h12M540 258h12M540 270h12M108 462h12M120 498h12"/>
<path stroke="#0008ff" d="M540 162h12M540 174h12M540 186h12M540 198h12M540 210h12M540 222h12M540 234h12M540 246h12M552 258h12M552 270h12M108 474h12M120 510h12M132 546h12"/>
<path stroke="#000cff" d="M552 150h12M552 222h12M552 234h12M552 246h12M564 258h12M96 450h12M144 570h12"/>
<path stroke="#0010ff" d="M552 162h12M552 174h12M552 186h12M552 198h12M552 210h12M564 222h12M564 234h12M564 246h24M108 486h12M120 522h12M132 558h12"/>
<path stroke="#0014ff" d="M564 210h12M600 210h12M576 222h12M600 222h24M576 234h36M84 438h12M120 534h12"/>
<path stroke="#0018ff" d="M564 150h12M564 198h12M576 210h12M588 222h12M96 462h12M108 498h12"/>
<path stroke="#001cff" d="M564 162h12M564 174h12M564 186h12M588 210h12M120 546h12"/>
<path stroke="#0020ff" d="M576 198h12M108 510h12M120 558h12"/>
<path stroke="#0024ff" d="M576 162h12M576 174h12M576 186h12M84 450h12M96 474h12M108 522h12"/>
<path stroke="#0028ff" d="M588 198h12M108 534h12"/>
<path stroke="#002cff" d="M96 486h12"/>
<path stroke="#0030ff" d="M588 174h12M588 186h12M108 546h12"/>
<path stroke="#0034ff" d="M96 498h12"/>
<path stroke="#0038ff" d="M84 462h12M96 510h12"/>
<path stroke="#003cff" d="M96 522h12"/>
<path stroke="#0040ff" d="M600 198h12M72 450h12M96 534h12"/>
<path stroke="#0044ff" d="M600 186h12M84 474h12"/>
<path stroke="#0054ff" d="M612 186h12M60 450h12M84 486h12M84 522h12"/>
<path stroke="#0058ff" d="M72 462h12M84 510h12"/>
<path stroke="#005cff" d="M84 498h12"/>
<path stroke="#0070ff" d="M72 474h12"/>
<path stroke="#0074ff" d="M72 522h12"/>
<path stroke="#007cff" d="M60 462h12"/>
<path stroke="#0080ff" d="M72 510h12"/>
<path stroke="#0087ff" d="M72 486h12M72 498h12"/>
<path stroke="#008fff" d="M48 462h12"/>
<path stroke="#00a3ff" d="M60 510h12"/>
<path stroke="#00b3ff" d="M612 198h12M60 474h12"/>
<path stroke="#00b7ff" d="M624 198h12M60 498h12"/>
<path stroke="#00c3ff" d="M624 210h12"/>
<path stroke="#00c7ff" d="M612 210h12"/>
<path stroke="#00cfff" d="M60 486h12"/>
<path stroke="#00d7ff" d="M36 486h12M48 498h12"/>
<path stroke="#00f3ff" d="M36 474h12"/>
<path stroke="#0cfff3" d="M48 486h12"/>
<path stroke="#20ffdf" d="M48 474h12"/>
</g></g>
<g clip-path="url(#cc10p0)"><g filter="url(#bl4)" stroke-width="4.3">
<path stroke="#0008ff" d="M100 446h4"/>
<path stroke="#000cff" d="M100 450h4"/>
<path stroke="#0010ff" d="M96 446h4M100 454h4"/>
<path stroke="#0014ff" d="M96 450h4M100 458h4"/>
<path stroke="#0018ff" d="M96 454h4M100 462h4"/>
<path stroke="#001cff" d="M92 450h4M100 466h4"/>
<path stroke="#0020ff" d="M92 454h4M96 458h4M100 470h4"/>
<path stroke="#0024ff" d="M96 462h4M100 474h4"/>
<path stroke="#0028ff" d="M92 458h4M96 466h4M100 478h4"/>
<path stroke="#002cff" d="M88 454h4M92 462h4M96 470h4M100 482h4M100 486h4"/>
<path stroke="#0030ff" d="M88 458h4M92 466h4M96 474h4M96 478h4M100 490h4"/>
<path stroke="#0034ff" d="M84 454h4M92 470h4M96 482h4M100 494h4M100 498h4M100 502h4M100 506h4"/>
<path stroke="#0038ff" d="M88 462h4M92 474h4M96 486h4M100 510h4M100 514h4"/>
<path stroke="#003cff" d="M84 458h4M88 466h4M92 478h4M96 490h4"/>
<path stroke="#0040ff" d="M84 462h4M88 470h4M92 482h4M96 494h4M96 498h4M96 502h4M96 510h4M96 514h4"/>
<path stroke="#0044ff" d="M80 458h4M88 474h4M92 486h4M96 506h4"/>
<path stroke="#0048ff" d="M84 466h4M88 478h4M92 490h4"/>
<path stroke="#004cff" d="M80 462h4M84 470h4M88 482h4M92 494h4M92 510h4M92 514h4"/>
<path stroke="#0050ff" d="M84 474h4M92 498h4M92 502h4M92 506h4"/>
<path stroke="#0054ff" d="M80 466h4M84 478h4M88 486h4"/>
<path stroke="#0058ff" d="M76 462h4M88 490h4M88 510h4"/>
<path stroke="#005cff" d="M80 470h4M84 482h4M88 494h4M88 498h4M88 502h4M88 506h4"/>
<path stroke="#0060ff" d="M80 474h4"/>
<path stroke="#0064ff" d="M76 466h4M80 478h4M84 486h4"/>
<path stroke="#0068ff" d="M84 490h4M84 506h4"/>
<path stroke="#006cff" d="M76 470h4M80 482h4M84 494h4M84 498h4M84 502h4"/>
<path stroke="#0070ff" d="M72 466h4M76 474h4"/>
<path stroke="#0074ff" d="M80 486h4"/>
<path stroke="#0078ff" d="M76 478h4M80 490h4M80 498h4M80 502h4"/>
<path stroke="#007cff" d="M72 470h4M80 494h4"/>
<path stroke="#0080ff" d="M68 466h4"/>
<path stroke="#0083ff" d="M72 474h4M76 482h4M76 502h4"/>
<path stroke="#0087ff" d="M76 486h4M76 494h4M76 498h4"/>
<path stroke="#008bff" d="M68 470h4M76 490h4"/>
<path stroke="#008fff" d="M72 478h4"/>
<path stroke="#0097ff" d="M68 474h4M72 494h4M72 498h4"/>
<path stroke="#009bff" d="M72 482h4"/>
<path stroke="#009fff" d="M64 470h4M72 486h4M72 490h4"/>
<path stroke="#00abff" d="M68 478h4M68 494h4"/>
<path stroke="#00b3ff" d="M64 474h4M68 490h4"/>
<path stroke="#00b7ff" d="M68 482h4M68 486h4"/>
<path stroke="#00c7ff" d="M64 490h4"/>
<path stroke="#00cfff" d="M64 478h4M64 486h4"/>
<path stroke="#00d7ff" d="M64 482h4"/>
<path stroke="#00dbff" d="M60 474h4"/>
<path stroke="#00e3ff" d="M60 486h4"/>
<path stroke="#00ebff" d="M60 482h4"/>
<path stroke="#00f3ff" d="M60 478h4"/>
<path stroke="#00f7ff" d="M56 486h4"/>
<path stroke="#04fffb" d="M56 482h4"/>
<path stroke="#08fff7" d="M56 478h4"/>
<path stroke="#18ffe7" d="M52 482h4"/>
</g></g>
<g clip-path="url(#cc11)"><g filter="url(#bl12)" stroke-width="12.3">
<path stroke="#0000a7" d="M444 126h12"/>
<path stroke="#0000b7" d="M468 114h12M456 126h12"/>
<path stroke="#0000bb" d="M432 138h12"/>
<path stroke="#0000bf" d="M480 102h12M444 138h12M348 198h12M336 210h12"/>
<path stroke="#0000c3" d="M420 150h12M396 162h24M384 174h24M372 186h24M360 198h24M348 210h36M324 222h48M300 234h48M300 318h12M288 330h12"/>
<path stroke="#0000c7" d="M432 150h12M420 162h12M408 174h12M396 186h12M384 198h24M384 210h12M372 222h24M348 234h36M288 246h96M276 258h96M276 270h96M300 282h60M300 294h36M288 306h36M288 318h12M276 330h12M264 342h12M252 354h12M240 366h12"/>
<path stroke="#0000cb" d="M492 102h12M480 114h12M468 126h12M456 138h12M432 162h12M420 174h12M408 186h24M408 198h12M396 210h24M396 222h12M384 234h24M384 246h12M372 258h12M252 270h24M252 282h48M264 294h36M264 306h24M264 318h24M264 330h12M252 342h12M240 354h12M228 366h12M216 378h12M204 390h12M192 402h12M24 474h12"/>
<path stroke="#0000cf" d="M444 150h12M432 174h12M432 186h12M420 198h12M420 210h12M408 222h24M408 234h12M240 282h12M240 294h24M240 306h24M240 318h24M240 330h24M240 342h12M228 354h12M216 366h12M204 378h12M192 390h12M180 402h12M180 414h12"/>
<path stroke="#0000d3" d="M492 114h12M480 126h12M468 138h12M456 150h12M444 162h12M444 174h12M432 198h12M432 210h12M228 294h12M228 306h12M228 318h12M228 330h12M216 342h24M216 354h12M204 366h12M192 378h12M180 390h12M168 402h12M168 414h12M156 426h12"/>
<path stroke="#0000d7" d="M468 150h12M456 162h12M444 186h12M444 198h12M204 306h24M204 318h24M204 330h24M204 342h12M192 354h24M180 366h24M168 378h24M168 390h12M156 402h12M156 414h12"/>
<path stroke="#0000db" d="M504 114h12M492 126h12M480 138h12M468 162h12M456 174h12M456 186h12M192 318h12M180 330h24M180 342h24M168 354h24M168 366h12M156 378h12M144 390h24M144 402h12M144 414h12M144 426h12M144 438h12"/>
<path stroke="#0000df" d="M504 126h12M492 138h12M480 150h12M468 174h12M468 186h12M156 342h24M156 354h12M144 366h24M144 378h12M132 390h12M132 402h12M132 414h12M132 426h12M132 438h12"/>
<path stroke="#0000e3" d="M492 150h12M480 162h12M480 174h12M144 354h12M132 366h12M132 378h12M120 390h12M120 402h12M120 414h12M132 450h12M36 462h12"/>
<path stroke="#0000e7" d="M516 126h12M504 138h12M492 162h12M120 378h12M120 426h12M120 438h12M24 462h12"/>
<path stroke="#0000eb" d="M504 150h12M108 378h12M108 390h12M108 402h12M108 414h12M120 450h12"/>
<path stroke="#0000ef" d="M528 126h12M516 138h12M96 390h12M108 426h12M108 438h12"/>
<path stroke="#0000f3" d="M96 402h12M96 414h12M96 426h12M108 462h24M12 474h12"/>
<path stroke="#0000f7" d="M528 138h12M96 438h12M108 450h12M96 474h12"/>
<path stroke="#0000fb" d="M84 402h12M84 414h12M84 426h12M24 450h24M96 450h12M96 462h12"/>
<path stroke="#0000ff" d="M84 438h12M84 450h12M12 462h12"/>
<path stroke="#0004ff" d="M72 414h12M72 426h12M36 438h12"/>
<path stroke="#0008ff" d="M60 414h12M60 426h12M48 438h12M72 438h12M84 462h12M84 474h12M84 486h12"/>
<path stroke="#000cff" d="M48 426h12M60 438h12M12 450h12M48 450h12M72 450h12"/>
<path stroke="#0010ff" d="M60 450h12"/>
<path stroke="#0018ff" d="M72 462h12"/>
<path stroke="#0024ff" d="M72 474h12"/>
<path stroke="#0028ff" d="M72 498h12"/>
<path stroke="#002cff" d="M48 462h24M72 486h12"/>
<path stroke="#0058ff" d="M60 474h12"/>
<path stroke="#0078ff" d="M60 486h12"/>
<path stroke="#0080ff" d="M60 498h12"/>
<path stroke="#008bff" d="M60 510h12"/>
<path stroke="#00c7ff" d="M48 498h12"/>
<path stroke="#00cbff" d="M36 474h12"/>
<path stroke="#00cfff" d="M48 474h12M36 486h12"/>
<path stroke="#00dbff" d="M48 486h12"/>
</g></g>
<g clip-path="url(#cc11p0)"><g filter="url(#bl4)" stroke-width="4.3">
<path stroke="#00009b" d="M40 470h4"/>
<path stroke="#0000b3" d="M36 470h4"/>
<path stroke="#0000bf" d="M40 466h4"/>
<path stroke="#0000c7" d="M36 466h4"/>
<path stroke="#0000d3" d="M32 466h4"/>
<path stroke="#0000db" d="M36 462h4"/>
<path stroke="#0000df" d="M32 462h4"/>
<path stroke="#0000e3" d="M40 462h4"/>
<path stroke="#0000e7" d="M28 462h4"/>
<path stroke="#0000eb" d="M32 458h8"/>
<path stroke="#0000ef" d="M40 458h4"/>
<path stroke="#0000f3" d="M100 418h4M100 422h4M100 426h4M36 454h4"/>
<path stroke="#0000f7" d="M92 418h8M96 422h4M96 426h4M96 430h8M96 434h8M100 438h4M100 442h4M100 446h4M40 454h4"/>
<path stroke="#0000fb" d="M88 418h4M88 422h8M88 426h8M88 430h8M92 434h4M92 438h8M92 442h8M92 446h8M96 450h8M44 454h4M96 454h8M44 458h4M96 458h8M44 462h4M96 462h8"/>
<path stroke="#0000ff" d="M84 418h4M80 422h8M80 426h8M80 430h8M84 434h8M84 438h8M88 442h4M88 446h4M44 450h4M88 450h8M92 454h4M92 458h4M92 462h4"/>
<path stroke="#0004ff" d="M76 426h4M72 430h8M76 434h8M80 438h4M80 442h8M48 446h4M84 446h4M48 450h4M84 450h4M88 454h4M88 458h4M92 466h4"/>
<path stroke="#0008ff" d="M68 430h4M64 434h12M68 438h12M52 442h4M72 442h8M52 446h4M76 446h8M80 450h4M48 454h4M84 454h4M84 458h4M88 462h4M88 466h4M88 470h4"/>
<path stroke="#000cff" d="M60 438h8M56 442h16M56 446h8M68 446h8M52 450h4M76 450h4M80 454h4M48 458h4M84 462h4M84 466h4"/>
<path stroke="#0010ff" d="M64 446h4M56 450h20M52 454h4M72 454h8M80 458h4M80 462h4M84 470h4M84 474h4"/>
<path stroke="#0014ff" d="M56 454h4M68 454h4M76 458h4M80 466h4"/>
<path stroke="#0018ff" d="M60 454h8M52 458h4M72 458h4M76 462h4M80 470h4M80 474h4M80 478h4"/>
<path stroke="#001cff" d="M56 458h4M64 458h8M76 466h4"/>
<path stroke="#0020ff" d="M60 458h4M48 462h4M72 462h4M76 470h4"/>
<path stroke="#0024ff" d="M68 462h4M72 466h4M76 474h4"/>
<path stroke="#0028ff" d="M76 478h4"/>
<path stroke="#002cff" d="M52 462h4M60 462h8M72 470h4"/>
<path stroke="#0030ff" d="M56 462h4M44 466h4M68 466h4M72 474h4"/>
<path stroke="#0038ff" d="M64 466h4M68 470h4M72 478h4"/>
<path stroke="#003cff" d="M72 482h4"/>
<path stroke="#0040ff" d="M68 474h4"/>
<path stroke="#0044ff" d="M60 466h4"/>
<path stroke="#0048ff" d="M64 470h4"/>
<path stroke="#004cff" d="M56 466h4M68 478h4"/>
<path stroke="#0054ff" d="M68 482h4M68 486h4"/>
<path stroke="#0058ff" d="M52 466h4M60 470h4M64 474h4"/>
<path stroke="#0060ff" d="M48 466h4"/>
<path stroke="#006cff" d="M56 470h4M64 478h4"/>
<path stroke="#0074ff" d="M64 482h4"/>
<path stroke="#0078ff" d="M60 474h4M64 486h4"/>
<path stroke="#007cff" d="M64 490h4"/>
<path stroke="#0093ff" d="M60 478h4"/>
<path stroke="#0097ff" d="M52 470h4M60 482h4"/>
<path stroke="#009bff" d="M60 486h4"/>
<path stroke="#009fff" d="M56 474h4"/>
<path stroke="#00b7ff" d="M56 478h4"/>
<path stroke="#00bbff" d="M56 482h4M56 486h4"/>
<path stroke="#00cbff" d="M40 474h4"/>
<path stroke="#00cfff" d="M52 474h4"/>
<path stroke="#00dbff" d="M52 478h4M52 482h4"/>
<path stroke="#00e7ff" d="M48 470h4M44 474h4"/>
<path stroke="#00f3ff" d="M44 470h4"/>
<path stroke="#00fbff" d="M48 478h4"/>
<path stroke="#00ffff" d="M48 474h4"/>
</g></g>
<g clip-path="url(#cc11p1)"><g filter="url(#bl4)" stroke-width="4.3">
<path stroke="#0000cb" d="M472 126h4M468 130h4"/>
<path stroke="#0000cf" d="M484 118h8M480 122h8M476 126h8M472 130h8M468 134h8M468 138h4"/>
<path stroke="#0000d3" d="M492 118h4M488 122h4M484 126h4M480 130h4M476 134h4M472 138h4"/>
<path stroke="#0000d7" d="M492 122h4M488 126h8M484 130h8M480 134h8M476 138h8"/>
<path stroke="#0000db" d="M492 130h4M488 134h8M484 138h8"/>
<path stroke="#0000df" d="M492 138h4"/>
</g></g>
<g clip-path="url(#cc12)"><g filter="url(#bl12)" stroke-width="12.3">
<path stroke="#000083" d="M600 30h12"/>
<path stroke="#0014ff" d="M600 210h12M600 222h24M600 234h12"/>
<path stroke="#0018ff" d="M540 66h12"/>
<path stroke="#001cff" d="M552 66h12"/>
<path stroke="#0028ff" d="M528 78h12"/>
<path stroke="#002cff" d="M540 78h12"/>
<path stroke="#0030ff" d="M516 90h12M480 114h12M468 126h12"/>
<path stroke="#0034ff" d="M552 78h12M528 90h12"/>
<path stroke="#0038ff" d="M504 102h12M492 114h12"/>
<path stroke="#003cff" d="M540 90h12M516 102h12M480 126h12M468 138h12"/>
<path stroke="#0040ff" d="M564 54h12M564 66h12M528 102h12M504 114h12M492 126h12M480 138h12"/>
<path stroke="#0044ff" d="M588 30h12M552 90h12M516 114h12M504 126h12M492 138h12"/>
<path stroke="#0048ff" d="M576 42h12M564 78h12M540 102h12M528 114h12M516 126h12M504 138h12M492 150h12"/>
<path stroke="#004cff" d="M504 150h12"/>
<path stroke="#0050ff" d="M588 42h12M576 54h12M564 90h12M552 102h12M540 114h12M528 126h12M516 138h12M504 162h12"/>
<path stroke="#0054ff" d="M576 66h12M528 138h12M516 150h12M516 162h12"/>
<path stroke="#0058ff" d="M552 114h12M540 126h12M528 150h12M516 174h12"/>
<path stroke="#005cff" d="M576 78h12M564 102h12M540 138h12M528 162h12M528 174h12"/>
<path stroke="#0060ff" d="M576 90h12M552 126h12M540 150h12M540 162h12"/>
<path stroke="#0064ff" d="M588 54h12M564 114h12M552 138h12M540 174h12M540 186h12M588 222h12"/>
<path stroke="#0068ff" d="M600 42h12M588 66h12M576 102h12M564 126h12M552 150h12M552 162h12M552 174h12M552 186h12M552 198h12M564 210h12"/>
<path stroke="#006cff" d="M588 78h12M576 114h12M564 138h12M564 198h12M576 210h24"/>
<path stroke="#0070ff" d="M588 90h12M564 150h12M564 162h12M564 174h12M564 186h12M576 198h12"/>
<path stroke="#0074ff" d="M588 102h12M576 126h12"/>
<path stroke="#0078ff" d="M588 114h12M576 138h12M576 150h12M576 186h12M588 198h12"/>
<path stroke="#007cff" d="M588 126h12M576 162h12M576 174h12"/>
<path stroke="#0080ff" d="M600 66h12M600 78h12M600 90h12M588 138h12M588 186h12"/>
<path stroke="#0083ff" d="M600 54h12M600 102h12M600 114h12M588 150h12M588 162h12M588 174h12"/>
<path stroke="#0087ff" d="M600 126h12M600 138h12"/>
<path stroke="#008bff" d="M600 150h12"/>
<path stroke="#008fff" d="M612 78h12M612 90h12M612 102h12M612 114h12M612 126h12M600 162h12M600 174h12M600 198h12"/>
<path stroke="#0093ff" d="M612 138h12M612 150h12M600 186h12"/>
<path stroke="#0097ff" d="M612 66h12M612 162h12"/>
<path stroke="#009bff" d="M624 90h12M624 102h12M624 114h12M624 126h12M624 138h12M612 174h12"/>
<path stroke="#009fff" d="M624 78h12M624 150h12M624 162h12"/>
<path stroke="#00a3ff" d="M612 54h12M624 66h12M612 186h12"/>
<path stroke="#00a7ff" d="M624 174h12"/>
<path stroke="#00afff" d="M624 54h12M624 186h12"/>
<path stroke="#00b3ff" d="M612 198h12"/>
<path stroke="#00b7ff" d="M624 198h12"/>
<path stroke="#00c3ff" d="M624 42h12M624 210h12"/>
<path stroke="#00c7ff" d="M612 42h12M612 210h12"/>
<path stroke="#00cfff" d="M624 30h12"/>
<path stroke="#00dfff" d="M612 30h12"/>
</g></g>
<g clip-path="url(#cc13)"><g filter="url(#bl12)" stroke-width="12.3">
<path stroke="#000083" d="M600 18h24M600 30h12"/>
<path stroke="#00008b" d="M588 18h12"/>
<path stroke="#0000ff" d="M552 54h12"/>
<path stroke="#0004ff" d="M540 54h12"/>
<path stroke="#0018ff" d="M528 66h24"/>
<path stroke="#001cff" d="M552 66h12"/>
<path stroke="#0020ff" d="M468 114h12"/>
<path stroke="#0024ff" d="M516 78h12M456 126h12"/>
<path stroke="#0028ff" d="M528 78h12M492 90h12M480 102h12"/>
<path stroke="#002cff" d="M552 42h12M540 78h12M504 90h12"/>
<path stroke="#0030ff" d="M516 90h12M492 102h12M480 114h12M468 126h12"/>
<path stroke="#0034ff" d="M552 78h12M528 90h12"/>
<path stroke="#0038ff" d="M504 102h12M492 114h12"/>
<path stroke="#003cff" d="M564 42h12M540 90h12M516 102h12M480 126h12M468 138h12"/>
<path stroke="#0040ff" d="M576 30h12M564 54h12M564 66h12M528 102h12M504 114h12M492 126h12M480 138h12"/>
<path stroke="#0044ff" d="M588 30h12M552 90h12M516 114h12M504 126h12M492 138h12"/>
<path stroke="#0048ff" d="M576 42h12M564 78h12M540 102h12M528 114h12M516 126h12M504 138h12M492 150h12"/>
<path stroke="#004cff" d="M504 150h12"/>
<path stroke="#0050ff" d="M588 42h12M576 54h12M564 90h12M552 102h12M540 114h12M528 126h12M516 138h12"/>
<path stroke="#0054ff" d="M576 66h12M528 138h12"/>
<path stroke="#0058ff" d="M552 114h12M540 126h12"/>
<path stroke="#005cff" d="M576 78h12M564 102h12"/>
<path stroke="#0060ff" d="M576 90h12"/>
<path stroke="#0064ff" d="M588 54h12"/>
<path stroke="#0068ff" d="M600 42h12M588 66h12"/>
<path stroke="#006cff" d="M588 78h12"/>
<path stroke="#0070ff" d="M588 90h12"/>
<path stroke="#0080ff" d="M600 66h12M600 78h12"/>
<path stroke="#0083ff" d="M600 54h12"/>
<path stroke="#0097ff" d="M612 66h12"/>
<path stroke="#00a3ff" d="M612 54h12"/>
<path stroke="#00afff" d="M624 54h12"/>
<path stroke="#00c3ff" d="M624 42h12"/>
<path stroke="#00c7ff" d="M612 42h12"/>
<path stroke="#00cfff" d="M624 30h12"/>
<path stroke="#00dfff" d="M612 30h12"/>
</g></g>
<g clip-path="url(#cc14)"><g filter="url(#bl12)" stroke-width="12.3">
<path stroke="#0000cb" d="M540 6h12"/>
<path stroke="#0000df" d="M528 6h12"/>
<path stroke="#0000e7" d="M540 -6h12M600 54h12"/>
<path stroke="#0000eb" d="M612 54h12"/>
<path stroke="#0000f7" d="M600 66h12"/>
<path stroke="#00c3ff" d="M624 42h12"/>
<path stroke="#00c7ff" d="M612 42h12"/>
<path stroke="#00cfff" d="M624 30h12"/>
<path stroke="#00d7ff" d="M624 18h12"/>
<path stroke="#00dbff" d="M624 6h12"/>
<path stroke="#00dfff" d="M624 -18h12M624 -6h12M612 30h12"/>
<path stroke="#00e3ff" d="M612 -18h12M612 -6h12"/>
<path stroke="#00e7ff" d="M552 -18h12M600 -18h12M612 6h12M612 18h12"/>
<path stroke="#00ebff" d="M576 -18h24M600 -6h12"/>
<path stroke="#00efff" d="M564 -18h12M600 6h12"/>
<path stroke="#00f3ff" d="M588 -6h12"/>
<path stroke="#00f7ff" d="M576 -6h12M600 18h12M600 30h12"/>
<path stroke="#00fbff" d="M588 6h12"/>
<path stroke="#00ffff" d="M564 -6h12"/>
<path stroke="#08fff7" d="M576 6h12M588 18h12"/>
<path stroke="#0cfff3" d="M552 6h24"/>
<path stroke="#18ffe7" d="M552 -6h12M576 18h12M588 30h12"/>
<path stroke="#24ffdb" d="M564 18h12"/>
<path stroke="#2cffd3" d="M576 30h12"/>
<path stroke="#30ffcf" d="M552 18h12"/>
<path stroke="#38ffc7" d="M588 42h24"/>
<path stroke="#3cffc3" d="M564 30h12"/>
<path stroke="#44ffbb" d="M540 18h12"/>
<path stroke="#48ffb7" d="M552 30h12M576 42h12"/>
<path stroke="#54ffab" d="M564 42h12"/>
<path stroke="#60ff9f" d="M588 54h12"/>
</g></g>
<g clip-path="url(#cc15)"><g filter="url(#bl12)" stroke-width="12.3">
<path stroke="#003cff" d="M0 414h12"/>
<path stroke="#0054ff" d="M-12 414h12"/>
<path stroke="#0068ff" d="M-12 426h12"/>
<path stroke="#24ffdb" d="M12 474h12"/>
<path stroke="#28ffd7" d="M0 474h12"/>
<path stroke="#30ffcf" d="M-12 486h12"/>
<path stroke="#34ffcb" d="M0 462h12M-12 474h12"/>
<path stroke="#38ffc7" d="M-24 426h12M0 426h12M0 450h12M-12 462h12"/>
<path stroke="#3cffc3" d="M0 438h12M-12 450h12"/>
<path stroke="#40ffbf" d="M12 462h12M-24 486h12"/>
<path stroke="#44ffbb" d="M12 426h12M-24 438h24M-24 450h12M-24 462h12M-24 474h12"/>
<path stroke="#54ffab" d="M12 438h12"/>
<path stroke="#5cffa3" d="M24 426h12M12 450h12"/>
<path stroke="#83ff7c" d="M24 438h12M24 462h12"/>
<path stroke="#abff54" d="M24 450h12"/>
<path stroke="#c3ff3c" d="M36 438h12"/>
<path stroke="#ffff00" d="M36 450h12"/>
</g></g>
<g clip-path="url(#cc15p0)"><g filter="url(#bl4)" stroke-width="4.3">
<path stroke="#0040ff" d="M0 422h4"/>
<path stroke="#004cff" d="M-4 426h4"/>
<path stroke="#00efff" d="M-4 434h4"/>
<path stroke="#00f3ff" d="M-4 430h4"/>
<path stroke="#28ffd7" d="M0 430h4M0 434h4"/>
<path stroke="#30ffcf" d="M0 466h4"/>
<path stroke="#34ffcb" d="M0 438h4M0 458h4M-4 462h12M-4 466h4"/>
<path stroke="#38ffc7" d="M0 426h8M4 430h4M4 434h4M-4 438h4M0 442h4M0 450h8M-4 454h12M-8 458h8M4 458h8M-8 462h4M-8 466h4"/>
<path stroke="#3cffc3" d="M8 430h4M4 438h4M-4 442h4M4 442h4M-8 446h16M-8 450h8M-8 454h4M8 454h4"/>
<path stroke="#40ffbf" d="M8 434h4M-8 442h4M8 446h4M8 450h4M12 458h4"/>
<path stroke="#44ffbb" d="M-8 438h4M8 438h4M8 442h4M12 454h4"/>
<path stroke="#48ffb7" d="M-8 430h4M12 434h4M12 438h4"/>
<path stroke="#4cffb3" d="M12 450h4"/>
<path stroke="#50ffaf" d="M-8 434h4M12 442h4M12 446h4"/>
<path stroke="#54ffab" d="M16 438h4M16 454h4"/>
<path stroke="#5cffa3" d="M16 442h4M16 450h4"/>
<path stroke="#64ff9b" d="M20 438h4M16 446h4"/>
<path stroke="#6cff93" d="M20 442h4"/>
<path stroke="#78ff87" d="M20 446h4M20 450h4"/>
<path stroke="#7cff83" d="M24 442h4"/>
<path stroke="#87ff78" d="M24 446h4"/>
</g></g>
<g clip-path="url(#cc16)"><g filter="url(#bl12)" stroke-width="12.3">
<path stroke="#000087" d="M444 102h12"/>
<path stroke="#00008b" d="M444 114h12"/>
<path stroke="#00008f" d="M432 114h12"/>
<path stroke="#00009b" d="M432 102h12"/>
<path stroke="#00009f" d="M420 114h12M432 126h12"/>
<path stroke="#0000a3" d="M420 78h12"/>
<path stroke="#0000a7" d="M420 126h12"/>
<path stroke="#0000ab" d="M408 90h12M420 102h12"/>
<path stroke="#0000af" d="M432 78h12M396 102h24M372 114h12M408 114h12"/>
<path stroke="#0000b3" d="M420 90h12M384 114h24M360 126h24M408 126h12M348 138h12M324 150h12"/>
<path stroke="#0000b7" d="M384 126h24M360 138h36M420 138h12M336 150h36M312 162h48M300 174h36"/>
<path stroke="#0000bb" d="M396 138h24M372 150h24M360 162h24M336 174h36M288 186h60M264 198h60"/>
<path stroke="#0000bf" d="M396 150h24M384 162h12M372 174h12M348 186h24M324 198h36M252 210h84M240 222h60M216 234h24M204 246h12"/>
<path stroke="#0000c3" d="M432 90h12M300 222h24M240 234h72M216 246h36"/>
<path stroke="#0000c7" d="M252 246h48M204 258h84"/>
<path stroke="#0000cb" d="M192 258h12M216 270h48"/>
<path stroke="#0000cf" d="M180 270h36M216 282h36"/>
<path stroke="#0000d3" d="M168 270h12M192 282h24M216 294h24"/>
<path stroke="#0000d7" d="M156 282h36M180 294h36M204 306h24M204 318h12"/>
<path stroke="#0000db" d="M144 294h36M168 306h36M180 318h24M180 330h12"/>
<path stroke="#0000df" d="M132 306h36M144 318h36M156 330h24M156 342h24M156 354h12M144 366h12"/>
<path stroke="#0000e3" d="M120 306h12M120 318h24M132 330h24M132 342h24M132 354h24M132 366h12"/>
<path stroke="#0000e7" d="M108 318h12M108 330h24M120 342h12M120 354h12M120 366h12M120 378h12M24 462h12"/>
<path stroke="#0000eb" d="M96 330h12M96 342h24M108 354h12M108 366h12M108 378h12M108 390h12"/>
<path stroke="#0000ef" d="M84 342h12M96 354h12M96 366h12M96 378h12M96 390h12"/>
<path stroke="#0000f3" d="M84 354h12M84 366h12M96 402h12M12 474h12"/>
<path stroke="#0000f7" d="M72 354h12M84 378h12M84 390h12"/>
<path stroke="#0000fb" d="M72 366h12M84 402h12M84 414h12M24 450h24"/>
<path stroke="#0000ff" d="M60 354h12M72 378h12M72 390h12M12 462h12"/>
<path stroke="#0004ff" d="M60 366h12M60 378h12M72 402h12M72 414h12M72 426h12M36 438h12"/>
<path stroke="#0008ff" d="M48 366h12M60 390h12M60 402h12M60 414h12M60 426h12M48 438h12"/>
<path stroke="#000cff" d="M48 378h12M48 414h12M48 426h12M24 438h12M12 450h12"/>
<path stroke="#0010ff" d="M48 390h12M48 402h12M36 426h12"/>
<path stroke="#0014ff" d="M36 378h12M36 414h12M24 426h12M12 438h12"/>
<path stroke="#0018ff" d="M36 390h12M36 402h12M0 462h12"/>
<path stroke="#001cff" d="M24 414h12M0 438h12"/>
<path stroke="#0020ff" d="M24 390h12M24 402h12M12 426h12M0 450h12"/>
<path stroke="#0028ff" d="M456 102h12M12 390h12M12 414h12"/>
<path stroke="#002cff" d="M12 402h12M0 426h12"/>
<path stroke="#0030ff" d="M-12 450h12"/>
<path stroke="#0038ff" d="M0 402h12M0 414h12"/>
<path stroke="#003cff" d="M-12 438h12"/>
<path stroke="#0040ff" d="M456 90h12"/>
<path stroke="#004cff" d="M468 90h12"/>
<path stroke="#0054ff" d="M-12 414h12"/>
<path stroke="#0058ff" d="M444 90h12"/>
<path stroke="#005cff" d="M456 78h12"/>
<path stroke="#0068ff" d="M-12 426h12"/>
<path stroke="#00d3ff" d="M444 66h12"/>
<path stroke="#00e7ff" d="M444 78h12"/>
<path stroke="#38ffc7" d="M-24 426h12"/>
<path stroke="#40ffbf" d="M-36 426h12"/>
<path stroke="#44ffbb" d="M-24 438h12"/>
<path stroke="#48ffb7" d="M-36 438h12"/>
</g></g>
<g clip-path="url(#cc16p0)"><g filter="url(#bl4)" stroke-width="4.3">
<path stroke="#0000e7" d="M-4 434h4"/>
<path stroke="#0000eb" d="M-4 430h4"/>
<path stroke="#0004ff" d="M20 450h4"/>
<path stroke="#0008ff" d="M40 434h4M32 438h8M28 442h4M24 446h4M16 454h4"/>
<path stroke="#000cff" d="M48 422h4M44 426h8M36 430h12M32 434h8M28 438h4M24 442h4M20 446h4M16 450h4"/>
<path stroke="#0010ff" d="M44 418h8M40 422h8M36 426h8M32 430h4M28 434h4M24 438h4M20 442h4M16 446h4M12 450h4"/>
<path stroke="#0014ff" d="M36 418h8M32 422h8M28 426h8M24 430h8M0 434h4M24 434h4M16 438h8M16 442h4M12 446h4"/>
<path stroke="#0018ff" d="M28 418h8M28 422h4M24 426h4M20 430h4M16 434h8M12 438h4M12 442h4M8 446h4M8 450h4"/>
<path stroke="#001cff" d="M24 418h4M24 422h4M20 426h4M0 430h4M16 430h4M4 434h12M4 438h8M8 442h4"/>
<path stroke="#0020ff" d="M20 418h4M20 422h4M16 426h4M4 430h12M0 438h4M4 442h4M4 446h4"/>
<path stroke="#0024ff" d="M16 418h4M16 422h4M12 426h4M0 442h4"/>
<path stroke="#0028ff" d="M12 422h4M8 426h4"/>
<path stroke="#002cff" d="M12 418h4M8 422h4M4 426h4M-4 438h4"/>
<path stroke="#0030ff" d="M8 418h4M0 426h4"/>
<path stroke="#0034ff" d="M4 422h4"/>
<path stroke="#0038ff" d="M4 418h4"/>
<path stroke="#003cff" d="M0 422h4"/>
<path stroke="#004cff" d="M-4 426h4"/>
<path stroke="#48ffb7" d="M-8 430h4"/>
<path stroke="#50ffaf" d="M-8 434h4"/>
</g></g>
<g clip-path="url(#cc16p1)"><g filter="url(#bl4)" stroke-width="4.3">
<path stroke="#00008b" d="M444 102h4M440 106h4M436 110h4"/>
<path stroke="#00008f" d="M448 98h4M440 102h4M436 106h4"/>
<path stroke="#000093" d="M432 110h4"/>
<path stroke="#000097" d="M444 98h4M432 106h4"/>
<path stroke="#00009b" d="M436 102h4M428 110h4M428 114h4"/>
<path stroke="#00009f" d="M448 94h4M440 98h4M428 106h4M424 114h4"/>
<path stroke="#0000a3" d="M444 94h4M432 102h4M424 110h4M424 118h4"/>
<path stroke="#0000a7" d="M436 98h4M428 102h4M424 106h4M420 110h4M420 114h4M420 118h4M420 122h4"/>
<path stroke="#0000ab" d="M420 102h8M416 106h8M416 110h4M416 114h4M416 118h4M416 122h4"/>
<path stroke="#0000af" d="M444 90h4M440 94h4M424 98h12M412 106h4M408 110h8M408 114h8M408 118h8M412 122h4M416 126h4"/>
<path stroke="#0000b3" d="M404 114h4M400 118h8M400 122h12M408 126h8M412 130h4"/>
<path stroke="#0000b7" d="M428 94h4M436 94h4M400 126h8M400 130h12M400 134h8"/>
<path stroke="#0000bb" d="M440 90h4M432 94h4"/>
<path stroke="#0000c3" d="M440 86h4M436 90h4"/>
<path stroke="#0034ff" d="M452 94h8"/>
<path stroke="#0040ff" d="M456 90h4"/>
<path stroke="#0048ff" d="M452 90h4"/>
<path stroke="#0058ff" d="M448 90h4"/>
<path stroke="#005cff" d="M452 86h4"/>
<path stroke="#00dbff" d="M448 86h4"/>
<path stroke="#00e7ff" d="M448 82h4"/>
<path stroke="#00efff" d="M444 86h4"/>
<path stroke="#00f3ff" d="M444 82h4"/>
</g></g>
<g clip-path="url(#cc17)"><g filter="url(#bl12)" stroke-width="12.3">
<path stroke="#000083" d="M564 -18h12M576 -6h12"/>
<path stroke="#00008b" d="M564 -6h12"/>
<path stroke="#00008f" d="M576 6h12"/>
<path stroke="#000093" d="M552 6h24"/>
<path stroke="#00009f" d="M576 18h12"/>
<path stroke="#0000ab" d="M564 18h12"/>
<path stroke="#0000bb" d="M552 18h12"/>
<path stroke="#0000cb" d="M540 6h12"/>
<path stroke="#0000cf" d="M540 18h12M552 30h12"/>
<path stroke="#0000df" d="M528 6h12M528 18h12M540 30h12"/>
<path stroke="#0000e3" d="M528 -6h12"/>
<path stroke="#0000e7" d="M540 -6h12M516 6h12"/>
<path stroke="#0000eb" d="M540 -18h12M516 18h12M528 30h12"/>
<path stroke="#0000ef" d="M540 42h12"/>
<path stroke="#0000f3" d="M504 18h12M516 30h12"/>
<path stroke="#0000fb" d="M504 30h12M528 42h12M456 102h12"/>
<path stroke="#0000ff" d="M492 30h12M516 42h12"/>
<path stroke="#0004ff" d="M480 30h12M504 42h12"/>
<path stroke="#0008ff" d="M492 42h12M528 54h12"/>
<path stroke="#000cff" d="M480 42h12M504 54h24M456 90h12"/>
<path stroke="#0010ff" d="M468 42h12M492 54h12"/>
<path stroke="#0014ff" d="M480 54h12M468 90h12M468 102h12"/>
<path stroke="#0018ff" d="M468 54h12M492 66h24"/>
<path stroke="#001cff" d="M480 66h12M468 78h12"/>
<path stroke="#0020ff" d="M456 54h12M468 66h12M480 78h24M480 90h12"/>
<path stroke="#0028ff" d="M456 66h12M456 78h12"/>
<path stroke="#002cff" d="M444 90h12"/>
<path stroke="#0030ff" d="M444 66h12"/>
<path stroke="#004cff" d="M444 78h12"/>
<path stroke="#0050ff" d="M432 78h12"/>
<path stroke="#00cfff" d="M432 102h12"/>
<path stroke="#00dbff" d="M420 78h12"/>
<path stroke="#00e3ff" d="M420 102h12"/>
<path stroke="#00e7ff" d="M552 -18h12"/>
<path stroke="#00ebff" d="M420 90h12"/>
<path stroke="#00fbff" d="M432 90h12"/>
<path stroke="#18ffe7" d="M552 -6h12"/>
<path stroke="#2cffd3" d="M444 102h12"/>
<path stroke="#30ffcf" d="M444 114h12"/>
<path stroke="#34ffcb" d="M432 114h12"/>
</g></g>
<g clip-path="url(#cc17p1)"><g filter="url(#bl4)" stroke-width="4.3">
<path stroke="#0004ff" d="M456 94h4"/>
<path stroke="#0008ff" d="M452 94h4"/>
<path stroke="#000cff" d="M460 90h4"/>
<path stroke="#0010ff" d="M484 50h12M492 54h4"/>
<path stroke="#0014ff" d="M480 54h12M488 58h8M464 86h4M456 90h4"/>
<path stroke="#0018ff" d="M476 58h12M480 62h16M492 66h4M468 82h8M460 86h4"/>
<path stroke="#001cff" d="M472 62h8M476 66h16M476 70h12M472 74h12M468 78h12M464 82h4M452 90h4"/>
<path stroke="#0020ff" d="M468 62h4M468 66h8M468 70h8M468 74h4M464 78h4M460 82h4M456 86h4"/>
<path stroke="#0024ff" d="M464 66h4M464 70h4M464 74h4"/>
<path stroke="#0028ff" d="M460 78h4"/>
<path stroke="#002cff" d="M460 70h4M460 74h4M456 82h4M448 90h4"/>
<path stroke="#0030ff" d="M452 86h4"/>
<path stroke="#0034ff" d="M456 74h4M456 78h4"/>
<path stroke="#003cff" d="M452 82h4"/>
<path stroke="#0040ff" d="M452 78h4"/>
<path stroke="#0044ff" d="M448 86h4"/>
<path stroke="#004cff" d="M448 82h4"/>
<path stroke="#0058ff" d="M444 86h4"/>
<path stroke="#005cff" d="M444 82h4"/>
<path stroke="#00e3ff" d="M444 90h4"/>
<path stroke="#00e7ff" d="M440 94h4"/>
<path stroke="#00efff" d="M436 94h4"/>
<path stroke="#00f3ff" d="M440 90h4"/>
<path stroke="#00fbff" d="M440 86h4M436 90h4"/>
<path stroke="#38ffc7" d="M448 98h4"/>
<path stroke="#3cffc3" d="M444 98h4"/>
<path stroke="#48ffb7" d="M448 94h4"/>
<path stroke="#4cffb3" d="M444 94h4"/>
</g></g>
<g clip-path="url(#cc18)"><g filter="url(#bl12)" stroke-width="12.3">
<path stroke="#0000cb" d="M540 6h12"/>
<path stroke="#0000df" d="M528 6h12"/>
<path stroke="#0000e3" d="M528 -6h12"/>
<path stroke="#0000e7" d="M540 -6h12"/>
<path stroke="#0000eb" d="M540 -18h12"/>
<path stroke="#00e7ff" d="M552 -18h12"/>
<path stroke="#00ebff" d="M576 -18h24"/>
<path stroke="#00efff" d="M564 -18h12"/>
<path stroke="#00f3ff" d="M588 -6h12"/>
<path stroke="#00f7ff" d="M576 -6h12"/>
<path stroke="#00fbff" d="M588 6h12"/>
<path stroke="#00ffff" d="M564 -6h12"/>
<path stroke="#08fff7" d="M576 6h12"/>
<path stroke="#0cfff3" d="M552 6h24"/>
<path stroke="#18ffe7" d="M552 -6h12M576 18h12"/>
<path stroke="#24ffdb" d="M564 18h12"/>
<path stroke="#30ffcf" d="M552 18h12"/>
<path stroke="#44ffbb" d="M540 18h12"/>
<path stroke="#48ffb7" d="M552 30h12"/>
</g></g>
<g clip-path="url(#cc19)"><g filter="url(#bl12)" stroke-width="12.3">
<path stroke="#0020ff" d="M0 450h12"/>
<path stroke="#0028ff" d="M456 102h12"/>
<path stroke="#0030ff" d="M-12 450h12"/>
<path stroke="#003cff" d="M-12 438h12"/>
<path stroke="#0040ff" d="M456 90h12"/>
<path stroke="#004cff" d="M468 90h12"/>
<path stroke="#0058ff" d="M444 90h12"/>
<path stroke="#005cff" d="M456 78h12"/>
<path stroke="#00bfff" d="M444 102h12"/>
<path stroke="#00c3ff" d="M312 -18h24M324 -6h36M348 6h24M372 18h24M444 114h12"/>
<path stroke="#00c7ff" d="M288 -18h24M300 -6h24M324 6h24M348 18h24M372 30h36M432 114h12"/>
<path stroke="#00cbff" d="M264 -18h24M276 -6h24M288 6h36M312 18h36M336 30h36M384 42h36M420 54h24"/>
<path stroke="#00cfff" d="M240 -18h24M252 -6h24M264 6h24M288 18h24M300 30h36M336 42h48M384 54h36M432 102h12"/>
<path stroke="#00d3ff" d="M216 -18h24M228 -6h24M240 6h24M252 18h36M264 30h36M300 42h36M336 54h48M408 66h48"/>
<path stroke="#00d7ff" d="M192 -18h24M204 -6h24M204 6h36M216 18h36M228 30h36M252 42h48M276 54h60M348 66h60M24 438h12"/>
<path stroke="#00dbff" d="M168 -18h24M180 -6h24M180 6h24M180 18h36M192 30h36M204 42h48M216 54h60M252 66h96M360 78h72M420 114h12M432 126h12M-24 186h24M-24 198h36M-24 210h36M-24 222h24M-24 234h12"/>
<path stroke="#00dfff" d="M144 -18h24M156 -6h24M156 6h24M156 18h24M156 30h36M156 42h48M156 54h60M168 66h84M204 78h156M-24 150h72M-24 162h84M-24 174h84M0 186h60M12 198h48M12 210h36M0 222h48M-12 234h48M-24 246h48M-24 258h24M0 438h24"/>
<path stroke="#00e3ff" d="M120 -18h24M120 -6h36M120 6h36M120 18h36M108 30h48M96 42h60M84 54h72M72 66h96M72 78h132M60 90h360M36 102h240M420 102h12M12 114h168M-24 126h192M420 126h12M-24 138h180M48 150h84M60 162h60M60 174h48M60 186h36M60 198h24M48 210h36M48 222h24M36 234h24M24 246h36M0 258h48M-24 270h48M36 426h12"/>
<path stroke="#00e7ff" d="M96 -18h24M84 -6h36M72 6h48M60 18h60M60 30h48M48 42h48M48 54h36M36 66h36M12 78h60M432 78h24M-12 90h72M-24 102h60M276 102h144M-24 114h36M180 114h144M408 114h12M168 126h36M156 138h36M132 150h36M120 162h36M108 174h24M96 186h24M84 198h24M84 210h12M72 222h24M60 234h24M60 246h12M48 258h24M24 270h36M-24 282h72M-24 294h12M24 426h12"/>
<path stroke="#00ebff" d="M48 -18h48M36 -6h48M36 6h36M24 18h36M12 30h48M0 42h48M-12 54h60M-24 66h60M-24 78h36M-24 90h12M420 90h12M324 114h84M204 126h144M408 126h12M192 138h36M168 150h36M156 162h24M132 174h36M120 186h24M108 198h24M96 210h24M96 222h12M84 234h24M72 246h24M72 258h12M60 270h24M48 282h24M-12 294h72M-24 306h36M96 366h36M84 378h24M84 390h12M72 402h12M36 414h24M12 426h12"/>
<path stroke="#00efff" d="M-12 -18h60M-12 -6h48M-24 6h60M-24 18h48M-24 30h36M-24 42h24M-24 54h12M348 126h60M228 138h132M204 150h48M180 162h36M168 174h24M144 186h24M132 198h24M120 210h24M108 222h24M108 234h12M96 246h12M84 258h24M84 270h12M72 282h24M60 294h36M12 306h72M0 318h84M60 330h24M72 342h36M72 354h60M72 366h24M72 378h12M60 390h24M48 402h24M24 414h12"/>
<path stroke="#00f3ff" d="M-24 -18h12M-24 -6h12M360 138h72M252 150h120M216 162h96M192 174h24M168 186h36M156 198h24M144 210h12M132 222h12M120 234h12M108 246h24M108 258h12M96 270h24M96 282h12M96 294h12M84 306h24M-24 318h24M84 318h24M0 330h60M84 330h36M36 342h36M108 342h24M48 354h24M132 354h12M48 366h24M48 378h24M48 390h12M36 402h12M0 426h12"/>
<path stroke="#00f7ff" d="M372 150h24M312 162h60M216 174h132M204 186h24M180 198h24M156 210h24M144 222h24M132 234h24M132 246h12M120 258h12M120 270h12M108 282h12M108 294h12M108 306h24M108 318h24M-24 330h24M120 330h24M0 342h36M132 342h24M24 354h24M36 366h12M36 378h12M36 390h12M24 402h12M12 414h12"/>
<path stroke="#00fbff" d="M432 90h12M396 150h12M372 162h24M348 174h36M228 186h132M204 198h36M180 210h24M168 222h12M156 234h12M144 246h12M132 258h12M132 270h12M120 282h24M120 294h24M132 306h12M132 318h12M144 330h12M-24 342h24M0 354h24M12 366h24M24 378h12M24 390h12"/>
<path stroke="#00ffff" d="M240 198h108M204 210h36M288 210h48M180 222h24M168 234h12M156 246h12M144 258h24M144 270h12M144 282h12M144 294h12M144 306h12M144 318h24M156 330h24M-12 354h12M0 366h12M12 378h12M12 390h12M12 402h12"/>
<path stroke="#04fffb" d="M240 210h48M204 222h108M180 234h36M168 246h24M168 258h12M156 270h12M156 282h12M156 294h12M156 306h12M168 318h12M-24 354h12M-12 366h12M0 378h12M0 414h12"/>
<path stroke="#08fff7" d="M216 234h84M192 246h24M180 258h12M168 270h24M168 282h12M168 294h12M168 306h24M180 318h12M-24 366h12M0 390h12M0 402h12"/>
<path stroke="#0cfff3" d="M216 246h72M192 258h24M192 270h12M180 282h24M180 294h24M192 306h12M-12 378h12"/>
<path stroke="#10ffef" d="M216 258h48M204 270h12M204 282h12M204 294h12M-24 378h12M-12 390h12"/>
<path stroke="#14ffeb" d="M216 270h36M216 282h12M216 294h12M-12 402h12"/>
<path stroke="#18ffe7" d="M228 282h12M-24 390h12M-12 414h12"/>
<path stroke="#20ffdf" d="M-24 402h12"/>
<path stroke="#2cffd3" d="M-24 414h12M-12 426h12"/>
<path stroke="#38ffc7" d="M-24 426h12"/>
<path stroke="#44ffbb" d="M-24 438h12"/>
</g></g>
<g clip-path="url(#cc19p0)"><g filter="url(#bl4)" stroke-width="4.3">
<path stroke="#0024ff" d="M0 442h4"/>
<path stroke="#002cff" d="M-4 438h4"/>
<path stroke="#00a7ff" d="M-4 434h4"/>
<path stroke="#00afff" d="M-4 430h4"/>
<path stroke="#00d7ff" d="M0 434h4"/>
<path stroke="#00dfff" d="M0 430h4M4 438h4"/>
<path stroke="#00e3ff" d="M4 434h8M0 438h4"/>
<path stroke="#00e7ff" d="M4 430h12"/>
<path stroke="#00ebff" d="M16 426h4"/>
<path stroke="#00efff" d="M16 422h4M8 426h8"/>
<path stroke="#00f3ff" d="M16 418h4M12 422h4M4 426h4"/>
<path stroke="#00f7ff" d="M12 418h4M8 422h4M0 426h4"/>
<path stroke="#00fbff" d="M8 418h4M4 422h4"/>
<path stroke="#00ffff" d="M4 418h4"/>
<path stroke="#04fffb" d="M0 422h4"/>
<path stroke="#08fff7" d="M0 418h4"/>
<path stroke="#10ffef" d="M-4 422h4M-4 426h4"/>
<path stroke="#14ffeb" d="M-4 418h4"/>
<path stroke="#1cffe3" d="M-8 418h4"/>
<path stroke="#20ffdf" d="M-8 422h4"/>
<path stroke="#2cffd3" d="M-8 426h4"/>
<path stroke="#48ffb7" d="M-8 430h4"/>
<path stroke="#50ffaf" d="M-8 434h4"/>
</g></g>
<g clip-path="url(#cc19p1)"><g filter="url(#bl4)" stroke-width="4.3">
<path stroke="#0034ff" d="M452 94h8"/>
<path stroke="#0040ff" d="M456 90h4"/>
<path stroke="#0048ff" d="M452 90h4"/>
<path stroke="#0058ff" d="M448 90h4"/>
<path stroke="#005cff" d="M452 86h4"/>
<path stroke="#00c3ff" d="M444 102h4M440 106h4"/>
<path stroke="#00c7ff" d="M448 98h4M440 102h4M436 106h4"/>
<path stroke="#00cbff" d="M444 98h4M432 110h4"/>
<path stroke="#00cfff" d="M400 54h12M408 58h8M436 102h4M432 106h4"/>
<path stroke="#00d3ff" d="M400 58h8M400 62h24M408 66h20M428 70h8M428 110h4M428 114h4"/>
<path stroke="#00d7ff" d="M400 66h8M400 70h28M412 74h20M448 94h4M440 98h4M428 106h4"/>
<path stroke="#00dbff" d="M400 74h12M432 74h8M400 78h28M448 86h4M444 94h4M432 102h4M424 110h4M424 114h4M424 118h4"/>
<path stroke="#00dfff" d="M428 78h4M400 82h28M400 86h20M436 98h4M428 102h4M424 106h4M420 110h4M420 114h4M420 118h4"/>
<path stroke="#00e3ff" d="M432 78h4M428 82h4M420 86h4M400 90h24M444 90h4M400 94h20M420 102h8M416 106h8M416 110h4M416 114h4M416 118h4"/>
<path stroke="#00e7ff" d="M436 78h4M448 82h4M424 86h4M420 94h4M440 94h4M400 98h36M400 102h20M400 106h16M408 110h8M412 114h4M412 118h4M416 122h4"/>
<path stroke="#00ebff" d="M440 78h4M432 82h4M428 86h4M424 90h4M424 94h4M400 110h8M400 114h12M404 118h8M408 122h8M412 126h4"/>
<path stroke="#00efff" d="M444 86h4M428 90h4M428 94h4M436 94h4M400 118h4M400 122h8M400 126h12M408 130h4"/>
<path stroke="#00f3ff" d="M436 82h4M444 82h4M432 86h4M440 90h4M432 94h4M400 130h8"/>
<path stroke="#00f7ff" d="M440 82h4M432 90h4"/>
<path stroke="#00fbff" d="M436 86h8M436 90h4"/>
</g></g>
<g clip-path="url(#cc20)"><g filter="url(#bl12)" stroke-width="12.3">
<path stroke="#000083" d="M564 -18h12M576 -6h12"/>
<path stroke="#00008b" d="M564 -6h12"/>
<path stroke="#00008f" d="M576 6h12"/>
<path stroke="#000093" d="M564 6h12"/>
<path stroke="#007cff" d="M552 6h12"/>
<path stroke="#0093ff" d="M564 18h12M456 102h12"/>
<path stroke="#009bff" d="M552 18h12"/>
<path stroke="#00abff" d="M540 6h12M456 90h12"/>
<path stroke="#00afff" d="M540 18h12M552 30h12"/>
<path stroke="#00b3ff" d="M420 -18h48M468 90h12"/>
<path stroke="#00b7ff" d="M384 -18h36M468 -18h36M408 -6h84M456 6h12M528 18h12M540 30h12"/>
<path stroke="#00bbff" d="M360 -18h24M504 -18h12M384 -6h24M492 -6h24M408 6h48M468 6h36M516 6h24M444 18h48"/>
<path stroke="#00bfff" d="M336 -18h24M516 -18h12M360 -6h24M516 -6h12M372 6h36M504 6h12M408 18h36M492 18h36M444 30h60M528 30h12"/>
<path stroke="#00c3ff" d="M312 -18h24M324 -6h36M528 -6h12M348 6h24M372 18h36M408 30h36M504 30h24M444 42h48M468 78h12M444 90h12"/>
<path stroke="#00c7ff" d="M288 -18h24M528 -18h12M300 -6h24M324 6h24M348 18h24M372 30h36M420 42h24M492 42h60M456 54h36M468 66h12M480 90h12"/>
<path stroke="#00cbff" d="M288 -6h12M288 6h36M312 18h36M336 30h36M384 42h36M420 54h36M492 54h24M456 66h12M480 66h12M456 78h12M480 78h12"/>
<path stroke="#00cfff" d="M540 -6h12M324 30h12M336 42h48M384 54h36M516 54h12M492 66h12M432 102h12"/>
<path stroke="#00d3ff" d="M360 54h24M408 66h48M504 66h12M492 78h12"/>
<path stroke="#00d7ff" d="M540 -18h12M372 66h36"/>
<path stroke="#00dbff" d="M384 78h48"/>
<path stroke="#00e3ff" d="M408 90h12M420 102h12"/>
<path stroke="#00e7ff" d="M552 -18h12M432 78h24"/>
<path stroke="#00ebff" d="M420 90h12"/>
<path stroke="#00fbff" d="M432 90h12"/>
<path stroke="#18ffe7" d="M552 -6h12"/>
<path stroke="#2cffd3" d="M444 102h12"/>
<path stroke="#30ffcf" d="M444 114h12"/>
<path stroke="#34ffcb" d="M432 114h12"/>
</g></g>
<g clip-path="url(#cc20p1)"><g filter="url(#bl4)" stroke-width="4.3">
<path stroke="#009fff" d="M452 94h8"/>
<path stroke="#00abff" d="M456 90h8"/>
<path stroke="#00b3ff" d="M464 86h4"/>
<path stroke="#00b7ff" d="M460 86h4M452 90h4"/>
<path stroke="#00bbff" d="M464 82h8M456 86h4"/>
<path stroke="#00bfff" d="M460 82h4"/>
<path stroke="#00c3ff" d="M464 46h16M464 78h12M448 90h4"/>
<path stroke="#00c7ff" d="M428 46h36M480 46h16M440 50h56M452 54h40M464 58h20M472 62h8M472 66h8M468 70h12M464 74h20"/>
<path stroke="#00cbff" d="M400 46h28M412 50h28M424 54h28M492 54h4M436 58h28M484 58h12M452 62h20M480 62h16M460 66h12M480 66h12M464 70h4M480 70h8M460 78h4M456 82h4M452 86h4"/>
<path stroke="#00cfff" d="M400 50h12M400 54h24M408 58h28M424 62h28M452 66h8M460 70h4M460 74h4"/>
<path stroke="#00d3ff" d="M400 58h8M400 62h24M408 66h44M428 70h8M456 70h4M456 74h4M456 78h4"/>
<path stroke="#00d7ff" d="M400 66h8M404 70h24M436 70h20M412 74h20M452 82h4"/>
<path stroke="#00dbff" d="M432 74h8M452 74h4M416 78h12M448 86h4"/>
<path stroke="#00dfff" d="M440 74h4M448 74h4M428 78h4M452 78h4M420 82h8"/>
<path stroke="#00e3ff" d="M444 74h4M432 78h4M428 82h4M444 90h4"/>
<path stroke="#00e7ff" d="M436 78h4M448 78h4M448 82h4M440 94h4"/>
<path stroke="#00ebff" d="M440 78h8M432 82h4M428 86h4"/>
<path stroke="#00efff" d="M444 86h4M436 94h4"/>
<path stroke="#00f3ff" d="M436 82h4M444 82h4M432 86h4M440 90h4"/>
<path stroke="#00f7ff" d="M440 82h4M432 90h4"/>
<path stroke="#00fbff" d="M436 86h8M436 90h4"/>
<path stroke="#38ffc7" d="M448 98h4"/>
<path stroke="#3cffc3" d="M444 98h4"/>
<path stroke="#48ffb7" d="M448 94h4"/>
<path stroke="#4cffb3" d="M444 94h4"/>
</g></g>
</g>
<g transform="translate(154.4 938.4)">
<path d="M196.6 0v6.2 M196.6 604.3v-6.2 M393.5 0v6.2 M393.5 604.3v-6.2 M590.3 0v6.2 M590.3 604.3v-6.2 M0 78.5h6.2 M604.3 78.5h-6.2 M0 157.3h6.2 M604.3 157.3h-6.2 M0 236h6.2 M604.3 236h-6.2 M0 314.7h6.2 M604.3 314.7h-6.2 M0 393.5h6.2 M604.3 393.5h-6.2 M0 472.2h6.2 M604.3 472.2h-6.2 M0 551h6.2 M604.3 551h-6.2" stroke="#262626" stroke-width="2" fill="none"/>
<rect x="0" y="0" width="604.3" height="604.3" fill="none" stroke="#262626" stroke-width="2"/>
<rect x="633.0" y="0" width="61.0" height="604.3" fill="url(#cb)" stroke="#262626" stroke-width="2"/>
<path d="M694 453.2h-6.5 M694 302.1h-6.5 M694 151.1h-6.5" stroke="#262626" stroke-width="2" fill="none"/>
<text x="709.8" y="620.7" font-family="'Liberation Sans', Arial, sans-serif" font-size="43" fill="#262626">0</text>
<text x="709.8" y="469.6" font-family="'Liberation Sans', Arial, sans-serif" font-size="43" fill="#262626">0.5</text>
<text x="709.8" y="318.5" font-family="'Liberation Sans', Arial, sans-serif" font-size="43" fill="#262626">1</text>
<text x="709.8" y="167.5" font-family="'Liberation Sans', Arial, sans-serif" font-size="43" fill="#262626">1.5</text>
<text x="709.8" y="16.4" font-family="'Liberation Sans', Arial, sans-serif" font-size="43" fill="#262626">2</text>
<text x="303.1" y="663.6" font-family="'Liberation Sans', Arial, sans-serif" font-size="42.5" fill="#262626" text-anchor="middle">x [-]</text>
<text transform="translate(-26 302.3) rotate(-90)" font-family="'Liberation Sans', Arial, sans-serif" font-size="42.5" fill="#262626" text-anchor="middle">y [-]</text>
<text x="-155.8" y="-68.4" font-family="'Liberation Sans', Arial, sans-serif" font-size="41.7" font-weight="bold" fill="#000">(c)</text>
<text x="207.8" y="-17.6" font-family="'Liberation Serif', 'Times New Roman', serif" font-size="43" fill="#000" font-style="italic" textLength="35.5" lengthAdjust="spacingAndGlyphs">N</text>
<text x="253.8" y="-11.3" font-family="'Liberation Serif', 'Times New Roman', serif" font-size="47" fill="#000" textLength="37" lengthAdjust="spacingAndGlyphs">=</text>
<text x="299.1" y="-17.6" font-family="'Liberation Serif', 'Times New Roman', serif" font-size="41.5" fill="#000" textLength="84" lengthAdjust="spacingAndGlyphs">1535</text>
<text x="381.9" y="-30.8" font-family="'Liberation Serif', 'Times New Roman', serif" font-size="32" fill="#000" textLength="15" lengthAdjust="spacingAndGlyphs">2</text>
<path d="M577.8 -88 H706.2" stroke="#000" stroke-width="1.8" fill="none"/>
<text transform="translate(540.6 -14.9) scale(1.02 1.62)" font-family="'DejaVu Sans', sans-serif" font-size="56" fill="#000">&#8730;</text>
<text x="578.6" y="-42.4" font-family="'Liberation Serif', 'Times New Roman', serif" font-size="45" fill="#000" font-style="italic" textLength="20" lengthAdjust="spacingAndGlyphs">v</text>
<text x="600.6" y="-52.8" font-family="'Liberation Serif', 'Times New Roman', serif" font-size="29" fill="#000" textLength="12.4" lengthAdjust="spacingAndGlyphs">2</text>
<text x="600.6" y="-30.1" font-family="'Liberation Serif', 'Times New Roman', serif" font-size="27" fill="#000" font-style="italic" textLength="12.6" lengthAdjust="spacingAndGlyphs">x</text>
<text x="625.1" y="-33" font-family="'Liberation Serif', 'Times New Roman', serif" font-size="54" fill="#000" textLength="33" lengthAdjust="spacingAndGlyphs">+</text>
<text x="667.9" y="-42.4" font-family="'Liberation Serif', 'Times New Roman', serif" font-size="45" fill="#000" font-style="italic" textLength="20" lengthAdjust="spacingAndGlyphs">v</text>
<text x="689.9" y="-52.8" font-family="'Liberation Serif', 'Times New Roman', serif" font-size="29" fill="#000" textLength="12.4" lengthAdjust="spacingAndGlyphs">2</text>
<text x="689.6" y="-30.1" font-family="'Liberation Serif', 'Times New Roman', serif" font-size="27" fill="#000" font-style="italic" textLength="12.4" lengthAdjust="spacingAndGlyphs">y</text>
<text x="720.6" y="-42.4" font-family="'Liberation Serif', 'Times New Roman', serif" font-size="42" fill="#000" textLength="33.5" lengthAdjust="spacingAndGlyphs">at</text>
<text x="771.6" y="-42.4" font-family="'Liberation Serif', 'Times New Roman', serif" font-size="45" fill="#000" font-style="italic" textLength="13" lengthAdjust="spacingAndGlyphs">t</text>
<text x="785.9" y="-33.8" font-family="'Liberation Serif', 'Times New Roman', serif" font-size="29" fill="#000" textLength="13" lengthAdjust="spacingAndGlyphs">3</text>
</g>
<g transform="translate(1195.3 938.4)" clip-path="url(#ax)" fill="none">
<g clip-path="url(#cd0)"><g filter="url(#bl24)" stroke-width="24.3">
<path stroke="#00008b" d="M552 12h24"/>
<path stroke="#00009b" d="M264 444h24"/>
<path stroke="#0000ab" d="M432 108h24M240 396h72M216 420h120M216 444h48M216 468h48"/>
<path stroke="#0000bb" d="M576 36h24M456 108h24M216 372h120M192 396h48M312 396h48M168 420h48M24 444h24M168 444h48M48 468h24M192 468h24M216 492h24"/>
<path stroke="#0000cb" d="M552 36h24M408 132h48M336 180h24M288 204h48M264 228h24M240 252h24M216 276h24M168 300h72M168 324h168M144 348h240M120 372h96M336 372h48M96 396h96M24 420h144M48 444h24M144 444h24M168 468h24M168 492h48"/>
<path stroke="#0000db" d="M504 36h48M384 132h24M456 132h24M360 156h72M360 180h72M336 204h96M288 228h144M264 252h168M240 276h168M240 300h168M144 324h24M336 324h96M120 348h24M384 348h24M72 372h48M48 396h48M72 444h72M120 468h48M144 492h24M168 516h24"/>
<path stroke="#0000eb" d="M480 132h24M432 156h48M432 180h48M432 204h48M432 228h48M432 252h48M408 276h72M408 300h72M432 324h24M72 468h48M144 516h24"/>
<path stroke="#0000fb" d="M552 60h24M480 156h48M480 180h24M480 204h24M480 228h24M480 252h24M480 276h24M120 492h24M144 540h24"/>
<path stroke="#000cff" d="M504 60h48M504 180h48M504 204h48M504 228h48M504 252h48M96 492h24M120 516h24M120 540h24"/>
<path stroke="#001cff" d="M480 60h24M456 84h24M552 180h24M552 204h24M552 228h24M120 564h24"/>
<path stroke="#002cff" d="M480 84h72M576 204h24M72 492h24M96 516h24"/>
<path stroke="#003cff" d="M480 108h24M96 540h24M96 564h24"/>
<path stroke="#004cff" d="M552 84h24M504 108h48"/>
<path stroke="#005cff" d="M576 60h24M552 108h24M504 132h48M72 516h24M72 540h24M72 588h24"/>
<path stroke="#006cff" d="M576 84h24M552 132h24M528 156h24M72 564h24"/>
<path stroke="#007cff" d="M576 108h24M576 132h24M552 156h24"/>
<path stroke="#008bff" d="M600 60h24M600 84h24M600 108h24M600 132h24M576 156h48M576 180h24M48 516h24M48 540h24M144 636h48"/>
<path stroke="#009bff" d="M528 12h24M624 84h24M624 108h24M624 132h24M624 156h24M600 180h24M168 540h48M48 564h24M144 564h72M96 588h120M120 612h96M120 636h24M192 636h48"/>
<path stroke="#00abff" d="M384 -36h144M624 60h24M624 180h24M0 420h24M48 492h24M192 516h48M216 540h24M216 564h24M216 588h48M96 612h24M216 612h48M96 636h24M240 636h24"/>
<path stroke="#00bbff" d="M216 -36h168M528 -36h24M264 -12h264M480 12h48M624 36h24M600 204h48M0 396h48M240 492h24M24 516h24M240 516h48M24 540h24M240 540h48M240 564h48M264 588h24M264 612h24M72 636h24M264 636h24"/>
<path stroke="#00cbff" d="M144 -36h72M552 -36h96M144 -12h120M528 -12h24M624 -12h24M168 12h312M624 12h24M192 36h168M480 36h24M-48 180h48M-48 204h72M-48 228h72M576 228h72M-48 252h72M600 252h48M-48 276h72M-48 300h72M-48 324h96M-48 348h120M-48 372h120M-48 396h48M264 468h24M24 492h24M264 492h72M288 516h48M288 540h72M24 564h24M288 564h72M48 588h24M288 588h72M72 612h24M288 612h72M288 636h72"/>
<path stroke="#00dbff" d="M48 -36h96M48 -12h96M576 -12h48M48 12h120M600 12h24M24 36h168M360 36h120M600 36h24M24 60h360M-48 84h360M-48 108h264M-48 132h216M-48 156h192M0 180h120M24 204h72M24 228h72M24 252h72M552 252h48M24 276h72M504 276h144M24 300h72M480 300h168M48 324h72M456 324h192M72 348h48M480 348h168M480 372h168M408 396h240M-48 420h48M336 420h312M288 444h360M288 468h360M336 492h312M336 516h216M360 540h168M360 564h120M24 588h24M360 588h120M48 612h24M360 612h120M48 636h24M360 636h120"/>
<path stroke="#00ebff" d="M-48 -36h96M-48 -12h96M552 -12h24M-48 12h96M-48 36h72M-48 60h72M384 60h24M456 60h24M312 84h96M216 108h144M168 132h144M144 156h96M120 180h72M96 204h72M96 228h48M96 252h48M96 276h48M96 300h48M120 324h24M408 348h72M384 372h96M360 396h48M-48 444h48M0 468h24M0 492h24M0 516h24M552 516h96M0 540h24M528 540h120M0 564h24M480 564h168M480 588h144M24 612h24M480 612h96M24 636h24M480 636h72"/>
<path stroke="#00fbff" d="M576 12h24M408 60h24M360 108h72M312 132h72M240 156h120M192 180h144M168 204h72M144 228h72M144 252h48M144 276h48M144 300h24M0 444h24M-48 468h48M24 468h24M-24 492h24M-24 516h24M0 588h24M624 588h24M576 612h72M552 636h96"/>
<path stroke="#0cfff3" d="M432 60h24M408 84h24M240 204h48M216 228h48M192 252h48M192 276h24M-48 492h24M-48 516h24M-24 540h24M-24 564h24M0 612h24M0 636h24"/>
<path stroke="#1cffe3" d="M-48 540h24M-24 588h24M-24 612h24M-24 636h24"/>
<path stroke="#2cffd3" d="M-48 564h24M-48 588h24M-48 612h24"/>
<path stroke="#3cffc3" d="M432 84h24M-48 636h24"/>
</g></g>
<g clip-path="url(#cd1)"><g filter="url(#bl12)" stroke-width="12.3">
<path stroke="#0000f7" d="M84 474h12"/>
<path stroke="#0004ff" d="M72 474h12"/>
<path stroke="#0014ff" d="M84 486h12"/>
<path stroke="#0028ff" d="M72 486h12"/>
<path stroke="#0050ff" d="M72 498h12"/>
<path stroke="#007cff" d="M60 510h12"/>
<path stroke="#0080ff" d="M60 498h12"/>
<path stroke="#0097ff" d="M48 522h12"/>
<path stroke="#009bff" d="M48 510h12"/>
<path stroke="#00abff" d="M48 498h12"/>
<path stroke="#00b3ff" d="M36 522h12"/>
<path stroke="#00b7ff" d="M60 486h12M36 510h12"/>
<path stroke="#00c3ff" d="M36 498h12"/>
<path stroke="#00c7ff" d="M24 522h12M24 534h12"/>
<path stroke="#00cbff" d="M24 510h12"/>
<path stroke="#00cfff" d="M24 498h12"/>
<path stroke="#00d3ff" d="M36 486h24"/>
<path stroke="#00dbff" d="M24 486h12M12 510h12M12 522h12M12 534h12"/>
<path stroke="#00dfff" d="M12 498h12M12 546h12"/>
<path stroke="#00e3ff" d="M12 486h12"/>
<path stroke="#00e7ff" d="M12 474h24M0 498h12M0 510h12"/>
<path stroke="#00ebff" d="M0 474h12M0 486h12M0 522h12M0 534h12"/>
<path stroke="#00efff" d="M0 438h12M-24 450h36M-12 462h36M36 474h12M0 546h12"/>
<path stroke="#00f3ff" d="M-24 462h12M-12 474h12M-12 486h12M-12 498h12M-12 510h12"/>
<path stroke="#00f7ff" d="M12 450h12M24 462h12M-24 474h12M-24 486h12M-12 522h12M0 558h12"/>
<path stroke="#00fbff" d="M-12 438h12M12 438h12M-24 498h12M-12 534h12"/>
<path stroke="#00ffff" d="M24 450h12M-24 510h12M-12 546h12"/>
<path stroke="#04fffb" d="M0 426h36M24 438h12M-24 522h12M-12 558h12"/>
<path stroke="#08fff7" d="M36 462h12M-24 534h12"/>
<path stroke="#0cfff3" d="M36 438h12M36 450h12M48 474h12M-24 546h12"/>
<path stroke="#1cffe3" d="M48 450h12M48 462h12"/>
<path stroke="#34ffcb" d="M60 450h12"/>
<path stroke="#38ffc7" d="M60 462h12"/>
<path stroke="#3cffc3" d="M60 474h12"/>
<path stroke="#58ffa7" d="M72 462h12"/>
</g></g>
<g clip-path="url(#cd1p0)"><g filter="url(#bl4)" stroke-width="4.3">
<path stroke="#000cff" d="M72 478h4"/>
<path stroke="#001cff" d="M72 482h4"/>
<path stroke="#0038ff" d="M72 486h4"/>
<path stroke="#0074ff" d="M68 486h4"/>
<path stroke="#0093ff" d="M64 490h4"/>
<path stroke="#009bff" d="M60 494h4"/>
<path stroke="#009fff" d="M56 498h4"/>
<path stroke="#00a3ff" d="M52 502h4"/>
<path stroke="#00abff" d="M56 494h4M52 498h4M48 506h4"/>
<path stroke="#00afff" d="M60 490h4M48 502h4"/>
<path stroke="#00b3ff" d="M48 498h4M44 506h4"/>
<path stroke="#00b7ff" d="M64 486h4M52 494h4M44 502h4M40 506h4M40 510h4"/>
<path stroke="#00bbff" d="M56 490h4M48 494h4M44 498h4M40 502h4M36 510h4M36 514h4"/>
<path stroke="#00bfff" d="M36 506h4M32 518h4"/>
<path stroke="#00c3ff" d="M52 490h4M44 494h4M40 498h4M36 502h4M32 510h4M32 514h4"/>
<path stroke="#00c7ff" d="M48 490h4M40 494h4M36 498h4M32 502h4M32 506h4M28 514h4M28 518h4M28 522h4"/>
<path stroke="#00cbff" d="M60 486h4M44 490h4M36 494h4M32 498h4M28 506h4M28 510h4"/>
<path stroke="#00cfff" d="M36 490h8M32 494h4M28 498h4M28 502h4M24 506h4M24 510h4M24 514h4M24 518h4M24 522h4"/>
<path stroke="#00d3ff" d="M40 486h20M32 490h4M28 494h4M24 498h4M24 502h4M20 510h4M20 514h4M20 518h4M20 522h4"/>
<path stroke="#00d7ff" d="M32 486h8M28 490h4M24 494h4M20 502h4M20 506h4"/>
<path stroke="#00dbff" d="M36 482h8M28 486h4M24 490h4M20 494h4M20 498h4"/>
<path stroke="#00dfff" d="M24 482h12M44 482h8M20 486h8M20 490h4"/>
<path stroke="#00e3ff" d="M24 478h16M20 482h4M52 482h4"/>
<path stroke="#00e7ff" d="M20 474h16M20 478h4M40 478h8"/>
<path stroke="#00ebff" d="M20 470h12M36 474h4M56 482h4"/>
<path stroke="#00efff" d="M20 462h4M20 466h12M32 470h4M40 474h4M48 478h4"/>
<path stroke="#00f3ff" d="M20 458h4M24 462h4M32 466h4M36 470h4M44 474h4"/>
<path stroke="#00f7ff" d="M20 454h4M24 458h4M28 462h8M36 466h4M40 470h4M52 478h4M60 482h4"/>
<path stroke="#00fbff" d="M20 446h4M20 450h4M24 454h4M28 458h4M48 474h4"/>
<path stroke="#00ffff" d="M24 446h8M24 450h8M28 454h4M32 458h4M36 462h4M40 466h4M44 470h4M64 482h4"/>
<path stroke="#04fffb" d="M32 450h4M32 454h8M36 458h4M56 478h4"/>
<path stroke="#08fff7" d="M36 450h4M40 454h4M40 458h4M40 462h4"/>
<path stroke="#0cfff3" d="M44 466h4M48 470h4M52 474h4"/>
<path stroke="#10ffef" d="M44 458h4M44 462h4"/>
<path stroke="#14ffeb" d="M48 462h4M48 466h4"/>
<path stroke="#18ffe7" d="M52 470h4"/>
<path stroke="#1cffe3" d="M52 462h4M52 466h4M56 474h4M60 478h4"/>
<path stroke="#20ffdf" d="M56 470h4"/>
<path stroke="#24ffdb" d="M56 466h4"/>
<path stroke="#28ffd7" d="M60 474h4"/>
<path stroke="#2cffd3" d="M60 470h4"/>
<path stroke="#30ffcf" d="M64 478h4"/>
<path stroke="#3cffc3" d="M64 470h4M64 474h4"/>
<path stroke="#48ffb7" d="M68 478h4"/>
<path stroke="#4cffb3" d="M68 474h4"/>
<path stroke="#54ffab" d="M68 482h4"/>
</g></g>
<g clip-path="url(#cd2)"><g filter="url(#bl12)" stroke-width="12.3">
<path stroke="#000083" d="M48 486h24M48 498h12"/>
<path stroke="#00008f" d="M36 486h12"/>
<path stroke="#00009f" d="M444 102h12"/>
<path stroke="#0000a3" d="M456 102h12M444 114h12M36 474h24"/>
<path stroke="#0000a7" d="M24 474h12"/>
<path stroke="#0000ab" d="M456 90h12M432 114h12"/>
<path stroke="#0000af" d="M468 90h12M12 474h12"/>
<path stroke="#0000b3" d="M456 114h12M24 462h24"/>
<path stroke="#0000b7" d="M432 102h12M468 102h12M12 462h12M48 462h12"/>
<path stroke="#0000bb" d="M432 126h12M216 378h12M204 390h12M192 402h12M12 450h36M0 462h12M60 474h12"/>
<path stroke="#0000bf" d="M456 78h12M480 90h12M420 114h12M444 126h12M252 354h12M216 366h24M192 378h24M192 390h12M180 402h12M180 414h12M0 438h12M-12 450h24"/>
<path stroke="#0000c3" d="M444 90h12M420 126h12M216 354h36M192 366h24M180 378h12M168 390h24M168 402h12M168 414h12M12 438h24M48 450h12"/>
<path stroke="#0000c7" d="M468 114h12M288 186h12M228 234h12M216 246h24M204 258h24M216 342h60M192 354h24M168 366h24M156 378h24M156 390h12M144 402h24M144 414h24M156 426h12M36 438h24M60 450h12M60 462h12"/>
<path stroke="#0000cb" d="M480 102h12M348 138h12M336 150h12M324 162h24M312 174h24M300 186h24M276 198h36M264 210h24M252 222h24M240 234h24M240 246h12M228 258h12M192 270h36M204 330h84M180 342h36M156 354h36M144 366h24M132 378h24M132 390h24M120 402h24M132 414h12M36 426h24M132 426h24M-12 438h12M60 438h12M144 438h12"/>
<path stroke="#0000cf" d="M420 102h12M408 114h12M360 126h12M408 126h12M456 126h12M360 138h12M348 150h24M348 162h12M336 174h24M324 186h36M312 198h36M288 210h48M276 222h36M264 234h24M252 246h24M240 258h24M228 270h36M168 282h84M156 294h84M180 306h120M168 318h132M156 330h48M144 342h36M132 354h24M120 366h24M108 378h24M96 390h36M84 402h36M48 414h84M12 426h24M60 426h24M120 426h12M72 438h12M132 438h12"/>
<path stroke="#0000d3" d="M396 102h12M492 102h12M384 114h24M372 126h36M372 138h24M408 138h36M372 150h12M360 162h24M360 174h24M360 186h24M348 198h36M336 210h48M312 222h60M288 234h72M276 246h72M264 258h36M264 270h36M252 282h60M240 294h96M144 306h36M300 306h12M132 318h36M120 330h36M108 342h36M96 354h36M84 366h36M72 378h36M60 390h36M48 402h36M24 414h24M0 426h12M84 426h36M84 438h12M108 438h24M72 450h12M132 450h12"/>
<path stroke="#0000d7" d="M408 102h12M480 114h12M396 138h12M444 138h12M384 150h36M384 162h24M384 174h24M384 186h24M384 198h24M384 210h24M372 222h24M360 234h36M348 246h48M300 258h72M300 270h60M312 282h36M96 342h12M84 354h12M72 366h12M60 378h12M48 390h12M36 402h12M96 438h12M84 450h12M120 450h12M72 462h12"/>
<path stroke="#0000db" d="M468 126h12M420 150h12M408 162h12M408 174h12M408 186h12M408 198h12M408 210h12M396 222h24M396 234h12M36 390h12M24 402h12M12 414h12M96 450h24"/>
<path stroke="#0000df" d="M408 90h12M492 114h12M456 138h12M432 150h12M420 162h12M420 174h12M420 186h12M420 198h12M420 210h12M120 462h12"/>
<path stroke="#0000e3" d="M504 114h12M480 126h12M444 150h12M432 162h12M432 174h12M432 186h12M432 198h12M84 462h12M108 462h12"/>
<path stroke="#0000e7" d="M420 90h12M492 126h12M468 138h12M456 150h12M444 162h12M444 174h12M444 186h12M96 462h12"/>
<path stroke="#0000eb" d="M432 90h12M504 126h12M480 138h12M468 150h12M456 162h12M456 174h12M456 186h12M72 474h12"/>
<path stroke="#0000ef" d="M516 126h12M492 138h12M480 150h12M468 162h12M468 174h12M108 474h12"/>
<path stroke="#0000f3" d="M504 138h12M492 150h12M480 162h12"/>
<path stroke="#0000f7" d="M420 78h12M84 474h24"/>
<path stroke="#0014ff" d="M84 486h12"/>
<path stroke="#0028ff" d="M72 486h12"/>
<path stroke="#004cff" d="M444 78h12"/>
<path stroke="#0050ff" d="M444 66h12M72 498h12"/>
<path stroke="#007cff" d="M60 510h12"/>
<path stroke="#0080ff" d="M60 498h12"/>
<path stroke="#0093ff" d="M432 78h12"/>
</g></g>
<g clip-path="url(#cd2p0)"><g filter="url(#bl4)" stroke-width="4.3">
<path stroke="#000083" d="M60 486h8"/>
<path stroke="#000087" d="M56 482h8"/>
<path stroke="#00008b" d="M52 482h4M64 482h4"/>
<path stroke="#000097" d="M48 478h12"/>
<path stroke="#00009f" d="M44 474h8M60 478h4"/>
<path stroke="#0000a3" d="M52 474h4"/>
<path stroke="#0000a7" d="M36 470h16M56 474h4"/>
<path stroke="#0000ab" d="M40 466h4M52 470h4"/>
<path stroke="#0000af" d="M32 466h8M44 466h8M56 470h4M60 474h4M64 478h4"/>
<path stroke="#0000b3" d="M24 462h28M52 466h4"/>
<path stroke="#0000b7" d="M28 454h12M20 458h32M52 462h4M56 466h4M60 470h4"/>
<path stroke="#0000bb" d="M20 450h24M20 454h8M40 454h12M52 458h4M56 462h4M60 466h4M64 474h4"/>
<path stroke="#0000bf" d="M20 446h28M44 450h8M52 454h8M56 458h4M60 462h4M64 470h4"/>
<path stroke="#0000c3" d="M20 438h20M20 442h32M48 446h8M52 450h8M60 454h4M60 458h4M64 466h4"/>
<path stroke="#0000c7" d="M40 438h20M52 442h12M56 446h8M60 450h8M64 454h4M64 458h4M64 462h4"/>
<path stroke="#0000cb" d="M60 438h12M64 442h8M64 446h8M68 450h4M68 454h4M68 458h4M68 462h4M68 466h4"/>
<path stroke="#0000cf" d="M72 438h8M72 442h8M72 446h4M72 450h4M72 454h4M68 470h4M68 474h4"/>
<path stroke="#0000d3" d="M80 438h20M112 438h4M80 442h12M76 446h8M76 450h8M76 454h4M72 458h4M72 462h4M68 478h4"/>
<path stroke="#0000d7" d="M100 438h12M92 442h24M84 446h16M112 446h4M84 450h8M80 454h4M76 458h4M76 462h4M72 466h4"/>
<path stroke="#0000db" d="M100 446h12M92 450h24M84 454h8M80 458h8M76 466h4M72 470h4"/>
<path stroke="#0000df" d="M92 454h20M88 458h8M80 462h8M72 474h4"/>
<path stroke="#0000e3" d="M96 458h12M88 462h8M80 466h4M76 470h4"/>
<path stroke="#0000e7" d="M96 462h8M84 466h8M80 470h4"/>
<path stroke="#0000eb" d="M92 466h8M84 470h4M76 474h4M68 482h4"/>
<path stroke="#0000ef" d="M88 470h4M72 478h4"/>
<path stroke="#0000f3" d="M80 474h4"/>
<path stroke="#0000f7" d="M84 474h4"/>
<path stroke="#0000fb" d="M76 478h4"/>
<path stroke="#0000ff" d="M80 478h4"/>
<path stroke="#0010ff" d="M72 482h8"/>
<path stroke="#0038ff" d="M72 486h4"/>
<path stroke="#0064ff" d="M68 486h4"/>
<path stroke="#0087ff" d="M64 490h4"/>
</g></g>
<g clip-path="url(#cd2p1)"><g filter="url(#bl4)" stroke-width="4.3">
<path stroke="#00009b" d="M452 102h4M448 106h8M448 110h4"/>
<path stroke="#00009f" d="M456 98h4M448 102h4M456 102h4M444 106h4M456 106h4M444 110h4M452 110h4"/>
<path stroke="#0000a3" d="M452 98h4M460 98h4M460 102h4M460 106h4M440 110h4M456 110h4M440 114h16"/>
<path stroke="#0000a7" d="M456 94h8M448 98h4M464 98h4M444 102h4M464 102h4M440 106h4M444 118h4"/>
<path stroke="#0000ab" d="M452 94h4M468 98h4M464 106h4M436 110h4M460 110h4M436 114h4M456 114h4M436 118h8M448 118h4"/>
<path stroke="#0000af" d="M456 90h4M444 98h4M440 102h4M468 102h4M436 106h4M432 114h4M452 118h4M440 122h4"/>
<path stroke="#0000b3" d="M452 90h4M448 94h4M468 106h4M432 110h4M464 110h4M460 114h4M432 118h4M456 118h4M436 122h4M444 122h8"/>
<path stroke="#0000b7" d="M440 98h4M436 102h4M472 102h4M432 106h4M428 114h4M428 118h4M432 122h4M452 122h4"/>
<path stroke="#0000bb" d="M472 106h4M428 110h4M468 110h4M464 114h4M460 118h4M428 122h4M432 126h16"/>
<path stroke="#0000bf" d="M452 86h4M444 94h4M432 102h4M424 114h4M424 118h4M424 122h4M456 122h4M428 126h4M448 126h4"/>
<path stroke="#0000c3" d="M448 90h4M436 98h4M428 106h4M476 106h4M424 110h4M472 110h4M468 114h4M464 118h4M460 122h4M424 126h4M452 126h4M432 130h12"/>
<path stroke="#0000c7" d="M440 94h4M424 106h4M480 106h4M476 110h4M420 114h4M472 114h4M420 118h4M420 122h4M420 126h4M456 126h4M424 130h8M444 130h8"/>
<path stroke="#0000cb" d="M432 98h4M428 102h4M420 110h4M416 114h4M416 118h4M468 118h4M416 122h4M464 122h4M416 126h4M420 130h4M452 130h4M424 134h20"/>
<path stroke="#0000cf" d="M436 94h4M424 102h4M420 106h4M416 110h4M480 110h4M412 114h4M476 114h4M412 118h4M472 118h4M412 122h4M468 122h4M412 126h4M460 126h4M412 130h8M456 130h4M416 134h8M444 134h8"/>
<path stroke="#0000d3" d="M428 98h4M420 102h4M416 106h4M408 110h8M484 110h4M404 114h8M480 114h4M400 118h12M476 118h4M396 122h16M396 126h16M464 126h4M396 130h16M460 130h4M396 134h20M452 134h4"/>
<path stroke="#0000d7" d="M432 94h4M424 98h4M484 114h4M480 118h4M472 122h4M468 126h4M464 130h4M456 134h4"/>
<path stroke="#0000db" d="M488 114h4M484 118h4M476 122h8M472 126h4M468 130h4M460 134h4"/>
<path stroke="#0000df" d="M428 94h4M488 118h4M484 122h4M476 126h8M472 130h4M464 134h8"/>
<path stroke="#0000e3" d="M488 122h4M484 126h8M476 130h8M472 134h8"/>
<path stroke="#0000e7" d="M484 130h8M480 134h8"/>
<path stroke="#0000eb" d="M436 90h4M488 134h4"/>
<path stroke="#0000f7" d="M440 90h4"/>
<path stroke="#003cff" d="M448 86h4"/>
<path stroke="#0054ff" d="M444 90h4"/>
<path stroke="#0058ff" d="M444 82h4"/>
<path stroke="#0064ff" d="M440 86h4"/>
<path stroke="#0068ff" d="M444 86h4"/>
</g></g>
<g clip-path="url(#cd3)"><g filter="url(#bl12)" stroke-width="12.3">
<path stroke="#000083" d="M564 -18h12M552 -6h36M552 6h48M600 18h12"/>
<path stroke="#000087" d="M588 18h12M600 30h12"/>
<path stroke="#00008f" d="M576 18h12"/>
<path stroke="#000097" d="M564 18h12"/>
<path stroke="#00009b" d="M528 18h12M588 30h12"/>
<path stroke="#00009f" d="M540 18h24"/>
<path stroke="#0000a3" d="M540 6h12"/>
<path stroke="#0000ab" d="M576 30h12"/>
<path stroke="#0000b3" d="M528 30h12M564 30h12"/>
<path stroke="#0000b7" d="M528 6h12M432 102h12"/>
<path stroke="#0000bb" d="M552 30h12"/>
<path stroke="#0000bf" d="M516 18h12M540 30h12M588 42h12"/>
<path stroke="#0000c3" d="M528 -6h12M516 30h12"/>
<path stroke="#0000c7" d="M576 42h12"/>
<path stroke="#0000cb" d="M516 6h12"/>
<path stroke="#0000cf" d="M540 -6h12M564 42h12M600 42h12M420 102h12"/>
<path stroke="#0000d7" d="M552 42h12"/>
<path stroke="#0000db" d="M504 18h12"/>
<path stroke="#0000df" d="M540 42h12"/>
<path stroke="#0000e3" d="M504 30h12M528 42h12"/>
<path stroke="#0000e7" d="M516 42h12M576 54h24M420 90h12"/>
<path stroke="#0000eb" d="M564 54h12M432 90h12"/>
<path stroke="#0000ef" d="M492 30h12M552 54h12"/>
<path stroke="#0000f7" d="M480 30h12M504 42h12M540 54h12M600 54h12M420 78h12"/>
<path stroke="#0000fb" d="M528 54h12"/>
<path stroke="#0000ff" d="M492 42h12M576 66h24"/>
<path stroke="#0004ff" d="M480 42h12M516 54h12M612 54h12M564 66h12"/>
<path stroke="#0008ff" d="M504 54h12M600 66h12"/>
<path stroke="#000cff" d="M468 42h12M492 54h12M552 66h12"/>
<path stroke="#0010ff" d="M480 54h12M540 66h12M444 102h24M444 114h12"/>
<path stroke="#0014ff" d="M516 66h24"/>
<path stroke="#0018ff" d="M468 54h12M492 66h24M576 78h24M432 114h12"/>
<path stroke="#001cff" d="M480 66h12M564 78h12M456 90h12"/>
<path stroke="#0020ff" d="M468 66h12M468 90h12M456 114h12"/>
<path stroke="#0024ff" d="M468 78h60M468 102h12"/>
<path stroke="#0028ff" d="M456 54h12M528 78h24"/>
<path stroke="#002cff" d="M456 78h12M480 90h12"/>
<path stroke="#0030ff" d="M492 90h12"/>
<path stroke="#0034ff" d="M456 66h12M552 78h12M444 90h12M504 90h24M480 102h12M468 114h12"/>
<path stroke="#0038ff" d="M528 90h12M456 126h12"/>
<path stroke="#003cff" d="M540 90h12M492 102h12"/>
<path stroke="#0040ff" d="M504 102h12"/>
<path stroke="#0044ff" d="M516 102h12M480 114h12"/>
<path stroke="#0048ff" d="M552 90h12M528 102h12M492 114h12M468 126h12"/>
<path stroke="#004cff" d="M444 78h12M540 102h12M504 114h24M480 126h12"/>
<path stroke="#0050ff" d="M444 66h12M492 126h12M468 138h12"/>
<path stroke="#0054ff" d="M564 90h12M552 102h12M528 114h12M504 126h12M480 138h12"/>
<path stroke="#0058ff" d="M540 114h12M516 126h12M492 138h24M480 150h12"/>
<path stroke="#005cff" d="M528 126h12M492 150h12"/>
<path stroke="#0093ff" d="M432 78h12"/>
<path stroke="#00b3ff" d="M612 42h24"/>
<path stroke="#00bfff" d="M624 30h12"/>
<path stroke="#00cfff" d="M612 30h12"/>
<path stroke="#00dbff" d="M552 -18h12"/>
</g></g>
<g clip-path="url(#cd3p1)"><g filter="url(#bl4)" stroke-width="4.3">
<path stroke="#0000c7" d="M440 94h4"/>
<path stroke="#0000cf" d="M436 94h4"/>
<path stroke="#0000eb" d="M436 90h4"/>
<path stroke="#0000f7" d="M440 90h4"/>
<path stroke="#000cff" d="M452 102h8M452 106h8"/>
<path stroke="#0010ff" d="M484 54h8M452 98h12M448 102h4M460 102h4M460 106h4M456 110h4"/>
<path stroke="#0014ff" d="M480 54h4M484 58h8M456 94h8M464 98h4M464 102h4"/>
<path stroke="#0018ff" d="M476 58h8M480 62h12M464 94h8M448 98h4M468 98h4M464 106h4M460 110h4"/>
<path stroke="#001cff" d="M476 62h4M480 66h12M488 70h4M460 90h12M452 94h4M468 102h4"/>
<path stroke="#0020ff" d="M472 62h4M472 66h8M476 70h12M476 74h16M468 82h8M460 86h16M456 90h4M472 90h4M472 94h4M444 98h4M472 98h4M468 106h4M464 110h4"/>
<path stroke="#0024ff" d="M468 66h4M472 70h4M472 74h4M468 78h24M464 82h4M476 82h12M476 86h8M452 90h4M476 90h4M448 94h4M476 94h4M472 102h4"/>
<path stroke="#0028ff" d="M468 70h4M468 74h4M464 78h4M460 82h4M488 82h4M456 86h4M484 86h8M480 90h4M480 94h4M440 98h4M476 98h4M472 106h4M468 110h4M464 114h4"/>
<path stroke="#002cff" d="M464 66h4M464 70h4M464 74h4M460 78h4M484 90h8M444 94h4M484 94h4M480 98h4M476 102h4M472 110h4M468 114h4"/>
<path stroke="#0030ff" d="M460 74h4M456 82h4M452 86h4M488 94h4M484 98h4M480 102h4M476 106h4"/>
<path stroke="#0034ff" d="M460 70h4M456 78h4M448 90h4M488 98h4M484 102h4M480 106h4M476 110h4M472 114h4M468 118h4"/>
<path stroke="#0038ff" d="M456 74h4M452 82h4M488 102h4M484 106h4M480 110h4"/>
<path stroke="#003cff" d="M448 86h4M488 106h4M484 110h4M476 114h4M472 118h4"/>
<path stroke="#0040ff" d="M452 78h4M488 110h4M480 114h4M476 118h4"/>
<path stroke="#0044ff" d="M448 82h4M484 114h8M480 118h4M476 122h4"/>
<path stroke="#0048ff" d="M484 118h8M480 122h8"/>
<path stroke="#004cff" d="M448 78h4M488 122h4M480 126h12"/>
<path stroke="#0054ff" d="M444 90h4"/>
<path stroke="#0058ff" d="M444 82h4"/>
<path stroke="#0064ff" d="M440 86h4"/>
<path stroke="#0068ff" d="M444 86h4"/>
</g></g>
<g clip-path="url(#cd4)"><g filter="url(#bl12)" stroke-width="12.3">
<path stroke="#0020ff" d="M72 618h12"/>
<path stroke="#0030ff" d="M84 606h12"/>
<path stroke="#0044ff" d="M72 606h12"/>
<path stroke="#0064ff" d="M60 606h12"/>
<path stroke="#0078ff" d="M60 594h12"/>
<path stroke="#008fff" d="M84 594h12M156 630h24"/>
<path stroke="#0093ff" d="M156 522h12M144 534h24M144 546h24M132 558h48M132 570h48M120 582h60M72 594h12M132 594h48M144 606h48M144 618h48M132 630h24M180 630h24"/>
<path stroke="#0097ff" d="M132 534h12M168 534h12M132 546h12M168 546h24M120 558h12M180 558h12M120 570h12M180 570h12M108 582h12M180 582h12M96 594h36M180 594h24M120 606h24M192 606h12M132 618h12M192 618h12M204 630h12"/>
<path stroke="#009bff" d="M120 546h12M192 558h12M108 570h12M192 570h12M96 582h12M192 582h12M204 594h12M108 606h12M204 606h12M120 618h12M204 618h12M120 630h12M216 630h12"/>
<path stroke="#009fff" d="M108 558h12M204 558h12M96 570h12M204 570h12M84 582h12M204 582h12M96 606h12M216 606h12M108 618h12M216 618h12M108 630h12"/>
<path stroke="#00a3ff" d="M216 570h12M216 582h12M216 594h12M228 618h12M228 630h12"/>
<path stroke="#00a7ff" d="M84 570h12M72 582h12M228 582h12M228 594h12M228 606h12M240 630h12"/>
<path stroke="#00abff" d="M240 594h12M240 606h12M96 618h12M240 618h12M96 630h12"/>
<path stroke="#00afff" d="M240 582h12M252 618h12M252 630h12"/>
<path stroke="#00b3ff" d="M252 594h12M252 606h12"/>
<path stroke="#00bbff" d="M84 630h12"/>
<path stroke="#00bfff" d="M84 618h12"/>
</g></g>
<g clip-path="url(#cd5)"><g filter="url(#bl12)" stroke-width="12.3">
<path stroke="#0030ff" d="M588 186h12"/>
<path stroke="#003cff" d="M600 186h12"/>
<path stroke="#0040ff" d="M600 198h12"/>
<path stroke="#004cff" d="M612 186h12"/>
<path stroke="#0093ff" d="M156 522h12M144 534h24M144 546h24M132 558h48M144 570h36M168 582h12"/>
<path stroke="#0097ff" d="M168 510h12M168 522h12M132 534h12M168 534h24M132 546h12M168 546h24M180 558h12M180 570h12M180 582h12M180 594h24M192 606h12"/>
<path stroke="#009bff" d="M180 498h12M180 510h12M180 522h12M192 546h12M192 558h12M192 570h12M192 582h12M204 594h12M204 606h12"/>
<path stroke="#009fff" d="M192 498h12M192 510h12M192 522h12M192 534h12M204 546h12M204 558h12M204 570h12M204 582h12M216 606h12M216 618h12"/>
<path stroke="#00a3ff" d="M204 510h12M204 522h12M204 534h12M216 558h12M216 570h12M216 582h12M216 594h12M228 618h12M228 630h12"/>
<path stroke="#00a7ff" d="M204 486h12M204 498h12M216 522h12M216 534h12M216 546h12M228 582h12M228 594h12M228 606h12M240 630h12"/>
<path stroke="#00abff" d="M216 498h12M216 510h12M228 534h12M228 546h12M228 558h12M228 570h12M240 594h12M240 606h12M240 618h12"/>
<path stroke="#00afff" d="M612 198h12M216 486h12M228 510h12M228 522h12M240 546h12M240 558h12M240 570h12M240 582h12M252 618h12M252 630h12"/>
<path stroke="#00b3ff" d="M624 198h12M216 474h12M228 486h12M228 498h12M240 522h12M240 534h12M252 570h12M252 582h12M252 594h12M252 606h12M264 630h12"/>
<path stroke="#00b7ff" d="M228 474h12M240 498h12M240 510h12M252 522h12M252 534h12M252 546h12M252 558h12M264 582h12M264 594h12M264 606h12M264 618h12"/>
<path stroke="#00bbff" d="M624 210h12M240 486h12M252 498h12M252 510h12M264 534h12M264 546h12M264 558h12M264 570h12M276 606h12M276 618h12M276 630h12"/>
<path stroke="#00bfff" d="M612 210h12M228 462h12M240 474h12M252 486h12M264 510h12M264 522h12M276 534h12M276 546h12M276 558h12M276 570h12M276 582h12M276 594h12M288 630h12"/>
<path stroke="#00c3ff" d="M600 210h12M624 222h12M240 462h12M252 474h12M264 486h12M264 498h12M276 510h12M276 522h12M288 534h12M288 546h12M288 558h12M288 570h12M288 582h12M288 594h12M288 606h12M288 618h12M300 630h12"/>
<path stroke="#00c7ff" d="M600 222h24M624 234h12M264 474h12M276 486h12M276 498h12M288 510h12M288 522h12M300 534h12M300 546h12M300 558h12M300 570h12M300 582h12M300 594h12M300 606h12M300 618h12M312 630h12"/>
<path stroke="#00cbff" d="M588 210h12M588 222h12M600 234h24M624 246h12M240 450h12M252 462h12M276 474h12M288 486h12M288 498h24M300 510h12M300 522h24M312 534h12M312 546h12M312 558h12M312 570h12M312 582h12M312 594h12M312 606h24M312 618h24M324 630h12"/>
<path stroke="#00cfff" d="M576 198h24M552 210h36M540 222h48M564 234h36M588 246h36M612 258h24M252 450h12M264 462h12M288 474h12M300 486h24M312 498h24M312 510h24M324 522h24M324 534h24M324 546h24M324 558h24M324 570h24M324 582h24M324 594h24M336 606h12M336 618h12M336 630h24"/>
<path stroke="#00d3ff" d="M528 234h36M516 246h72M492 258h12M564 258h48M600 270h36M624 282h12M276 462h12M300 474h36M324 486h36M336 498h36M336 510h48M348 522h36M348 534h36M348 546h36M348 558h36M348 570h36M348 582h36M348 594h36M348 606h36M348 618h36M360 630h24"/>
<path stroke="#00d7ff" d="M504 258h60M480 270h120M468 282h12M564 282h60M588 294h48M600 306h36M612 318h24M624 330h12M624 342h12M624 354h12M624 366h12M624 378h12M612 390h24M612 402h24M624 414h12M264 450h12M288 462h84M336 474h60M360 486h48M372 498h48M384 510h48M384 522h48M384 534h48M384 546h48M384 558h48M384 570h48M384 582h36M384 594h36M384 606h36M384 618h36M384 630h36"/>
<path stroke="#00dbff" d="M480 282h84M444 294h144M492 306h108M540 318h72M552 330h72M564 342h60M564 354h60M552 366h72M552 378h72M540 390h72M540 402h72M528 414h96M504 426h132M348 438h24M396 438h240M276 450h360M372 462h264M396 474h168M408 486h132M420 498h108M432 510h84M432 522h60M432 534h48M432 546h36M432 558h24M432 570h24M420 582h36M420 594h36M420 606h36M420 618h36M420 630h36"/>
<path stroke="#00dfff" d="M432 306h60M432 318h108M456 330h96M468 342h96M480 354h84M480 366h72M468 378h84M432 390h108M408 402h132M372 414h156M324 426h180M264 438h12M300 438h48M372 438h24M564 474h72M540 486h96M528 498h84M516 510h60M492 522h60M480 534h60M468 546h48M456 558h36M456 570h24M456 582h24M456 594h24M456 606h24M456 618h24M456 630h24"/>
<path stroke="#00e3ff" d="M420 318h12M408 330h48M408 342h60M408 354h72M396 366h84M384 378h84M372 390h60M336 402h72M324 414h48M300 426h24M612 498h24M576 510h60M552 522h60M540 534h36M516 546h48M492 558h48M480 570h48M480 582h24M480 594h24M480 606h12M480 618h12M480 630h12"/>
<path stroke="#00e7ff" d="M396 330h12M384 342h24M372 354h36M360 366h36M336 378h48M324 390h48M312 402h24M300 414h24M288 426h12M276 438h24M612 522h24M576 534h60M564 546h48M540 558h48M528 570h36M504 582h48M504 594h24M492 606h24M492 618h24M492 630h24"/>
<path stroke="#00ebff" d="M288 414h12M612 546h24M588 558h48M564 570h48M552 582h36M528 594h36M516 606h36M516 618h24M516 630h12"/>
<path stroke="#00efff" d="M276 426h12M612 570h24M588 582h48M564 594h48M552 606h48M540 618h36M528 630h36"/>
<path stroke="#00f3ff" d="M612 594h24M600 606h36M576 618h48M564 630h48"/>
<path stroke="#00f7ff" d="M624 618h12M612 630h24"/>
</g></g>
<g clip-path="url(#cd6)"><g filter="url(#bl12)" stroke-width="12.3">
<path stroke="#0044ff" d="M108 594h12"/>
<path stroke="#004cff" d="M96 594h12"/>
<path stroke="#0050ff" d="M108 606h12"/>
<path stroke="#005cff" d="M96 606h12"/>
<path stroke="#0070ff" d="M96 618h12"/>
<path stroke="#008bff" d="M60 558h12"/>
<path stroke="#009fff" d="M48 546h12"/>
<path stroke="#00a3ff" d="M48 558h12"/>
<path stroke="#00a7ff" d="M48 570h24M84 606h12"/>
<path stroke="#00abff" d="M72 570h12"/>
<path stroke="#00b3ff" d="M36 546h12"/>
<path stroke="#00bbff" d="M36 558h12M60 582h12M84 630h12"/>
<path stroke="#00bfff" d="M48 582h12M84 618h12"/>
<path stroke="#00c3ff" d="M36 570h12M72 582h12"/>
<path stroke="#00c7ff" d="M24 534h12M72 630h12"/>
<path stroke="#00cbff" d="M24 546h12M60 594h12M72 618h12"/>
<path stroke="#00cfff" d="M24 558h12M36 582h12M84 582h12M48 594h12M72 594h12M60 606h24"/>
<path stroke="#00d3ff" d="M60 618h12M60 630h12"/>
<path stroke="#00d7ff" d="M24 570h12M48 606h12"/>
<path stroke="#00dbff" d="M12 522h12M12 534h12M36 594h12M48 618h12"/>
<path stroke="#00dfff" d="M12 546h12M24 582h12M36 606h12M48 630h12"/>
<path stroke="#00e3ff" d="M12 558h12M84 594h12"/>
<path stroke="#00e7ff" d="M0 510h12M24 594h12M36 618h12"/>
<path stroke="#00ebff" d="M0 522h12M0 534h12M12 570h12M24 606h12M36 630h12"/>
<path stroke="#00efff" d="M0 546h12M12 582h12"/>
<path stroke="#00f3ff" d="M-12 510h12M12 594h12M24 618h12M24 630h12"/>
<path stroke="#00f7ff" d="M-12 522h12M0 558h12"/>
<path stroke="#00fbff" d="M-12 534h12M0 570h12M12 606h12"/>
<path stroke="#00ffff" d="M-12 546h12M0 582h12M12 618h12M12 630h12"/>
<path stroke="#04fffb" d="M-24 522h12M-12 558h12M0 594h12"/>
<path stroke="#08fff7" d="M-24 534h12M0 606h12"/>
<path stroke="#0cfff3" d="M-24 546h12M-12 570h12M0 618h12M0 630h12"/>
<path stroke="#10ffef" d="M-24 558h12M-12 582h12"/>
<path stroke="#14ffeb" d="M-12 594h12M-12 606h12"/>
<path stroke="#18ffe7" d="M-24 570h12M-12 618h12M-12 630h12"/>
<path stroke="#1cffe3" d="M-24 582h12"/>
<path stroke="#20ffdf" d="M-24 594h12M-24 606h12M-24 618h12"/>
<path stroke="#24ffdb" d="M-24 630h12"/>
</g></g>
<g clip-path="url(#cd7)"><g filter="url(#bl12)" stroke-width="12.3">
<path stroke="#0000e7" d="M156 522h12M168 534h12M180 546h12"/>
<path stroke="#0000ef" d="M156 534h12M168 546h12M180 558h12"/>
<path stroke="#0000f3" d="M144 522h12"/>
<path stroke="#0000f7" d="M84 474h12M132 510h12M156 546h12M168 558h12M84 606h12"/>
<path stroke="#0000fb" d="M120 498h12M144 534h12"/>
<path stroke="#0000ff" d="M108 486h12M132 522h12M144 546h12M156 558h12"/>
<path stroke="#0004ff" d="M72 474h12"/>
<path stroke="#0008ff" d="M96 486h12M120 510h12M132 534h12M144 558h12M156 570h12"/>
<path stroke="#000cff" d="M108 498h12M132 546h12"/>
<path stroke="#0010ff" d="M120 522h12M144 570h12"/>
<path stroke="#0014ff" d="M84 486h12M108 510h12M120 534h12M132 558h12"/>
<path stroke="#0018ff" d="M144 582h12"/>
<path stroke="#001cff" d="M96 498h12M120 546h12M132 570h12"/>
<path stroke="#0020ff" d="M108 522h12M120 558h12M72 618h12"/>
<path stroke="#0024ff" d="M132 582h12"/>
<path stroke="#0028ff" d="M72 486h12M96 510h12M108 534h12M120 570h12"/>
<path stroke="#002cff" d="M108 546h12M120 582h12M132 594h12"/>
<path stroke="#0030ff" d="M84 498h12M108 558h12"/>
<path stroke="#0034ff" d="M96 522h12"/>
<path stroke="#0038ff" d="M96 534h12M108 570h12M120 594h12"/>
<path stroke="#003cff" d="M108 582h12"/>
<path stroke="#0040ff" d="M84 510h12M96 546h12"/>
<path stroke="#0044ff" d="M96 558h12M108 594h12M72 606h12"/>
<path stroke="#0048ff" d="M84 522h12M96 570h12M96 582h12"/>
<path stroke="#004cff" d="M84 594h24"/>
<path stroke="#0050ff" d="M72 498h12M84 534h12M108 606h12"/>
<path stroke="#0054ff" d="M84 546h12M84 582h12"/>
<path stroke="#0058ff" d="M84 558h12M84 570h12"/>
<path stroke="#005cff" d="M72 510h12M72 594h12M96 606h12"/>
<path stroke="#0064ff" d="M72 522h12M60 606h12"/>
<path stroke="#0068ff" d="M72 534h12M72 582h12"/>
<path stroke="#006cff" d="M72 546h12"/>
<path stroke="#0070ff" d="M72 558h12M72 570h12M96 618h12"/>
<path stroke="#0078ff" d="M60 594h12"/>
<path stroke="#007cff" d="M60 510h12"/>
<path stroke="#0080ff" d="M60 498h12M60 522h12"/>
<path stroke="#0083ff" d="M60 534h12M60 582h12"/>
<path stroke="#0087ff" d="M60 546h12M60 558h12M60 570h12"/>
<path stroke="#008bff" d="M48 606h12"/>
<path stroke="#0097ff" d="M48 522h12"/>
<path stroke="#009bff" d="M48 510h12M48 534h12"/>
<path stroke="#009fff" d="M48 546h12M48 594h12"/>
<path stroke="#00a3ff" d="M48 558h12"/>
<path stroke="#00a7ff" d="M48 570h12"/>
<path stroke="#00abff" d="M48 498h12M48 582h12"/>
<path stroke="#00b3ff" d="M36 522h12M36 534h12M36 546h12"/>
<path stroke="#00b7ff" d="M60 486h12M36 510h12"/>
<path stroke="#00bbff" d="M36 558h12M84 630h12"/>
<path stroke="#00bfff" d="M84 618h12"/>
<path stroke="#00c3ff" d="M36 498h12M36 570h12"/>
<path stroke="#00c7ff" d="M24 522h12M24 534h12"/>
<path stroke="#00cbff" d="M24 510h12M24 546h12M36 594h12"/>
<path stroke="#00cfff" d="M24 498h12M24 558h12M36 582h12"/>
<path stroke="#00d3ff" d="M36 486h24"/>
<path stroke="#00d7ff" d="M24 570h12"/>
<path stroke="#00dbff" d="M24 486h12M12 510h12M12 522h12M12 534h12"/>
<path stroke="#00dfff" d="M12 498h12M12 546h12M24 582h12"/>
<path stroke="#00e3ff" d="M12 558h12"/>
<path stroke="#00e7ff" d="M0 510h12"/>
<path stroke="#00ebff" d="M0 522h12M0 534h12M12 570h12"/>
<path stroke="#00efff" d="M36 474h12M0 546h12"/>
<path stroke="#00f3ff" d="M-12 510h12"/>
<path stroke="#00f7ff" d="M-12 522h12M0 558h12"/>
<path stroke="#00fbff" d="M-12 534h12M0 570h12"/>
<path stroke="#00ffff" d="M-12 546h12"/>
<path stroke="#04fffb" d="M-24 522h12M-12 558h12"/>
<path stroke="#08fff7" d="M-24 534h12"/>
<path stroke="#0cfff3" d="M48 474h12M-24 546h12"/>
<path stroke="#14ffeb" d="M-36 534h12"/>
<path stroke="#1cffe3" d="M48 462h12"/>
<path stroke="#38ffc7" d="M60 462h12"/>
<path stroke="#3cffc3" d="M60 474h12"/>
<path stroke="#58ffa7" d="M72 462h12"/>
</g></g>
<g clip-path="url(#cd7p0)"><g filter="url(#bl4)" stroke-width="4.3">
<path stroke="#000cff" d="M72 478h4"/>
<path stroke="#0010ff" d="M76 482h8"/>
<path stroke="#0014ff" d="M108 502h4M112 506h4M112 510h4"/>
<path stroke="#0018ff" d="M104 502h4M108 506h4M112 514h4"/>
<path stroke="#001cff" d="M72 482h4M84 486h4M96 494h4M100 498h4M108 510h4M112 518h4"/>
<path stroke="#0020ff" d="M80 486h4M88 490h4M92 494h4M96 498h4M100 502h4M104 506h4M104 510h4M108 514h4M112 522h4M112 526h4"/>
<path stroke="#0024ff" d="M84 490h4M100 506h4M104 514h4M108 518h4M108 522h4M112 530h4"/>
<path stroke="#0028ff" d="M76 486h4M88 494h4M92 498h4M96 502h4M100 510h4M104 518h4M108 526h4"/>
<path stroke="#002cff" d="M96 506h4M100 514h4M104 522h4M108 530h4"/>
<path stroke="#0030ff" d="M80 490h4M84 494h4M88 498h4M92 502h4M96 510h4M100 518h4M104 526h4M104 530h4"/>
<path stroke="#0034ff" d="M92 506h4M96 514h4M100 522h4M100 526h4"/>
<path stroke="#0038ff" d="M72 486h4M80 494h4M84 498h4M88 502h4M92 510h4M96 518h4M96 522h4M100 530h4"/>
<path stroke="#003cff" d="M76 490h4M88 506h4M92 514h4M96 526h4"/>
<path stroke="#0040ff" d="M84 502h4M88 510h4M92 518h4M92 522h4M96 530h4"/>
<path stroke="#0044ff" d="M80 498h4M84 506h4M88 514h4M92 526h4"/>
<path stroke="#0048ff" d="M76 494h4M80 502h4M84 510h4M88 518h4M88 522h4M92 530h4"/>
<path stroke="#004cff" d="M72 490h4M84 514h4M88 526h4"/>
<path stroke="#0050ff" d="M76 498h4M80 506h4M84 518h4M88 530h4"/>
<path stroke="#0054ff" d="M76 502h4M80 510h4M84 522h4M84 526h4"/>
<path stroke="#0058ff" d="M72 494h4M76 506h4M80 514h4M80 518h4M84 530h4"/>
<path stroke="#005cff" d="M72 498h4M76 510h4M80 522h4M80 526h4"/>
<path stroke="#0060ff" d="M72 502h4M76 514h4M80 530h4"/>
<path stroke="#0064ff" d="M72 506h4M76 518h4M76 522h4"/>
<path stroke="#0068ff" d="M72 510h4M72 514h4M76 526h4M76 530h4"/>
<path stroke="#006cff" d="M68 490h4M68 494h4M72 518h4"/>
<path stroke="#0070ff" d="M68 498h4M68 502h4M68 506h4M72 522h4M72 526h4M72 530h4"/>
<path stroke="#0074ff" d="M68 486h4M68 510h4M68 514h4M68 518h4"/>
<path stroke="#0078ff" d="M68 522h4M68 526h4"/>
<path stroke="#007cff" d="M64 502h4M64 506h4M64 510h4M64 514h4M68 530h4"/>
<path stroke="#0080ff" d="M64 498h4M64 518h4M64 522h4M64 526h4"/>
<path stroke="#0083ff" d="M64 494h4M64 530h4"/>
<path stroke="#0087ff" d="M60 506h4M60 510h4M60 514h4M60 518h4M60 522h4M60 526h4"/>
<path stroke="#008bff" d="M60 502h4M60 530h4"/>
<path stroke="#008fff" d="M60 498h4M56 514h4M56 518h4M56 522h4M56 526h4"/>
<path stroke="#0093ff" d="M64 490h4M56 506h4M56 510h4M56 530h4"/>
<path stroke="#0097ff" d="M56 502h4M52 522h4"/>
<path stroke="#009bff" d="M60 494h4M52 510h4M52 514h4M52 518h4M52 526h4M52 530h4"/>
<path stroke="#009fff" d="M56 498h4M52 506h4"/>
<path stroke="#00a3ff" d="M52 502h4M48 514h4M48 518h4M48 522h4M48 526h4M48 530h4"/>
<path stroke="#00a7ff" d="M48 510h4"/>
<path stroke="#00abff" d="M56 494h4M52 498h4M48 506h4M44 514h4M44 518h4M44 522h4M44 526h4M44 530h4"/>
<path stroke="#00afff" d="M60 490h4M48 502h4M44 510h4"/>
<path stroke="#00b3ff" d="M48 498h4M44 506h4M40 514h4M40 518h4M40 522h4M40 526h4M40 530h4"/>
<path stroke="#00b7ff" d="M64 486h4M52 494h4M44 502h4M40 506h4M40 510h4M36 522h4M36 526h4M36 530h4"/>
<path stroke="#00bbff" d="M56 490h4M48 494h4M44 498h4M40 502h4M36 510h4M36 514h4M36 518h4"/>
<path stroke="#00bfff" d="M36 506h4M32 518h4M32 522h4M32 526h4M32 530h4"/>
<path stroke="#00c3ff" d="M52 490h4M44 494h4M40 498h4M36 502h4M32 510h4M32 514h4"/>
<path stroke="#00c7ff" d="M48 490h4M40 494h4M36 498h4M32 502h4M32 506h4M28 514h4M28 518h4M28 522h4M28 526h4M28 530h4"/>
<path stroke="#00cbff" d="M60 486h4M44 490h4M36 494h4M32 498h4M28 506h4M28 510h4"/>
<path stroke="#00cfff" d="M28 502h4M24 506h4M24 510h4M24 514h4M24 518h4M24 522h4M24 526h4M24 530h4"/>
<path stroke="#00d3ff" d="M48 486h12M20 510h4M20 514h4M20 518h4M20 522h4M20 526h4M20 530h4"/>
<path stroke="#00e3ff" d="M52 482h4"/>
<path stroke="#00ebff" d="M56 482h4"/>
<path stroke="#00f7ff" d="M60 482h4"/>
<path stroke="#00ffff" d="M64 482h4"/>
<path stroke="#04fffb" d="M56 478h4"/>
<path stroke="#1cffe3" d="M60 478h4"/>
<path stroke="#28ffd7" d="M60 474h4"/>
<path stroke="#30ffcf" d="M64 478h4"/>
<path stroke="#3cffc3" d="M64 474h4"/>
<path stroke="#48ffb7" d="M68 478h4"/>
<path stroke="#4cffb3" d="M68 474h4"/>
<path stroke="#54ffab" d="M68 482h4"/>
</g></g>
<g clip-path="url(#cd8)"><g filter="url(#bl12)" stroke-width="12.3">
<path stroke="#000083" d="M48 486h24M48 498h12"/>
<path stroke="#00008b" d="M300 462h12"/>
<path stroke="#00008f" d="M36 486h12"/>
<path stroke="#000093" d="M288 450h36M288 462h12"/>
<path stroke="#000097" d="M288 474h12"/>
<path stroke="#00009b" d="M288 438h36M276 450h12M276 462h12M276 474h12"/>
<path stroke="#00009f" d="M288 426h24M276 438h12M324 438h12M264 450h12M264 462h12"/>
<path stroke="#0000a3" d="M264 426h24M312 426h24M252 438h24M336 438h12M252 450h12M36 474h24M264 474h12"/>
<path stroke="#0000a7" d="M252 414h72M240 426h24M336 426h12M240 438h12M240 450h12M252 462h12M252 474h12M264 486h12"/>
<path stroke="#0000ab" d="M252 402h60M240 414h12M324 414h12M228 426h12M348 426h12M228 438h12M228 450h12M240 462h12M240 474h12M252 486h12"/>
<path stroke="#0000af" d="M264 390h36M240 402h12M312 402h24M228 414h12M336 414h24M216 426h12M216 438h12M216 450h12M216 462h24M228 474h12M240 486h12M252 498h12"/>
<path stroke="#0000b3" d="M240 390h24M300 390h24M216 402h24M336 402h12M216 414h12M360 414h12M204 426h12M204 438h12M204 450h12M216 474h12M228 486h12M240 498h12"/>
<path stroke="#0000b7" d="M240 378h84M216 390h24M324 390h24M204 402h12M348 402h12M204 414h12M192 426h12M192 438h12M48 462h12M204 462h12M204 474h12M216 486h12"/>
<path stroke="#0000bb" d="M240 366h72M216 378h24M324 378h12M204 390h12M348 390h12M192 402h12M360 402h24M192 414h12M180 426h12M180 438h12M192 450h12M192 462h12M60 474h12M204 486h12M228 498h12M240 510h12"/>
<path stroke="#0000bf" d="M252 354h60M216 366h24M312 366h24M192 378h24M336 378h24M192 390h12M360 390h12M180 402h12M180 414h12M180 450h12M180 462h12M192 474h12M216 498h12M228 510h12"/>
<path stroke="#0000c3" d="M216 354h36M312 354h24M192 366h24M336 366h12M180 378h12M360 378h12M168 390h24M372 390h24M168 402h12M168 414h12M168 426h12M168 438h12M168 450h12M180 474h12M192 486h12M204 498h12M216 510h12"/>
<path stroke="#0000c7" d="M468 114h12M216 342h108M192 354h24M336 354h12M168 366h24M348 366h24M156 378h24M372 378h12M156 390h12M396 390h12M144 402h24M144 414h24M156 426h12M156 438h12M60 450h12M60 462h12M168 462h12M180 486h12M192 498h12M204 510h12"/>
<path stroke="#0000cb" d="M216 330h108M192 342h24M324 342h24M180 354h12M348 354h24M372 366h12M384 378h24M144 390h12M120 402h24M132 414h12M132 426h24M144 438h12M156 450h12M156 462h12M168 474h12M180 498h12M192 510h12M216 522h12"/>
<path stroke="#0000cf" d="M456 126h12M240 306h60M228 318h108M324 330h36M348 342h24M372 354h12M384 366h24M408 378h12M108 414h24M120 426h12M132 438h12M144 450h12M168 486h12M204 522h12"/>
<path stroke="#0000d3" d="M492 102h12M372 198h12M360 210h24M348 222h24M324 234h36M312 246h36M288 270h12M264 282h48M252 294h84M300 306h48M336 318h24M360 330h24M372 342h24M384 354h24M408 366h12M96 426h24M84 438h12M108 438h24M72 450h12M132 450h12M144 462h12M156 474h12M168 498h12M180 510h12M192 522h12M204 534h12"/>
<path stroke="#0000d7" d="M480 114h12M444 138h12M396 174h12M384 186h24M384 198h24M384 210h24M372 222h24M360 234h36M348 246h48M300 258h84M300 270h72M312 282h60M336 294h36M348 306h36M360 318h24M384 330h12M396 342h12M408 354h12M420 366h12M96 438h12M84 450h12M120 450h12M72 462h12M144 474h12M156 486h12M180 522h12"/>
<path stroke="#0000db" d="M468 126h12M408 174h12M408 186h12M408 198h12M408 210h12M396 222h24M396 234h12M396 246h12M384 258h24M372 270h24M372 282h24M372 294h24M384 306h12M384 318h24M396 330h12M408 342h12M420 354h12M96 450h24M132 462h12M156 498h12M168 510h12M192 534h12"/>
<path stroke="#0000df" d="M492 114h12M456 138h12M432 150h12M420 162h12M420 174h12M420 186h12M420 198h12M420 210h12M420 222h12M408 234h24M408 246h12M408 258h12M396 270h24M396 282h24M396 294h24M396 306h24M408 318h12M408 330h24M420 342h24M432 354h12M120 462h12M132 474h12M144 486h12M168 522h12M180 534h12M192 546h12"/>
<path stroke="#0000e3" d="M504 114h12M480 126h12M444 150h12M432 162h12M432 174h12M432 186h12M432 198h12M432 210h12M432 222h12M432 234h12M420 246h12M420 258h12M420 270h12M420 282h12M420 294h12M420 306h12M420 318h24M432 330h12M444 342h12M444 354h12M84 462h12M108 462h12M156 510h12"/>
<path stroke="#0000e7" d="M492 126h12M468 138h12M456 150h12M444 162h12M444 174h12M444 186h12M444 198h12M444 210h12M444 222h12M432 246h12M432 258h12M432 270h12M432 282h12M432 294h12M432 306h12M444 318h12M444 330h12M456 342h12M96 462h12M120 474h12M132 486h12M144 498h12M156 522h12M168 534h12M180 546h12"/>
<path stroke="#0000eb" d="M504 126h12M480 138h12M468 150h12M456 162h12M456 174h12M456 186h12M456 198h12M444 234h12M444 246h12M444 258h12M444 270h12M444 282h12M444 294h12M444 306h24M456 318h12M456 330h12M72 474h12M144 510h12"/>
<path stroke="#0000ef" d="M516 126h12M492 138h12M480 150h12M468 162h12M468 174h12M456 210h12M456 222h12M456 234h12M456 246h12M456 258h12M456 270h12M456 282h12M456 294h12M468 306h12M468 318h12M468 330h12M108 474h12M132 498h12M156 534h12M168 546h12M180 558h12"/>
<path stroke="#0000f3" d="M504 138h12M492 150h12M480 162h12M468 186h12M468 198h12M468 210h12M468 222h12M468 234h12M468 246h12M468 258h12M468 270h12M468 282h12M468 294h12M480 306h12M480 318h12M120 486h12M144 522h12"/>
<path stroke="#0000f7" d="M528 126h12M516 138h12M504 150h12M492 162h12M480 174h12M480 186h12M480 198h12M480 210h12M480 222h12M480 234h12M480 246h12M480 258h12M480 270h12M480 282h12M480 294h12M492 306h12M492 318h12M84 474h24M132 510h12M156 546h12M168 558h12"/>
<path stroke="#0000fb" d="M504 162h12M492 174h12M492 186h12M492 198h12M492 246h12M492 258h12M492 270h12M492 282h12M492 294h12M504 306h12M120 498h12M144 534h12"/>
<path stroke="#0000ff" d="M528 138h12M516 150h12M504 174h12M492 210h12M492 222h12M492 234h12M504 258h12M504 270h12M504 282h12M504 294h12M108 486h12M132 522h12M144 546h12M156 558h12"/>
<path stroke="#0004ff" d="M528 150h12M516 162h12M504 186h12M504 198h12M504 210h12M504 222h12M504 234h12M504 246h12M516 270h12M516 282h12M516 294h12"/>
<path stroke="#0008ff" d="M540 138h12M528 162h12M516 174h12M516 186h12M516 198h12M516 210h12M516 222h12M516 234h12M516 246h12M516 258h12M528 270h12M528 282h12M96 486h12M120 510h12M132 534h12M144 558h12M156 570h12"/>
<path stroke="#000cff" d="M540 150h12M528 174h12M528 186h12M528 198h12M528 210h12M528 222h12M528 234h12M528 246h12M528 258h12M540 270h12M108 498h12M132 546h12"/>
<path stroke="#0010ff" d="M540 162h12M540 174h12M540 222h12M540 234h12M540 246h12M540 258h12M552 270h12M120 522h12M144 570h12"/>
<path stroke="#0014ff" d="M552 150h12M552 162h12M540 186h12M540 198h12M540 210h12M552 222h12M552 234h12M552 246h12M552 258h24M84 486h12M108 510h12M120 534h12M132 558h12"/>
<path stroke="#0018ff" d="M552 174h12M552 186h12M552 198h12M552 210h12M564 222h12M564 234h12M564 246h24"/>
<path stroke="#001cff" d="M564 162h12M564 198h12M564 210h12M600 210h12M576 222h24M576 234h24M96 498h12M120 546h12"/>
<path stroke="#0020ff" d="M564 174h12M564 186h12M576 210h24M600 222h24M600 234h12M108 522h12"/>
<path stroke="#0024ff" d="M576 162h12M576 174h12M576 186h12M576 198h12"/>
<path stroke="#0028ff" d="M588 198h12M72 486h12M96 510h12M108 534h12"/>
<path stroke="#002cff" d="M108 546h12"/>
<path stroke="#0030ff" d="M588 174h12M588 186h12M84 498h12"/>
<path stroke="#0034ff" d="M96 522h12"/>
<path stroke="#0038ff" d="M96 534h12"/>
<path stroke="#003cff" d="M600 186h12"/>
<path stroke="#0040ff" d="M600 198h12M84 510h12"/>
<path stroke="#0048ff" d="M84 522h12"/>
<path stroke="#004cff" d="M612 186h12"/>
<path stroke="#0050ff" d="M72 498h12"/>
<path stroke="#005cff" d="M72 510h12"/>
<path stroke="#007cff" d="M60 510h12"/>
<path stroke="#0080ff" d="M60 498h12"/>
<path stroke="#00afff" d="M612 198h12"/>
<path stroke="#00b3ff" d="M624 198h12"/>
<path stroke="#00bbff" d="M624 210h12"/>
<path stroke="#00bfff" d="M612 210h12"/>
</g></g>
<g clip-path="url(#cd8p0)"><g filter="url(#bl4)" stroke-width="4.3">
<path stroke="#000083" d="M60 486h8"/>
<path stroke="#000087" d="M56 482h8"/>
<path stroke="#00008b" d="M64 482h4"/>
<path stroke="#000097" d="M56 478h4"/>
<path stroke="#00009f" d="M60 478h4"/>
<path stroke="#0000af" d="M60 474h4M64 478h4"/>
<path stroke="#0000bb" d="M64 474h4"/>
<path stroke="#0000cf" d="M68 470h4M68 474h4"/>
<path stroke="#0000d3" d="M112 438h4M68 478h4"/>
<path stroke="#0000d7" d="M104 438h8M100 442h16M96 446h4M112 446h4M76 462h4M72 466h4"/>
<path stroke="#0000db" d="M100 446h12M92 450h24M84 454h8M80 458h8M76 466h4M72 470h4"/>
<path stroke="#0000df" d="M92 454h24M88 458h8M112 458h4M80 462h8M72 474h4"/>
<path stroke="#0000e3" d="M96 458h16M88 462h8M112 462h4M80 466h4M76 470h4"/>
<path stroke="#0000e7" d="M96 462h16M84 466h8M112 466h4M80 470h4"/>
<path stroke="#0000eb" d="M92 466h20M84 470h4M112 470h4M76 474h4M68 482h4"/>
<path stroke="#0000ef" d="M88 470h24M112 474h4M72 478h4"/>
<path stroke="#0000f3" d="M80 474h4M104 474h8M112 478h4"/>
<path stroke="#0000f7" d="M84 474h20M108 478h4M112 482h4"/>
<path stroke="#0000fb" d="M76 478h4M100 478h8M108 482h4"/>
<path stroke="#0000ff" d="M80 478h20M104 482h4M108 486h8"/>
<path stroke="#0004ff" d="M96 482h8M104 486h4M112 490h4"/>
<path stroke="#0008ff" d="M92 482h4M100 486h4M108 490h4M112 494h4"/>
<path stroke="#000cff" d="M84 482h8M96 486h4M104 490h4M108 494h4M112 498h4"/>
<path stroke="#0010ff" d="M72 482h12M92 486h4M100 490h4M104 494h4M108 498h4M112 502h4"/>
<path stroke="#0014ff" d="M88 486h4M96 490h4M100 494h4M104 498h4M108 502h4M112 506h4M112 510h4"/>
<path stroke="#0018ff" d="M92 490h4M104 502h4M108 506h4M112 514h4"/>
<path stroke="#001cff" d="M84 486h4M96 494h4M100 498h4M108 510h4M112 518h4"/>
<path stroke="#0020ff" d="M80 486h4M88 490h4M92 494h4M96 498h4M100 502h4M104 506h4M104 510h4M108 514h4M112 522h4"/>
<path stroke="#0024ff" d="M84 490h4M100 506h4M104 514h4M108 518h4M108 522h4"/>
<path stroke="#0028ff" d="M76 486h4M88 494h4M92 498h4M96 502h4M100 510h4M104 518h4"/>
<path stroke="#002cff" d="M96 506h4M100 514h4"/>
<path stroke="#0030ff" d="M80 490h4M84 494h4M88 498h4M92 502h4M96 510h4"/>
<path stroke="#0034ff" d="M92 506h4M96 514h4"/>
<path stroke="#0038ff" d="M72 486h4M80 494h4M84 498h4M88 502h4M92 510h4"/>
<path stroke="#003cff" d="M76 490h4M88 506h4"/>
<path stroke="#0040ff" d="M84 502h4"/>
<path stroke="#0044ff" d="M80 498h4"/>
<path stroke="#0048ff" d="M76 494h4M80 502h4"/>
<path stroke="#004cff" d="M72 490h4"/>
<path stroke="#0050ff" d="M76 498h4"/>
<path stroke="#0058ff" d="M72 494h4"/>
<path stroke="#0064ff" d="M68 486h4"/>
<path stroke="#0068ff" d="M68 490h4"/>
<path stroke="#006cff" d="M68 494h4"/>
<path stroke="#0087ff" d="M64 490h4"/>
</g></g>
<g clip-path="url(#cd9)"><g filter="url(#bl12)" stroke-width="12.3">
<path stroke="#000083" d="M600 18h12"/>
<path stroke="#000087" d="M588 18h12M600 30h12"/>
<path stroke="#0010ff" d="M540 66h12"/>
<path stroke="#0014ff" d="M528 66h12"/>
<path stroke="#001cff" d="M600 210h12"/>
<path stroke="#0020ff" d="M600 222h24M600 234h12"/>
<path stroke="#0024ff" d="M576 30h12M540 54h12M516 78h12"/>
<path stroke="#0028ff" d="M588 30h12M528 78h24"/>
<path stroke="#002cff" d="M564 42h12"/>
<path stroke="#0030ff" d="M552 54h12"/>
<path stroke="#0034ff" d="M576 42h12M552 78h12M504 90h24M468 114h12"/>
<path stroke="#0038ff" d="M564 54h12M552 66h12M528 90h12"/>
<path stroke="#003cff" d="M588 42h12M540 90h12M492 102h12"/>
<path stroke="#0040ff" d="M504 102h12"/>
<path stroke="#0044ff" d="M576 54h12M564 66h12M516 102h12M480 114h12"/>
<path stroke="#0048ff" d="M552 90h12M528 102h12M492 114h12M468 126h12"/>
<path stroke="#004cff" d="M564 78h12M540 102h12M504 114h24M480 126h12"/>
<path stroke="#0050ff" d="M576 66h12M492 126h12M468 138h12"/>
<path stroke="#0054ff" d="M564 90h12M552 102h12M528 114h12M504 126h12M480 138h12"/>
<path stroke="#0058ff" d="M588 54h12M540 114h12M516 126h12M492 138h24M480 150h12"/>
<path stroke="#005cff" d="M600 42h12M576 78h12M528 126h12M516 138h12M492 150h12"/>
<path stroke="#0060ff" d="M564 102h12M552 114h12M540 126h12M504 150h12M504 162h12"/>
<path stroke="#0064ff" d="M588 66h12M576 90h12M528 138h12M516 150h12M516 162h12"/>
<path stroke="#0068ff" d="M576 102h12M564 114h12M552 126h12M540 138h12M528 150h12M516 174h12"/>
<path stroke="#006cff" d="M588 78h12M564 126h12M552 138h12M540 150h12M528 162h12M528 174h12"/>
<path stroke="#0070ff" d="M588 90h12M576 114h12M552 150h12M540 162h12M540 174h12M540 186h12"/>
<path stroke="#0074ff" d="M588 102h12M576 126h12M564 138h12M552 162h12M552 174h12M552 186h12M552 198h12M564 210h12M588 222h12"/>
<path stroke="#0078ff" d="M600 54h12M600 66h12M588 114h12M576 138h12M564 150h12M564 162h12M564 186h12M564 198h12M576 210h24"/>
<path stroke="#007cff" d="M600 78h12M600 90h12M588 126h12M576 150h12M564 174h12M576 198h12"/>
<path stroke="#0080ff" d="M600 102h12M588 138h12M576 162h12M576 174h12M576 186h12M588 198h12"/>
<path stroke="#0083ff" d="M600 114h12M588 150h12"/>
<path stroke="#0087ff" d="M612 78h12M612 90h12M600 126h12M600 138h12M588 162h12M588 174h12M588 186h12"/>
<path stroke="#008bff" d="M612 66h12M612 102h12M612 114h12M600 150h12"/>
<path stroke="#008fff" d="M612 126h12M612 138h12M600 162h12M600 174h12"/>
<path stroke="#0093ff" d="M624 78h12M624 90h12M624 102h12M624 114h12M612 150h12M600 186h12M600 198h12"/>
<path stroke="#0097ff" d="M612 54h12M624 126h12M624 138h12M612 162h12"/>
<path stroke="#009bff" d="M624 66h12M624 150h12M612 174h12"/>
<path stroke="#009fff" d="M624 162h12M612 186h12"/>
<path stroke="#00a3ff" d="M624 54h12M624 174h12"/>
<path stroke="#00abff" d="M624 186h12"/>
<path stroke="#00afff" d="M612 198h12"/>
<path stroke="#00b3ff" d="M612 42h24M624 198h12"/>
<path stroke="#00bbff" d="M624 210h12"/>
<path stroke="#00bfff" d="M624 30h12M612 210h12"/>
<path stroke="#00cfff" d="M612 30h12"/>
</g></g>
<g clip-path="url(#cd10)"><g filter="url(#bl12)" stroke-width="12.3">
<path stroke="#0000a3" d="M540 6h12"/>
<path stroke="#0000b7" d="M528 6h12"/>
<path stroke="#0000c3" d="M528 -6h12"/>
<path stroke="#0000cf" d="M540 -6h12M600 42h12"/>
<path stroke="#0000f7" d="M600 54h12"/>
<path stroke="#0004ff" d="M612 54h12"/>
<path stroke="#0008ff" d="M600 66h12"/>
<path stroke="#00b3ff" d="M612 42h24"/>
<path stroke="#00bfff" d="M624 30h12"/>
<path stroke="#00c7ff" d="M624 -18h12M624 6h12M624 18h12"/>
<path stroke="#00cbff" d="M612 -18h12M624 -6h12"/>
<path stroke="#00cfff" d="M612 -6h12M612 30h12"/>
<path stroke="#00d3ff" d="M600 -18h12M612 6h12M612 18h12"/>
<path stroke="#00d7ff" d="M588 -18h12M600 -6h12"/>
<path stroke="#00dbff" d="M552 -18h12M576 -18h12M600 6h12"/>
<path stroke="#00dfff" d="M564 -18h12M588 -6h12"/>
<path stroke="#00e3ff" d="M600 18h12"/>
<path stroke="#00e7ff" d="M576 -6h12M600 30h12"/>
<path stroke="#00ebff" d="M588 6h12"/>
<path stroke="#00f3ff" d="M564 -6h12M588 18h12"/>
<path stroke="#00f7ff" d="M576 6h12"/>
<path stroke="#00fbff" d="M552 6h12"/>
<path stroke="#00ffff" d="M564 6h12"/>
<path stroke="#04fffb" d="M588 30h12"/>
<path stroke="#08fff7" d="M576 18h12"/>
<path stroke="#10ffef" d="M552 -6h12"/>
<path stroke="#18ffe7" d="M564 18h12"/>
<path stroke="#1cffe3" d="M576 30h12"/>
<path stroke="#20ffdf" d="M588 42h12"/>
<path stroke="#28ffd7" d="M552 18h12"/>
<path stroke="#2cffd3" d="M564 30h12"/>
<path stroke="#30ffcf" d="M576 42h12"/>
<path stroke="#34ffcb" d="M540 18h12"/>
<path stroke="#40ffbf" d="M552 30h12M564 42h12M588 54h12"/>
</g></g>
<g clip-path="url(#cd11)"><g filter="url(#bl12)" stroke-width="12.3">
<path stroke="#0000e7" d="M0 414h12"/>
<path stroke="#0000fb" d="M-12 414h12"/>
<path stroke="#000cff" d="M-12 426h12"/>
<path stroke="#00dfff" d="M-24 426h12"/>
<path stroke="#00ebff" d="M-24 438h12M0 474h12"/>
<path stroke="#00efff" d="M0 438h12M-24 450h36M-12 462h36"/>
<path stroke="#00f3ff" d="M-24 462h12M-12 474h12M-12 486h12"/>
<path stroke="#00f7ff" d="M12 450h12M24 462h12M-24 474h12M-24 486h12"/>
<path stroke="#00fbff" d="M-12 438h12M12 438h12"/>
<path stroke="#00ffff" d="M24 450h12"/>
<path stroke="#04fffb" d="M0 426h36M24 438h12"/>
<path stroke="#0cfff3" d="M36 438h12M36 450h12"/>
</g></g>
<g clip-path="url(#cd12)"><g filter="url(#bl12)" stroke-width="12.3">
<path stroke="#00009f" d="M444 102h12"/>
<path stroke="#0000a3" d="M444 114h12"/>
<path stroke="#0000ab" d="M432 114h12"/>
<path stroke="#0000b3" d="M24 462h12"/>
<path stroke="#0000b7" d="M432 102h12M12 462h12"/>
<path stroke="#0000bb" d="M432 126h12M12 450h36M0 462h12"/>
<path stroke="#0000bf" d="M420 114h12M204 246h12M0 438h12M-12 450h24"/>
<path stroke="#0000c3" d="M420 126h12M216 234h12M12 438h24"/>
<path stroke="#0000c7" d="M324 150h12M312 162h12M300 174h12M288 186h12M264 198h12M252 210h12M240 222h12M228 234h12M216 246h24M192 258h36M36 438h24"/>
<path stroke="#0000cb" d="M348 138h12M336 150h12M324 162h24M312 174h24M300 186h24M276 198h36M264 210h24M252 222h24M240 234h24M240 246h12M228 258h12M168 270h60M156 354h12M36 426h24M-12 438h12"/>
<path stroke="#0000cf" d="M420 102h12M372 114h12M408 114h12M360 126h12M408 126h12M360 138h12M348 150h24M348 162h12M336 174h24M324 186h36M312 198h36M288 210h48M276 222h36M264 234h24M252 246h24M240 258h24M228 270h36M156 282h96M156 294h84M180 306h48M168 318h36M156 330h36M144 342h36M132 354h24M120 366h24M108 378h24M96 390h24M84 402h24M48 414h48M12 426h24M60 426h12"/>
<path stroke="#0000d3" d="M396 102h12M384 114h24M372 126h36M372 138h24M408 138h24M372 150h12M360 162h24M360 174h24M360 186h12M348 198h12M312 222h12M288 234h24M276 246h24M264 258h12M144 294h12M120 306h60M120 318h48M120 330h36M108 342h36M96 354h36M84 366h36M72 378h36M60 390h36M48 402h36M24 414h24M0 426h12"/>
<path stroke="#0000d7" d="M408 102h12M396 138h12M384 150h24M384 162h12M108 318h12M96 330h24M84 342h24M60 354h36M60 366h24M48 378h24M48 390h12M36 402h12"/>
<path stroke="#0000db" d="M48 366h12M36 378h12M36 390h12M24 402h12M12 414h12"/>
<path stroke="#0000df" d="M408 90h12M24 390h12M12 402h12"/>
<path stroke="#0000e3" d="M12 390h12"/>
<path stroke="#0000e7" d="M420 90h12M0 414h12"/>
<path stroke="#0000eb" d="M432 90h12M0 402h12"/>
<path stroke="#0000f7" d="M420 78h12"/>
<path stroke="#0000fb" d="M-12 414h12"/>
<path stroke="#000cff" d="M-12 426h12"/>
<path stroke="#0050ff" d="M456 102h12"/>
<path stroke="#0060ff" d="M456 90h12"/>
<path stroke="#006cff" d="M468 90h12"/>
<path stroke="#0070ff" d="M444 90h12"/>
<path stroke="#0074ff" d="M456 78h12"/>
<path stroke="#00dfff" d="M-36 426h24"/>
<path stroke="#00ebff" d="M-36 438h24"/>
<path stroke="#00fbff" d="M444 78h12"/>
<path stroke="#04fffb" d="M444 66h12"/>
<path stroke="#40ffbf" d="M432 78h12"/>
</g></g>
<g clip-path="url(#cd12p1)"><g filter="url(#bl4)" stroke-width="4.3">
<path stroke="#0000a7" d="M448 98h4M444 102h4M440 106h4"/>
<path stroke="#0000af" d="M444 98h4M440 102h4M436 106h4"/>
<path stroke="#0000b3" d="M432 110h4"/>
<path stroke="#0000b7" d="M440 98h4M436 102h4M432 106h4M428 114h4"/>
<path stroke="#0000bb" d="M428 110h4"/>
<path stroke="#0000bf" d="M444 94h4M432 102h4M424 114h4M424 118h4"/>
<path stroke="#0000c3" d="M436 98h4M428 106h4M424 110h4"/>
<path stroke="#0000c7" d="M440 94h4M424 106h4M420 114h4M420 118h4M420 122h4"/>
<path stroke="#0000cb" d="M432 98h4M428 102h4M420 110h4M416 114h4M416 118h4M416 122h4"/>
<path stroke="#0000cf" d="M436 94h4M424 102h4M420 106h4M416 110h4M412 114h4M412 118h4M412 122h4M412 126h4"/>
<path stroke="#0000d3" d="M428 98h4M420 102h4M412 106h8M408 110h8M404 114h8M396 118h16M396 122h16M396 126h16M396 130h16M396 134h12"/>
<path stroke="#0000d7" d="M432 94h4M424 98h4"/>
<path stroke="#0000df" d="M428 94h4"/>
<path stroke="#0000e3" d="M432 90h4"/>
<path stroke="#0000eb" d="M436 90h4"/>
<path stroke="#0000f7" d="M440 90h4"/>
<path stroke="#0058ff" d="M452 94h4"/>
<path stroke="#0060ff" d="M448 94h4"/>
<path stroke="#0064ff" d="M440 86h4M452 90h4"/>
<path stroke="#0070ff" d="M452 86h4M448 90h4"/>
<path stroke="#00ebff" d="M448 86h4"/>
<path stroke="#00ffff" d="M444 90h4"/>
<path stroke="#04fffb" d="M444 82h4"/>
<path stroke="#14ffeb" d="M444 86h4"/>
</g></g>
<g clip-path="url(#cd13)"><g filter="url(#bl12)" stroke-width="12.3">
<path stroke="#000083" d="M564 -18h12M552 -6h36M552 6h36"/>
<path stroke="#00008f" d="M576 18h12"/>
<path stroke="#000097" d="M564 18h12"/>
<path stroke="#00009b" d="M528 18h12"/>
<path stroke="#00009f" d="M540 18h24"/>
<path stroke="#0000a3" d="M540 6h12"/>
<path stroke="#0000b3" d="M528 30h12"/>
<path stroke="#0000b7" d="M528 6h12"/>
<path stroke="#0000bb" d="M552 30h12"/>
<path stroke="#0000bf" d="M516 18h12M540 30h12"/>
<path stroke="#0000c3" d="M528 -6h12M516 30h12"/>
<path stroke="#0000cb" d="M516 6h12"/>
<path stroke="#0000cf" d="M540 -6h12"/>
<path stroke="#0000db" d="M504 18h12"/>
<path stroke="#0000df" d="M540 42h12"/>
<path stroke="#0000e3" d="M492 18h12M504 30h12M528 42h12"/>
<path stroke="#0000e7" d="M516 42h12"/>
<path stroke="#0000ef" d="M492 30h12"/>
<path stroke="#0000f7" d="M480 30h12M504 42h12"/>
<path stroke="#0000fb" d="M528 54h12"/>
<path stroke="#0000ff" d="M492 42h12"/>
<path stroke="#0004ff" d="M480 42h12M516 54h12"/>
<path stroke="#0008ff" d="M504 54h12"/>
<path stroke="#000cff" d="M468 42h12M492 54h12"/>
<path stroke="#0010ff" d="M480 54h12M456 102h12"/>
<path stroke="#0018ff" d="M468 54h12M492 66h24"/>
<path stroke="#001cff" d="M480 66h12M456 90h12"/>
<path stroke="#0020ff" d="M468 66h12M468 90h12"/>
<path stroke="#0024ff" d="M468 78h36"/>
<path stroke="#0028ff" d="M456 54h12"/>
<path stroke="#002cff" d="M456 78h12M480 90h12"/>
<path stroke="#0034ff" d="M456 66h12M444 90h12"/>
<path stroke="#004cff" d="M444 78h12"/>
<path stroke="#0050ff" d="M444 66h12"/>
<path stroke="#0093ff" d="M432 78h12"/>
<path stroke="#00cbff" d="M540 -18h12"/>
<path stroke="#00d7ff" d="M432 102h12"/>
<path stroke="#00dbff" d="M552 -18h12"/>
<path stroke="#00f3ff" d="M420 102h12"/>
<path stroke="#0cfff3" d="M420 90h24"/>
<path stroke="#18ffe7" d="M420 78h12"/>
<path stroke="#30ffcf" d="M444 102h12M444 114h12"/>
<path stroke="#3cffc3" d="M432 114h12"/>
</g></g>
<g clip-path="url(#cd13p1)"><g filter="url(#bl4)" stroke-width="4.3">
<path stroke="#0010ff" d="M484 54h8"/>
<path stroke="#0014ff" d="M480 54h4M484 58h8"/>
<path stroke="#0018ff" d="M476 58h8M480 62h12"/>
<path stroke="#001cff" d="M472 58h4M476 62h4M480 66h12M460 90h4M452 94h4"/>
<path stroke="#0020ff" d="M472 62h4M472 66h8M476 70h12M476 74h8M468 82h4M460 86h8M456 90h4"/>
<path stroke="#0024ff" d="M468 62h4M468 66h4M472 70h4M472 74h4M468 78h8M464 82h4M452 90h4M448 94h4"/>
<path stroke="#0028ff" d="M468 70h4M468 74h4M464 78h4M460 82h4M456 86h4"/>
<path stroke="#002cff" d="M464 66h4M464 70h4M464 74h4M460 78h4"/>
<path stroke="#0030ff" d="M460 74h4M456 82h4M452 86h4"/>
<path stroke="#0034ff" d="M460 70h4M456 78h4M448 90h4"/>
<path stroke="#0038ff" d="M456 74h4M452 82h4"/>
<path stroke="#003cff" d="M448 86h4"/>
<path stroke="#0040ff" d="M452 78h4"/>
<path stroke="#0044ff" d="M452 74h4M448 82h4"/>
<path stroke="#004cff" d="M448 78h4"/>
<path stroke="#0054ff" d="M444 90h4"/>
<path stroke="#0058ff" d="M444 82h4"/>
<path stroke="#0068ff" d="M444 86h4"/>
<path stroke="#00e7ff" d="M440 94h4"/>
<path stroke="#00efff" d="M436 94h4"/>
<path stroke="#0cfff3" d="M436 90h4"/>
<path stroke="#18ffe7" d="M440 90h4"/>
<path stroke="#38ffc7" d="M448 98h4"/>
<path stroke="#40ffbf" d="M444 98h4"/>
<path stroke="#48ffb7" d="M440 98h4"/>
<path stroke="#4cffb3" d="M444 94h4"/>
<path stroke="#83ff7c" d="M440 86h4"/>
</g></g>
<g clip-path="url(#cd14)"><g filter="url(#bl12)" stroke-width="12.3">
<path stroke="#0000a3" d="M540 6h12"/>
<path stroke="#0000b7" d="M528 6h12"/>
<path stroke="#0000c3" d="M528 -6h12"/>
<path stroke="#0000cf" d="M540 -6h12"/>
<path stroke="#00cbff" d="M540 -18h12"/>
<path stroke="#00d7ff" d="M588 -18h12"/>
<path stroke="#00dbff" d="M552 -18h12M576 -18h12"/>
<path stroke="#00dfff" d="M564 -18h12M588 -6h12"/>
<path stroke="#00e7ff" d="M576 -6h12"/>
<path stroke="#00ebff" d="M588 6h12"/>
<path stroke="#00f3ff" d="M564 -6h12"/>
<path stroke="#00f7ff" d="M576 6h12"/>
<path stroke="#00fbff" d="M552 6h12"/>
<path stroke="#00ffff" d="M564 6h12"/>
<path stroke="#08fff7" d="M576 18h12"/>
<path stroke="#10ffef" d="M552 -6h12"/>
<path stroke="#18ffe7" d="M564 18h12"/>
<path stroke="#28ffd7" d="M552 18h12"/>
<path stroke="#34ffcb" d="M540 18h12"/>
<path stroke="#40ffbf" d="M552 30h12"/>
</g></g>
<g clip-path="url(#cd15)"><g filter="url(#bl12)" stroke-width="12.3">
<path stroke="#0000bf" d="M-12 450h24"/>
<path stroke="#0000cb" d="M-12 438h12"/>
<path stroke="#0050ff" d="M456 102h12"/>
<path stroke="#0060ff" d="M456 90h12"/>
<path stroke="#006cff" d="M468 90h12"/>
<path stroke="#0070ff" d="M444 90h12"/>
<path stroke="#0074ff" d="M456 78h12"/>
<path stroke="#0083ff" d="M0 438h12M12 450h12"/>
<path stroke="#008fff" d="M12 438h12"/>
<path stroke="#0093ff" d="M24 438h12"/>
<path stroke="#009fff" d="M0 426h36"/>
<path stroke="#00a3ff" d="M36 426h12"/>
<path stroke="#00abff" d="M12 414h36"/>
<path stroke="#00afff" d="M48 414h12"/>
<path stroke="#00b3ff" d="M12 402h36M0 414h12"/>
<path stroke="#00b7ff" d="M48 402h24"/>
<path stroke="#00bbff" d="M276 -18h60M12 390h48M0 402h12M72 402h12"/>
<path stroke="#00bfff" d="M240 -18h36M264 -6h96M444 102h12M12 378h48M0 390h12M60 390h24"/>
<path stroke="#00c3ff" d="M216 -18h24M228 -6h36M252 6h120M444 114h12M0 366h48M-12 378h24M60 378h12M-12 390h12M84 390h12M-12 402h12M-12 414h12"/>
<path stroke="#00c7ff" d="M192 -18h24M204 -6h24M216 6h36M240 18h144M-24 330h24M-24 342h48M-24 354h72M-24 366h24M48 366h24M-24 378h12M72 378h24M-24 390h12"/>
<path stroke="#00cbff" d="M168 -18h24M168 -6h36M180 6h36M192 18h48M216 30h120M432 114h12M-24 210h12M-24 222h12M-24 234h24M-24 246h24M-24 258h24M-24 270h24M-24 282h24M-24 294h36M-24 306h36M-24 318h48M0 330h36M24 342h24M48 354h24M72 366h24M96 378h12M-24 402h12"/>
<path stroke="#00cfff" d="M144 -18h24M144 -6h24M156 6h24M168 18h24M180 30h36M336 30h72M204 42h108M-24 174h12M-24 186h36M-24 198h36M-12 210h36M-12 222h36M0 234h24M0 246h24M0 258h24M0 270h24M0 282h24M12 294h24M12 306h24M24 318h24M36 330h24M48 342h24M72 354h12M96 366h12"/>
<path stroke="#00d3ff" d="M120 -18h24M132 -6h12M132 6h24M132 18h36M144 30h36M144 42h60M312 42h60M168 54h132M-24 150h12M-24 162h48M-12 174h48M12 186h36M12 198h36M24 210h24M24 222h24M24 234h24M24 246h24M24 258h24M24 270h24M24 282h24M36 294h12M36 306h12M48 318h12M60 330h12M72 342h12M84 354h24M108 366h12M-24 414h12M-12 426h12"/>
<path stroke="#00d7ff" d="M96 -18h24M96 -6h36M96 6h36M96 18h36M96 30h48M96 42h48M372 42h48M84 54h84M300 54h36M96 66h192M96 78h120M96 90h60M96 102h36M432 102h12M24 126h48M-24 138h96M-12 150h96M24 162h48M36 174h36M48 186h24M48 198h24M48 210h24M48 222h12M48 234h12M48 246h12M48 258h12M48 270h12M48 282h12M48 294h12M48 306h24M60 318h12M72 330h12M84 342h12M108 354h12M120 366h12"/>
<path stroke="#00dbff" d="M72 -18h24M72 -6h24M72 6h24M60 18h36M60 30h36M60 42h36M60 54h24M336 54h60M48 66h48M288 66h36M48 78h48M216 78h72M24 90h72M156 90h84M0 102h96M132 102h48M-24 114h192M-24 126h48M72 126h84M72 138h60M84 150h36M72 162h36M72 174h24M72 186h24M72 198h12M72 210h12M60 222h24M60 234h12M60 246h12M60 258h12M60 270h12M60 282h12M60 294h12M72 306h12M72 318h24M84 330h12M96 342h24M120 354h12"/>
<path stroke="#00dfff" d="M36 -18h36M36 -6h36M36 6h36M36 18h24M36 30h24M24 42h36M24 54h36M396 54h12M0 66h48M324 66h36M-12 78h60M288 78h24M-24 90h48M240 90h48M-24 102h24M180 102h60M168 114h24M156 126h24M432 126h12M132 138h36M120 150h24M108 162h24M96 174h24M96 186h24M84 198h24M84 210h12M84 222h12M72 234h24M72 246h12M72 258h12M72 270h12M72 282h12M72 294h12M84 306h12M96 318h12M96 330h24M120 342h12M132 354h12M-24 426h12"/>
<path stroke="#00e3ff" d="M12 -18h24M12 -6h24M0 6h36M0 18h36M-12 30h48M-24 42h48M-24 54h48M408 54h12M-24 66h24M360 66h36M-24 78h12M312 78h36M288 90h24M240 102h36M192 114h48M420 114h12M180 126h24M168 138h24M144 150h36M132 162h24M120 174h24M120 186h12M108 198h12M96 210h24M96 222h12M96 234h12M84 246h12M84 258h12M84 270h12M84 282h12M84 294h12M96 306h12M108 318h12M120 330h12M132 342h12"/>
<path stroke="#00e7ff" d="M-24 -18h36M-24 -6h36M-24 6h24M-24 18h24M-24 30h12M396 66h12M348 78h36M312 90h24M276 102h36M240 114h36M204 126h36M420 126h12M192 138h24M180 150h12M156 162h24M144 174h24M132 186h24M120 198h24M120 210h12M108 222h12M108 234h12M96 246h12M96 258h12M96 270h12M96 282h12M96 294h24M108 306h12M120 318h12M132 330h12M144 342h12"/>
<path stroke="#00ebff" d="M384 78h12M336 90h36M312 102h24M276 114h36M240 126h48M216 138h36M192 150h24M180 162h24M168 174h24M156 186h12M144 198h12M132 210h12M120 222h12M120 234h12M108 246h24M108 258h12M108 270h12M108 282h12M120 294h12M120 306h12M132 318h12M144 330h12M-24 438h12"/>
<path stroke="#00efff" d="M420 54h12M396 78h12M372 90h24M336 102h24M312 114h24M288 126h24M252 138h36M216 150h36M204 162h12M192 174h12M168 186h24M156 198h12M144 210h12M132 222h24M132 234h12M132 246h12M120 258h12M120 270h12M120 282h12M132 294h12M132 306h12M144 318h12M156 330h24"/>
<path stroke="#00f3ff" d="M408 66h12M360 102h24M420 102h12M336 114h24M408 114h12M312 126h24M408 126h12M288 138h36M252 150h36M216 162h36M204 174h24M192 186h12M168 198h24M156 210h24M156 222h12M144 234h12M144 246h12M132 258h12M132 270h12M132 282h12M144 294h12M144 306h12M156 318h12"/>
<path stroke="#00f7ff" d="M396 90h12M384 102h24M360 114h36M336 126h36M324 138h24M288 150h36M252 162h48M228 174h24M204 186h24M192 198h24M180 210h12M168 222h12M156 234h12M156 246h12M144 258h12M144 270h12M144 282h12M156 294h12M156 306h12M168 318h24"/>
<path stroke="#00fbff" d="M444 78h12M408 102h12M396 114h12M372 126h36M348 138h36M408 138h12M324 150h36M300 162h48M252 174h60M228 186h24M216 198h12M192 210h24M180 222h12M168 234h12M168 246h12M156 258h12M156 270h12M156 282h12M168 294h12M168 306h24"/>
<path stroke="#00ffff" d="M408 78h12M384 138h24M360 150h48M348 162h48M312 174h72M252 186h72M228 198h36M216 210h12M192 222h24M180 234h24M180 246h12M168 258h12M168 270h12M168 282h12M180 294h12M192 306h12"/>
<path stroke="#04fffb" d="M444 66h12M408 90h12M324 186h36M264 198h84M228 210h36M216 222h24M204 234h12M192 246h12M180 258h24M180 270h12M180 282h12M192 294h12"/>
<path stroke="#08fff7" d="M420 66h12M264 210h72M240 222h24M216 234h24M204 246h12M204 258h12M192 270h12M192 282h12M204 294h12"/>
<path stroke="#0cfff3" d="M420 90h24M264 222h48M240 234h48M216 246h36M216 258h12M204 270h12M204 282h12M216 294h12"/>
<path stroke="#10ffef" d="M288 234h12M252 246h36M228 258h24M216 270h12M216 282h12"/>
<path stroke="#14ffeb" d="M432 66h12M252 258h12M228 270h24M228 282h12"/>
<path stroke="#18ffe7" d="M420 78h12"/>
<path stroke="#40ffbf" d="M432 78h12"/>
</g></g>
<g clip-path="url(#cd15p1)"><g filter="url(#bl4)" stroke-width="4.3">
<path stroke="#0058ff" d="M452 94h4"/>
<path stroke="#0060ff" d="M448 94h4"/>
<path stroke="#0064ff" d="M452 90h4"/>
<path stroke="#0070ff" d="M452 86h4M448 90h4"/>
<path stroke="#00c7ff" d="M448 98h4M444 102h4"/>
<path stroke="#00cfff" d="M444 98h4M440 102h4M436 106h4"/>
<path stroke="#00d3ff" d="M432 110h4"/>
<path stroke="#00d7ff" d="M440 98h4M436 102h4"/>
<path stroke="#00dbff" d="M396 50h8M444 94h4M432 106h4M428 114h4"/>
<path stroke="#00dfff" d="M396 54h16M396 58h4M428 110h4"/>
<path stroke="#00e3ff" d="M400 58h12M396 62h8M436 98h4M432 102h4M428 106h4M424 114h4"/>
<path stroke="#00e7ff" d="M412 58h4M404 62h4M396 66h8M396 70h4M440 94h4M424 110h4"/>
<path stroke="#00ebff" d="M408 62h4M404 66h4M400 70h4M396 74h4M448 86h4M432 98h4M428 102h4M424 106h4M420 114h4M420 118h4"/>
<path stroke="#00efff" d="M412 62h4M408 66h4M404 70h4M400 74h4M396 78h8M396 82h4M436 94h4M420 110h4M416 114h4M416 118h4M416 122h4"/>
<path stroke="#00f3ff" d="M416 62h4M412 66h4M408 70h4M404 74h4M404 78h4M400 82h4M396 86h4M396 90h4M428 98h4M424 102h4M420 106h4M416 110h4M412 114h4M412 118h4M412 122h4M412 126h4"/>
<path stroke="#00f7ff" d="M416 66h4M412 70h4M408 74h4M404 82h4M400 86h8M400 90h4M396 94h8M432 94h4M396 98h8M396 102h8M420 102h4M396 106h4M412 106h8M396 110h4M404 110h12M404 114h8M404 118h8M404 122h8M408 126h4M408 130h4"/>
<path stroke="#00fbff" d="M412 74h4M408 78h4M408 82h4M404 90h4M404 94h4M404 98h8M424 98h4M404 102h16M400 106h12M400 110h4M396 114h8M396 118h8M396 122h8M396 126h12M396 130h12M396 134h8"/>
<path stroke="#00ffff" d="M420 66h4M416 70h4M412 78h4M408 86h4M408 90h4M444 90h4M408 94h8M428 94h4M412 98h12"/>
<path stroke="#04fffb" d="M416 74h4M412 82h4M444 82h4M412 86h4M412 90h4M432 90h4M416 94h12"/>
<path stroke="#08fff7" d="M424 66h4M420 70h4M416 78h4M416 86h4M416 90h4M428 90h4"/>
<path stroke="#0cfff3" d="M420 74h4M416 82h4M420 90h8M436 90h4"/>
<path stroke="#10ffef" d="M424 70h4M420 78h4M420 82h4M420 86h8"/>
<path stroke="#14ffeb" d="M428 70h4M424 74h4M440 78h4M424 82h4M428 86h4M444 86h4"/>
<path stroke="#18ffe7" d="M436 74h4M424 78h4M440 90h4"/>
<path stroke="#20ffdf" d="M428 74h8"/>
<path stroke="#2cffd3" d="M428 82h4"/>
<path stroke="#30ffcf" d="M432 86h4"/>
<path stroke="#34ffcb" d="M428 78h4"/>
<path stroke="#40ffbf" d="M436 78h4"/>
<path stroke="#50ffaf" d="M440 82h4"/>
<path stroke="#5cffa3" d="M432 78h4"/>
<path stroke="#83ff7c" d="M440 86h4"/>
<path stroke="#8bff74" d="M432 82h4M436 86h4"/>
<path stroke="#c7ff38" d="M436 82h4"/>
</g></g>
<g clip-path="url(#cd16)"><g filter="url(#bl12)" stroke-width="12.3">
<path stroke="#000083" d="M564 -18h12M552 -6h36M564 6h24"/>
<path stroke="#006cff" d="M552 6h12"/>
<path stroke="#008bff" d="M528 18h12"/>
<path stroke="#0093ff" d="M540 18h12M564 18h12"/>
<path stroke="#0097ff" d="M552 18h12"/>
<path stroke="#009bff" d="M540 6h12M528 30h12"/>
<path stroke="#00a7ff" d="M516 18h12M516 30h12"/>
<path stroke="#00abff" d="M528 6h12"/>
<path stroke="#00afff" d="M468 -18h24M540 30h12"/>
<path stroke="#00b3ff" d="M408 -18h60M492 -18h24M552 30h12"/>
<path stroke="#00b7ff" d="M360 -18h48M516 -18h12M432 -6h96M516 6h12"/>
<path stroke="#00bbff" d="M288 -18h72M372 -6h60M528 -6h12M492 6h24M456 102h12"/>
<path stroke="#00bfff" d="M528 -18h12M288 -6h84M408 6h84M504 18h12"/>
<path stroke="#00c3ff" d="M288 6h120M480 18h24M504 30h12"/>
<path stroke="#00c7ff" d="M300 18h180"/>
<path stroke="#00cbff" d="M540 -18h12M540 -6h12M324 30h12M468 30h36M516 42h24M456 90h12"/>
<path stroke="#00cfff" d="M336 30h132M504 42h12"/>
<path stroke="#00d3ff" d="M336 42h36M480 42h24"/>
<path stroke="#00d7ff" d="M372 42h48M468 42h12M468 90h12M432 102h12"/>
<path stroke="#00dbff" d="M552 -18h12M420 42h12M456 42h12M360 54h36M480 54h36"/>
<path stroke="#00dfff" d="M432 42h24M396 54h12M468 54h12M516 54h12M468 78h12M444 90h12"/>
<path stroke="#00e3ff" d="M408 54h12M372 66h24M468 66h36M456 78h12M480 78h12"/>
<path stroke="#00e7ff" d="M456 54h12M396 66h12M504 66h12M480 90h12"/>
<path stroke="#00ebff" d="M384 78h12M492 78h12"/>
<path stroke="#00efff" d="M420 54h12M456 66h12M396 78h12"/>
<path stroke="#00f3ff" d="M444 54h12M408 66h12M420 102h12"/>
<path stroke="#00f7ff" d="M432 54h12"/>
<path stroke="#00fbff" d="M444 78h12"/>
<path stroke="#00ffff" d="M408 78h12"/>
<path stroke="#04fffb" d="M444 66h12M408 90h12"/>
<path stroke="#08fff7" d="M420 66h12"/>
<path stroke="#0cfff3" d="M420 90h24"/>
<path stroke="#14ffeb" d="M432 66h12"/>
<path stroke="#18ffe7" d="M420 78h12"/>
<path stroke="#30ffcf" d="M444 102h12M444 114h12"/>
<path stroke="#3cffc3" d="M432 114h12"/>
<path stroke="#40ffbf" d="M432 78h12"/>
</g></g>
<g clip-path="url(#cd16p1)"><g filter="url(#bl4)" stroke-width="4.3">
<path stroke="#00c7ff" d="M452 94h4"/>
<path stroke="#00cfff" d="M456 90h4M448 94h4"/>
<path stroke="#00d3ff" d="M476 42h16M460 86h8M452 90h4"/>
<path stroke="#00d7ff" d="M396 42h24M464 42h12M396 46h8M472 46h20M480 50h12M456 86h4"/>
<path stroke="#00dbff" d="M420 42h12M456 42h8M404 46h16M464 46h8M396 50h12M472 50h8M476 54h16M460 82h12"/>
<path stroke="#00dfff" d="M432 42h24M420 46h8M460 46h4M408 50h12M464 50h8M396 54h16M468 54h8M396 58h4M472 58h20M476 62h16M476 66h8M472 74h8M464 78h12M452 86h4M448 90h4"/>
<path stroke="#00e3ff" d="M428 46h8M452 46h8M420 50h4M460 50h4M412 54h4M464 54h4M400 58h12M468 58h4M396 62h8M468 62h8M468 66h8M484 66h8M468 70h20M464 74h8M460 78h4M456 82h4"/>
<path stroke="#00e7ff" d="M436 46h16M424 50h4M456 50h4M416 54h4M460 54h4M412 58h4M464 58h4M404 62h4M464 62h4M396 66h8M464 66h4M464 70h4M440 94h4"/>
<path stroke="#00ebff" d="M428 50h8M448 50h8M420 54h4M456 54h4M416 58h4M460 58h4M408 62h4M460 62h4M404 66h4M460 70h4M460 74h4M456 78h4M452 82h4M448 86h4"/>
<path stroke="#00efff" d="M436 50h12M424 54h4M452 54h4M420 58h4M456 58h4M412 62h4M408 66h4M460 66h4M404 70h4M456 74h4M436 94h4"/>
<path stroke="#00f3ff" d="M428 54h4M448 54h4M416 62h4M456 62h4M412 66h4M456 66h4M408 70h4M456 70h4M452 78h4M448 82h4"/>
<path stroke="#00f7ff" d="M432 54h16M424 58h4M452 58h4M420 62h4M416 66h4M412 70h4M408 74h4M452 74h4"/>
<path stroke="#00fbff" d="M428 58h4M448 58h4M452 62h4M452 66h4M452 70h4M412 74h4M448 78h4"/>
<path stroke="#00ffff" d="M432 58h4M444 58h4M424 62h4M448 62h4M420 66h4M416 70h4M444 90h4"/>
<path stroke="#04fffb" d="M436 58h8M428 62h4M448 66h4M448 70h4M416 74h4M448 74h4M444 82h4M432 90h4"/>
<path stroke="#08fff7" d="M432 62h4M444 62h4M424 66h4M420 70h4M416 78h4M444 78h4"/>
<path stroke="#0cfff3" d="M436 62h8M428 66h4M444 66h4M444 70h4M420 74h4M444 74h4M436 90h4"/>
<path stroke="#10ffef" d="M432 66h4M440 66h4M424 70h4M420 78h4M420 82h4M424 86h4"/>
<path stroke="#14ffeb" d="M436 66h4M428 70h4M440 70h4M424 74h4M440 74h4M440 78h4M424 82h4M428 86h4M444 86h4"/>
<path stroke="#18ffe7" d="M432 70h8M436 74h4M424 78h4M440 90h4"/>
<path stroke="#20ffdf" d="M428 74h8"/>
<path stroke="#2cffd3" d="M428 82h4"/>
<path stroke="#30ffcf" d="M432 86h4"/>
<path stroke="#34ffcb" d="M428 78h4"/>
<path stroke="#38ffc7" d="M448 98h4"/>
<path stroke="#40ffbf" d="M436 78h4M444 98h4"/>
<path stroke="#48ffb7" d="M440 98h4"/>
<path stroke="#4cffb3" d="M444 94h4"/>
<path stroke="#50ffaf" d="M440 82h4"/>
<path stroke="#5cffa3" d="M432 78h4"/>
<path stroke="#83ff7c" d="M440 86h4"/>
<path stroke="#8bff74" d="M432 82h4M436 86h4"/>
<path stroke="#c7ff38" d="M436 82h4"/>
</g></g>
</g>
<g transform="translate(1195.3 938.4)">
<path d="M147.5 0v6.2 M147.5 604.3v-6.2 M295.1 0v6.2 M295.1 604.3v-6.2 M442.7 0v6.2 M442.7 604.3v-6.2 M590.3 0v6.2 M590.3 604.3v-6.2 M0 147.5h6.2 M604.3 147.5h-6.2 M0 295.1h6.2 M604.3 295.1h-6.2 M0 442.7h6.2 M604.3 442.7h-6.2 M0 590.3h6.2 M604.3 590.3h-6.2" stroke="#262626" stroke-width="2" fill="none"/>
<rect x="0" y="0" width="604.3" height="604.3" fill="none" stroke="#262626" stroke-width="2"/>
<rect x="633.0" y="0" width="61.0" height="604.3" fill="url(#cb)" stroke="#262626" stroke-width="2"/>
<path d="M694 453.2h-6.5 M694 302.1h-6.5 M694 151.1h-6.5" stroke="#262626" stroke-width="2" fill="none"/>
<text x="709.8" y="620.7" font-family="'Liberation Sans', Arial, sans-serif" font-size="43" fill="#262626">0</text>
<text x="709.8" y="469.6" font-family="'Liberation Sans', Arial, sans-serif" font-size="43" fill="#262626">0.5</text>
<text x="709.8" y="318.5" font-family="'Liberation Sans', Arial, sans-serif" font-size="43" fill="#262626">1</text>
<text x="709.8" y="167.5" font-family="'Liberation Sans', Arial, sans-serif" font-size="43" fill="#262626">1.5</text>
<text x="709.8" y="16.4" font-family="'Liberation Sans', Arial, sans-serif" font-size="43" fill="#262626">2</text>
<text x="303.1" y="663.6" font-family="'Liberation Sans', Arial, sans-serif" font-size="42.5" fill="#262626" text-anchor="middle">x [-]</text>
<text transform="translate(-26 302.3) rotate(-90)" font-family="'Liberation Sans', Arial, sans-serif" font-size="42.5" fill="#262626" text-anchor="middle">y [-]</text>
<text x="-155.8" y="-68.4" font-family="'Liberation Sans', Arial, sans-serif" font-size="41.7" font-weight="bold" fill="#000">(d)</text>
<text x="207.8" y="-17.6" font-family="'Liberation Serif', 'Times New Roman', serif" font-size="43" fill="#000" font-style="italic" textLength="35.5" lengthAdjust="spacingAndGlyphs">N</text>
<text x="253.8" y="-11.3" font-family="'Liberation Serif', 'Times New Roman', serif" font-size="47" fill="#000" textLength="37" lengthAdjust="spacingAndGlyphs">=</text>
<text x="299.1" y="-17.6" font-family="'Liberation Serif', 'Times New Roman', serif" font-size="41.5" fill="#000" textLength="84" lengthAdjust="spacingAndGlyphs">2047</text>
<text x="381.9" y="-30.8" font-family="'Liberation Serif', 'Times New Roman', serif" font-size="32" fill="#000" textLength="15" lengthAdjust="spacingAndGlyphs">2</text>
<path d="M577.8 -88 H706.2" stroke="#000" stroke-width="1.8" fill="none"/>
<text transform="translate(540.6 -14.9) scale(1.02 1.62)" font-family="'DejaVu Sans', sans-serif" font-size="56" fill="#000">&#8730;</text>
<text x="578.6" y="-42.4" font-family="'Liberation Serif', 'Times New Roman', serif" font-size="45" fill="#000" font-style="italic" textLength="20" lengthAdjust="spacingAndGlyphs">v</text>
<text x="600.6" y="-52.8" font-family="'Liberation Serif', 'Times New Roman', serif" font-size="29" fill="#000" textLength="12.4" lengthAdjust="spacingAndGlyphs">2</text>
<text x="600.6" y="-30.1" font-family="'Liberation Serif', 'Times New Roman', serif" font-size="27" fill="#000" font-style="italic" textLength="12.6" lengthAdjust="spacingAndGlyphs">x</text>
<text x="625.1" y="-33" font-family="'Liberation Serif', 'Times New Roman', serif" font-size="54" fill="#000" textLength="33" lengthAdjust="spacingAndGlyphs">+</text>
<text x="667.9" y="-42.4" font-family="'Liberation Serif', 'Times New Roman', serif" font-size="45" fill="#000" font-style="italic" textLength="20" lengthAdjust="spacingAndGlyphs">v</text>
<text x="689.9" y="-52.8" font-family="'Liberation Serif', 'Times New Roman', serif" font-size="29" fill="#000" textLength="12.4" lengthAdjust="spacingAndGlyphs">2</text>
<text x="689.6" y="-30.1" font-family="'Liberation Serif', 'Times New Roman', serif" font-size="27" fill="#000" font-style="italic" textLength="12.4" lengthAdjust="spacingAndGlyphs">y</text>
<text x="720.6" y="-42.4" font-family="'Liberation Serif', 'Times New Roman', serif" font-size="42" fill="#000" textLength="33.5" lengthAdjust="spacingAndGlyphs">at</text>
<text x="771.6" y="-42.4" font-family="'Liberation Serif', 'Times New Roman', serif" font-size="45" fill="#000" font-style="italic" textLength="13" lengthAdjust="spacingAndGlyphs">t</text>
<text x="785.9" y="-33.8" font-family="'Liberation Serif', 'Times New Roman', serif" font-size="29" fill="#000" textLength="13" lengthAdjust="spacingAndGlyphs">3</text>
</g>
</svg>
</body></html>
